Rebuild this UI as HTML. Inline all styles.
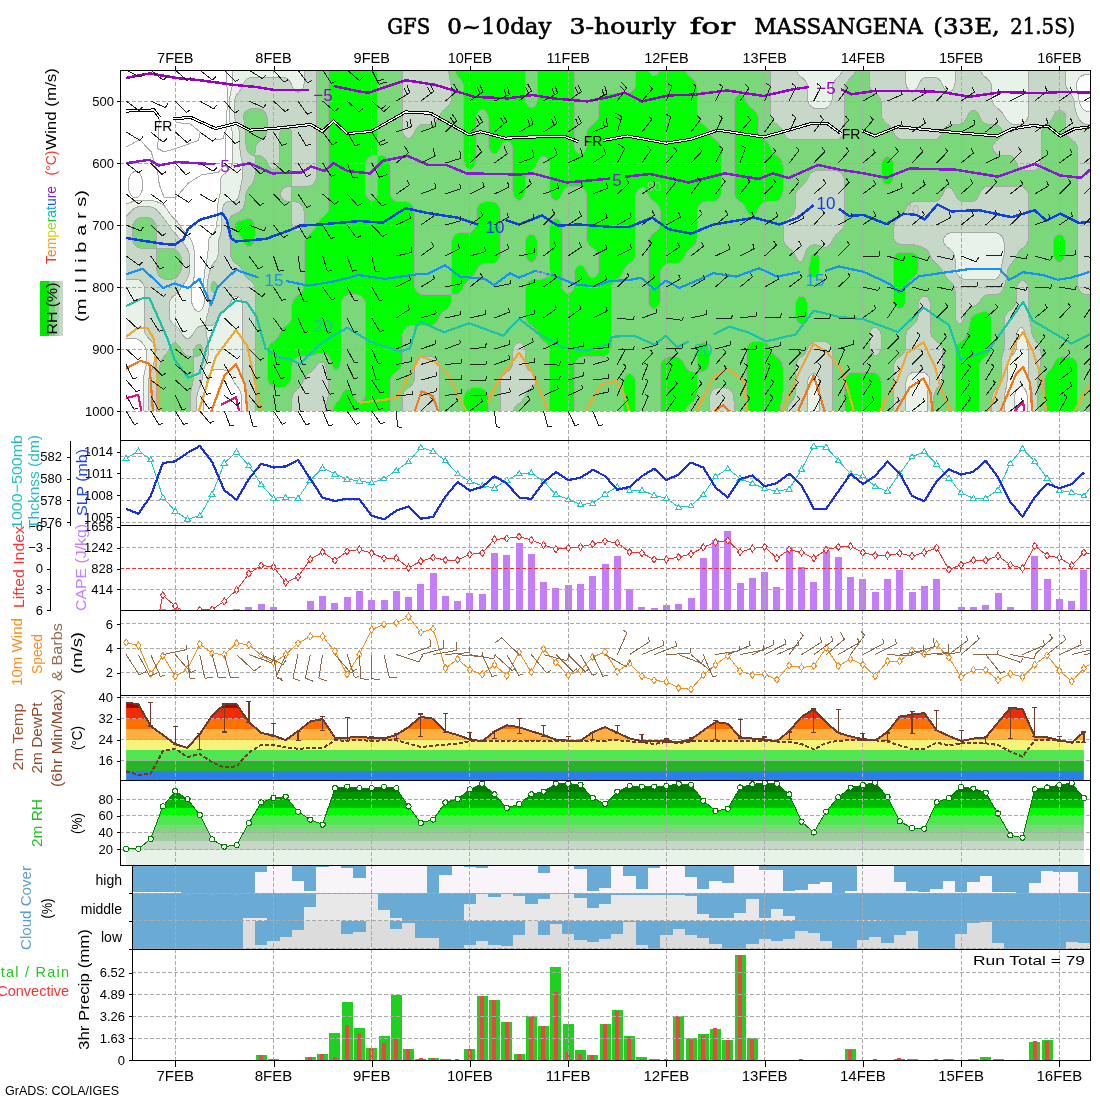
<!DOCTYPE html><html><head><meta charset="utf-8"><title>GFS meteogram MASSANGENA</title>
<style>html,body{margin:0;padding:0;background:#fff;width:1100px;height:1100px;overflow:hidden}svg{display:block}text{font-family:'Liberation Sans',Arial,sans-serif}</style></head><body>
<svg width="1100" height="1100" viewBox="0 0 1100 1100" shape-rendering="crispEdges">
<rect x="0" y="0" width="1100" height="1100" fill="#fff"/>
<defs>
<clipPath id="cp1"><rect x="120" y="70" width="970" height="370"/></clipPath>
<clipPath id="cp1f"><rect x="120" y="70" width="970" height="341"/></clipPath>
<clipPath id="cp2"><rect x="120" y="440" width="970" height="85"/></clipPath>
<clipPath id="cp3"><rect x="120" y="525" width="970" height="85"/></clipPath>
<clipPath id="cp4"><rect x="120" y="610" width="970" height="85"/></clipPath>
<clipPath id="cp5"><rect x="120" y="695" width="970" height="85"/></clipPath>
<clipPath id="cp6"><rect x="120" y="780" width="970" height="85"/></clipPath>
<clipPath id="cp7"><rect x="132" y="865" width="958" height="84"/></clipPath>
<clipPath id="cp8"><rect x="132" y="949" width="958" height="111"/></clipPath>
</defs>
<g clip-path="url(#cp1f)">
<path d="M126.1 205L126.1 207L126.1 209L126.1 211L126.1 213L126.1 215L126.1 217L126.1 219L126.1 221L126.1 223L126.1 225L126.1 227L126.1 229L126.1 231L126.1 233L126.1 235L126.1 237L126.1 239L126.1 241L126.1 243L126.1 245L126.1 247L126.1 249L126.1 251L126.1 253L126.1 255L126.1 257L126.1 259L126.1 261L126.1 263L126.1 265L126.1 267L126.1 269L126.1 271L126.1 273L126.1 275L126.1 277L126.1 279L126.1 281L126.1 283L126.1 285L126.1 287L126.1 289L126.1 291L126.1 293L126.1 295L126.1 297L126.1 299L126.1 301L126.1 303L126.1 305L126.1 307L126.1 309L126.1 311L126.1 313L126.1 315L126.1 317L126.1 319L126.1 321L126.1 323L126.1 325L126.1 327L126.1 329L126.1 331L126.1 333L126.1 335L126.1 337L126.1 338.7L128.1 338.7L130.1 338.7L132.1 338.7L134.1 338.7L136.1 338.8L137 339L138.1 339.3L140.1 340.7L140.4 341L142.1 342.8L142.3 343L143.9 345L144.1 345.3L145.2 347L146.1 349L146.1 349L146.5 351L146.6 353L146.6 355L146.6 357L146.6 359L146.5 361L146.5 363L146.2 365L146.1 365.4L145.7 367L145.2 369L144.8 371L144.4 373L144.1 374.5L144 375L143.7 377L143.5 379L143.3 381L143.3 383L143.3 385L143.3 387L143.3 389L143.3 391L143.3 393L143.3 395L143.3 397L143.3 399L143.3 401L143.3 403L143.3 405L143.3 407L143.3 409L143.3 411L144.1 411L146.1 411L148.1 411L150.1 411L152.1 411L154.1 411L156.1 411L158.1 411L160.1 411L162.1 411L164.1 411L166.1 411L168.1 411L170.1 411L172.1 411L174.1 411L176.1 411L178.1 411L180.1 411L182.1 411L184.1 411L186.1 411L188.1 411L190.1 411L192.1 411L194.1 411L196.1 411L198.1 411L200.1 411L202.1 411L203.9 411L203.9 409L203.9 407L203.9 405L203.9 403L203.9 401L203.9 399L204 397L204.1 396.1L204.2 395L204.7 393L205.2 391L205.7 389L206.1 387L206.1 386.8L206.4 385L206.7 383L207.1 381L207.5 379L208.1 377.1L208.1 377L209 375L210 373L210.1 372.9L211.7 371L212.1 370.6L214.1 369.8L216.1 369.7L218.1 369.7L220.1 369.7L222.1 369.7L224.1 370L226.1 370.6L226.7 371L228.1 372L229.1 373L230.1 374.2L230.6 375L231.6 377L232.1 378.3L232.4 379L233.3 381L234.1 382.4L234.5 383L236.1 384.9L236.2 385L237.7 387L238.1 387.6L238.9 389L239.9 391L240.1 391.4L240.7 393L241.2 395L241.4 397L241.5 399L241.5 401L241.5 403L241.5 405L241.5 407L241.5 409L241.5 411L242.1 411L244.1 411L246.1 411L248.1 411L250.1 411L252.1 411L254.1 411L256.1 411L258.1 411L260.1 411L262.1 411L264.1 411L266.1 411L268.1 411L270.1 411L272.1 411L274.1 411L276.1 411L278.1 411L280.1 411L282.1 411L284.1 411L286.1 411L288.1 411L290.1 411L292.1 411L294.1 411L296.1 411L298.1 411L300.1 411L302.1 411L304.1 411L306.1 411L308.1 411L310.1 411L312.1 411L314.1 411L316.1 411L318.1 411L320.1 411L322.1 411L324.1 411L326.1 411L328.1 411L330.1 411L332.1 411L334.1 411L336.1 411L338.1 411L340.1 411L342.1 411L344.1 411L346.1 411L348.1 411L350.1 411L352.1 411L354.1 411L356.1 411L358.1 411L360.1 411L362.1 411L364.1 411L366.1 411L368.1 411L370.1 411L372.1 411L374.1 411L376.1 411L378.1 411L380.1 411L382.1 411L384.1 411L386.1 411L388.1 411L390.1 411L392.1 411L394.1 411L396.1 411L398.1 411L400.1 411L402.1 411L404.1 411L406.1 411L408.1 411L410.1 411L412.1 411L414.1 411L416.1 411L418.1 411L420.1 411L422.1 411L424.1 411L426.1 411L428.1 411L430.1 411L432.1 411L434.1 411L436.1 411L438.1 411L440.1 411L442.1 411L444.1 411L446.1 411L448.1 411L450.1 411L452.1 411L454.1 411L456.1 411L458.1 411L460.1 411L462.1 411L464.1 411L466.1 411L468.1 411L470.1 411L472.1 411L474.1 411L476.1 411L478.1 411L480.1 411L482.1 411L484.1 411L486.1 411L488.1 411L490.1 411L492.1 411L494.1 411L496.1 411L498.1 411L500.1 411L502.1 411L504.1 411L506.1 411L508.1 411L510.1 411L512.1 411L514.1 411L516.1 411L518.1 411L520.1 411L522.1 411L524.1 411L526.1 411L528.1 411L530.1 411L532.1 411L534.1 411L536.1 411L538.1 411L540.1 411L542.1 411L544.1 411L546.1 411L548.1 411L550.1 411L552.1 411L554.1 411L556.1 411L558.1 411L560.1 411L562.1 411L564.1 411L566.1 411L568.1 411L570.1 411L572.1 411L574.1 411L576.1 411L578.1 411L580.1 411L582.1 411L584.1 411L586.1 411L588.1 411L590.1 411L592.1 411L594.1 411L596.1 411L598.1 411L600.1 411L602.1 411L604.1 411L606.1 411L608.1 411L610.1 411L612.1 411L614.1 411L616.1 411L618.1 411L620.1 411L622.1 411L624.1 411L626.1 411L628.1 411L630.1 411L632.1 411L634.1 411L636.1 411L638.1 411L640.1 411L642.1 411L644.1 411L646.1 411L648.1 411L650.1 411L652.1 411L654.1 411L656.1 411L658.1 411L660.1 411L662.1 411L664.1 411L666.1 411L668.1 411L670.1 411L672.1 411L674.1 411L676.1 411L678.1 411L680.1 411L682.1 411L684.1 411L686.1 411L688.1 411L690.1 411L692.1 411L694.1 411L696.1 411L698.1 411L700.1 411L702.1 411L704.1 411L706.1 411L708.1 411L710.1 411L712.1 411L714.1 411L716.1 411L718.1 411L720.1 411L722.1 411L724.1 411L726.1 411L728.1 411L730.1 411L732.1 411L734.1 411L736.1 411L738.1 411L740.1 411L742.1 411L744.1 411L746.1 411L748.1 411L750.1 411L752.1 411L754.1 411L756.1 411L758.1 411L760.1 411L762.1 411L764.1 411L766.1 411L768.1 411L770.1 411L772.1 411L774.1 411L776.1 411L778.1 411L780.1 411L782.1 411L784.1 411L786.1 411L788.1 411L790.1 411L792.1 411L794.1 411L796.1 411L798.1 411L800.1 411L802.1 411L804.1 411L806.1 411L808.1 411L810.1 411L812.1 411L814.1 411L816.1 411L818.1 411L820.1 411L822.1 411L824.1 411L826.1 411L828.1 411L830.1 411L832.1 411L834.1 411L836.1 411L838.1 411L840.1 411L842.1 411L844.1 411L846.1 411L848.1 411L850.1 411L852.1 411L854.1 411L856.1 411L858.1 411L860.1 411L862.1 411L864.1 411L866.1 411L868.1 411L870.1 411L872.1 411L874.1 411L876.1 411L878.1 411L880.1 411L882.1 411L884.1 411L886.1 411L888.1 411L890.1 411L892.1 411L894.1 411L896.1 411L898.1 411L900.1 411L902.1 411L904.1 411L906.1 411L908.1 411L910.1 411L912.1 411L914.1 411L916.1 411L918.1 411L920.1 411L922.1 411L924.1 411L926.1 411L928.1 411L930.1 411L932.1 411L934.1 411L936.1 411L938.1 411L940.1 411L942.1 411L944.1 411L946.1 411L948.1 411L950.1 411L952.1 411L954.1 411L956.1 411L958.1 411L960.1 411L962.1 411L964.1 411L966.1 411L968.1 411L970.1 411L972.1 411L974.1 411L976.1 411L978.1 411L980.1 411L982.1 411L984.1 411L986.1 411L988.1 411L990.1 411L992.1 411L994.1 411L996.1 411L998.1 411L1000.1 411L1002.1 411L1004.1 411L1006.1 411L1008.1 411L1010.1 411L1012.1 411L1014.1 411L1014.3 411L1014.3 409L1014.3 407L1014.3 405L1014.3 403L1014.3 401L1014.4 399L1014.4 397L1014.7 395L1015.2 393L1016 391L1016.1 390.9L1017.3 389L1018.1 388.1L1019.6 387L1020.1 386.7L1022.1 386.5L1022.7 387L1024.1 388.1L1024.7 389L1025.8 391L1026.1 391.7L1026.6 393L1027.1 395L1027.3 397L1027.4 399L1027.4 401L1027.4 403L1027.4 405L1027.4 407L1027.4 409L1027.4 411L1028.1 411L1030.1 411L1032.1 411L1034.1 411L1036.1 411L1038.1 411L1040.1 411L1042.1 411L1044.1 411L1046.1 411L1048.1 411L1050.1 411L1052.1 411L1054.1 411L1056.1 411L1058.1 411L1060.1 411L1062.1 411L1064.1 411L1066.1 411L1068.1 411L1070.1 411L1072.1 411L1074.1 411L1076.1 411L1078.1 411L1080.1 411L1082.1 411L1084.1 411L1086.1 411L1088.1 411L1090.1 411L1092.1 411L1094.1 411L1094.1 409L1094.1 407L1094.1 405L1094.1 403L1094.1 401L1094.1 399L1094.1 397L1094.1 395L1094.1 393L1094.1 391L1094.1 389L1094.1 387L1094.1 385L1094.1 383L1094.1 381L1094.1 379L1094.1 377L1094.1 375L1094.1 373L1094.1 371L1094.1 369L1094.1 367L1094.1 365L1094.1 363L1094.1 361L1094.1 359L1094.1 357L1094.1 355L1094.1 353L1094.1 351L1094.1 349L1094.1 347L1094.1 345L1094.1 343L1094.1 341L1094.1 339L1094.1 337L1094.1 335L1094.1 333L1094.1 331L1094.1 329L1094.1 327L1094.1 325L1094.1 323L1094.1 321L1094.1 319L1094.1 317L1094.1 315L1094.1 313L1094.1 311L1094.1 309L1094.1 307L1094.1 305L1094.1 303L1094.1 301L1094.1 299L1094.1 297L1094.1 295L1094.1 293L1094.1 291L1094.1 289L1094.1 287L1094.1 285L1094.1 283L1094.1 281L1094.1 279L1094.1 277L1094.1 275L1094.1 273L1094.1 271L1094.1 269L1094.1 267L1094.1 265L1094.1 263L1094.1 261L1094.1 259L1094.1 257L1094.1 255L1094.1 253L1094.1 251L1094.1 249L1094.1 247L1094.1 245L1094.1 243L1094.1 241L1094.1 239L1094.1 237L1094.1 235L1094.1 233L1094.1 231L1094.1 229L1094.1 227L1094.1 225L1094.1 223L1094.1 221L1094.1 219L1094.1 217L1094.1 215L1094.1 213L1094.1 211L1094.1 209L1094.1 207L1094.1 205L1094.1 203L1094.1 201L1094.1 199L1094.1 197L1094.1 195L1094.1 193L1094.1 191L1094.1 189L1094.1 187L1094.1 185L1094.1 183L1094.1 181L1094.1 179L1094.1 177L1094.1 175L1094.1 173L1094.1 171L1094.1 169L1094.1 167L1094.1 165L1094.1 163L1094.1 161L1094.1 159L1094.1 157L1094.1 155L1094.1 153L1094.1 151L1094.1 149L1094.1 147L1094.1 145L1094.1 143L1094.1 141L1094.1 139L1094.1 137L1094.1 135L1094.1 133L1094.1 131L1094.1 129L1094.1 127L1094.1 125L1094.1 123L1094.1 121L1094.1 119L1094.1 117L1094.1 115L1094.1 113L1094.1 111.3L1092.1 111.3L1090.1 111.3L1088.1 111.3L1086.1 111.2L1085.6 111L1084.1 110.4L1082.7 109L1082.1 108.3L1081.4 107L1080.4 105L1080.1 104.2L1079.7 103L1079.2 101L1078.8 99L1078.5 97L1078.1 95L1078.1 94.8L1077.7 93L1077.3 91L1076.8 89L1076.4 87L1076.2 85L1076.6 83L1077.3 81L1078.1 79.5L1078.4 79L1080.1 77L1080.1 77L1082.1 75.6L1083.6 75L1084.1 74.8L1086.1 74.6L1088.1 74.5L1090.1 74.5L1092.1 74.5L1094.1 74.5L1094.1 73L1094.1 71L1094.1 69L1092.1 69L1090.1 69L1088.1 69L1086.1 69L1084.1 69L1082.1 69L1080.1 69L1078.1 69L1076.1 69L1074.1 69L1072.1 69L1070.1 69L1068.1 69L1066.1 69L1064.1 69L1062.1 69L1060.1 69L1058.1 69L1056.1 69L1054.1 69L1052.1 69L1050.1 69L1048.1 69L1046.1 69L1044.1 69L1042.1 69L1040.1 69L1038.1 69L1036.1 69L1034.1 69L1032.1 69L1030.1 69L1028.1 69L1026.1 69L1024.1 69L1022.1 69L1020.1 69L1018.1 69L1016.1 69L1014.1 69L1012.1 69L1010.1 69L1008.1 69L1006.1 69L1004.1 69L1002.1 69L1000.1 69L998.1 69L996.1 69L994.1 69L992.1 69L990.1 69L988.1 69L986.1 69L984.1 69L982.1 69L980.1 69L978.1 69L976.1 69L974.1 69L972.1 69L970.1 69L968.1 69L966.1 69L964.1 69L962.1 69L960.1 69L958.1 69L956.1 69L954.1 69L952.1 69L950.1 69L948.1 69L946.1 69L944.1 69L942.1 69L940.1 69L938.1 69L936.1 69L934.1 69L932.1 69L930.1 69L928.1 69L926.1 69L924.1 69L922.1 69L920.1 69L918.1 69L916.1 69L914.1 69L912.1 69L910.1 69L908.1 69L906.1 69L904.1 69L902.1 69L900.1 69L898.1 69L896.1 69L894.1 69L892.1 69L890.1 69L888.1 69L886.1 69L884.1 69L882.1 69L880.1 69L878.1 69L876.1 69L874.1 69L872.1 69L870.1 69L868.1 69L866.1 69L864.1 69L862.1 69L860.1 69L858.1 69L856.1 69L854.1 69L852.1 69L850.1 69L848.1 69L846.1 69L844.1 69L842.1 69L840.1 69L838.1 69L836.1 69L834.1 69L832.1 69L830.1 69L828.1 69L826.1 69L824.1 69L822.1 69L820.1 69L818.1 69L816.1 69L814.1 69L812.1 69L810.1 69L808.1 69L806.1 69L804.1 69L802.1 69L800.1 69L798.1 69L796.1 69L794.1 69L792.1 69L790.1 69L788.1 69L786.1 69L784.1 69L782.1 69L780.1 69L778.1 69L776.1 69L774.1 69L772.1 69L770.1 69L768.1 69L766.1 69L764.1 69L762.1 69L760.1 69L758.1 69L756.1 69L754.1 69L752.1 69L750.1 69L748.1 69L746.1 69L744.1 69L742.1 69L740.1 69L738.1 69L736.1 69L734.1 69L732.1 69L730.1 69L728.1 69L726.1 69L724.1 69L722.1 69L720.1 69L718.1 69L716.1 69L714.1 69L712.1 69L710.1 69L708.1 69L706.1 69L704.1 69L702.1 69L700.1 69L698.1 69L696.1 69L694.1 69L692.1 69L690.1 69L688.1 69L686.1 69L684.1 69L682.1 69L680.1 69L678.1 69L676.1 69L674.1 69L672.1 69L670.1 69L668.1 69L666.1 69L664.1 69L662.1 69L660.1 69L658.1 69L656.1 69L654.1 69L652.1 69L650.1 69L648.1 69L646.1 69L644.1 69L642.1 69L640.1 69L638.1 69L636.1 69L634.1 69L632.1 69L630.1 69L628.1 69L626.1 69L624.1 69L622.1 69L620.1 69L618.1 69L616.1 69L614.1 69L612.1 69L610.1 69L608.1 69L606.1 69L604.1 69L602.1 69L600.1 69L598.1 69L596.1 69L594.1 69L592.1 69L590.1 69L588.1 69L586.1 69L584.1 69L582.1 69L580.1 69L578.1 69L576.1 69L574.1 69L572.1 69L570.1 69L568.1 69L566.1 69L564.1 69L562.1 69L560.1 69L558.1 69L556.1 69L554.1 69L552.1 69L550.1 69L548.1 69L546.1 69L544.1 69L542.1 69L540.1 69L538.1 69L536.1 69L534.1 69L532.1 69L530.1 69L528.1 69L526.1 69L524.1 69L522.1 69L520.1 69L518.1 69L516.1 69L514.1 69L512.1 69L510.1 69L508.1 69L506.1 69L504.1 69L502.1 69L500.1 69L498.1 69L496.1 69L494.1 69L492.1 69L490.1 69L488.1 69L486.1 69L484.1 69L482.1 69L480.1 69L478.1 69L476.1 69L474.1 69L472.1 69L470.1 69L468.1 69L466.1 69L464.1 69L462.1 69L460.1 69L458.1 69L456.1 69L454.1 69L452.1 69L450.1 69L448.1 69L446.1 69L444.1 69L442.1 69L440.1 69L438.1 69L436.1 69L434.1 69L432.1 69L430.1 69L428.1 69L426.1 69L424.1 69L422.1 69L420.1 69L418.1 69L416.1 69L414.1 69L412.1 69L410.1 69L408.1 69L406.1 69L404.1 69L402.1 69L400.1 69L398.1 69L396.1 69L394.1 69L392.1 69L390.1 69L388.1 69L386.1 69L384.1 69L382.1 69L380.1 69L378.1 69L376.1 69L374.1 69L372.1 69L370.1 69L368.1 69L366.1 69L364.1 69L362.1 69L360.1 69L358.1 69L356.1 69L354.1 69L352.1 69L350.1 69L348.1 69L346.1 69L344.1 69L342.1 69L340.1 69L338.1 69L336.1 69L334.1 69L332.1 69L330.1 69L328.1 69L326.1 69L324.1 69L322.1 69L320.1 69L318.1 69L316.1 69L314.1 69L312.1 69L310.1 69L308.1 69L306.1 69L304.1 69L302.1 69L300.1 69L298.1 69L296.1 69L294.1 69L292.1 69L290.1 69L288.1 69L286.1 69L284.1 69L282.1 69L280.1 69L278.1 69L276.1 69L274.1 69L272.1 69L270.1 69L268.1 69L266.1 69L264.1 69L262.1 69L260.1 69L258.1 69L256.1 69L254.1 69L252.1 69L250.1 69L248.1 69L246.1 69L244.1 69L242.1 69L240.1 69L238.1 69L236.1 69L234.1 69L232.6 69L232.6 71L232.5 73L232.5 75L232.5 77L232.5 79L232.5 81L232.5 83L232.3 85L232.1 86.2L231.9 87L231.4 89L231 91L230.5 93L230.2 95L230.1 95.3L229.8 97L229.5 99L229.3 101L229.3 103L229.2 105L229.2 107L229.2 109L229.2 111L229.2 113L229.3 115L229.4 117L229.6 119L229.9 121L230.1 122.2L230.2 123L230.6 125L231.1 127L231.6 129L232.1 131L232.1 131.3L232.4 133L232.5 135L232.5 137L232.5 139L232.5 141L232.5 143L232.5 145L232.5 147L232.5 149L232.5 151L232.5 153L232.5 155L232.5 157L232.5 159L232.5 161L232.3 163L232.1 164.1L231.9 165L231.1 167L230.1 168.8L229.9 169L228.2 171L228.1 171.1L226.1 172.5L225.4 173L224.1 173.9L222.9 175L222.1 175.9L221.4 177L220.6 179L220.3 181L220.3 183L220.3 185L220.3 187L220.3 189L220.2 191L220.1 193L220.1 193L219.8 195L219.3 197L218.8 199L218.4 201L218.1 202.3L218 203L217.6 205L217.3 207L217.1 209L217 211L217 213L217 215L217 217L217 219L217 221L216.9 223L216.8 225L216.3 227L216.1 227.6L215.6 229L214.7 231L214.1 232.1L213.5 233L212.1 234.9L212 235L210.4 237L210.1 237.4L209 239L208.3 241L208.1 242.4L208 243L208 245L208 247L208 249L208 251L207.9 253L207.8 255L207.5 257L207 259L206.5 261L206.1 262.9L206.1 263L205.7 265L205.3 267L205 269L204.7 271L204.5 273L204.3 275L204.1 276.7L204.1 277L203.9 279L203.7 281L203.5 283L203.4 285L203.3 287L203.4 289L203.5 291L203.7 293L203.9 295L204.1 297L204.1 297.3L204.3 299L204.4 301L204.3 303L204.1 303.9L203.8 305L203 307L202.1 308.9L202 309L200.2 311L200.1 311.2L198.1 311.5L196.9 311L196.1 310.5L194.6 309L194.1 308.4L193.3 307L192.4 305L192.1 303.9L191.9 303L191.6 301L191.6 299L191.6 297L191.6 295L191.6 293L191.6 291L191.6 289L191.8 287L192.1 285.8L192.3 285L192.8 283L193.3 281L193.7 279L194.1 277L194.1 276.8L194.4 275L194.7 273L194.8 271L194.9 269L194.9 267L194.9 265L194.9 263L194.9 261L194.9 259L194.8 257L194.7 255L194.5 253L194.1 251L194.1 250.7L193.8 249L193.4 247L192.9 245L192.4 243L192.1 242.2L191.7 241L190.6 239L190.1 238.2L189.2 237L188.1 235.8L187.3 235L186.1 233.8L185.3 233L184.1 231.6L183.6 231L182.1 229.1L182 229L180.6 227L180.1 226.2L179.4 225L178.1 223L178.1 223L176.5 221L176.1 220.6L174.5 219L174.1 218.6L172.6 217L172.1 216.5L170.9 215L170.1 214L169.4 213L168.1 211.1L168 211L166.8 209L166.1 207.9L165.4 207L164.1 205.5L163.5 205L162.1 204L160.2 203L160.1 203L158.1 202.2L156.1 201.5L154.1 201L154.1 201L152.1 200.6L150.1 200.3L148.1 200.2L146.1 200.2L144.1 200.2L142.1 200.2L140.1 200.2L138.1 200.4L136.1 200.7L134.9 201L134.1 201.2L132.1 201.8L130.1 202.5L128.7 203L128.1 203.3L126.1 203.9Z" fill="#e8f2e8" fill-rule="evenodd"/>
<path d="M127.6 215L126.1 216.2L126.1 217L126.1 219L126.1 221L126.1 223L126.1 225L126.1 227L126.1 229L126.1 231L126.1 233L126.1 235L126.1 237L126.1 239L126.1 241L126.1 243L126.1 245L126.1 247L126.1 249L126.1 251L126.1 253L126.1 255L126.1 257L126.1 259L126.1 261L126.1 263L126.1 265L126.1 267L126.1 269L126.1 271L126.1 273L126.1 275L126.1 277L126.1 279L126.1 279.2L128.1 279.2L130.1 279.2L132.1 279.3L134.1 279.3L136.1 279.3L138.1 279.7L140.1 280.7L140.5 281L142.1 282.7L142.4 283L143.5 285L144.1 286.6L144.2 287L144.5 289L144.5 291L144.5 293L144.5 295L144.5 297L144.5 299L144.5 301L144.5 303L144.5 305L144.5 307L144.5 309L144.5 311L144.5 313L144.5 315L144.5 317L144.5 319L144.5 321L144.5 323L144.5 325L144.5 327L144.5 329L144.6 331L145.1 333L146.1 334.8L146.2 335L147.7 337L148.1 337.5L149.4 339L150.1 339.8L151.3 341L152.1 342L153.1 343L154.1 344.2L154.7 345L155.8 347L156.1 348.4L156.2 349L156.1 350.1L156 351L155.5 353L155.1 355L154.7 357L154.4 359L154.1 361L154.1 361L153.8 363L153.4 365L152.9 367L152.2 369L152.1 369.2L151.4 371L150.6 373L150.1 374.3L149.9 375L149.2 377L148.7 379L148.4 381L148.3 383L148.3 385L148.3 387L148.3 389L148.3 391L148.3 393L148.3 395L148.3 397L148.3 399L148.3 401L148.3 403L148.3 405L148.3 407L148.3 409L148.3 411L150.1 411L152.1 411L154.1 411L156.1 411L158.1 411L160.1 411L162.1 411L164.1 411L166.1 411L168.1 411L170.1 411L172.1 411L174.1 411L176.1 411L178.1 411L180.1 411L182.1 411L184.1 411L186.1 411L188.1 411L190.1 411L192.1 411L194.1 411L196.1 411L196.7 411L196.7 409L196.7 407L196.7 405L196.7 403L196.7 401L196.7 399L196.8 397L197.1 395L197.6 393L198.1 391.5L198.3 391L199 389L199.8 387L200.1 386.4L200.6 385L201.2 383L201.8 381L202.1 379.6L202.2 379L202.5 377L202.8 375L203.1 373L203.5 371L204.1 369L204.1 368.8L204.7 367L205.6 365L206.1 363.7L206.4 363L207 361L207.5 359L207.9 357L208.1 356L208.3 355L208.6 353L208.8 351L208.9 349L208.8 347L208.6 345L208.3 343L208.1 342L207.9 341L207.5 339L207.1 337L206.6 335L206.2 333L206.1 332.1L206 331L205.9 329L205.9 327L206.1 325.7L208.1 325.7L210.1 325.6L212.1 325.2L212.4 325L214.1 324L215.2 323L216.1 321.9L216.7 321L217.7 319L218.1 318.2L218.7 317L219.7 315L220.1 314.4L221.2 313L222.1 312L223.3 311L224.1 310.4L226 309L226.1 308.9L227.9 307L228.1 306.8L229.3 305L230.1 303.3L230.3 303L231.2 301L232.1 299.3L232.3 299L234 297L234.1 296.9L236.1 296L238.1 296.3L239 297L240.1 297.9L240.9 299L242 301L242.1 301.5L242.5 303L242.7 305L242.8 307L242.8 309L242.8 311L242.8 313L242.8 315L242.8 317L242.8 319L242.8 321L242.8 323L242.8 325L242.8 327L242.8 329L242.8 331L242.8 333L242.8 335L242.8 337L242.8 339L242.8 341L242.8 343L242.8 345L242.8 347L242.8 349L242.8 351L242.8 353L242.8 355L242.8 357L242.8 359L242.8 361L242.8 363L242.8 365L242.8 367L242.8 369L242.8 371L242.8 373L242.8 375L242.8 377L243 379L243.5 381L244.1 382.8L244.2 383L244.8 385L245.3 387L245.6 389L246 391L246.1 392L246.2 393L246.4 395L246.5 397L246.5 399L246.5 401L246.5 403L246.5 405L246.5 407L246.5 409L246.5 411L248.1 411L250.1 411L252.1 411L254.1 411L256.1 411L258.1 411L260.1 411L262.1 411L264.1 411L266.1 411L268.1 411L270.1 411L272.1 411L274.1 411L276.1 411L278.1 411L280.1 411L282.1 411L284.1 411L286.1 411L288.1 411L290.1 411L292.1 411L294.1 411L296.1 411L298.1 411L300.1 411L302.1 411L304.1 411L306.1 411L308.1 411L310.1 411L312.1 411L314.1 411L316.1 411L318.1 411L320.1 411L322.1 411L324.1 411L326.1 411L328.1 411L330.1 411L332.1 411L334.1 411L336.1 411L338.1 411L340.1 411L342.1 411L344.1 411L346.1 411L348.1 411L350.1 411L352.1 411L354.1 411L356.1 411L358.1 411L360.1 411L362.1 411L364.1 411L366.1 411L368.1 411L370.1 411L372.1 411L374.1 411L376.1 411L378.1 411L380.1 411L382.1 411L384.1 411L386.1 411L388.1 411L390.1 411L392.1 411L394.1 411L396.1 411L398.1 411L400.1 411L402.1 411L404.1 411L406.1 411L408.1 411L410.1 411L412.1 411L414.1 411L416.1 411L418.1 411L420.1 411L422.1 411L424.1 411L426.1 411L428.1 411L430.1 411L432.1 411L434.1 411L436.1 411L438.1 411L440.1 411L442.1 411L444.1 411L446.1 411L448.1 411L450.1 411L452.1 411L454.1 411L456.1 411L458.1 411L460.1 411L462.1 411L464.1 411L466.1 411L468.1 411L470.1 411L472.1 411L474.1 411L476.1 411L478.1 411L480.1 411L482.1 411L484.1 411L486.1 411L488.1 411L490.1 411L492.1 411L494.1 411L496.1 411L498.1 411L500.1 411L502.1 411L504.1 411L506.1 411L508.1 411L510.1 411L512.1 411L514.1 411L516.1 411L518.1 411L520.1 411L522.1 411L524.1 411L526.1 411L528.1 411L530.1 411L532.1 411L534.1 411L536.1 411L538.1 411L540.1 411L542.1 411L544.1 411L546.1 411L548.1 411L550.1 411L552.1 411L554.1 411L556.1 411L558.1 411L560.1 411L562.1 411L564.1 411L566.1 411L568.1 411L570.1 411L572.1 411L574.1 411L576.1 411L578.1 411L580.1 411L582.1 411L584.1 411L586.1 411L588.1 411L590.1 411L592.1 411L594.1 411L596.1 411L598.1 411L600.1 411L602.1 411L604.1 411L606.1 411L608.1 411L610.1 411L612.1 411L614.1 411L616.1 411L618.1 411L620.1 411L622.1 411L624.1 411L626.1 411L628.1 411L630.1 411L632.1 411L634.1 411L636.1 411L638.1 411L640.1 411L642.1 411L644.1 411L646.1 411L648.1 411L650.1 411L652.1 411L654.1 411L656.1 411L658.1 411L660.1 411L662.1 411L664.1 411L666.1 411L668.1 411L670.1 411L672.1 411L674.1 411L676.1 411L678.1 411L680.1 411L682.1 411L684.1 411L686.1 411L688.1 411L690.1 411L692.1 411L694.1 411L696.1 411L698.1 411L700.1 411L702.1 411L704.1 411L706.1 411L708.1 411L710.1 411L712.1 411L714.1 411L716.1 411L718.1 411L720.1 411L722.1 411L724.1 411L726.1 411L728.1 411L730.1 411L732.1 411L734.1 411L736.1 411L738.1 411L740.1 411L742.1 411L744.1 411L746.1 411L748.1 411L750.1 411L752.1 411L754.1 411L756.1 411L758.1 411L760.1 411L762.1 411L764.1 411L766.1 411L768.1 411L770.1 411L772.1 411L774.1 411L776.1 411L778.1 411L780.1 411L782.1 411L784.1 411L786.1 411L788.1 411L790.1 411L792.1 411L794.1 411L796.1 411L798.1 411L800.1 411L802.1 411L804.1 411L806.1 411L807.6 411L807.6 409L807.6 407L807.6 405L807.6 403L807.6 401L807.6 399L807.6 397L807.6 395L807.6 393L807.6 391L807.6 389L807.6 387L807.6 385L807.7 383L807.8 381L808.1 379.7L808.3 379L809.2 377L810.1 375.7L810.8 375L812.1 373.9L814.1 373.4L816.1 374.3L816.9 375L818.1 376.5L818.4 377L819.3 379L819.7 381L819.9 383L819.9 385L819.9 387L819.9 389L819.9 391L819.9 393L819.9 395L819.9 397L819.9 399L819.9 401L819.9 403L819.9 405L819.9 407L819.9 409L819.9 411L820.1 411L822.1 411L824.1 411L826.1 411L828.1 411L830.1 411L832.1 411L834.1 411L836.1 411L838.1 411L840.1 411L842.1 411L844.1 411L846.1 411L848.1 411L850.1 411L852.1 411L854.1 411L856.1 411L858.1 411L860.1 411L862.1 411L864.1 411L866.1 411L868.1 411L870.1 411L872.1 411L874.1 411L876.1 411L878.1 411L880.1 411L882.1 411L884.1 411L886.1 411L888.1 411L890.1 411L892.1 411L894.1 411L896.1 411L898.1 411L900.1 411L902.1 411L904.1 411L905.9 411L905.9 409L905.9 407L905.9 405L905.9 403L905.9 401L905.9 399L905.9 397L905.9 395L905.9 393L905.9 391L905.9 389L905.9 387L905.9 385L905.9 383L906.1 381L906.1 380.8L906.5 379L907.4 377L908.1 375.9L908.9 375L910.1 373.8L911.5 373L912.1 372.7L914.1 372.3L916.1 372.3L918.1 372.3L920.1 372.3L922.1 372.3L924.1 372.7L924.7 373L926.1 373.7L927.4 375L928.1 375.8L928.9 377L929.6 379L929.7 381L929.4 383L928.9 385L928.5 387L928.2 389L928.1 389.4L927.9 391L927.6 393L927.4 395L927.3 397L927.3 399L927.3 401L927.3 403L927.3 405L927.3 407L927.3 409L927.3 411L928.1 411L930.1 411L932.1 411L934.1 411L936.1 411L938.1 411L940.1 411L942.1 411L944.1 411L946.1 411L948.1 411L950.1 411L952.1 411L954.1 411L956.1 411L958.1 411L960.1 411L962.1 411L964.1 411L966.1 411L968.1 411L970.1 411L972.1 411L974.1 411L976.1 411L978.1 411L980.1 411L982.1 411L984.1 411L986.1 411L988.1 411L990.1 411L992.1 411L994.1 411L996.1 411L998.1 411L1000.1 411L1002.1 411L1004.1 411L1004.1 411L1004.1 409L1004.1 407L1004.1 405L1004.1 403L1004.1 401L1004.1 399L1004.2 397L1004.5 395L1005 393L1005.5 391L1005.9 389L1006.1 388.1L1006.3 387L1006.6 385L1006.9 383L1007.1 381L1007.2 379L1007.3 377L1007.3 375L1007.3 373L1007.3 371L1007.3 369L1007.3 367L1007.4 365L1007.8 363L1008.1 362.2L1008.6 361L1009.6 359L1010.1 358.1L1011 357L1012.1 355.6L1012.7 355L1014.1 353.2L1014.3 353L1015.4 351L1016.1 349L1016.1 349L1016.4 347L1016.4 345L1016.4 343L1016.4 341L1016.4 339L1016.4 337L1016.5 335L1016.9 333L1017.7 331L1018.1 330.2L1019.1 329L1020.1 328L1022.1 327.8L1023.2 329L1024.1 330.1L1024.5 331L1025.1 333L1025.6 335L1025.9 337L1026.1 338.2L1026.2 339L1026.5 341L1026.9 343L1027.4 345L1027.9 347L1028.1 347.7L1028.4 349L1028.6 351L1028.7 353L1028.7 355L1028.7 357L1028.7 359L1028.7 361L1028.7 363L1028.7 365L1028.7 367L1028.7 369L1028.7 371L1028.7 373L1028.7 375L1028.7 377L1028.9 379L1029.4 381L1030.1 383L1030.1 383.1L1030.7 385L1031.2 387L1031.5 389L1031.8 391L1032.1 393L1032.1 393L1032.3 395L1032.4 397L1032.4 399L1032.4 401L1032.4 403L1032.4 405L1032.4 407L1032.4 409L1032.4 411L1034.1 411L1036.1 411L1038.1 411L1040.1 411L1042.1 411L1044.1 411L1046.1 411L1048.1 411L1050.1 411L1052.1 411L1054.1 411L1056.1 411L1058.1 411L1060.1 411L1062.1 411L1064.1 411L1066.1 411L1068.1 411L1070.1 411L1072.1 411L1074.1 411L1076.1 411L1078.1 411L1080.1 411L1082.1 411L1084.1 411L1086.1 411L1088.1 411L1090.1 411L1092.1 411L1094.1 411L1094.1 409L1094.1 407L1094.1 405L1094.1 403L1094.1 401L1094.1 399L1094.1 397L1094.1 395L1094.1 393L1094.1 391L1094.1 389L1094.1 387L1094.1 385L1094.1 383L1094.1 381L1094.1 379L1094.1 377L1094.1 375L1094.1 373L1094.1 371L1094.1 369L1094.1 367L1094.1 365L1094.1 363L1094.1 361L1094.1 359L1094.1 357L1094.1 355L1094.1 353L1094.1 351L1094.1 349L1094.1 347L1094.1 345L1094.1 343L1094.1 341L1094.1 339L1094.1 337L1094.1 335L1094.1 333L1094.1 331L1094.1 329L1094.1 327L1094.1 325L1094.1 323L1094.1 321L1094.1 319L1094.1 317L1094.1 315L1094.1 313L1094.1 311L1094.1 309L1094.1 307L1094.1 305L1094.1 303L1094.1 301L1094.1 299L1094.1 297L1094.1 295L1094.1 293L1094.1 291L1094.1 289L1094.1 287L1094.1 285L1094.1 283L1094.1 281L1094.1 279L1094.1 277L1094.1 275L1094.1 273L1094.1 271L1094.1 269L1094.1 267L1094.1 265L1094.1 263L1094.1 261L1094.1 259L1094.1 257L1094.1 255L1094.1 253L1094.1 251L1094.1 249L1094.1 247L1094.1 245L1094.1 243L1094.1 241L1094.1 239L1094.1 237L1094.1 235L1094.1 233L1094.1 231L1094.1 229L1094.1 227L1094.1 225L1094.1 223L1094.1 221L1094.1 219L1094.1 217L1094.1 215L1094.1 213L1094.1 211L1094.1 209L1094.1 207L1094.1 205L1094.1 203L1094.1 201L1094.1 199L1094.1 197L1094.1 195L1094.1 193L1094.1 191L1094.1 189L1094.1 187L1094.1 185L1094.1 183L1094.1 181L1094.1 179L1094.1 177L1094.1 175L1094.1 173L1094.1 171L1094.1 169L1094.1 167L1094.1 165L1094.1 163L1094.1 161L1094.1 159L1094.1 157L1094.1 155L1094.1 153L1094.1 151L1094.1 149L1094.1 147L1094.1 145L1094.1 143L1094.1 141L1094.1 139L1094.1 137L1094.1 135L1094.1 133L1094.1 131L1094.1 129L1094.1 127L1094.1 125L1094.1 124.3L1092.1 124.3L1090.1 124.2L1088.1 124.2L1086.1 124.2L1084.1 123.8L1082.6 123L1082.1 122.7L1080.3 121L1080.1 120.7L1079 119L1078.1 117.5L1077.9 117L1077 115L1076.2 113L1076.1 112.6L1075.7 111L1075.2 109L1074.8 107L1074.5 105L1074.2 103L1074.1 102.3L1073.8 101L1073.3 99L1072.6 97L1072.1 95.8L1071.6 95L1070.3 93L1070.1 92.7L1068.7 91L1068.1 90.1L1067.3 89L1066.3 87L1066.1 86.3L1065.8 85L1065.6 83L1065.5 81L1065.5 79L1065.5 77L1065.5 75L1065.5 73L1065.5 71L1065.5 69L1064.1 69L1062.1 69L1060.1 69L1058.1 69L1056.1 69L1054.1 69L1052.1 69L1050.1 69L1048.1 69L1046.1 69L1044.1 69L1042.1 69L1040.1 69L1038.1 69L1036.1 69L1034.1 69L1032.1 69L1030.1 69L1028.7 69L1028.7 71L1028.7 73L1028.7 75L1028.7 77L1028.7 79L1028.7 81L1028.7 83L1028.7 85L1028.7 87L1028.7 89L1028.7 91L1028.7 93L1028.7 95L1028.7 97L1028.7 99L1028.7 101L1028.7 103L1028.7 105L1028.7 107L1028.7 109L1028.7 111L1028.7 113L1028.6 115L1028.2 117L1028.1 117.3L1027.4 119L1026.1 121L1026.1 121L1024.1 122.9L1023.9 123L1022.1 123.9L1020.1 124.2L1018.1 124.2L1016.1 124.2L1014.1 124.2L1012.1 124L1010.1 123.2L1009.9 123L1008.1 121.4L1007.8 121L1006.2 119L1006.1 118.9L1004.8 117L1004.1 115.8L1003.6 115L1002.3 113L1002.1 112.7L1000.7 111L1000.1 110.4L998.3 109L998.1 108.8L996.1 107.3L995.8 107L994.1 105.1L994 105L992.8 103L992.1 101L992.1 100.7L991.9 99L991.8 97L991.8 95L991.8 93L991.8 91L991.8 89L991.7 87L991.4 85L990.7 83L990.1 81.9L989.5 81L988.1 79.3L987.8 79L986.1 77.6L985.4 77L984.1 76L983.1 75L982.1 73.8L981.5 73L980.5 71L980.1 69.7L979.9 69L978.1 69L976.1 69L974.1 69L972.1 69L970.1 69L968.1 69L966.1 69L964.1 69L962.1 69L960.1 69L958.1 69L956.1 69L955 69L955 71L955 73L955 75L955 77L955 79L955 81L955 83L954.8 85L954.2 87L954.1 87.2L953.1 89L952.1 90.3L951.3 91L950.1 91.8L948.1 92L946.4 91L946.1 90.8L944.6 89L944.1 88.3L943.4 87L942.5 85L942.1 84L941.6 83L940.4 81L940.1 80.6L938.5 79L938.1 78.7L936.1 77.7L934.1 77.3L932.1 77.3L930.1 77.3L928.1 77.3L926.1 77.4L924.1 77.9L922.3 79L922.1 79.2L920.5 81L920.1 81.6L919.3 83L918.4 85L918.1 85.6L917.5 87L916.3 89L916.1 89.4L914.6 91L914.1 91.4L912.1 92.2L910.1 91.5L909.5 91L908.1 89.5L907.7 89L906.7 87L906.1 85L906.1 84.8L905.9 83L905.9 81L905.9 79L905.9 77L905.9 75L905.9 73L905.9 71L905.9 69L904.1 69L902.1 69L900.1 69L898.1 69L896.1 69L894.1 69L892.1 69L890.1 69L888.1 69L886.1 69L884.1 69L882.1 69L880.1 69L878.1 69L876.1 69L874.1 69L872.1 69L870.1 69L868.1 69L866.1 69L864.1 69L862.1 69L860.1 69L858.1 69L856.1 69L854.1 69L852.1 69L850.1 69L848.1 69L846.1 69L844.1 69L843.8 69L842.9 71L842.1 72.1L841.4 73L840.1 74.7L839.8 75L838.1 76.9L838 77L836.1 79L836.1 79L834.5 81L834.1 81.6L833.3 83L832.6 85L832.3 87L832.2 89L832.2 91L832.2 93L832.2 95L832.2 97L832.1 99L832.1 99.4L831.9 101L831.2 103L830.1 104.9L830 105L828.2 107L828.1 107.1L826.1 108.2L824.1 108.7L822.1 108.7L820.1 108.7L818.1 108.7L816.1 108.7L814.1 108.3L812.1 107.3L811.7 107L810.1 105.4L809.8 105L808.6 103L808.1 101.5L807.9 101L807.7 99L807.6 97L807.6 95L807.6 93L807.6 91L807.6 89L807.5 87L807.2 85L806.5 83L806.1 82.3L805.3 81L804.1 79.5L803.6 79L802.1 77.7L801.2 77L800.1 76.1L798.9 75L798.1 74.1L797.4 73L796.3 71L796.1 70.4L795.7 69L794.1 69L792.1 69L790.1 69L788.1 69L786.1 69L784.1 69L782.1 69L780.1 69L778.1 69L776.1 69L774.1 69L772.1 69L770.1 69L768.1 69L766.1 69L764.1 69L762.1 69L760.1 69L758.1 69L756.1 69L754.1 69L752.1 69L750.1 69L748.1 69L746.1 69L744.1 69L742.1 69L740.1 69L738.1 69L736.1 69L734.1 69L732.1 69L730.1 69L728.1 69L726.1 69L724.1 69L722.1 69L720.1 69L718.1 69L716.1 69L714.1 69L712.1 69L710.1 69L708.1 69L706.1 69L704.1 69L702.1 69L700.1 69L698.1 69L696.1 69L694.1 69L692.1 69L690.1 69L688.1 69L686.1 69L684.1 69L682.1 69L680.1 69L678.1 69L676.1 69L674.1 69L672.1 69L670.1 69L668.1 69L666.1 69L664.1 69L662.1 69L660.1 69L658.1 69L656.1 69L654.1 69L652.1 69L650.1 69L648.1 69L646.1 69L644.1 69L642.1 69L640.1 69L638.1 69L636.1 69L634.1 69L632.1 69L630.1 69L628.1 69L626.1 69L624.1 69L622.1 69L620.1 69L618.1 69L616.1 69L614.1 69L612.1 69L610.1 69L608.1 69L606.1 69L604.1 69L602.1 69L600.1 69L598.1 69L596.1 69L594.1 69L592.1 69L590.1 69L588.1 69L586.1 69L584.1 69L582.1 69L580.1 69L578.1 69L576.1 69L574.1 69L572.1 69L570.1 69L568.1 69L566.1 69L564.1 69L562.1 69L560.1 69L558.1 69L556.1 69L554.1 69L552.1 69L550.1 69L548.1 69L546.1 69L544.1 69L542.1 69L540.1 69L538.1 69L536.1 69L534.1 69L532.1 69L530.1 69L528.1 69L526.1 69L524.1 69L522.1 69L520.1 69L518.1 69L516.1 69L514.1 69L512.1 69L510.1 69L508.1 69L506.1 69L504.1 69L502.1 69L500.1 69L498.1 69L496.1 69L494.1 69L492.1 69L490.1 69L488.1 69L486.1 69L484.1 69L482.1 69L480.1 69L478.1 69L476.1 69L474.1 69L472.1 69L470.1 69L468.1 69L466.1 69L464.1 69L462.1 69L460.1 69L458.1 69L456.1 69L454.1 69L452.1 69L450.1 69L448.1 69L446.1 69L444.1 69L442.1 69L440.1 69L438.1 69L436.1 69L434.1 69L432.1 69L430.1 69L428.1 69L426.1 69L424.1 69L422.1 69L420.1 69L418.1 69L416.1 69L414.1 69L412.1 69L410.1 69L408.1 69L406.1 69L404.1 69L402.1 69L400.1 69L398.1 69L396.1 69L394.1 69L392.1 69L390.1 69L388.1 69L386.1 69L384.1 69L382.1 69L380.1 69L378.1 69L376.1 69L374.1 69L372.1 69L370.1 69L368.1 69L366.1 69L364.1 69L362.1 69L360.1 69L358.1 69L356.1 69L354.1 69L352.1 69L350.1 69L348.1 69L346.1 69L344.1 69L342.1 69L340.1 69L338.1 69L336.1 69L334.1 69L332.1 69L330.1 69L328.1 69L326.1 69L324.1 69L322.1 69L320.1 69L318.1 69L316.1 69L314.1 69L312.1 69L310.1 69L308.1 69L306.1 69L304.2 69L304.2 71L304.2 73L304.2 75L304.2 77L304.2 79L304.2 81L304.1 83L304.1 83.2L303.9 85L303.4 87L302.3 89L302.1 89.3L300.6 91L300.1 91.4L298.1 92.2L296.1 91.5L295.5 91L294.1 89.6L293.7 89L292.6 87L292.1 85.9L291.7 85L290.8 83L290.1 81.8L289.5 81L288.1 79.3L287.7 79L286.1 78L284.1 77.4L282.1 77.3L280.1 77.3L278.1 77.3L276.1 77.3L274.1 77.3L272.1 77.3L270.1 77.3L268.1 77.3L266.1 77.3L264.1 77.3L262.1 77.3L260.1 77.3L258.1 77.3L256.1 77.3L254.1 77.3L252.1 77.3L250.1 77.5L248.1 78.2L247 79L246.1 79.8L245.1 81L244.1 82.6L243.9 83L243 85L242.1 86.9L242.1 87L241 89L240.1 90.3L239.6 91L238.1 92.8L238 93L236.7 95L236.1 96L235.7 97L235 99L234.5 101L234.3 103L234.3 105L234.3 107L234.3 109L234.3 111L234.3 113L234.3 115L234.6 117L235 119L235.7 121L236.1 122.3L236.4 123L237.2 125L237.9 127L238.1 127.4L238.7 129L239.2 131L239.5 133L239.6 135L239.7 137L239.7 139L239.7 141L239.7 143L239.7 145L239.7 147L239.9 149L240.1 151L240.1 151.2L240.3 153L240.7 155L241 157L241.5 159L242 161L242.1 161.4L242.5 163L242.7 165L242.8 167L242.8 169L242.8 171L242.8 173L242.7 175L242.7 177L242.4 179L242.1 180L241.9 181L241.4 183L240.9 185L240.6 187L240.2 189L240.1 190L239.9 191L239.6 193L239.1 195L238.4 197L238.1 197.8L237.3 199L236.1 200.6L235.3 201L234.1 201.6L232.1 201.7L230.1 201.8L228.1 201.8L226.1 202.3L225.3 203L224.1 204.2L223.7 205L222.9 207L222.3 209L222.1 210.6L222.1 211L222 213L222 215L221.9 217L221.9 219L221.9 221L221.9 223L221.8 225L221.7 227L221.4 229L221.2 231L220.8 233L220.3 235L220.1 235.9L219.8 237L219.1 239L218.5 241L218.3 243L218.2 245L218.2 247L218.2 249L218.2 251L218.2 253L218.1 254L218 255L217.6 257L216.7 259L216.1 259.9L215.4 261L214.1 262.5L213.7 263L212.3 265L212.1 265.3L211.4 267L210.5 269L210.1 270.1L209.9 271L209.3 273L208.9 275L208.4 277L208.1 278.6L208 279L207.7 281L207.4 283L207.1 285L207 287L207.1 289L207.4 291L207.7 293L208 295L208.1 295.4L208.4 297L208.8 299L209.2 301L209.4 303L209.4 305L209.2 307L208.9 309L208.4 311L208.1 312.4L207.9 313L207.3 315L206.7 317L206.2 319L206.1 320.2L206 321L205.9 323L205.9 325L204.1 325.8L202.1 325.9L200.1 326.3L198.6 327L198.1 327.2L196.2 329L196.1 329.1L194.8 331L194.1 332.1L193.6 333L192.3 335L192.1 335.3L190.7 337L190.1 337.7L188.3 339L188.1 339.1L187.6 339L186.1 338.7L184.3 337L184.1 336.8L182.7 335L182.1 334.1L181.4 333L180.2 331L180.1 330.8L178.8 329L178.1 328.2L176.8 327L176.1 326.4L174.2 325L174.1 324.9L172.1 323.1L172 323L170.6 321L170.1 319.9L169.7 319L169.3 317L169.1 315L169.1 313L169.1 311L169.1 309L169.1 307L169.1 305L169.3 303L169.9 301L170.1 300.5L170.9 299L172.1 297.4L172.5 297L174.1 295.6L174.9 295L176.1 294.1L177.4 293L178.1 292.3L179.2 291L180.1 289.7L180.5 289L181.7 287L182.1 286.4L183 285L184.1 283.5L184.5 283L185.9 281L186.1 280.7L187 279L188 277L188.1 276.8L188.7 275L189.3 273L189.7 271L189.8 269L189.9 267L189.9 265L189.9 263L189.9 261L189.8 259L189.7 257L189.4 255L188.9 253L188.2 251L188.1 250.7L187.3 249L186.2 247L186.1 246.8L184.8 245L184.1 244L183.3 243L182.1 241.6L181.6 241L180.1 239.2L179.9 239L178.2 237L178.1 236.9L176.5 235L176.1 234.5L174.6 233L174.1 232.4L172.8 231L172.1 230.2L171.2 229L170.1 227.3L169.9 227L168.6 225L168.1 224.3L167.1 223L166.1 221.7L165.5 221L164.1 219.1L164 219L162.6 217L162.1 216.4L161.1 215L160.1 213.7L159.5 213L158.1 211.4L157.8 211L156.1 209.5L155.4 209L154.1 208.2L152.1 207.2L151.3 207L150.1 206.7L148.1 206.5L146.1 206.4L144.1 206.4L142.1 206.5L140.1 206.5L138.1 206.8L137.6 207L136.1 207.6L134.1 208.7L133.6 209L132.1 210.2L131.2 211L130.1 212.3L129.4 213L128.1 214.6ZM944.1 238L944.6 237L946.1 235.1L946.2 235L948.1 233.6L950 233L950.1 233L952.1 232.8L954.1 232.8L956.1 232.8L958.1 232.8L960.1 232.8L962.1 232.8L964.1 232.8L966.1 232.8L968.1 232.8L970.1 232.8L972.1 232.8L974.1 232.8L976.1 232.8L978.1 232.8L980.1 232.8L982.1 232.8L984.1 232.8L986.1 232.8L988.1 232.8L990.1 232.8L992.1 232.8L994.1 232.8L996.1 232.9L996.8 233L998.1 233.3L1000.1 234.5L1000.7 235L1002.1 236.7L1002.3 237L1003.3 239L1003.9 241L1004.1 243L1004.1 244L1004.1 245L1004.1 247L1004.1 249L1004.1 251L1004.1 252.4L1004.1 253L1004 255L1003.6 257L1003.1 259L1002.6 261L1002.2 263L1002.1 263.5L1001.8 265L1001.5 267L1001.2 269L1000.9 271L1000.4 273L1000.1 273.9L999.6 275L998.5 277L998.1 277.6L996.1 278.9L995.7 279L994.1 279.2L992.1 279.2L990.1 279.2L988.1 279.2L986.1 279.2L984.1 279.2L982.1 279.2L980.1 279.2L978.1 279.2L976.1 279.2L974.1 279.2L972.1 279.2L970.1 279.2L968.1 279.2L966.1 279.2L964.1 279.2L963.4 279L962.1 278.7L960.1 277.4L959.7 277L958.1 275.3L957.9 275L956.4 273L956.1 272.3L955.5 271L955.1 269L955 267L955 265L955 263L955 261L955 259L954.8 257L954.4 255L954.1 254.3L953.5 253L952.1 251.1L952 251L950.1 249.2L949.9 249L948.1 247.7L947.2 247L946.1 246L945.3 245L944.1 243.2L944 243L943.5 241L943.7 239Z" fill="#c8d8c8" fill-rule="evenodd"/>
<path d="M133.9 223L132.8 225L132.3 227L132.2 229L132.2 231L132.2 233L132.2 235L132.3 237L132.4 239L132.7 241L133.5 243L134.1 244L134.8 245L136.1 246.4L137 247L138.1 247.6L140.1 248.1L142.1 248.2L144.1 248.2L146.1 248.2L148.1 248.3L150.1 248.3L152.1 248.3L154.1 248.3L156.1 248.3L156.8 247L156.8 245L156.8 243L156.8 241L156.8 239L156.8 237L156.8 235L156.8 233L156.8 231L156.8 229L156.7 227L156.2 225L156.1 224.8L155.1 223L154.1 221.7L153.5 221L152.1 219.4L151.5 219L150.1 218L148.1 217.4L146.1 217.3L144.1 217.3L142.1 217.3L140.1 217.5L138.1 218.4L137.5 219L136.1 220.3L135.5 221L134.1 222.8ZM156.8 249L156.8 251L156.8 253L156.8 255L156.8 257L156.8 259L156.8 261L156.8 263L156.8 265L156.8 267L156.8 269L157 271L157.6 273L158.1 274L158.6 275L160.1 276.8L160.3 277L162.1 278.3L164.1 279L164.1 279L166.1 279.2L168.1 279.2L170.1 279.2L172.1 279.2L172.9 279L174.1 278.8L176.1 277.6L176.6 277L178.1 275.5L178.5 275L179.9 273L180.1 272.7L180.9 271L181.3 269L181.3 267L181.4 265L181.4 263L181.4 261L181.3 259L181 257L180.2 255L180.1 254.8L178.9 253L178.1 252L177.1 251L176.1 249.9L174.5 249L174.1 248.7L172.1 248.3L170.1 248.3L168.1 248.3L166.1 248.3L164.1 248.3L162.1 248.3L160.1 248.3L158.1 248.3ZM157.8 377L157.3 379L157 381L156.8 383L156.8 385L156.8 387L156.8 389L156.8 391L156.8 393L156.8 395L156.8 397L156.8 399L156.8 401L156.8 403L156.8 405L156.8 407L156.8 409L156.8 411L158.1 411L160.1 411L162.1 411L164.1 411L166.1 411L168.1 411L170.1 411L172.1 411L174.1 411L176.1 411L178.1 411L180.1 411L182.1 411L184.1 411L186.1 411L188.1 411L190.1 411L190.5 411L190.5 409L190.5 407L190.5 405L190.5 403L190.5 401L190.5 399L190.5 397L190.6 395L190.8 393L191 391L191.3 389L191.7 387L192.1 385.2L192.1 385L192.6 383L193.1 381L193.5 379L193.6 377L193.6 375L193.6 373L193.6 371L193.6 369L193.6 367L193.6 365L193.6 363L193.6 361L193.6 359L193.6 357L192.1 356.7L190.1 356.6L188.1 356.3L186.1 355.4L185.6 355L184.1 353.7L183.5 353L182.2 351L182.1 350.8L181.1 349L180.1 347.6L179.7 347L178.1 345.1L178 345L176.1 343.3L174.5 343L174.1 342.9L173.9 343L172.1 344.1L171.3 345L170.1 346.8L170 347L169.1 349L168.2 351L168.1 351.1L167 353L166.1 354.1L165.4 355L164.1 356.4L163.7 357L162.3 359L162.1 359.3L161.3 361L160.6 363L160.1 364.6L160 365L159.7 367L159.4 369L159.1 371L158.7 373L158.3 375L158.1 375.9ZM193.8 351L193.7 353L193.6 355L194.1 356.7L196.1 356.6L198.1 356.1L199.4 355L200.1 354.5L201 353L201.9 351L202.1 350.1L202.2 349L202.1 348L201.9 347L200.8 345L200.1 344.1L198.1 344.1L197.2 345L196.1 346.1L195.4 347L194.3 349L194.1 349.8ZM212.1 283L211.5 285L211.2 287L211.5 289L212.1 291L212.1 291.1L214.1 292.5L216 291L216.1 290.8L217.1 289L217.6 287L217.1 285L216.1 283.2L216 283L214.1 281.5L212.1 282.9ZM227.9 223L227.7 225L227.7 227L227.9 229L228.1 230.7L228.2 231L228.5 233L228.9 235L229.3 237L229.8 239L230.1 240.3L230.3 241L230.4 243L230.5 245L230.5 247L230.5 249L230.5 251L230.5 253L230.7 255L231.1 257L232 259L232.1 259.2L233.4 261L234.1 261.7L235.6 263L236.1 263.4L238.1 264.9L238.3 265L240.1 266.8L240.2 267L241.6 269L242.1 270.1L242.5 271L243.4 273L244.1 274.2L244.6 275L246.1 276.9L246.2 277L248.1 278.7L248.6 279L250.1 280.1L251.1 281L252.1 282L252.9 283L254.1 285L254.1 285.1L254.7 287L255 289L255 291L255 293L255 295L255 297L255 299L255 301L255 303L255 305L255 307L255 309L255 311L255 313L255 315L255 317L255 319L255 321L255 323L255 325L255 327L255 329L255 331L255 333L255 335L255 337L255 339L255 341L255 343L255 345L255 347L255 349L255 351L255 353L255 355L255 357L255 359L255 361L255 363L255 365L255 367L255 369L255 371L255 373L255 375L255 377L255 379L255 381L255 383L255 385L255 387L255 389L255 391L255 393L255 395L255 397L255 399L255 401L255 403L255 405L255 407L255 409L255 411L256.1 411L258.1 411L260.1 411L262.1 411L264.1 411L266.1 411L268.1 411L270.1 411L272.1 411L274.1 411L276.1 411L278.1 411L280.1 411L282.1 411L284.1 411L286.1 411L288.1 411L290.1 411L291.9 411L291.9 409L291.9 407L291.9 405L291.9 403L291.9 401L291.9 399L292.1 397L292.1 397L292.7 395L293.9 393L294.1 392.8L295.5 391L296.1 390.3L297.3 389L298.1 388.2L299.4 387L300.1 386.2L301.3 385L302.1 383.9L302.7 383L303.7 381L304.1 380.1L304.6 379L305.7 377L306.1 376.3L307.1 375L308.1 374L309.3 373L310.1 372.4L311.9 371L312.1 370.9L313.9 369L314.1 368.8L315.3 367L316.1 365.9L316.7 365L318.1 363.7L318.9 363L320.1 362.3L322.1 361.9L324 363L324.1 363.1L325.2 365L325.8 367L326.1 368.9L326.1 369L326.4 371L326.8 373L327.2 375L327.7 377L328.1 378.6L328.2 379L328.6 381L328.7 383L328.7 385L328.7 387L328.7 389L328.7 391L328.7 393L328.5 395L328.1 397L328.1 397L327.6 399L327.1 401L326.7 403L326.4 405L326.1 407L326.1 407.1L325.9 409L325.7 411L326.1 411L328.1 411L330.1 411L332.1 411L334.1 411L336.1 411L338.1 411L340.1 411L342.1 411L344.1 411L346.1 411L348.1 411L350.1 411L352.1 411L354.1 411L356.1 411L358.1 411L360.1 411L362.1 411L364.1 411L366.1 411L368.1 411L370.1 411L372.1 411L374.1 411L376.1 411L378.1 411L380.1 411L382.1 411L384.1 411L386.1 411L388.1 411L390.1 411L392.1 411L394.1 411L396.1 411L398.1 411L400.1 411L402.1 411L402.4 411L402.4 409L402.4 407L402.4 405L402.4 403L402.4 401L402.4 399L402.5 397L402.9 395L403.6 393L404.1 392.2L404.9 391L406.1 389.7L406.9 389L408.1 388.1L409.5 387L410.1 386.6L411.7 385L412.1 384.5L413.2 383L414.1 381L414.1 380.8L414.5 379L414.7 377L414.7 375L414.7 373L414.7 371L414.7 369L414.7 367L414.9 365L415.5 363L416.1 361.7L416.5 361L418.1 359L418.2 359L420.1 357.6L422 357L422.1 357L424.1 356.8L426.1 356.8L428.1 356.8L430.1 356.8L431.9 357L432.1 357L434.1 357.8L435.7 359L436.1 359.3L437.4 361L438.1 362.3L438.4 363L439 365L439.2 367L439.2 369L439.2 371L439.2 373L439.2 375L439.2 377L439.2 379L439.2 381L439.2 383L439.2 385L439.2 387L439.2 389L439.2 391L439.2 393L439.2 395L439.2 397L439.2 399L439.2 401L439.2 403L439.2 405L439.2 407L439.2 409L439.2 411L440.1 411L442.1 411L444.1 411L446.1 411L448.1 411L450.1 411L452.1 411L454.1 411L456.1 411L458.1 411L460.1 411L462.1 411L464.1 411L466.1 411L468.1 411L470.1 411L472.1 411L474.1 411L476.1 411L478.1 411L480.1 411L482.1 411L484.1 411L486.1 411L488.1 411L490.1 411L492.1 411L494.1 411L496.1 411L498.1 411L500.1 411L500.6 411L500.6 409L500.6 407L500.6 405L500.6 403L500.6 401L500.6 399L500.6 397L500.6 395L500.6 393L500.6 391L500.6 389L500.6 387L500.6 385L500.7 383L500.8 381L501.3 379L502.1 377.1L502.2 377L503.6 375L504.1 374.5L505.8 373L506.1 372.7L508.1 371.3L508.4 371L510.1 369.3L510.4 369L511.7 367L512.1 366L512.5 365L512.8 363L512.9 361L512.9 359L512.9 357L512.9 355L512.9 353L513 351L513.2 349L513.9 347L514.1 346.6L515.1 345L516.1 343.9L517.4 343L518.1 342.6L520.1 342.6L520.7 343L522.1 344L523 345L524.1 346.8L524.2 347L524.9 349L525.1 351L525.2 353L525.2 355L525.2 357L525.2 359L525.2 361L525.3 363L525.7 365L526.1 366.2L526.4 367L527.7 369L528.1 369.4L529.7 371L530.1 371.3L532.1 372.8L532.3 373L534.1 374.5L534.5 375L535.9 377L536.1 377.5L536.6 379L536.6 381L536.1 382.5L535.9 383L534.5 385L534.1 385.5L532.3 387L532.1 387.2L530.1 388.7L529.7 389L528.1 390.6L527.7 391L526.4 393L526.1 393.6L525.4 395L524.5 397L524.1 397.9L523.5 399L522.1 400.8L521.9 401L520.1 402.7L519.7 403L518.1 404.2L517.2 405L516.1 406.1L515.4 407L514.1 409L514.1 409.1L513.5 411L514.1 411L516.1 411L518.1 411L520.1 411L522.1 411L524.1 411L526.1 411L528.1 411L530.1 411L532.1 411L534.1 411L536.1 411L538.1 411L540.1 411L542.1 411L544.1 411L546.1 411L548.1 411L550.1 411L552.1 411L554.1 411L556.1 411L558.1 411L560.1 411L562.1 411L564.1 411L566.1 411L568.1 411L570.1 411L572.1 411L574.1 411L576.1 411L578.1 411L580.1 411L582.1 411L584.1 411L586.1 411L588.1 411L590.1 411L592.1 411L594.1 411L596.1 411L598.1 411L600.1 411L602.1 411L604.1 411L606.1 411L608.1 411L610.1 411L612.1 411L614.1 411L616.1 411L618.1 411L620.1 411L622.1 411L624.1 411L626.1 411L628.1 411L630.1 411L632.1 411L634.1 411L636.1 411L638.1 411L640.1 411L642.1 411L644.1 411L646.1 411L648.1 411L650.1 411L652.1 411L654.1 411L656.1 411L658.1 411L660.1 411L662.1 411L664.1 411L666.1 411L668.1 411L670.1 411L672.1 411L674.1 411L676.1 411L678.1 411L680.1 411L682.1 411L684.1 411L686.1 411L688.1 411L690.1 411L692.1 411L694.1 411L696.1 411L698.1 411L700.1 411L702.1 411L704.1 411L706.1 411L708.1 411L709.4 411L709.4 409L709.4 407L709.4 405L709.4 403L709.4 401L709.4 399L709.5 397L709.9 395L710.1 394.3L710.6 393L712 391L712.1 390.8L714.1 389L714.2 389L716.1 388.1L718.1 387.8L720.1 387.8L722.1 387.8L724.1 387.8L726.1 387.9L728.1 388.4L729.2 389L730.1 389.6L731.4 391L732.1 392L732.7 393L733.5 395L733.8 397L733.9 399L734 401L734 403L734 405L734 407L734 409L734 411L734.1 411L736.1 411L738.1 411L740.1 411L742.1 411L744.1 411L746.1 411L748.1 411L750.1 411L752.1 411L754.1 411L756.1 411L758.1 411L760.1 411L762.1 411L764.1 411L766.1 411L768.1 411L770.1 411L772.1 411L774.1 411L776.1 411L778.1 411L780.1 411L782.1 411L784.1 411L786.1 411L786.7 411L787.2 409L788 407L788.1 406.7L789.2 405L790.1 403.5L790.6 403L792.1 401.1L792.2 401L793.6 399L794.1 398.1L794.6 397L795.1 395L795.3 393L795.4 391L795.4 389L795.4 387L795.4 385L795.4 383L795.4 381L795.4 379L795.4 377L795.4 375L795.4 373L795.4 371L795.4 369L795.4 367L795.6 365L796.1 363.2L796.2 363L797.2 361L798.1 359.8L798.8 359L800.1 357.8L801.2 357L802.1 356.3L803.7 355L804.1 354.6L805.5 353L806.1 352.1L806.7 351L807.6 349L808.1 348L808.6 347L809.8 345L810.1 344.6L811.7 343L812.1 342.7L814.1 341.7L816.1 341.3L818.1 341.3L820.1 341.3L822.1 341.3L824.1 341.3L826.1 341.8L828.1 342.9L828.2 343L830 345L830.1 345.1L831.2 347L831.9 349L832.1 350.6L832.1 351L832.2 353L832.2 355L832.2 357L832.2 359L832.2 361L832.2 363L832.2 365L832.2 367L832.2 369L832.2 371L832.2 373L832.2 375L832.2 377L832.2 379L832.2 381L832.2 383L832.2 385L832.2 387L832.2 389L832.2 391L832.2 393L832.2 395L832.2 397L832.2 399L832.2 401L832.2 403L832.2 405L832.2 407L832.2 409L832.2 411L834.1 411L836.1 411L838.1 411L840.1 411L842.1 411L844.1 411L846.1 411L848.1 411L850.1 411L852.1 411L854.1 411L856.1 411L858.1 411L860.1 411L862.1 411L864.1 411L866.1 411L868.1 411L870.1 411L872.1 411L874.1 411L876.1 411L878.1 411L880.1 411L882.1 411L884.1 411L886.1 411L888.1 411L890.1 411L892.1 411L893.6 411L893.6 409L893.6 407L893.6 405L893.6 403L893.6 401L893.6 399L893.6 397L893.6 395L893.6 393L893.6 391L893.6 389L893.6 387L893.6 385L893.6 383L893.6 381L893.6 379L893.6 377L893.6 375L893.6 373L893.6 371L893.6 369L893.6 367L893.8 365L894.1 364L894.4 363L895.4 361L896.1 360.1L897 359L898.1 358L899.4 357L900.1 356.5L901.9 355L902.1 354.9L903.7 353L904.1 352.4L904.9 351L905.6 349L905.8 347L905.9 345L905.9 343L905.9 341L905.9 339L905.9 337L906 335L906.1 334.4L906.3 333L907.1 331L908.1 329.4L908.4 329L910.1 327.2L910.4 327L912.1 325.7L913 325L914.1 324.1L915.2 323L916.1 321.8L916.6 321L917.5 319L918 317L918.1 315.5L918.1 315L918.2 313L918.2 311L918.2 309L918.2 307L918.2 305L918.4 303L919 301L920 299L920.1 298.8L921.7 297L922.1 296.7L924.1 295.9L926.1 296.4L926.8 297L928.1 298.3L928.6 299L929.6 301L930.1 302.6L930.2 303L930.4 305L930.4 307L930.4 309L930.4 311L930.4 313L930.4 315L930.4 317L930.4 319L930.4 321L930.4 323L930.4 325L930.4 327L930.4 329L930.5 331L930.7 333L931.2 335L932.1 336.7L932.3 337L933.9 339L934.1 339.2L936.1 340.9L936.2 341L938.1 342.4L938.8 343L940.1 344.4L940.6 345L941.7 347L942.1 348L942.4 349L942.7 351L942.7 353L942.7 355L942.7 357L942.7 359L942.7 361L942.7 363L942.7 365L942.7 367L942.7 369L942.7 371L942.7 373L942.7 375L942.7 377L942.5 379L942.1 381L942.1 381L941.2 383L940.1 384.7L939.9 385L938.1 387L938.1 387L936.6 389L936.1 389.7L935.4 391L934.5 393L934.1 394.3L933.9 395L933.7 397L933.6 399L933.6 401L933.6 403L933.6 405L933.6 407L933.6 409L933.6 411L934.1 411L936.1 411L938.1 411L940.1 411L942.1 411L944.1 411L946.1 411L948.1 411L950.1 411L952.1 411L954.1 411L956.1 411L958.1 411L960.1 411L962.1 411L964.1 411L966.1 411L968.1 411L970.1 411L972.1 411L974.1 411L976.1 411L978.1 411L980.1 411L982.1 411L984.1 411L986.1 411L988.1 411L990.1 411L991.8 411L991.8 409L991.8 407L991.8 405L991.8 403L991.8 401L991.9 399L992 397L992.1 396.1L992.3 395L993.1 393L994.1 391.3L994.3 391L996 389L996.1 388.9L997.7 387L998.1 386.5L998.9 385L999.9 383L1000.1 382.4L1000.5 381L1000.8 379L1001 377L1001 375L1001 373L1001 371L1001 369L1001 367L1001 365L1001.2 363L1001.4 361L1001.7 359L1002 357L1002.1 356.6L1002.4 355L1002.9 353L1003.4 351L1003.8 349L1004.1 347L1004.1 345.7L1004.1 345L1004.1 343L1004.1 341L1004.1 339L1004.1 337L1004.1 335L1004.1 333L1004.1 331L1004.1 329L1004.1 327L1004.1 325L1004.1 323L1004.1 321L1004.3 319L1004.7 317L1005.6 315L1006.1 314.3L1007.1 313L1008.1 311.9L1009.3 311L1010.1 310.4L1011.9 309L1012.1 308.8L1013.9 307L1014.1 306.7L1015.2 305L1015.9 303L1016.1 302.1L1016.3 301L1016.4 299L1016.4 297L1016.4 295L1016.4 293L1016.4 291L1016.5 289L1016.7 287L1017.4 285L1018.1 283.7L1018.6 283L1020.1 281.4L1020.9 281L1022.1 280.4L1024.1 280.8L1024.3 281L1026.1 282.5L1026.5 283L1027.7 285L1028.1 286.1L1028.4 287L1028.6 289L1028.7 291L1028.7 293L1028.7 295L1028.7 297L1028.7 299L1028.7 301L1028.7 303L1028.7 305L1028.7 307L1028.7 309L1028.7 311L1028.7 313L1028.7 315L1028.8 317L1029.2 319L1029.7 321L1030.1 322.6L1030.2 323L1030.6 325L1031 327L1031.3 329L1031.6 331L1031.9 333L1032.1 333.9L1032.4 335L1033.2 337L1034.1 338.9L1034.2 339L1035.6 341L1036.1 341.7L1037.3 343L1038.1 344L1038.8 345L1040 347L1040.1 347.3L1040.7 349L1040.9 351L1041 353L1041 355L1041 357L1041 359L1040.9 361L1040.9 363L1040.6 365L1040.1 366.9L1040.1 367L1039.6 369L1039.1 371L1038.8 373L1038.5 375L1038.2 377L1038.1 378.1L1038 379L1037.9 381L1037.9 383L1037.9 385L1037.9 387L1037.9 389L1037.9 391L1037.9 393L1037.9 395L1037.9 397L1037.9 399L1037.9 401L1037.9 403L1037.9 405L1037.9 407L1037.9 409L1037.9 411L1038.1 411L1040.1 411L1042.1 411L1044.1 411L1046.1 411L1048.1 411L1050.1 411L1052.1 411L1054.1 411L1056.1 411L1058.1 411L1060.1 411L1062.1 411L1064.1 411L1066.1 411L1068.1 411L1070.1 411L1072.1 411L1074.1 411L1076.1 411L1078.1 411L1080.1 411L1082.1 411L1084.1 411L1086.1 411L1088.1 411L1090.1 411L1092.1 411L1094.1 411L1094.1 409L1094.1 407L1094.1 405L1094.1 403L1094.1 401L1094.1 399L1094.1 397L1094.1 395L1094.1 393L1094.1 391L1094.1 389L1094.1 387L1094.1 385L1094.1 383L1094.1 381L1094.1 379L1094.1 377L1094.1 375L1094.1 373L1094.1 371L1094.1 369L1094.1 367L1094.1 365L1094.1 363L1094.1 361L1094.1 359L1094.1 357L1094.1 355L1094.1 353L1094.1 351L1094.1 349L1094.1 347L1094.1 345L1094.1 343L1094.1 341L1094.1 339L1094.1 337L1094.1 335L1094.1 333L1094.1 331L1094.1 329L1094.1 327L1094.1 325L1094.1 323L1094.1 321L1094.1 319L1094.1 317L1094.1 315L1094.1 313L1094.1 311L1094.1 309L1094.1 307L1094.1 305L1094.1 303L1094.1 301L1094.1 299L1094.1 297L1094.1 295L1094.1 294.8L1092.1 294.8L1090.1 294.7L1088.1 294.7L1086.1 294.7L1084.1 294.3L1082.1 293.2L1081.8 293L1080.1 291.2L1080 291L1078.8 289L1078.1 287L1078.1 287L1077.9 285L1077.8 283L1077.8 281L1077.8 279L1077.8 277L1077.8 275L1077.8 273L1077.8 271L1077.8 269L1077.8 267L1077.8 265L1077.8 263L1077.8 261L1077.8 259L1077.8 257L1077.8 255L1077.8 253L1077.8 251L1077.8 249L1077.8 247L1077.8 245L1077.8 243L1077.8 241L1077.8 239L1077.8 237L1077.8 235L1077.8 233L1077.8 231L1077.8 229L1077.8 227L1077.8 225L1077.8 223L1077.8 221L1077.8 219L1077.8 217L1077.8 215L1077.8 213L1077.8 211L1077.8 209L1077.8 207L1077.8 205L1077.8 203L1077.8 201L1077.8 199L1077.8 197L1077.8 195L1077.8 193L1077.8 191L1077.8 189L1077.8 187L1077.8 185L1077.8 183L1077.8 181L1077.8 179L1077.8 177L1077.8 175L1077.8 173L1077.8 171L1077.8 169L1077.8 167L1077.8 165L1077.8 163L1077.8 161L1077.8 159L1077.8 157L1077.8 155L1077.8 153L1077.8 151L1077.7 149L1077.3 147L1076.6 145L1076.1 144.2L1075.3 143L1074.1 141.7L1073.3 141L1072.1 140.1L1070.7 139L1070.1 138.6L1068.5 137L1068.1 136.5L1067 135L1066.1 133L1066.1 132.8L1065.7 131L1065.5 129L1065.5 127L1065.5 125L1065.5 123L1065.5 121L1065.5 119L1065.3 117L1064.7 115L1064.1 113.7L1063.7 113L1062.1 111.1L1061.9 111L1060.1 110L1058.1 110.2L1057 111L1056.1 111.7L1055.1 113L1054.1 114.7L1053.9 115L1053 117L1052.1 118.9L1052 119L1050.7 121L1050.1 121.7L1048.7 123L1048.1 123.5L1046.1 125L1046.1 125L1044.1 126.8L1043.9 127L1042.5 129L1042.1 129.8L1041.6 131L1041.1 133L1041 135L1041 137L1041 139L1041 141L1041 143L1041 145L1041 147L1041 149L1041 151L1041 153L1041 155L1041 157L1041 159L1040.9 161L1040.7 163L1040.1 164.7L1040 165L1038.8 167L1038.1 167.9L1036.8 169L1036.1 169.6L1034.1 170.4L1032.1 170.7L1030.1 170.7L1028.1 170.7L1026.1 170.7L1024.1 170.6L1022.1 170L1020.5 169L1020.1 168.7L1018.6 167L1018.1 166.3L1017.3 165L1016.4 163L1016.1 162.3L1015.5 161L1014.2 159L1014.1 158.8L1012.4 157L1012.1 156.8L1010.1 155.7L1008.1 155.3L1006.1 155.3L1004.1 155.2L1002.1 155.2L1000.1 155.2L999.2 155L998.1 154.8L996.1 153.7L995.3 153L994.1 151.6L993.7 151L992.8 149L992.6 147L993.1 145L994.1 143.4L994.4 143L996.1 141.2L996.3 141L998.1 139.7L999 139L1000.1 138.1L1001.2 137L1002.1 135.7L1002.5 135L1003.1 133L1002.8 131L1002.1 129.8L1001.6 129L1000.1 127.1L1000 127L998.1 125.3L997.4 125L996.1 124.5L994.1 124.3L992.1 124.3L990.1 124.2L988.1 124.2L986.1 123.8L984.3 123L984.1 122.9L982.1 121L982.1 121L980.8 119L980.1 117.7L979.8 117L978.9 115L978.1 113.6L977.7 113L976.1 111.1L975.9 111L974.1 110L972.1 110.2L971 111L970.1 111.7L969.1 113L968.1 114.7L968 115L967.1 117L966.1 119L966.1 119L964.7 121L964.1 121.7L962.5 123L962.1 123.3L960.1 124L958.1 124.2L956.1 124.2L954.1 124.3L952.1 124.3L950.1 124.5L948.5 125L948.1 125.1L946.1 126.6L945.7 127L944.2 129L944.1 129.2L943.2 131L942.3 133L942.1 133.4L941.2 135L940.1 136.6L939.7 137L938.1 138.4L936.9 139L936.1 139.4L934.1 139.7L932.1 139.7L930.1 139.7L928.1 139.7L926.1 139.7L924.1 139.7L922.1 139.7L920.1 139.7L918.1 139.7L916.1 139.7L914.1 139.7L912.1 139.7L910.1 139.7L908.1 139.7L906.1 139.7L904.1 139.7L902.1 139.7L900.1 139.3L899.4 139L898.1 138.4L896.6 137L896.1 136.4L895.1 135L894.1 133.1L894.1 133L893.1 131L892.1 129L892.1 129L890.6 127L890.1 126.4L888.5 125L888.1 124.7L886.1 123.2L885.8 123L884.1 121.3L883.9 121L882.6 119L882.1 117.9L881.8 117L881.4 115L881.3 113L881.3 111L881.3 109L881.3 107L881.3 105L881.3 103L881 101L880.3 99L880.1 98.5L879.2 97L878.1 95.7L877.4 95L876.1 93.9L874.8 93L874.1 92.4L872.5 91L872.1 90.6L870.9 89L870.1 87.6L869.8 87L869.3 85L869.1 83L869 81L869 79L869 77L869 75L869 73L869 71L869 69L868.1 69L866.1 69L864.1 69L862.1 69L860.1 69L858.1 69L856.4 69L856.1 70.2L855.8 71L854.8 73L854.1 74L853.3 75L852.1 76.3L851.5 77L850.1 78.4L849.6 79L848.1 80.7L847.9 81L846.4 83L846.1 83.6L845.3 85L844.7 87L844.5 89L844.5 91L844.5 93L844.5 95L844.5 97L844.5 99L844.5 101L844.5 103L844.5 105L844.5 107L844.5 109L844.5 111L844.5 113L844.5 115L844.5 117L844.5 119L844.5 121L844.5 123L844.5 125L844.5 127L844.5 129L844.3 131L844.1 131.9L843.9 133L843 135L842.1 136.3L841.5 137L840.1 138.3L838.8 139L838.1 139.3L836.1 139.7L834.1 139.7L832.1 139.7L830.1 139.7L828.1 139.7L826.1 139.7L824.1 139.7L822.1 139.7L820.1 139.7L818.1 139.7L816.1 139.7L814.1 139.7L812.1 139.7L810.1 139.7L808.1 139.7L806.1 139.7L804.1 139.7L802.1 139.7L800.1 139.7L798.1 139.7L796.1 139.7L794.1 139.7L792.1 139.7L790.1 139.4L788.9 139L788.1 138.7L786.1 137L786.1 137L784.6 135L784.1 134.1L783.5 133L782.6 131L782.1 129.9L781.6 129L780.1 127L780.1 127L778.1 125.1L777.9 125L776.1 123.6L775.3 123L774.1 121.9L773.3 121L772.1 119.1L772 119L771.3 117L770.9 115L770.8 113L770.8 111L770.8 109L770.8 107L770.8 105L770.8 103L770.8 101L770.8 99L770.8 97L770.8 95L770.8 93L770.8 91L770.8 89L770.8 87L770.8 85L770.8 83L770.8 81L770.8 79L770.8 77L770.8 75L770.8 73L770.8 71L770.8 69L770.1 69L768.1 69L766.1 69L764.1 69L762.1 69L760.1 69L758.1 69L756.1 69L754.1 69L752.1 69L750.1 69L748.1 69L746.1 69L744.1 69L742.1 69L740.1 69L738.1 69L736.1 69L734.1 69L732.1 69L730.1 69L728.1 69L726.1 69L724.1 69L722.1 69L720.1 69L718.1 69L716.1 69L714.1 69L712.1 69L710.1 69L708.1 69L706.1 69L704.1 69L702.1 69L700.1 69L698.1 69L696.1 69L694.1 69L692.1 69L690.1 69L688.1 69L686.1 69L684.1 69L682.1 69L680.1 69L678.1 69L676.1 69L674.1 69L672.1 69L670.1 69L668.1 69L666.1 69L664.1 69L662.1 69L660.1 69L658.1 69L656.1 69L654.1 69L652.1 69L650.1 69L648.1 69L646.1 69L644.1 69L642.1 69L640.1 69L638.1 69L636.1 69L634.1 69L632.1 69L630.1 69L628.1 69L626.1 69L624.1 69L622.1 69L620.1 69L618.1 69L616.1 69L614.1 69L612.1 69L610.1 69L608.1 69L606.1 69L604.1 69L602.1 69L600.1 69L598.1 69L596.1 69L594.1 69L592.1 69L590.1 69L588.1 69L586.1 69L584.1 69L582.1 69L580.1 69L578.1 69L576.1 69L574.1 69L572.1 69L570.1 69L568.1 69L566.1 69L564.1 69L562.1 69L560.1 69L558.1 69L556.1 69L554.1 69L552.1 69L550.1 69L548.1 69L546.1 69L544.1 69L542.1 69L540.1 69L538.1 69L536.1 69L534.1 69L532.1 69L530.1 69L528.1 69L526.1 69L524.1 69L522.1 69L520.1 69L518.1 69L516.1 69L514.1 69L512.1 69L510.1 69L508.1 69L506.1 69L504.1 69L502.1 69L500.1 69L498.1 69L496.1 69L494.1 69L492.1 69L490.1 69L488.1 69L486.1 69L484.1 69L482.1 69L480.1 69L478.1 69L476.1 69L474.1 69L472.1 69L470.1 69L468.1 69L466.1 69L464.1 69L462.1 69L460.1 69L458.1 69L456.1 69L454.1 69L452.1 69L450.1 69L448.5 69L448.6 71L448.8 73L449.1 75L449.4 77L449.8 79L450.1 80.6L450.2 81L450.7 83L451.1 85L451.4 87L451.5 89L451.5 91L451.5 93L451.5 95L451.5 97L451.5 99L451.2 101L450.5 103L450.1 103.8L449.4 105L448.1 106.5L447.6 107L446.1 108.2L445 109L444.1 109.7L442.7 111L442.1 111.6L441.1 113L440.1 114.7L439.9 115L439 117L438.1 118.9L438 119L436.7 121L436.1 121.7L434.4 123L434.1 123.2L432.1 124L430.1 124.2L428.1 124.2L426.1 124.3L424.1 124.3L422.1 124.5L420.4 125L420.1 125.1L418.1 126.5L417.7 127L416.2 129L416.1 129.1L415.1 131L414.2 133L414.1 133.3L413.2 135L412.1 136.5L411.6 137L410.1 138.2L408.1 138.6L406.1 137.6L405.5 137L404.1 135.3L403.9 135L403 133L402.6 131L402.4 129L402.4 127L402.4 125L402.4 123L402.4 121L402.4 119L402.4 117L402.4 115L402.4 113L402.4 111L402.4 109L402.4 107L402.4 105L402.4 103L402.4 101L402.4 99L402.4 97L402.4 95L402.4 93L402.4 91L402.4 89L402.4 87L402.4 85L402.4 83L402.4 81L402.4 79L402.4 77L402.4 75L402.4 73L402.4 71L402.4 69L402.1 69L400.1 69L398.1 69L396.1 69L394.1 69L392.1 69L390.1 69L388.1 69L386.1 69L384.1 69L382.1 69L380.1 69L378.1 69L376.1 69L374.1 69L372.1 69L370.1 69L368.1 69L366.1 69L364.1 69L362.1 69L360.1 69L358.1 69L356.1 69L354.1 69L352.1 69L350.1 69L348.1 69L346.1 69L344.1 69L342.1 69L340.1 69L338.1 69L336.1 69L334.1 69L332.1 69L330.1 69L328.1 69L326.1 69L324.1 69L322.1 69L320.1 69L318.1 69L316.4 69L316.4 71L316.4 73L316.4 75L316.4 77L316.4 79L316.4 81L316.4 83L316.4 85L316.4 87L316.4 89L316.4 91L316.4 93L316.4 95L316.4 97L316.4 99L316.4 101L316.4 103L316.4 105L316.4 107L316.4 109L316.4 111L316.4 113L316.4 115L316.4 117L316.4 119L316.4 121L316.4 123L316.4 125L316.4 127L316.4 129L316.4 131L316.4 133L316.4 135L316.4 137L316.4 139L316.4 141L316.4 143L316.4 145L316.4 147L316.4 149L316.4 151L316.4 153L316.4 155L316.4 157L316.4 159L316.4 161L316.4 163L316.4 165L316.4 167L316.4 169L316.4 171L316.4 173L316.4 175L316.3 177L316.1 178.3L316 179L315.2 181L314.1 182.7L313.9 183L312.1 184.8L311.7 185L310.1 185.8L308.1 186.2L306.1 186.2L304.1 186.2L302.1 186.3L300.1 186.3L298.1 186.3L296.1 186.3L294.1 186.3L292.1 186.2L291.9 185L291.9 183L291.9 181L291.9 179L291.9 177L291.9 175L291.9 173L291.9 171L291.9 169L291.9 167L291.9 165L291.9 163L291.9 161L291.9 159L291.9 157L291.9 155L291.9 153L291.9 151L291.9 149L291.9 147L291.9 145L291.9 143L291.9 141L291.9 139L291.9 137L291.9 135L291.7 133L291.3 131L290.4 129L290.1 128.6L288.8 127L288.1 126.3L286.1 125.4L284.1 125.9L282.7 127L282.1 127.6L281.1 129L280.2 131L280.1 131.5L279.8 133L279.6 135L279.6 137L279.6 139L279.6 141L279.6 143L279.6 145L279.6 147L279.6 149L279.6 151L279.6 153L279.6 155L279.6 157L279.6 159L279.5 161L279.3 163L278.6 165L278.1 166L277.4 167L276.1 168.4L275.1 169L274.1 169.5L272.1 169.2L271.7 169L270.1 167.7L269.5 167L268.3 165L268.1 164.7L267.3 163L266.4 161L266.1 160.5L265.1 159L264.1 157.8L263.1 157L262.1 156.3L260.1 155.6L258.1 155.3L256.1 155.3L254.9 155L255 153L255.1 151L255.2 149L255.5 147L256.1 145.5L256.3 145L257.6 143L258.1 142.4L259.6 141L260.1 140.6L262.1 139.1L262.2 139L264.1 137.3L264.4 137L265.8 135L266.1 134.4L266.7 133L267.1 131L267.3 129L267.3 127L267.3 125L267.3 123L267.3 121L267.3 119L267.1 117L266.5 115L266.1 114.1L265.5 113L264.1 111.3L263.8 111L262.1 109.7L260.1 109L260 109L258.1 108.8L256.1 108.8L254.1 108.8L252.1 108.8L250.1 109L250.1 109L248.1 109.7L246.3 111L246.1 111.1L244.6 113L244.1 114L243.7 115L243.4 117L243.7 119L244.1 120.8L244.2 121L244.6 123L245 125L245.3 127L245.6 129L245.7 131L245.9 133L245.9 135L245.9 137L245.9 139L245.9 141L245.9 143L246 145L246.1 146.7L246.1 147L246.7 149L247.5 151L248.1 152.2L248.9 153L250.1 154.3L252.1 155L252.1 155L254.1 155.2L255.1 157L255 159L255 161L255 163L255 165L255 167L255 169L255 171L255 173L255 175L254.9 177L254.6 179L254.1 180.3L253.8 181L252.6 183L252.1 183.6L250.9 185L250.1 185.9L249.3 187L248.1 188.7L248 189L247.1 191L246.4 193L246.1 194L245.9 195L245.6 197L245.3 199L245 201L244.6 203L244.1 205L244.1 205.2L243.5 207L242.5 209L242.1 209.5L240.5 211L240.1 211.3L238.1 212.5L237.1 213L236.1 213.4L234.1 214.4L233 215L232.1 215.6L230.7 217L230.1 217.8L229.4 219L228.5 221L228.1 222.3ZM282.1 189.6L282.7 189L284.1 187.7L285.6 187L286.1 186.7L288.1 186.4L290.1 186.3L291.9 187L291.9 189L291.9 191L291.9 193L291.9 195L291.9 197L291.9 199L291.9 201L290.1 201.7L288.1 201.6L286.1 201.3L285.6 201L284.1 200.3L282.7 199L282.1 198.4L281.2 197L280.4 195L280.4 193L281.2 191ZM292.1 201.8L294.1 201.8L296.1 201.9L298.1 202.4L299.3 203L300.1 203.5L301.6 205L302.1 205.7L302.9 207L303.7 209L304 211L304.1 212.1L304.1 213L304.2 215L304.2 217L304.2 219L304.2 221L304.1 222.1L304.1 223L303.6 225L302.5 227L302.1 227.5L300.8 229L300.1 229.9L298.4 231L298.1 231.2L296.4 231L296.1 230.9L294.1 229.1L294.1 229L292.9 227L292.2 225L292.1 224.4L291.9 223L291.9 221L291.9 219L291.9 217L291.9 215L291.9 213L291.9 211L291.9 209L291.9 207L291.9 205L291.9 203ZM784.1 222.9L785.2 221L786.1 219.9L787 219L788.1 218.1L789.6 217L790.1 216.6L791.9 215L792.1 214.8L793.5 213L794.1 212L794.6 211L795.1 209L795.3 207L795.4 205L795.4 203L795.4 201L795.4 199L795.4 197L795.5 195L796 193L796.1 192.7L796.9 191L798.1 189.3L798.3 189L800.1 187.3L800.5 187L802.1 185.8L803.1 185L804.1 184.1L805.1 183L806.1 181.6L806.4 181L807.4 179L808.1 177.5L808.3 177L809.5 175L810.1 174.1L811.1 173L812.1 172.2L814.1 171.2L815 171L816.1 170.8L818.1 170.8L820.1 170.8L822.1 170.8L824.1 170.8L826.1 170.8L828.1 170.8L830.1 170.8L832.1 170.8L834.1 170.8L836.1 170.8L837.1 171L838.1 171.2L840.1 172.2L841 173L842.1 174.2L842.6 175L843.7 177L844.1 178.5L844.2 179L844.4 181L844.5 183L844.5 185L844.5 187L844.5 189L844.5 191L844.5 193L844.5 195L844.5 197L844.5 199L844.5 201L844.5 203L844.5 205L844.5 207L844.5 209L844.5 211L844.5 213L844.5 215L844.5 217L844.5 219L844.5 221L844.4 223L844.2 225L844.1 225.2L843.5 227L842.3 229L842.1 229.3L840.5 231L840.1 231.4L838.1 232.9L838 233L836.1 234.5L835.6 235L834.1 236.9L834 237L832.9 239L832.1 240.7L832 241L831 243L830.1 244.4L829.6 245L828.1 246.5L827 247L826.1 247.3L824.1 247L824 247L822.1 246.3L820.1 245.7L818.1 245.2L817 245L816.1 244.8L814.1 244.7L812.7 245L812.1 245.1L810.1 246.1L808.8 247L808.1 247.7L807.1 249L806.1 250.8L806 251L805.2 253L804.6 255L804.1 256.9L804.1 257L803.1 259L802.1 260.8L801.7 261L800.1 261.8L798.7 261L798.1 260.6L796.9 259L796.1 257.6L795.8 257L794.9 255L794.1 253.4L793.9 253L792.4 251L792.1 250.7L790.2 249L790.1 248.9L788.1 247.4L787.6 247L786.1 245.6L785.6 245L784.3 243L784.1 242.5L783.5 241L783.2 239L783.1 237L783.1 235L783.1 233L783.1 231L783.1 229L783.1 227L783.4 225L784.1 223ZM870.1 331.4L870.3 331L871.7 329L872.1 328.5L874.1 327.2L876.1 327.1L878.1 328.3L878.7 329L880.1 331L880.1 331.1L880.9 333L881.2 335L881.3 337L881.3 339L881.3 341L881.3 343L881.3 345L881.3 347L881 349L880.3 351L880.1 351.5L879.1 353L878.1 354.2L876.8 355L876.1 355.4L874.1 355.3L873.5 355L872.1 354L871.3 353L870.1 351.1L870 351L869.3 349L869.1 347L869 345L869 343L869 341L869 339L869.1 337L869.2 335L869.5 333ZM894.1 224.4L894.6 223L895.8 221L896.1 220.5L897.5 219L898.1 218.5L900.1 217L900.1 217L902.1 215.4L902.5 215L904.1 213L904.1 213L905.2 211L906.1 209L906.1 209L907.1 207L908.1 205.4L908.4 205L910.1 203.3L910.6 203L912.1 202.2L914.1 201.8L916.1 201.8L918.1 201.8L920.1 201.7L922.1 201.7L924.1 201.7L926.1 201.7L928.1 201.7L930.1 201.7L932.1 201.7L934.1 201.7L936.1 201.4L936.9 201L938.1 200.4L939.7 199L940.1 198.6L941.2 197L942.1 195.4L942.3 195L943.2 193L944.1 191.2L944.2 191L945.8 189L946.1 188.7L948.1 187.5L950.1 187.7L951.9 189L952.1 189.2L953.5 191L954.1 192.1L954.5 193L955.5 195L956.1 196.3L956.5 197L958 199L958.1 199.1L960.1 200.7L960.8 201L962.1 201.5L964.1 201.7L966.1 201.7L968.1 201.7L970.1 201.7L972.1 201.5L973.8 201L974.1 200.9L976.1 199.5L976.6 199L978.1 197L978.1 196.9L979.1 195L980 193L980.1 192.8L981.1 191L982.1 189.5L982.6 189L984.1 187.6L985.3 187L986.1 186.7L988.1 186.3L990.1 186.3L992.1 186.3L994.1 186.3L996.1 186.3L998.1 186.3L1000.1 186.3L1002.1 186.3L1004.1 186.3L1006.1 186.3L1008.1 186.3L1010.1 186.3L1012.1 186.2L1014.1 186.2L1016.1 186.3L1018.1 186.3L1020.1 186.3L1022.1 186.6L1022.9 187L1024.1 187.6L1025.7 189L1026.1 189.5L1027.1 191L1028.1 193L1028.1 193.2L1028.5 195L1028.7 197L1028.7 199L1028.7 201L1028.7 203L1028.7 205L1028.7 207L1028.7 209L1028.7 211L1028.7 213L1028.7 215L1028.7 217L1028.7 219L1028.7 221L1028.7 223L1028.7 225L1028.7 227L1028.7 229L1028.7 231L1028.7 233L1028.7 235L1028.7 237L1028.6 239L1028.2 241L1028.1 241.3L1027.4 243L1026.1 245L1026.1 245.1L1024.2 247L1024.1 247.1L1022.1 248.6L1021.5 249L1020.1 250.2L1019.4 251L1018.1 252.7L1017.9 253L1016.9 255L1016.1 256.7L1016 257L1014.9 259L1014.1 260.2L1013.5 261L1012.1 262.6L1011.8 263L1010.2 265L1010.1 265.1L1009.1 267L1008.1 269L1008.1 269.1L1007.6 271L1007.2 273L1006.9 275L1006.6 277L1006.2 279L1006.1 279.7L1005.8 281L1005.4 283L1004.8 285L1004.1 287L1004.1 287.1L1003.2 289L1002.1 290.8L1002 291L1000.1 293L1000.1 293L998.1 294.2L996.1 294.6L994.1 294.7L992.1 294.7L990.1 294.8L988.1 294.8L987 295L986.1 295.2L984.1 296.1L983.1 297L982.1 298L981.3 299L980.1 300.8L980 301L978.4 303L978.1 303.2L976.1 304.8L975.8 305L974.1 305.9L972.1 306.8L971.6 307L970.1 307.8L968.5 309L968.1 309.3L966.7 311L966.1 312.1L965.6 313L964.9 315L964.3 317L964.1 317.6L963.6 319L962.7 321L962.1 322.3L961.1 323L960.1 323.7L958.2 323L958.1 322.9L956.6 321L956.1 320.1L955.6 319L955.2 317L955 315L955 313L955 311L955 309L955 307L955 305L955 303L955 301L955 299L955 297L955 295L955 293L955 291L954.9 289L954.4 287L954.1 286.4L953.3 285L952.1 283.4L951.7 283L950.1 281.1L950 281L948.1 279.1L948 279L946.1 277L946.1 277L944.5 275L944.1 274.3L943.4 273L942.5 271L942.1 270.2L941.5 269L940.2 267L940.1 266.9L938.2 265L938.1 264.9L936.1 263.4L935.6 263L934.1 261.7L933.4 261L932.1 259.3L931.9 259L930.9 257L930.1 255.2L930 255L929 253L928.1 251.7L927.5 251L926.1 249.6L925.4 249L924.1 248.1L922.1 247.1L921.9 247L920.1 246.3L918.1 245.6L916.1 245.1L915.4 245L914.1 244.7L912.1 244.5L910.1 244.4L908.1 244.3L906.1 244.3L904.1 244.3L902.1 244.3L900.1 244.1L898.1 243.6L896.8 243L896.1 242.5L894.6 241L894.1 239.8L893.8 239L893.6 237L893.6 235L893.6 233L893.6 231L893.6 229L893.7 227L893.9 225Z" fill="#7ad87a" fill-rule="evenodd"/>
<path d="M235.4 223L234.4 225L234.5 227L235.2 229L236.1 230.8L236.3 231L237.8 233L238.1 233.4L239.5 235L240.1 235.8L241 237L242.1 239L242.1 239.1L243 241L244 243L244.1 243.2L245.4 245L246.1 245.8L248.1 246.9L250.1 246.8L252.1 245.4L252.4 245L253.8 243L254.1 242.3L254.6 241L254.9 239L255 237L255 235L255 233L255 231L255 229L255 227L254.7 225L254.1 223.1L254.1 223L252.8 221L252.1 220.1L250.7 219L250.1 218.6L248.1 218.3L246.1 218.8L245.5 219L244.1 219.4L242.1 220L240.1 220.5L238.5 221L238.1 221.1L236.1 222.3ZM267.6 349L267.4 351L267.3 353L267.3 355L267.3 357L267.3 359L267.3 361L267.3 363L267.3 365L267.3 367L267.3 369L267.3 371L267.3 373L267.3 375L267.3 377L267.5 379L267.9 381L268.1 381.4L268.9 383L270.1 384.8L270.3 385L272.1 386.5L273.1 387L274.1 387.4L276.1 387.7L278.1 387.7L280.1 387.7L282.1 387.7L284.1 387.5L285.1 387L286.1 386.5L287.7 385L288.1 384.6L289.4 383L290.1 382L290.7 381L291.5 379L291.8 377L291.9 375L291.9 373L291.9 371L291.9 369L291.9 367L292.1 365.2L292.1 365L292.7 363L293.7 361L294.1 360.4L295.4 359L296.1 358.3L298.1 357.2L299.2 357L300.1 356.8L302.1 356.8L304.1 356.8L306.1 356.7L308.1 356.7L310.1 356.4L312.1 355.7L313.8 355L314.1 354.9L316.1 354.3L318.1 353.7L320.1 353.4L322.1 353.3L324.1 353.6L326.1 354.5L326.9 355L328.1 356L328.9 357L330.1 359L330.1 359L331 361L331.6 363L332.1 364.9L332.2 365L333 367L334 369L334.1 369.1L336.1 370.3L338.1 369.2L338.3 369L339.7 367L340.1 366.2L340.5 365L340.9 363L341 361L341 359L341 357L341 355L341 353L341 351L341 349L341 347L341 345L341 343L341 341L341 339L341 337L341 335L341 333L341 331L341 329L341 327L341 325L341 323L341 321L341 319L341 317L341 315L341 313L341 311L341 309L341 307L341 305L341.2 303L341.8 301L342.1 300.4L342.8 299L344.1 297.4L344.5 297L346.1 295.8L348.1 295L348.4 295L350.1 294.8L352.1 294.8L354.1 294.8L356.1 294.8L358.1 295L358.2 295L360.1 295.6L362.1 297L362.1 297L363.7 299L364.1 299.6L364.8 301L365.3 303L365.5 305L365.6 307L365.6 309L365.6 311L365.6 313L365.6 315L365.6 317L365.6 319L365.6 321L365.6 323L365.6 325L365.6 327L365.6 329L365.6 331L365.6 333L365.6 335L365.6 337L365.6 339L365.6 341L365.6 343L365.6 345L365.6 347L365.6 349L365.6 351L365.6 353L365.6 355L365.6 357L365.6 359L365.6 361L365.6 363L365.6 365L365.6 367L365.6 369L365.6 371L365.6 373L365.6 375L365.6 377L365.6 379L365.6 381L365.6 383L365.6 385L365.6 387L365.6 389L365.6 391L365.5 393L365.3 395L364.8 397L364.1 398.4L363.8 399L362.2 401L362.1 401.1L360.1 402.2L358.1 402L356.8 401L356.1 400.4L355.1 399L354.1 397.3L353.9 397L353 395L352.1 393.1L352.1 393L350.7 391L350.1 390.4L348.1 389.1L346.1 389.1L344.1 390.5L343.6 391L342.2 393L342.1 393.2L341.2 395L340.3 397L340.1 397.5L339.3 399L338.1 400.7L337.9 401L336.2 403L336.1 403.1L334.8 405L334.1 406L333.6 407L332.8 409L332.3 411L334.1 411L336.1 411L338.1 411L340.1 411L342.1 411L344.1 411L346.1 411L348.1 411L350.1 411L352.1 411L354.1 411L356.1 411L358.1 411L360.1 411L362.1 411L364.1 411L366.1 411L368.1 411L370.1 411L372.1 411L374.1 411L376.1 411L378.1 411L380.1 411L382.1 411L384.1 411L386.1 411L388.1 411L390.1 411L390.1 411L390.1 409L390.1 407L390.1 405L390.1 403L390.1 401L390.1 399L390.1 397L390.1 395L390.1 393L390.1 391L390.1 389L390.1 387L390.1 385L390.1 383L390.3 381L390.7 379L391.6 377L392.1 376.3L393.1 375L394.1 373.9L395.3 373L396.1 372.4L397.9 371L398.1 370.8L399.9 369L400.1 368.7L401.2 367L401.9 365L402.1 364.1L402.3 363L402.4 361L402.4 359L402.4 357L402.4 355L402.4 353L402.4 351L402.4 349L402.4 347L402.4 345L402.4 343L402.4 341L402.4 339L402.4 337L402.5 335L402.9 333L403.6 331L404.1 330.2L405 329L406.1 327.8L407.2 327L408.1 326.5L410.1 325.9L412.1 325.8L414.1 325.8L416.1 325.8L418.1 325.7L420.1 325.7L422.1 325.7L424.1 325.7L426.1 325.7L428.1 325.7L430.1 325.7L432.1 325.5L433.4 325L434.1 324.7L436.1 323.2L436.3 323L437.7 321L438.1 320.4L438.8 319L439.7 317L440.1 316.2L440.7 315L442.1 313.1L442.2 313L444.1 311.2L444.4 311L446.1 309.7L447 309L448.1 308L449 307L450.1 305.3L450.3 305L451 303L451.4 301L451.5 299L451.5 297L451.5 295L450.1 294.8L448.1 294.8L446.1 294.8L444.1 294.8L442.1 294.8L440.1 294.8L438.1 294.8L436.1 294.8L434.1 294.8L432.1 294.8L430.1 294.8L428.1 294.7L426.1 294.7L424.1 294.7L422.1 294.5L420.1 293.9L418.8 293L418.1 292.5L416.9 291L416.1 289.8L415.7 289L415 287L414.7 285L414.7 283L414.7 281L414.7 279L414.7 277L414.7 275L414.7 273L414.7 271L414.7 269L414.7 267L414.7 265L414.7 263L414.7 261L414.7 259L414.7 257L414.7 255L414.7 253L414.7 251L414.7 249L414.7 247L414.7 245L414.7 243L414.7 241L414.7 239L414.7 237L414.7 235L414.7 233L414.7 231L414.7 229L414.7 227L414.7 225L414.7 223L414.7 221L414.7 219L414.7 217L414.7 215L414.7 213L414.6 211L414.2 209L414.1 208.7L413.4 207L412.1 205L412.1 205L410.1 203.1L409.9 203L408.1 202.1L406.1 201.8L404.1 201.8L402.1 201.7L400.1 201.7L398.1 201.6L396.1 201.2L395.8 201L394.1 200L393.1 199L392.1 197.7L391.6 197L390.7 195L390.3 193L390.1 191L390.1 189L390.1 187L390.1 185L390.1 183L390.1 181L390.1 179L390.1 177L390.1 175L390.1 173L390.1 171L390.1 169L390.1 167L390.1 166.3L390.1 165L389.8 163L389.1 161L388.1 159.2L387.9 159L386.1 157L386.1 157L384.1 155.9L382.1 155.4L380.1 155.3L378.1 155.3L377.8 157L377.8 159L377.8 161L377.8 163L377.8 165L377.8 167L377.8 169L377.8 171L377.8 173L377.8 175L377.8 177L377.8 179L377.8 181L377.8 183L377.8 185L377.8 187L377.8 189L377.8 191L377.7 193L377.2 195L376.3 197L376.1 197.3L374.8 199L374.1 199.7L372.1 200.6L370.1 200.2L368.7 199L368.1 198.4L367.1 197L366.2 195L366.1 194.6L365.7 193L365.6 191L365.6 189L365.6 187L365.6 185L365.6 183L365.6 181L365.6 179L365.6 177L365.6 175L365.6 173L365.6 171L365.6 169L365.6 167L365.6 165L365.9 163L366.1 162.3L366.6 161L367.7 159L368.1 158.5L369.7 157L370.1 156.7L372.1 155.7L374.1 155.4L376.1 155.3L377.8 155L377.8 153L377.8 151L377.8 149L377.8 147L377.8 145L377.8 143L377.8 141L377.8 139L377.8 137L377.8 135L377.8 133L377.8 131L377.8 129L377.8 127L377.8 125L377.8 123L377.8 121L377.8 119L377.8 117L377.8 115L377.8 113L377.8 111L377.8 109L377.8 107L377.8 105L377.8 103L377.8 101L377.8 99L377.8 97L377.8 95L377.8 93L377.8 91L377.8 89L377.8 87L377.8 85L377.8 83L377.8 81L377.8 79L377.8 77L377.8 75L377.8 73L377.8 71L377.8 69L376.1 69L374.1 69L372.1 69L370.1 69L368.1 69L366.1 69L364.1 69L362.1 69L360.1 69L358.1 69L356.1 69L354.1 69L352.1 69L350.1 69L348.1 69L346.1 69L344.1 69L342.1 69L340.1 69L338.1 69L336.1 69L334.1 69L332.1 69L330.1 69L328.7 69L328.7 71L328.7 73L328.7 75L328.7 77L328.7 79L328.7 81L328.7 83L328.7 85L328.7 87L328.7 89L328.7 91L328.7 93L328.7 95L328.7 97L328.7 99L328.7 101L328.7 103L328.7 105L328.7 107L328.7 109L328.7 111L328.7 113L328.7 115L328.7 117L328.7 119L328.7 121L328.7 123L328.7 125L328.7 127L328.7 129L328.7 131L328.7 133L328.7 135L328.7 137L328.7 139L328.7 141L328.7 143L328.7 145L328.7 147L328.7 149L328.7 151L328.7 153L328.7 155L328.7 157L328.7 159L328.7 161L328.7 163L328.7 165L328.7 167L328.7 169L328.7 171L328.7 173L328.7 175L328.7 177L328.7 179L328.7 181L328.7 183L328.7 185L328.7 187L328.7 189L328.7 191L328.7 193L328.7 195L328.7 197L328.7 199L328.7 201L328.7 203L328.7 205L328.7 207L328.5 209L328.1 210.4L327.9 211L326.9 213L326.1 214.1L325.3 215L324.1 216.1L322.9 217L322.1 217.6L320.4 219L320.1 219.3L318.6 221L318.1 221.7L317.4 223L316.4 225L316.1 225.8L315.5 227L314.3 229L314.1 229.3L312.7 231L312.1 231.5L310.6 233L310.1 233.5L308.7 235L308.1 235.6L307 237L306.1 238.2L305.6 239L304.6 241L304.2 243L304.2 245L304.2 247L304.2 249L304.2 251L304.2 253L304.2 255L304.2 257L304.2 259L304.2 261L304.2 263L304.2 265L304.2 267L304.2 269L304.2 271L304.2 273L304.2 275L304.2 277L304.2 279L304.2 281L304.2 283L304.1 285L304.1 285.1L303.9 287L303.2 289L302.1 290.9L302 291L300.2 293L300.1 293.1L298.1 294.7L297.7 295L296.1 296.2L295.3 297L294.1 298.4L293.7 299L292.7 301L292.1 303L292.1 303.2L291.9 305L291.9 307L291.9 309L291.9 311L291.9 313L291.9 315L291.7 317L291.3 319L290.4 321L290.1 321.4L288.9 323L288.1 323.9L286.7 325L286.1 325.5L284.1 327L284.1 327L282.1 329L282.1 329L280.8 331L280.1 332.4L279.8 333L278.9 335L278.1 336.5L277.8 337L276.2 339L276.1 339.1L274.1 340.8L273.8 341L272.1 342.3L271.3 343L270.1 344.2L269.5 345L268.3 347L268.1 347.6ZM451.8 241L451.6 243L451.5 245L451.5 247L451.5 249L451.5 251L451.5 253L451.5 255L451.5 257L451.5 259L451.5 261L451.5 263L451.5 265L451.5 267L451.5 269L451.5 271L451.5 273L451.5 275L451.5 277L451.5 279L451.5 281L451.5 283L451.5 285L451.5 287L451.5 289L451.5 291L451.5 293L452.1 294.7L454.1 294.7L456.1 294.5L458.1 294L459.6 293L460.1 292.7L461.6 291L462.1 290.3L462.9 289L463.8 287L464.1 286.3L464.7 285L466 283L466.1 282.8L467.7 281L468.1 280.7L470.1 279.1L470.3 279L472.1 277.6L472.7 277L474.1 275.3L474.3 275L475.4 273L476.1 271.5L476.3 271L477.3 269L478.1 267.7L478.6 267L480.1 265.5L480.8 265L482.1 264.3L484.1 263.9L486.1 263.8L488.1 263.8L490.1 263.7L492.1 263.7L494.1 263.3L494.9 263L496.1 262.4L497.6 261L498.1 260.5L499.1 259L500 257L500.1 256.6L500.5 255L500.6 253L500.6 251L500.6 249L500.6 247L500.6 245L500.6 243L500.6 241L500.6 239L500.6 237L500.6 235L500.6 233L500.6 231L500.6 229L500.6 227L500.6 225L500.6 223L500.6 221L500.6 219L500.6 217L500.6 215L500.6 213L500.5 211L500.2 209L500.1 208.8L499.4 207L498.1 205L498.1 205L496.1 203.1L495.9 203L494.1 202.2L492.1 201.8L490.1 201.8L488.1 201.8L486.1 201.8L484.1 201.9L482.1 202.3L480.8 203L480.1 203.5L478.6 205L478.1 205.7L477.3 207L476.5 209L476.2 211L476.1 212.9L476.1 213L476.1 215L476.1 217L476.1 219L476.1 221L476 223L475.8 225L475.1 227L474.1 228.7L473.9 229L472.1 231L472.1 231L470.1 232.2L468.1 232.6L466.1 232.7L464.1 232.7L462.1 232.8L460.1 232.8L459 233L458.1 233.1L456.1 234.1L455 235L454.1 236L453.4 237L452.3 239L452.1 239.7ZM455.4 71L456.1 73L456.1 73L457.2 75L458.1 76.7L458.4 77L460 79L460.1 79.2L461.5 81L462.1 82L462.7 83L463.4 85L463.7 87L463.8 89L463.8 91L463.8 93L463.8 95L463.8 97L463.8 99L463.8 101L463.8 103L463.8 105L463.8 107L463.8 109L463.8 111L463.8 113L463.8 115L463.8 117L463.8 119L463.8 121L463.8 123L463.8 125L463.8 127L463.8 129L463.8 131L463.8 133L463.8 135L463.8 137L463.8 139L463.8 141L463.8 143L463.8 145L463.8 147L463.8 149L463.8 151L463.8 153L463.8 155L463.8 157L463.8 159L463.9 161L464.1 163L464.1 163L464.8 165L466 167L466.1 167.2L468 169L468.1 169.1L470.1 169.7L471.8 169L472.1 168.9L473.9 167L474.1 166.7L475.1 165L475.8 163L476 161L476.1 159L476.1 157L476.1 155L476.1 153L476.1 151L476.1 149L476.1 147L476.1 145L476.1 143L476.1 141L476.1 139L476.1 137L476.1 135L476.1 133L476.1 131L476.1 129L476.1 127L476.1 125L476.1 123L476.1 121L476.1 120L476.1 119L476.3 117L476.9 115L477.9 113L478.1 112.7L479.6 111L480.1 110.6L482.1 109.8L484.1 110.4L484.8 111L486.1 112.4L486.5 113L487.6 115L488.1 116.9L488.1 117L488.3 119L488.4 121L488.4 123L488.4 125L488.4 127L488.4 129L488.4 131L488.4 133L488.4 135L488.4 137L488.4 139L488.4 141L488.4 143L488.4 145L488.6 147L489.2 149L490.1 150.8L490.2 151L491.9 153L492.1 153.2L494.1 154.1L496.1 153.7L496.9 153L498.1 151.9L498.8 151L499.9 149L500.1 148.7L500.9 147L501.8 145L502.1 144.6L503.3 143L504.1 142.1L506.1 141L508.1 141.2L510.1 142.7L510.3 143L511.7 145L512.1 146L512.5 147L512.8 149L512.9 151L512.9 153L512.9 155L512.9 157L512.9 159L512.9 161L512.9 163L512.9 165L512.9 167L512.9 169L512.9 171L512.9 173L512.9 175L512.9 177L512.9 179L512.9 181L512.9 183L512.9 185L512.9 187L512.9 189L512.9 191L513.1 193L513.5 195L514.1 196.3L514.5 197L516 199L516.1 199.1L518.1 200.4L520.1 200.4L522.1 199L522.1 199L523.6 197L524.1 196.1L524.6 195L525 193L525.2 191L525.2 189L525.2 187L525.2 185L525.2 183L525.2 181L525.4 179L526 177L526.1 176.8L527 175L528.1 173.6L528.6 173L530.1 171.7L531 171L532.1 170.2L533.5 169L534.1 168.5L535.3 167L536.1 165.8L536.6 165L537.5 163L538.1 161.6L538.4 161L539.7 159L540.1 158.5L541.8 157L542.1 156.8L544.1 156.5L545.3 157L546.1 157.4L547.6 159L548.1 159.8L548.8 161L549.5 163L549.7 165L549.8 167L549.8 169L549.8 171L549.8 173L549.8 175L549.8 177L549.8 179L549.8 181L549.8 183L549.8 185L549.8 187L549.8 189L549.8 191L549.9 193L550.1 193.8L550.4 195L551.3 197L552.1 198.2L552.9 199L554.1 200.1L556.1 200.6L558.1 199.8L559 199L560.1 197.7L560.5 197L561.6 195L562.1 193.9L562.5 193L563.5 191L564.1 190.1L565 189L566.1 187.9L567.7 187L568.1 186.8L570.1 186.3L572.1 186.3L574.1 186.3L576.1 186.3L578.1 186.3L580.1 186.7L580.8 187L582.1 187.6L583.6 189L584.1 189.6L585.1 191L586 193L586.1 193.5L586.4 195L586.6 197L586.6 199L586.6 201L586.6 203L586.6 205L586.6 207L586.6 209L586.6 211L586.6 213L586.6 215L586.6 217L586.6 219L586.6 221L586.6 223L586.6 225L586.6 227L586.6 229L586.6 231L586.6 233L586.6 235L586.6 237L586.7 239L587.1 241L587.8 243L588.1 243.5L589.1 245L590.1 246.1L591.1 247L592.1 247.8L593.7 249L594.1 249.3L595.9 251L596.1 251.2L597.4 253L598.1 254.6L598.3 255L598.7 257L598.9 259L598.9 261L598.9 263L598.9 265L598.9 267L598.8 269L598.6 271L598.1 272.9L598.1 273L597 275L596.1 276.2L595.1 277L594.1 277.7L592.1 278L590.2 277L590.1 276.9L588.4 275L588.1 274.5L587.3 273L586.4 271L586.1 270.4L585.4 269L584.1 267.1L584 267L582.1 265.4L580.5 265L580.1 264.9L579.9 265L578.1 265.8L576.9 267L576.1 268.1L575.6 269L574.8 271L574.4 273L574.3 275L574.3 277L574.3 279L574.3 281L574.3 283L574.3 285L574.1 286.4L574 287L573.3 289L572.2 291L572.1 291.1L570.1 293L570.1 293L568.1 293.7L566.2 293L566.1 292.9L564.2 291L564.1 290.9L563 289L562.3 287L562.1 285.1L562.1 285L562 283L562 281L562 279L562 277L562 275L562 273L562 271L562 269L562 267L562 265L562 263L562 261L562 259L562 257L562 255L562 253L562 251L562 249L562 247L562 245L562 243L562 241L562 239L562 237L562 235L562 233L562 231L562 229L562 227L561.7 225L561.1 223L560.1 221.3L559.9 221L558.1 219.2L557.7 219L556.1 218.4L554.1 218.9L554 219L552.1 220.8L551.9 221L550.8 223L550.1 224.9L550.1 225L549.8 227L549.8 229L549.8 231L549.8 233L549.8 235L549.8 237L549.8 239L549.8 241L549.8 243L549.8 245L549.8 247L549.8 249L549.8 251L549.8 253L549.8 255L549.8 257L549.8 259L549.8 261L549.8 263L549.8 265L549.8 267L549.7 269L549.5 271L549 273L548.1 274.7L547.9 275L546.3 277L546.1 277.2L544.1 278.5L542.4 279L542.1 279.1L540.1 279.2L538.1 279.2L536.1 279.3L534.1 279.3L532.1 279.6L530.1 280.4L529.3 281L528.1 282.1L527.4 283L526.2 285L526.1 285.2L525.5 287L525.3 289L525.2 291L525.2 293L525.2 295L525.2 297L525.2 299L525.2 301L525.2 303L525.2 305L525.2 307L525.2 309L525.2 311L525.2 313L525.2 315L525.4 317L525.8 319L526.1 319.7L526.7 321L528.1 322.9L528.2 323L530.1 324.8L530.3 325L532.1 326.3L533 327L534.1 328L534.9 329L536.1 330.7L536.3 331L537.3 333L538.1 334.9L538.2 335L539.3 337L540.1 338.1L540.9 339L542.1 340.1L543.3 341L544.1 341.6L545.8 343L546.1 343.3L547.6 345L548.1 345.8L548.8 347L549.5 349L549.7 351L549.8 353L549.8 355L549.8 357L549.8 359L549.8 361L549.8 363L549.8 365L549.8 367L549.8 369L549.8 371L549.8 373L549.8 375L549.8 377L549.8 379L549.8 381L549.8 383L549.8 385L549.8 387L549.8 389L549.8 391L549.8 393L549.8 395L549.8 397L549.8 399L549.8 401L549.8 403L549.8 405L549.8 407L549.8 409L549.8 411L550.1 411L552.1 411L554.1 411L556.1 411L558.1 411L560.1 411L562.1 411L564.1 411L566.1 411L568.1 411L570.1 411L572.1 411L574.1 411L574.3 411L574.3 409L574.3 407L574.3 405L574.3 403L574.3 401L574.3 399L574.3 397L574.3 395L574.3 393L574.3 391L574.3 389L574.3 387L574.3 385L574.3 383L574.3 381L574.3 379L574.3 377L574.3 375L574.3 373L574.3 371L574.3 369L574.4 367L574.6 365L575.1 363L576.1 361.1L576.1 361L577.8 359L578.1 358.7L580.1 357.4L581.7 357L582.1 356.9L584.1 356.8L586.1 356.8L588.1 356.8L590.1 356.8L592.1 356.8L594.1 356.8L596.1 356.8L598.1 356.7L600.1 356.7L602.1 356.7L604.1 356.5L606.1 355.7L607 355L608.1 354.1L609 353L610.1 351.2L610.2 351L610.9 349L611.1 347L611.2 345L611.2 343L611.2 341L611.2 339L611.2 337L611.2 335L611.2 333L611.2 331L611.2 329L611.2 327L611.2 325L611.2 323L611.2 321L611.2 319L611.2 317L611.2 315L611.2 313L611.2 311L611.2 309L611.2 307L611.2 305L611.2 303L611.2 301L611.2 299L611.2 297L611.2 295L611.2 293L611.2 291L611.2 289L611.5 287L612.1 285.1L612.1 285L613.3 283L614.1 282L615.1 281L616.1 280.1L617.6 279L618.1 278.7L620 277L620.1 276.9L621.6 275L622.1 274.2L622.8 273L623.7 271L624.1 270.1L624.6 269L626 267L626.1 266.8L627.9 265L628.1 264.9L630.1 263.4L630.6 263L632.1 261.7L632.8 261L634.1 259.2L634.2 259L635.1 257L635.5 255L635.7 253L635.7 251L635.7 249L635.7 247L635.7 245L635.7 243L635.7 241L635.7 239L635.7 237L635.7 235L635.7 233L635.7 231L635.7 229L635.7 227L635.7 225L635.7 223L635.7 221L635.7 219L635.7 217L635.7 215L635.7 213L635.7 211L635.7 209L635.7 207L635.7 205L635.7 203L635.7 201L635.7 199L635.7 197L635.9 195L636.1 194.1L636.4 193L637.3 191L638.1 189.8L638.8 189L640.1 187.9L642.1 187.4L644.1 188.2L644.9 189L646.1 190.4L646.5 191L647.5 193L648.1 194.2L648.5 195L649.5 197L650.1 197.9L651 199L652.1 200.2L653.1 201L654.1 201.7L655.8 203L656.1 203.3L657.7 205L658.1 205.5L659 207L659.8 209L660.1 210.6L660.2 211L660.3 213L660.3 215L660.3 217L660.3 219L660.3 221L660.2 223L660.1 224L660 225L659.3 227L658.1 229L658.1 229L656.4 231L656.1 231.2L654.1 232.8L653.8 233L652.1 234.3L651.4 235L650.1 236.6L649.8 237L648.8 239L648.2 241L648.1 242.4L648 243L648 245L648 247L648 249L648 251L648 253L648 255L648 257L648 259L648 261L648 263L648 265L648 267L648 269L648 271L648 273L648 275L648 277L648 279L648 281L648 283L648 285L648 287L648 289L648 291L648 293L648 295L648 297L648 299L648.1 300.8L648.1 301L648.5 303L649.2 305L650.1 306.4L650.6 307L652.1 308.5L653.5 309L654.1 309.2L654.7 309L656.1 308.5L657.7 307L658.1 306.5L659 305L659.8 303L660.1 301.4L660.2 301L660.3 299L660.3 297L660.3 295L660.3 293L660.3 291L660.3 289L660.3 287L660.3 285L660.3 283L660.3 281L660.3 279L660.3 277L660.3 275L660.4 273L660.7 271L661.5 269L662.1 268L662.8 267L664.1 265.7L665.1 265L666.1 264.4L668.1 263.9L670.1 263.8L672.1 263.8L674.1 263.7L676.1 263.7L678.1 263.4L679 263L680.1 262.5L681.8 261L682.1 260.7L683.3 259L684.1 257.6L684.4 257L685.3 255L686.1 253.4L686.3 253L687.8 251L688.1 250.7L690 249L690.1 248.9L692.1 247.4L692.6 247L694.1 245.6L694.6 245L695.9 243L696.1 242.5L696.7 241L697 239L697.1 237L697.1 235L697.1 233L697.1 231L697.1 229L697.1 227L697.1 225L697.1 223L697.1 221L697.1 219L697.1 217L697.1 215L697.1 213L697.2 211L697.6 209L698.1 207.6L698.4 207L699.7 205L700.1 204.5L701.9 203L702.1 202.9L704.1 202.1L706.1 201.8L708.1 201.8L710.1 201.7L712.1 201.7L714.1 201.6L716 201L716.1 201L718.1 199.6L718.7 199L720.1 197.1L720.2 197L721.1 195L721.5 193L721.7 191L721.7 189L721.7 187L721.7 185L721.7 183L721.7 181L721.7 179L721.7 177L721.7 175L721.7 173L721.7 171L721.7 169L721.7 167L721.7 165L721.7 163L721.7 161L721.7 159L721.7 157L721.7 155L721.7 153L721.7 151L721.6 149L721.2 147L720.4 145L720.1 144.4L719.1 143L718.1 141.8L717.2 141L716.1 140.2L714.5 139L714.1 138.7L712.4 137L712.1 136.7L710.9 135L710.1 133.5L709.9 133L708.9 131L708.1 129.3L707.9 129L706.4 127L706.1 126.6L704.3 125L704.1 124.9L702.1 123.4L701.6 123L700.1 121.5L699.7 121L698.4 119L698.1 118.4L697.6 117L697.2 115L697.1 113L697.1 111L697.1 109L697.1 107L697.1 105L697.1 103L697.1 101L697.1 99L697.1 97L697.1 95L697.1 93L697.1 91L697.1 89L697 87L696.7 85L696.1 83.3L696 83L694.8 81L694.1 80.1L693 79L692.1 78.1L690.7 77L690.1 76.6L688.4 75L688.1 74.7L686.8 73L686.1 71.7L685.8 71L685.2 69L684.1 69L682.1 69L680.1 69L678.1 69L676.1 69L674.1 69L672.1 69L670.1 69L668.1 69L666.1 69L664.1 69L662.1 69L660.1 69L659.9 69L659.4 71L658.3 73L658.1 73.3L656.6 75L656.1 75.4L654.1 76.1L652.1 75.4L651.7 75L650.1 73.2L650 73L648.9 71L648.3 69L648.1 69L646.1 69L644.1 69L642.1 69L640.1 69L638.1 69L636.1 69L635.7 69L635.7 71L635.7 73L635.7 75L635.7 77L635.7 79L635.7 81L635.7 83L635.5 85L634.9 87L634.1 88.6L633.9 89L632.3 91L632.1 91.1L630.1 92.5L628.3 93L628.1 93.1L626.1 93.2L624.1 93.2L622.1 93.2L620.1 93.2L618.1 93.2L616.1 93.2L614.1 93.2L612.1 93.3L610.1 93.3L608.1 93.3L606.1 93.5L604.1 94.2L603 95L602.1 95.8L601.1 97L600.1 98.5L599.9 99L599.2 101L598.9 103L598.9 105L598.9 107L598.9 109L598.9 111L598.9 113L598.8 115L598.4 117L598.1 117.9L597.6 119L596.3 121L596.1 121.3L594.4 123L594.1 123.2L592.1 124.7L591.7 125L590.1 126.4L589.6 127L588.1 129L588.1 129L587.2 131L586.8 133L586.6 135L586.6 137L586.6 139L586.6 141L586.6 143L586.6 145L586.4 147L586.1 148L585.8 149L584.7 151L584.1 151.9L582.9 153L582.1 153.6L580.1 154.1L578.1 153.2L577.9 153L576.2 151L576.1 150.9L575.1 149L574.6 147L574.4 145L574.3 143L574.3 141L574.3 139L574.3 137L574.3 135L574.3 133L574.3 131L574.3 129L574.3 127L574.3 125L574.3 123L574.3 121L574.3 119L574.3 117L574.3 115L574.3 113L574.3 111L574.3 109L574.3 107L574.3 105L574.3 103L574.3 101L574.3 99L574.3 97L574.3 95L574.3 93L574.3 91L574.3 89L574.3 87L574.3 85L574.3 83L574.3 81L574.3 79L574.3 77L574.3 75L574.3 73L574.3 71L574.3 69L574.1 69L572.1 69L570.1 69L568.1 69L566.1 69L564.1 69L562.1 69L560.1 69L558.1 69L556.1 69L554.1 69L552.1 69L550.1 69L548.1 69L546.1 69L544.1 69L542.1 69L540.1 69L538.1 69L537.5 69L537.5 71L537.5 73L537.5 75L537.5 77L537.5 79L537.5 81L537.5 83L537.5 85L537.5 87L537.5 89L537.5 91L537.5 93L537.5 95L537.5 97L537.4 99L537.2 101L536.5 103L536.1 103.7L535.3 105L534.1 106.3L533 107L532.1 107.5L530.1 107.3L529.7 107L528.1 105.8L527.4 105L526.2 103L526.1 102.8L525.5 101L525.3 99L525.2 97L525.2 95L525.2 93L525.2 91L525.2 89L525.2 87L525.2 85L525.2 83L525.2 81L525.2 79L525.2 77L525.2 75L525.2 73L525.2 71L525.2 69L524.1 69L522.1 69L520.1 69L518.1 69L516.1 69L514.1 69L512.1 69L510.1 69L508.1 69L506.1 69L504.1 69L502.1 69L500.1 69L498.1 69L496.1 69L494.1 69L492.1 69L490.1 69L488.1 69L486.1 69L484.1 69L482.1 69L480.1 69L478.1 69L476.1 69L474.1 69L472.1 69L470.1 69L468.1 69L466.1 69L464.1 69L462.1 69L460.1 69L458.1 69L456.1 69L455 69ZM463.9 397L463.8 399L463.8 401L463.8 403L463.8 405L463.8 407L463.8 409L463.8 411L464.1 411L466.1 411L468.1 411L470.1 411L472.1 411L474.1 411L476.1 411L478.1 411L480.1 411L482.1 411L484.1 411L486.1 411L488.1 411L488.4 411L488.4 409L488.4 407L488.4 405L488.4 403L488.4 401L488.3 399L488.2 397L488.1 396.1L487.9 395L487.1 393L486.1 391.4L485.8 391L484.1 389.3L483.6 389L482.1 388.2L480.1 387.8L478.1 387.8L476.1 387.8L474.1 387.8L472.1 387.8L470.1 388.2L468.6 389L468.1 389.3L466.4 391L466.1 391.3L465 393L464.3 395L464.1 395.9ZM526 239L525.4 241L525.2 243L525.2 245L525.2 247L525.2 249L525.2 251L525.2 253L525.4 255L525.8 257L526.1 257.7L526.8 259L528.1 260.8L528.3 261L530.1 262.3L532.1 262.5L534.1 261.3L534.4 261L535.9 259L536.1 258.7L536.9 257L537.3 255L537.5 253L537.5 251L537.5 249L537.5 247L537.5 245L537.4 243L537.2 241L536.7 239L536.1 237.8L535.6 237L534.1 235.2L533.8 235L532.1 234L530.1 234.2L528.9 235L528.1 235.7L527.1 237L526.1 238.8ZM624.1 379L623.6 381L623.5 383L623.4 385L623.4 387L623.4 389L623.4 391L623.4 393L623.4 395L623.4 397L623.4 399L623.4 401L623.4 403L623.4 405L623.4 407L623.4 409L623.4 411L624.1 411L626.1 411L628.1 411L630.1 411L632.1 411L634.1 411L635.7 411L635.7 409L635.7 407L635.7 405L635.7 403L635.7 401L635.7 399L635.7 397L635.7 395L635.7 393L635.7 391L635.7 389L635.7 387L635.7 385L635.7 383L635.5 381L635.1 379L634.2 377L634.1 376.8L632.6 375L632.1 374.5L630.1 373.5L628.1 373.8L626.6 375L626.1 375.4L625 377L624.1 378.9ZM661.1 363L660.5 365L660.3 367L660.3 369L660.3 371L660.3 373L660.3 375L660.3 377L660.3 379L660.3 381L660.3 383L660.3 385L660.3 387L660.3 389L660.3 391L660.3 393L660.3 395L660.3 397L660.3 399L660.3 401L660.3 403L660.3 405L660.3 407L660.3 409L660.3 411L662.1 411L664.1 411L666.1 411L668.1 411L670.1 411L672.1 411L674.1 411L676.1 411L678.1 411L680.1 411L682.1 411L684.1 411L685.4 411L686.1 409L686.1 408.9L687.3 407L688.1 406L689.1 405L690.1 404.2L691.6 403L692.1 402.6L693.9 401L694.1 400.7L695.4 399L696.1 397.6L696.3 397L696.9 395L697.1 393L697.1 391L697.1 389L697.1 387L697.1 385L697.1 383L697.1 381L697.1 379L697.1 377L697.1 375L697.1 373L696.1 372.2L694.1 372.2L692.1 371.9L690.1 371.2L689.8 371L688.1 369.8L687.4 369L686.1 367.1L686 367L685.1 365L684.2 363L684.1 362.9L683 361L682.1 359.8L681.3 359L680.1 358L678.1 357.1L677.4 357L676.1 356.8L674.1 356.8L672.1 356.8L670.1 356.8L668.1 356.9L667.7 357L666.1 357.4L664.1 358.7L663.7 359L662.1 361L662.1 361ZM697.4 349L697.2 351L697.1 353L697.1 355L697.1 357L697.1 359L697.1 361L697.1 363L697.1 365L697.1 367L697.1 369L697.1 371L698.1 372.2L700.1 372.2L702.1 371.9L704.1 371.2L704.4 371L706.1 369.8L706.8 369L708.1 367.1L708.2 367L708.9 365L709.3 363L709.4 361L709.4 359L709.4 357L709.4 355L709.4 353L709.3 351L709.1 349L708.4 347L708.1 346.4L707.2 345L706.1 343.8L704.9 343L704.1 342.6L702.1 342.7L701.6 343L700.1 344.1L699.3 345L698.1 347L698.1 347ZM734 103L734 105L734 107L734 109L734 111L734 113L734 115L734 117L734 119L734 121L734 123L734 125L734 127L734 129L734 131L734 133L734 135L734 137L734 139L734 141L734 143L734 145L734 147L734 149L734 151L734 153L734 155L734 157L734 159L734 161L734 163L734 165L734 167L734 169L734 171L734 173L734 175L734 177L734 179L734 181L734 183L734 185L734 187L734 189L734 191L734.1 192.5L734.1 193L734.6 195L735.5 197L736.1 198L736.9 199L738.1 200.2L739.1 201L740.1 201.7L741.7 203L742.1 203.3L743.7 205L744.1 205.5L745 207L746 209L746.1 209.2L746.9 211L748.1 213L748.1 213.1L749.8 215L750.1 215.3L752.1 216.1L754.1 215.6L754.9 215L756.1 213.8L756.7 213L757.8 211L758.1 210.4L758.7 209L759.7 207L760.1 206.4L761.1 205L762.1 203.9L763.3 203L764.1 202.5L766.1 201.9L768.1 201.8L770.1 201.8L772.1 201.7L774.1 201.7L776.1 201.4L777.2 201L778.1 200.6L780.1 199L780.1 199L781.5 197L782.1 195.9L782.5 195L782.9 193L783.1 191L783.1 189L783.1 187L783.1 185L783.1 183L783.1 181L783.1 179L783.1 177L783.1 175L783.1 173L783.1 171L783.1 169L783.1 167L783 165L782.8 163L782.1 161L782.1 161L780.9 159L780.1 158L779.1 157L778.1 156.1L776.6 155L776.1 154.6L774.2 153L774.1 152.9L772.6 151L772.1 150.2L771.5 149L770.6 147L770.1 146L769.6 145L768.3 143L768.1 142.8L766.3 141L766.1 140.8L764.1 139.3L763.7 139L762.1 137.7L761.5 137L760.1 135.1L760 135L759.1 133L758.7 131L758.5 129L758.5 127L758.5 125L758.5 123L758.5 121L758.5 119L758.3 117L758.1 116.3L757.7 115L756.7 113L756.1 112.2L755.1 111L754.1 110.1L752.7 109L752.1 108.5L750.2 107L750.1 106.9L748.4 105L748.1 104.6L747.2 103L746.2 101L746.1 100.7L745.3 99L744.1 97L744.1 97L742.1 95L742.1 95L740.1 94.3L738.1 95L738.1 95L736.1 97L736.1 97L734.9 99L734.3 101L734.1 102.3ZM747.2 347L746.5 349L746.3 351L746.2 353L746.2 355L746.2 357L746.2 359L746.2 361L746.2 363L746.2 365L746.2 367L746.2 369L746.2 371L746.2 373L746.2 375L746.2 377L746.2 379L746.2 381L746.2 383L746.2 385L746.2 387L746.2 389L746.2 391L746.2 393L746.2 395L746.2 397L746.2 399L746.2 401L746.2 403L746.2 405L746.2 407L746.2 409L746.2 411L748.1 411L750.1 411L752.1 411L754.1 411L756.1 411L758.1 411L760.1 411L762.1 411L764.1 411L766.1 411L768.1 411L770.1 411L772.1 411L774.1 411L776.1 411L778.1 411L780.1 411L780.1 410.8L780.2 409L780.5 407L780.8 405L781.1 403L781.5 401L782 399L782.1 398.4L782.5 397L782.9 395L783 393L783.1 391L783.1 389L783.1 387L783.1 385L783.1 383L783.1 381L783.1 379L783.1 377L783.1 375L783.1 373L783.1 371L783.1 369L783 367L782.8 365L782.3 363L782.1 362.6L781.2 361L780.1 359.5L779.6 359L778.1 357.6L777.3 357L776.1 356.1L774.8 355L774.1 354.4L773 353L772.1 351.7L771.7 351L770.8 349L770.1 347.5L769.9 347L768.6 345L768.1 344.3L766.7 343L766.1 342.5L764.1 341.6L762.1 341.3L760.1 341.3L758.1 341.3L756.1 341.3L754.1 341.4L752.1 341.9L750.3 343L750.1 343.1L748.4 345L748.1 345.4ZM795.6 303L795.4 305L795.4 307L795.4 309L795.4 311L795.4 313L795.4 315L795.5 317L796 319L796.1 319.3L796.9 321L798.1 322.7L798.5 323L800.1 324.2L802.1 324.5L804.1 323.5L804.6 323L806.1 321L806.1 321L807 319L807.5 317L807.6 315L807.6 313L807.6 311L807.6 309L807.6 307L807.6 305L807.4 303L806.8 301L806.1 299.5L805.8 299L804.1 297L804.1 297L802.1 296L800.1 296.3L799.1 297L798.1 297.8L797.2 299L796.2 301L796.1 301.2ZM809.9 263L809.5 265L809.1 267L808.6 269L808.3 271L808.6 273L809.5 275L810.1 275.8L811.3 277L812.1 277.6L814.1 278.1L816.1 277.2L816.3 277L818.1 275L818.1 275L819.1 273L819.7 271L819.9 269L819.9 267L819.9 265L819.9 263L819.9 261L819.8 259L819.4 257L818.1 255.1L818 255L816.1 253.7L814.1 253.4L812.1 254.8L811.9 255L811 257L810.5 259L810.2 261L810.1 261.5ZM846 377L845.1 379L844.7 381L844.5 383L844.5 385L844.5 387L844.5 389L844.5 391L844.5 393L844.5 395L844.5 397L844.5 399L844.5 401L844.5 403L844.5 405L844.5 407L844.5 409L844.5 411L846.1 411L848.1 411L850.1 411L852.1 411L854.1 411L856.1 411L858.1 411L860.1 411L862.1 411L864.1 411L866.1 411L868.1 411L870.1 411L872.1 411L874.1 411L876.1 411L878.1 411L880.1 411L881.3 411L881.3 409L881.3 407L881.3 405L881.3 403L881.3 401L881.3 399L881.3 397L881.3 395L881.3 393L881.3 391L881.3 389L881.3 387L881.3 385L881.3 383L881.1 381L880.7 379L880.1 377.6L879.8 377L878.3 375L878.1 374.8L876.1 373.2L875.5 373L874.1 372.5L872.1 372.3L870.1 372.3L868.1 372.3L866.1 372.3L864.1 372.3L862.1 372.3L860.1 372.3L858.1 372.3L856.1 372.3L854.1 372.3L852.1 372.4L850.1 373L850.1 373L848.1 374.4L847.5 375L846.1 376.8ZM881.6 163L881.4 165L881.3 167L881.3 169L881.3 171L881.3 173L881.3 175L881.4 177L881.8 179L882.1 179.9L882.6 181L883.9 183L884.1 183.2L886.1 184.7L888.1 185L890.1 183.9L891 183L892.1 181.4L892.4 181L893.1 179L893.5 177L893.6 175L893.6 173L893.6 171L893.6 169L893.6 167L893.5 165L893.3 163L892.6 161L892.1 160L891.4 159L890.1 157.6L889.1 157L888.1 156.5L886.1 156.8L885.7 157L884.1 158.3L883.5 159L882.3 161L882.1 161.6ZM894 257L893.7 259L893.6 261L893.6 263L893.6 265L893.6 267L893.6 269L893.6 271L893.6 273L893.6 275L893.6 277L893.6 279L893.6 281L893.6 283L893.6 285L893.6 287L893.6 289L893.6 291L893.6 293L893.6 295L893.6 297L893.6 299L893.7 301L894.1 303L894.1 303.1L894.9 305L896.1 306.9L896.2 307L898.1 308.6L899.7 309L900.1 309.1L900.3 309L902.1 308.2L903.3 307L904.1 305.9L904.6 305L905.4 303L905.8 301L905.9 299L905.9 297L905.9 295L905.9 293L905.9 291L905.9 289L906.1 287.6L906.2 287L906.9 285L908 283L908.1 282.9L909.8 281L910.1 280.7L912.1 279.2L912.4 279L914.1 277.6L914.7 277L916.1 275.4L916.3 275L917.4 273L917.9 271L918.1 269.2L918.1 269L918.2 267L918.2 265L918.2 263L918.2 261L918.1 259.6L918.1 259L917.6 257L916.3 255L916.1 254.8L914.1 253.4L913.2 253L912.1 252.6L910.1 252.2L908.1 252.2L906.1 252.2L904.1 252.2L902.1 252.2L900.1 252.4L898.1 252.9L897.8 253L896.1 254L895 255L894.1 256.7ZM956 347L955.3 349L955.1 351L955 353L955 355L955 357L955 359L955 361L955 363L955 365L955 367L955 369L955 371L955 373L955 375L955 377L955 379L955 381L955 383L955 385L955 387L955 389L955 391L955 393L955 395L955 397L955 399L955 401L955 403L955 405L955 407L955 409L955 411L956.1 411L958.1 411L960.1 411L962.1 411L964.1 411L966.1 411L968.1 411L970.1 411L972.1 411L974.1 411L976.1 411L978.1 411L979.6 411L979.6 409L979.6 407L979.6 405L979.6 403L979.6 401L979.6 399L979.6 397L979.6 395L979.6 393L979.6 391L979.6 389L979.6 387L979.6 385L979.6 383L979.6 381L979.6 379L979.6 377L979.6 375L979.6 373L979.6 371L979.6 369L979.6 367L979.8 365L980.1 363.9L980.4 363L981.4 361L982.1 360L983 359L984.1 358L985.4 357L986.1 356.5L987.9 355L988.1 354.8L989.7 353L990.1 352.4L990.9 351L991.5 349L991.8 347L991.8 345L991.8 343L991.8 341L991.8 339L991.8 337L991.8 335L991.8 333L991.8 331L991.8 329L991.8 327L991.8 325L991.8 323L991.8 321L991.7 319L991.2 317L990.3 315L990.1 314.6L988.8 313L988.1 312.3L986.1 311.3L984.1 311.4L982.1 312L980.1 312.7L979 313L978.1 313.2L976.1 313.8L974.1 314.5L973.4 315L972.1 316.2L971.5 317L970.6 319L970.1 321L970.1 321L969.8 323L969.5 325L969.1 327L968.7 329L968.1 331L968.1 331.1L967.5 333L966.6 335L966.1 336L965.5 337L964.1 338.8L963.9 339L962.1 340.5L961.5 341L960.1 342L959 343L958.1 343.8L957.2 345L956.1 346.8ZM1044.1 385L1044.1 387L1044.1 389L1044.1 391L1044.1 393L1044.1 395L1044.1 397L1044.1 399L1044.1 401L1044.1 403L1044.1 405L1044.1 407L1044.1 409L1044.1 411L1044.1 411L1046.1 411L1048.1 411L1050.1 411L1052.1 411L1054.1 411L1056.1 411L1058.1 411L1060.1 411L1062.1 411L1064.1 411L1066.1 411L1068.1 411L1070.1 411L1072.1 411L1074.1 411L1076.1 411L1077.8 411L1077.8 409L1077.8 407L1077.8 405L1077.8 403L1077.8 401L1077.8 399L1077.8 397L1077.8 395L1077.8 393L1077.8 391L1077.8 389L1077.8 387L1077.8 385L1077.8 383L1077.8 381L1077.8 379L1077.8 377L1077.8 375L1077.8 373L1077.8 371L1077.8 369L1077.8 367L1077.6 365L1077 363L1076.1 361.2L1076 361L1074.3 359L1074.1 358.8L1072.1 357.5L1070.4 357L1070.1 356.9L1068.1 356.8L1066.1 356.8L1064.1 356.8L1062.1 356.8L1060.7 357L1060.1 357.1L1058.1 357.9L1056.8 359L1056.1 359.6L1055.1 361L1054.1 362.7L1053.9 363L1053 365L1052.1 366.9L1052 367L1050.8 369L1050.1 369.8L1049.1 371L1048.1 372.1L1047.5 373L1046.2 375L1046.1 375.1L1045.3 377L1044.6 379L1044.3 381L1044.1 383L1044.1 384.9ZM1054 239L1053.5 241L1053.3 243L1053.2 245L1053.2 247L1053.2 249L1053.2 251L1053.3 253L1053.4 255L1053.9 257L1054.1 257.6L1054.8 259L1056.1 260.8L1056.3 261L1058.1 262.3L1060.1 262.5L1062.1 261.4L1062.5 261L1064 259L1064.1 258.8L1064.9 257L1065.3 255L1065.5 253L1065.5 251L1065.5 249L1065.5 247L1065.5 245L1065.5 243L1065.3 241L1064.7 239L1064.1 237.7L1063.7 237L1062.1 235.1L1061.9 235L1060.1 234L1058.1 234.2L1057 235L1056.1 235.7L1055.1 237L1054.1 238.9Z" fill="#00ff00" fill-rule="evenodd"/>
<path d="M126.1 338.7L128.1 338.7L130.1 338.7L132.1 338.7L134.1 338.7L136.1 338.8L137 339L138.1 339.3L140.1 340.7L140.4 341L142.1 342.8L142.3 343L143.9 345L144.1 345.3L145.2 347L146.1 349L146.1 349L146.5 351L146.6 353L146.6 355L146.6 357L146.6 359L146.5 361L146.5 363L146.2 365L146.1 365.4L145.7 367L145.2 369L144.8 371L144.4 373L144.1 374.5L144 375L143.7 377L143.5 379L143.3 381L143.3 383L143.3 385L143.3 387L143.3 389L143.3 391L143.3 393L143.3 395L143.3 397L143.3 399L143.3 401L143.3 403L143.3 405L143.3 407L143.3 409L143.3 411M203.9 411L203.9 409L203.9 407L203.9 405L203.9 403L203.9 401L203.9 399L204 397L204.1 396.1L204.2 395L204.7 393L205.2 391L205.7 389L206.1 387L206.1 386.8L206.4 385L206.7 383L207.1 381L207.5 379L208.1 377.1L208.1 377L209 375L210 373L210.1 372.9L211.7 371L212.1 370.6L214.1 369.8L216.1 369.7L218.1 369.7L220.1 369.7L222.1 369.7L224.1 370L226.1 370.6L226.7 371L228.1 372L229.1 373L230.1 374.2L230.6 375L231.6 377L232.1 378.3L232.4 379L233.3 381L234.1 382.4L234.5 383L236.1 384.9L236.2 385L237.7 387L238.1 387.6L238.9 389L239.9 391L240.1 391.4L240.7 393L241.2 395L241.4 397L241.5 399L241.5 401L241.5 403L241.5 405L241.5 407L241.5 409L241.5 411M232.6 69L232.6 71L232.5 73L232.5 75L232.5 77L232.5 79L232.5 81L232.5 83L232.3 85L232.1 86.2L231.9 87L231.4 89L231 91L230.5 93L230.2 95L230.1 95.3L229.8 97L229.5 99L229.3 101L229.3 103L229.2 105L229.2 107L229.2 109L229.2 111L229.2 113L229.3 115L229.4 117L229.6 119L229.9 121L230.1 122.2L230.2 123L230.6 125L231.1 127L231.6 129L232.1 131L232.1 131.3L232.4 133L232.5 135L232.5 137L232.5 139L232.5 141L232.5 143L232.5 145L232.5 147L232.5 149L232.5 151L232.5 153L232.5 155L232.5 157L232.5 159L232.5 161L232.3 163L232.1 164.1L231.9 165L231.1 167L230.1 168.8L229.9 169L228.2 171L228.1 171.1L226.1 172.5L225.4 173L224.1 173.9L222.9 175L222.1 175.9L221.4 177L220.6 179L220.3 181L220.3 183L220.3 185L220.3 187L220.3 189L220.2 191L220.1 193L220.1 193L219.8 195L219.3 197L218.8 199L218.4 201L218.1 202.3L218 203L217.6 205L217.3 207L217.1 209L217 211L217 213L217 215L217 217L217 219L217 221L216.9 223L216.8 225L216.3 227L216.1 227.6L215.6 229L214.7 231L214.1 232.1L213.5 233L212.1 234.9L212 235L210.4 237L210.1 237.4L209 239L208.3 241L208.1 242.4L208 243L208 245L208 247L208 249L208 251L207.9 253L207.8 255L207.5 257L207 259L206.5 261L206.1 262.9L206.1 263L205.7 265L205.3 267L205 269L204.7 271L204.5 273L204.3 275L204.1 276.7L204.1 277L203.9 279L203.7 281L203.5 283L203.4 285L203.3 287L203.4 289L203.5 291L203.7 293L203.9 295L204.1 297L204.1 297.3L204.3 299L204.4 301L204.3 303L204.1 303.9L203.8 305L203 307L202.1 308.9L202 309L200.2 311L200.1 311.2L198.1 311.5L196.9 311L196.1 310.5L194.6 309L194.1 308.4L193.3 307L192.4 305L192.1 303.9L191.9 303L191.6 301L191.6 299L191.6 297L191.6 295L191.6 293L191.6 291L191.6 289L191.8 287L192.1 285.8L192.3 285L192.8 283L193.3 281L193.7 279L194.1 277L194.1 276.8L194.4 275L194.7 273L194.8 271L194.9 269L194.9 267L194.9 265L194.9 263L194.9 261L194.9 259L194.8 257L194.7 255L194.5 253L194.1 251L194.1 250.7L193.8 249L193.4 247L192.9 245L192.4 243L192.1 242.2L191.7 241L190.6 239L190.1 238.2L189.2 237L188.1 235.8L187.3 235L186.1 233.8L185.3 233L184.1 231.6L183.6 231L182.1 229.1L182 229L180.6 227L180.1 226.2L179.4 225L178.1 223L178.1 223L176.5 221L176.1 220.6L174.5 219L174.1 218.6L172.6 217L172.1 216.5L170.9 215L170.1 214L169.4 213L168.1 211.1L168 211L166.8 209L166.1 207.9L165.4 207L164.1 205.5L163.5 205L162.1 204L160.2 203L160.1 203L158.1 202.2L156.1 201.5L154.1 201L154.1 201L152.1 200.6L150.1 200.3L148.1 200.2L146.1 200.2L144.1 200.2L142.1 200.2L140.1 200.2L138.1 200.4L136.1 200.7L134.9 201L134.1 201.2L132.1 201.8L130.1 202.5L128.7 203L128.1 203.3L126.1 203.9M1014.3 411L1014.3 409L1014.3 407L1014.3 405L1014.3 403L1014.3 401L1014.4 399L1014.4 397L1014.7 395L1015.2 393L1016 391L1016.1 390.9L1017.3 389L1018.1 388.1L1019.6 387L1020.1 386.7L1022.1 386.5L1022.7 387L1024.1 388.1L1024.7 389L1025.8 391L1026.1 391.7L1026.6 393L1027.1 395L1027.3 397L1027.4 399L1027.4 401L1027.4 403L1027.4 405L1027.4 407L1027.4 409L1027.4 411M1094.1 111.3L1092.1 111.3L1090.1 111.3L1088.1 111.3L1086.1 111.2L1085.6 111L1084.1 110.4L1082.7 109L1082.1 108.3L1081.4 107L1080.4 105L1080.1 104.2L1079.7 103L1079.2 101L1078.8 99L1078.5 97L1078.1 95L1078.1 94.8L1077.7 93L1077.3 91L1076.8 89L1076.4 87L1076.2 85L1076.6 83L1077.3 81L1078.1 79.5L1078.4 79L1080.1 77L1080.1 77L1082.1 75.6L1083.6 75L1084.1 74.8L1086.1 74.6L1088.1 74.5L1090.1 74.5L1092.1 74.5L1094.1 74.5" fill="none" stroke="#a8a8a8" stroke-width="1"/>
<path d="M126.1 279.2L128.1 279.2L130.1 279.2L132.1 279.3L134.1 279.3L136.1 279.3L138.1 279.7L140.1 280.7L140.5 281L142.1 282.7L142.4 283L143.5 285L144.1 286.6L144.2 287L144.5 289L144.5 291L144.5 293L144.5 295L144.5 297L144.5 299L144.5 301L144.5 303L144.5 305L144.5 307L144.5 309L144.5 311L144.5 313L144.5 315L144.5 317L144.5 319L144.5 321L144.5 323L144.5 325L144.5 327L144.5 329L144.6 331L145.1 333L146.1 334.8L146.2 335L147.7 337L148.1 337.5L149.4 339L150.1 339.8L151.3 341L152.1 342L153.1 343L154.1 344.2L154.7 345L155.8 347L156.1 348.4L156.2 349L156.1 350.1L156 351L155.5 353L155.1 355L154.7 357L154.4 359L154.1 361L154.1 361L153.8 363L153.4 365L152.9 367L152.2 369L152.1 369.2L151.4 371L150.6 373L150.1 374.3L149.9 375L149.2 377L148.7 379L148.4 381L148.3 383L148.3 385L148.3 387L148.3 389L148.3 391L148.3 393L148.3 395L148.3 397L148.3 399L148.3 401L148.3 403L148.3 405L148.3 407L148.3 409L148.3 411M196.7 411L196.7 409L196.7 407L196.7 405L196.7 403L196.7 401L196.7 399L196.8 397L197.1 395L197.6 393L198.1 391.5L198.3 391L199 389L199.8 387L200.1 386.4L200.6 385L201.2 383L201.8 381L202.1 379.6L202.2 379L202.5 377L202.8 375L203.1 373L203.5 371L204.1 369L204.1 368.8L204.7 367L205.6 365L206.1 363.7L206.4 363L207 361L207.5 359L207.9 357L208.1 356L208.3 355L208.6 353L208.8 351L208.9 349L208.8 347L208.6 345L208.3 343L208.1 342L207.9 341L207.5 339L207.1 337L206.6 335L206.2 333L206.1 332.1L206 331L205.9 329L205.9 327L206.1 325.7L208.1 325.7L210.1 325.6L212.1 325.2L212.4 325L214.1 324L215.2 323L216.1 321.9L216.7 321L217.7 319L218.1 318.2L218.7 317L219.7 315L220.1 314.4L221.2 313L222.1 312L223.3 311L224.1 310.4L226 309L226.1 308.9L227.9 307L228.1 306.8L229.3 305L230.1 303.3L230.3 303L231.2 301L232.1 299.3L232.3 299L234 297L234.1 296.9L236.1 296L238.1 296.3L239 297L240.1 297.9L240.9 299L242 301L242.1 301.5L242.5 303L242.7 305L242.8 307L242.8 309L242.8 311L242.8 313L242.8 315L242.8 317L242.8 319L242.8 321L242.8 323L242.8 325L242.8 327L242.8 329L242.8 331L242.8 333L242.8 335L242.8 337L242.8 339L242.8 341L242.8 343L242.8 345L242.8 347L242.8 349L242.8 351L242.8 353L242.8 355L242.8 357L242.8 359L242.8 361L242.8 363L242.8 365L242.8 367L242.8 369L242.8 371L242.8 373L242.8 375L242.8 377L243 379L243.5 381L244.1 382.8L244.2 383L244.8 385L245.3 387L245.6 389L246 391L246.1 392L246.2 393L246.4 395L246.5 397L246.5 399L246.5 401L246.5 403L246.5 405L246.5 407L246.5 409L246.5 411M304.2 69L304.2 71L304.2 73L304.2 75L304.2 77L304.2 79L304.2 81L304.1 83L304.1 83.2L303.9 85L303.4 87L302.3 89L302.1 89.3L300.6 91L300.1 91.4L298.1 92.2L296.1 91.5L295.5 91L294.1 89.6L293.7 89L292.6 87L292.1 85.9L291.7 85L290.8 83L290.1 81.8L289.5 81L288.1 79.3L287.7 79L286.1 78L284.1 77.4L282.1 77.3L280.1 77.3L278.1 77.3L276.1 77.3L274.1 77.3L272.1 77.3L270.1 77.3L268.1 77.3L266.1 77.3L264.1 77.3L262.1 77.3L260.1 77.3L258.1 77.3L256.1 77.3L254.1 77.3L252.1 77.3L250.1 77.5L248.1 78.2L247 79L246.1 79.8L245.1 81L244.1 82.6L243.9 83L243 85L242.1 86.9L242.1 87L241 89L240.1 90.3L239.6 91L238.1 92.8L238 93L236.7 95L236.1 96L235.7 97L235 99L234.5 101L234.3 103L234.3 105L234.3 107L234.3 109L234.3 111L234.3 113L234.3 115L234.6 117L235 119L235.7 121L236.1 122.3L236.4 123L237.2 125L237.9 127L238.1 127.4L238.7 129L239.2 131L239.5 133L239.6 135L239.7 137L239.7 139L239.7 141L239.7 143L239.7 145L239.7 147L239.9 149L240.1 151L240.1 151.2L240.3 153L240.7 155L241 157L241.5 159L242 161L242.1 161.4L242.5 163L242.7 165L242.8 167L242.8 169L242.8 171L242.8 173L242.7 175L242.7 177L242.4 179L242.1 180L241.9 181L241.4 183L240.9 185L240.6 187L240.2 189L240.1 190L239.9 191L239.6 193L239.1 195L238.4 197L238.1 197.8L237.3 199L236.1 200.6L235.3 201L234.1 201.6L232.1 201.7L230.1 201.8L228.1 201.8L226.1 202.3L225.3 203L224.1 204.2L223.7 205L222.9 207L222.3 209L222.1 210.6L222.1 211L222 213L222 215L221.9 217L221.9 219L221.9 221L221.9 223L221.8 225L221.7 227L221.4 229L221.2 231L220.8 233L220.3 235L220.1 235.9L219.8 237L219.1 239L218.5 241L218.3 243L218.2 245L218.2 247L218.2 249L218.2 251L218.2 253L218.1 254L218 255L217.6 257L216.7 259L216.1 259.9L215.4 261L214.1 262.5L213.7 263L212.3 265L212.1 265.3L211.4 267L210.5 269L210.1 270.1L209.9 271L209.3 273L208.9 275L208.4 277L208.1 278.6L208 279L207.7 281L207.4 283L207.1 285L207 287L207.1 289L207.4 291L207.7 293L208 295L208.1 295.4L208.4 297L208.8 299L209.2 301L209.4 303L209.4 305L209.2 307L208.9 309L208.4 311L208.1 312.4L207.9 313L207.3 315L206.7 317L206.2 319L206.1 320.2L206 321L205.9 323L205.9 325L204.1 325.8L202.1 325.9L200.1 326.3L198.6 327L198.1 327.2L196.2 329L196.1 329.1L194.8 331L194.1 332.1L193.6 333L192.3 335L192.1 335.3L190.7 337L190.1 337.7L188.3 339L188.1 339.1L187.6 339L186.1 338.7L184.3 337L184.1 336.8L182.7 335L182.1 334.1L181.4 333L180.2 331L180.1 330.8L178.8 329L178.1 328.2L176.8 327L176.1 326.4L174.2 325L174.1 324.9L172.1 323.1L172 323L170.6 321L170.1 319.9L169.7 319L169.3 317L169.1 315L169.1 313L169.1 311L169.1 309L169.1 307L169.1 305L169.3 303L169.9 301L170.1 300.5L170.9 299L172.1 297.4L172.5 297L174.1 295.6L174.9 295L176.1 294.1L177.4 293L178.1 292.3L179.2 291L180.1 289.7L180.5 289L181.7 287L182.1 286.4L183 285L184.1 283.5L184.5 283L185.9 281L186.1 280.7L187 279L188 277L188.1 276.8L188.7 275L189.3 273L189.7 271L189.8 269L189.9 267L189.9 265L189.9 263L189.9 261L189.8 259L189.7 257L189.4 255L188.9 253L188.2 251L188.1 250.7L187.3 249L186.2 247L186.1 246.8L184.8 245L184.1 244L183.3 243L182.1 241.6L181.6 241L180.1 239.2L179.9 239L178.2 237L178.1 236.9L176.5 235L176.1 234.5L174.6 233L174.1 232.4L172.8 231L172.1 230.2L171.2 229L170.1 227.3L169.9 227L168.6 225L168.1 224.3L167.1 223L166.1 221.7L165.5 221L164.1 219.1L164 219L162.6 217L162.1 216.4L161.1 215L160.1 213.7L159.5 213L158.1 211.4L157.8 211L156.1 209.5L155.4 209L154.1 208.2L152.1 207.2L151.3 207L150.1 206.7L148.1 206.5L146.1 206.4L144.1 206.4L142.1 206.5L140.1 206.5L138.1 206.8L137.6 207L136.1 207.6L134.1 208.7L133.6 209L132.1 210.2L131.2 211L130.1 212.3L129.4 213L128.1 214.6L127.6 215L126.1 216.2M807.6 411L807.6 409L807.6 407L807.6 405L807.6 403L807.6 401L807.6 399L807.6 397L807.6 395L807.6 393L807.6 391L807.6 389L807.6 387L807.6 385L807.7 383L807.8 381L808.1 379.7L808.3 379L809.2 377L810.1 375.7L810.8 375L812.1 373.9L814.1 373.4L816.1 374.3L816.9 375L818.1 376.5L818.4 377L819.3 379L819.7 381L819.9 383L819.9 385L819.9 387L819.9 389L819.9 391L819.9 393L819.9 395L819.9 397L819.9 399L819.9 401L819.9 403L819.9 405L819.9 407L819.9 409L819.9 411M843.8 69L842.9 71L842.1 72.1L841.4 73L840.1 74.7L839.8 75L838.1 76.9L838 77L836.1 79L836.1 79L834.5 81L834.1 81.6L833.3 83L832.6 85L832.3 87L832.2 89L832.2 91L832.2 93L832.2 95L832.2 97L832.1 99L832.1 99.4L831.9 101L831.2 103L830.1 104.9L830 105L828.2 107L828.1 107.1L826.1 108.2L824.1 108.7L822.1 108.7L820.1 108.7L818.1 108.7L816.1 108.7L814.1 108.3L812.1 107.3L811.7 107L810.1 105.4L809.8 105L808.6 103L808.1 101.5L807.9 101L807.7 99L807.6 97L807.6 95L807.6 93L807.6 91L807.6 89L807.5 87L807.2 85L806.5 83L806.1 82.3L805.3 81L804.1 79.5L803.6 79L802.1 77.7L801.2 77L800.1 76.1L798.9 75L798.1 74.1L797.4 73L796.3 71L796.1 70.4L795.7 69M905.9 411L905.9 409L905.9 407L905.9 405L905.9 403L905.9 401L905.9 399L905.9 397L905.9 395L905.9 393L905.9 391L905.9 389L905.9 387L905.9 385L905.9 383L906.1 381L906.1 380.8L906.5 379L907.4 377L908.1 375.9L908.9 375L910.1 373.8L911.5 373L912.1 372.7L914.1 372.3L916.1 372.3L918.1 372.3L920.1 372.3L922.1 372.3L924.1 372.7L924.7 373L926.1 373.7L927.4 375L928.1 375.8L928.9 377L929.6 379L929.7 381L929.4 383L928.9 385L928.5 387L928.2 389L928.1 389.4L927.9 391L927.6 393L927.4 395L927.3 397L927.3 399L927.3 401L927.3 403L927.3 405L927.3 407L927.3 409L927.3 411M955 69L955 71L955 73L955 75L955 77L955 79L955 81L955 83L954.8 85L954.2 87L954.1 87.2L953.1 89L952.1 90.3L951.3 91L950.1 91.8L948.1 92L946.4 91L946.1 90.8L944.6 89L944.1 88.3L943.4 87L942.5 85L942.1 84L941.6 83L940.4 81L940.1 80.6L938.5 79L938.1 78.7L936.1 77.7L934.1 77.3L932.1 77.3L930.1 77.3L928.1 77.3L926.1 77.4L924.1 77.9L922.3 79L922.1 79.2L920.5 81L920.1 81.6L919.3 83L918.4 85L918.1 85.6L917.5 87L916.3 89L916.1 89.4L914.6 91L914.1 91.4L912.1 92.2L910.1 91.5L909.5 91L908.1 89.5L907.7 89L906.7 87L906.1 85L906.1 84.8L905.9 83L905.9 81L905.9 79L905.9 77L905.9 75L905.9 73L905.9 71L905.9 69M1004.1 411L1004.1 409L1004.1 407L1004.1 405L1004.1 403L1004.1 401L1004.1 399L1004.2 397L1004.5 395L1005 393L1005.5 391L1005.9 389L1006.1 388.1L1006.3 387L1006.6 385L1006.9 383L1007.1 381L1007.2 379L1007.3 377L1007.3 375L1007.3 373L1007.3 371L1007.3 369L1007.3 367L1007.4 365L1007.8 363L1008.1 362.2L1008.6 361L1009.6 359L1010.1 358.1L1011 357L1012.1 355.6L1012.7 355L1014.1 353.2L1014.3 353L1015.4 351L1016.1 349L1016.1 349L1016.4 347L1016.4 345L1016.4 343L1016.4 341L1016.4 339L1016.4 337L1016.5 335L1016.9 333L1017.7 331L1018.1 330.2L1019.1 329L1020.1 328L1022.1 327.8L1023.2 329L1024.1 330.1L1024.5 331L1025.1 333L1025.6 335L1025.9 337L1026.1 338.2L1026.2 339L1026.5 341L1026.9 343L1027.4 345L1027.9 347L1028.1 347.7L1028.4 349L1028.6 351L1028.7 353L1028.7 355L1028.7 357L1028.7 359L1028.7 361L1028.7 363L1028.7 365L1028.7 367L1028.7 369L1028.7 371L1028.7 373L1028.7 375L1028.7 377L1028.9 379L1029.4 381L1030.1 383L1030.1 383.1L1030.7 385L1031.2 387L1031.5 389L1031.8 391L1032.1 393L1032.1 393L1032.3 395L1032.4 397L1032.4 399L1032.4 401L1032.4 403L1032.4 405L1032.4 407L1032.4 409L1032.4 411M1028.7 69L1028.7 71L1028.7 73L1028.7 75L1028.7 77L1028.7 79L1028.7 81L1028.7 83L1028.7 85L1028.7 87L1028.7 89L1028.7 91L1028.7 93L1028.7 95L1028.7 97L1028.7 99L1028.7 101L1028.7 103L1028.7 105L1028.7 107L1028.7 109L1028.7 111L1028.7 113L1028.6 115L1028.2 117L1028.1 117.3L1027.4 119L1026.1 121L1026.1 121L1024.1 122.9L1023.9 123L1022.1 123.9L1020.1 124.2L1018.1 124.2L1016.1 124.2L1014.1 124.2L1012.1 124L1010.1 123.2L1009.9 123L1008.1 121.4L1007.8 121L1006.2 119L1006.1 118.9L1004.8 117L1004.1 115.8L1003.6 115L1002.3 113L1002.1 112.7L1000.7 111L1000.1 110.4L998.3 109L998.1 108.8L996.1 107.3L995.8 107L994.1 105.1L994 105L992.8 103L992.1 101L992.1 100.7L991.9 99L991.8 97L991.8 95L991.8 93L991.8 91L991.8 89L991.7 87L991.4 85L990.7 83L990.1 81.9L989.5 81L988.1 79.3L987.8 79L986.1 77.6L985.4 77L984.1 76L983.1 75L982.1 73.8L981.5 73L980.5 71L980.1 69.7L979.9 69M1094.1 124.3L1092.1 124.3L1090.1 124.2L1088.1 124.2L1086.1 124.2L1084.1 123.8L1082.6 123L1082.1 122.7L1080.3 121L1080.1 120.7L1079 119L1078.1 117.5L1077.9 117L1077 115L1076.2 113L1076.1 112.6L1075.7 111L1075.2 109L1074.8 107L1074.5 105L1074.2 103L1074.1 102.3L1073.8 101L1073.3 99L1072.6 97L1072.1 95.8L1071.6 95L1070.3 93L1070.1 92.7L1068.7 91L1068.1 90.1L1067.3 89L1066.3 87L1066.1 86.3L1065.8 85L1065.6 83L1065.5 81L1065.5 79L1065.5 77L1065.5 75L1065.5 73L1065.5 71L1065.5 69M943.7 239L944.1 238L944.6 237L946.1 235.1L946.2 235L948.1 233.6L950 233L950.1 233L952.1 232.8L954.1 232.8L956.1 232.8L958.1 232.8L960.1 232.8L962.1 232.8L964.1 232.8L966.1 232.8L968.1 232.8L970.1 232.8L972.1 232.8L974.1 232.8L976.1 232.8L978.1 232.8L980.1 232.8L982.1 232.8L984.1 232.8L986.1 232.8L988.1 232.8L990.1 232.8L992.1 232.8L994.1 232.8L996.1 232.9L996.8 233L998.1 233.3L1000.1 234.5L1000.7 235L1002.1 236.7L1002.3 237L1003.3 239L1003.9 241L1004.1 243L1004.1 244L1004.1 245L1004.1 247L1004.1 249L1004.1 251L1004.1 252.4L1004.1 253L1004 255L1003.6 257L1003.1 259L1002.6 261L1002.2 263L1002.1 263.5L1001.8 265L1001.5 267L1001.2 269L1000.9 271L1000.4 273L1000.1 273.9L999.6 275L998.5 277L998.1 277.6L996.1 278.9L995.7 279L994.1 279.2L992.1 279.2L990.1 279.2L988.1 279.2L986.1 279.2L984.1 279.2L982.1 279.2L980.1 279.2L978.1 279.2L976.1 279.2L974.1 279.2L972.1 279.2L970.1 279.2L968.1 279.2L966.1 279.2L964.1 279.2L963.4 279L962.1 278.7L960.1 277.4L959.7 277L958.1 275.3L957.9 275L956.4 273L956.1 272.3L955.5 271L955.1 269L955 267L955 265L955 263L955 261L955 259L954.8 257L954.4 255L954.1 254.3L953.5 253L952.1 251.1L952 251L950.1 249.2L949.9 249L948.1 247.7L947.2 247L946.1 246L945.3 245L944.1 243.2L944 243L943.5 241Z" fill="none" stroke="#a8a8a8" stroke-width="1"/>
<path d="M190.5 411L190.5 409L190.5 407L190.5 405L190.5 403L190.5 401L190.5 399L190.5 397L190.6 395L190.8 393L191 391L191.3 389L191.7 387L192.1 385.2L192.1 385L192.6 383L193.1 381L193.5 379L193.6 377L193.6 375L193.6 373L193.6 371L193.6 369L193.6 367L193.6 365L193.6 363L193.6 361L193.6 359L193.6 357L192.1 356.7L190.1 356.6L188.1 356.3L186.1 355.4L185.6 355L184.1 353.7L183.5 353L182.2 351L182.1 350.8L181.1 349L180.1 347.6L179.7 347L178.1 345.1L178 345L176.1 343.3L174.5 343L174.1 342.9L173.9 343L172.1 344.1L171.3 345L170.1 346.8L170 347L169.1 349L168.2 351L168.1 351.1L167 353L166.1 354.1L165.4 355L164.1 356.4L163.7 357L162.3 359L162.1 359.3L161.3 361L160.6 363L160.1 364.6L160 365L159.7 367L159.4 369L159.1 371L158.7 373L158.3 375L158.1 375.9L157.8 377L157.3 379L157 381L156.8 383L156.8 385L156.8 387L156.8 389L156.8 391L156.8 393L156.8 395L156.8 397L156.8 399L156.8 401L156.8 403L156.8 405L156.8 407L156.8 409L156.8 411M291.9 411L291.9 409L291.9 407L291.9 405L291.9 403L291.9 401L291.9 399L292.1 397L292.1 397L292.7 395L293.9 393L294.1 392.8L295.5 391L296.1 390.3L297.3 389L298.1 388.2L299.4 387L300.1 386.2L301.3 385L302.1 383.9L302.7 383L303.7 381L304.1 380.1L304.6 379L305.7 377L306.1 376.3L307.1 375L308.1 374L309.3 373L310.1 372.4L311.9 371L312.1 370.9L313.9 369L314.1 368.8L315.3 367L316.1 365.9L316.7 365L318.1 363.7L318.9 363L320.1 362.3L322.1 361.9L324 363L324.1 363.1L325.2 365L325.8 367L326.1 368.9L326.1 369L326.4 371L326.8 373L327.2 375L327.7 377L328.1 378.6L328.2 379L328.6 381L328.7 383L328.7 385L328.7 387L328.7 389L328.7 391L328.7 393L328.5 395L328.1 397L328.1 397L327.6 399L327.1 401L326.7 403L326.4 405L326.1 407L326.1 407.1L325.9 409L325.7 411M316.4 69L316.4 71L316.4 73L316.4 75L316.4 77L316.4 79L316.4 81L316.4 83L316.4 85L316.4 87L316.4 89L316.4 91L316.4 93L316.4 95L316.4 97L316.4 99L316.4 101L316.4 103L316.4 105L316.4 107L316.4 109L316.4 111L316.4 113L316.4 115L316.4 117L316.4 119L316.4 121L316.4 123L316.4 125L316.4 127L316.4 129L316.4 131L316.4 133L316.4 135L316.4 137L316.4 139L316.4 141L316.4 143L316.4 145L316.4 147L316.4 149L316.4 151L316.4 153L316.4 155L316.4 157L316.4 159L316.4 161L316.4 163L316.4 165L316.4 167L316.4 169L316.4 171L316.4 173L316.4 175L316.3 177L316.1 178.3L316 179L315.2 181L314.1 182.7L313.9 183L312.1 184.8L311.7 185L310.1 185.8L308.1 186.2L306.1 186.2L304.1 186.2L302.1 186.3L300.1 186.3L298.1 186.3L296.1 186.3L294.1 186.3L292.1 186.2L291.9 185L291.9 183L291.9 181L291.9 179L291.9 177L291.9 175L291.9 173L291.9 171L291.9 169L291.9 167L291.9 165L291.9 163L291.9 161L291.9 159L291.9 157L291.9 155L291.9 153L291.9 151L291.9 149L291.9 147L291.9 145L291.9 143L291.9 141L291.9 139L291.9 137L291.9 135L291.7 133L291.3 131L290.4 129L290.1 128.6L288.8 127L288.1 126.3L286.1 125.4L284.1 125.9L282.7 127L282.1 127.6L281.1 129L280.2 131L280.1 131.5L279.8 133L279.6 135L279.6 137L279.6 139L279.6 141L279.6 143L279.6 145L279.6 147L279.6 149L279.6 151L279.6 153L279.6 155L279.6 157L279.6 159L279.5 161L279.3 163L278.6 165L278.1 166L277.4 167L276.1 168.4L275.1 169L274.1 169.5L272.1 169.2L271.7 169L270.1 167.7L269.5 167L268.3 165L268.1 164.7L267.3 163L266.4 161L266.1 160.5L265.1 159L264.1 157.8L263.1 157L262.1 156.3L260.1 155.6L258.1 155.3L256.1 155.3L254.9 155L255 153L255.1 151L255.2 149L255.5 147L256.1 145.5L256.3 145L257.6 143L258.1 142.4L259.6 141L260.1 140.6L262.1 139.1L262.2 139L264.1 137.3L264.4 137L265.8 135L266.1 134.4L266.7 133L267.1 131L267.3 129L267.3 127L267.3 125L267.3 123L267.3 121L267.3 119L267.1 117L266.5 115L266.1 114.1L265.5 113L264.1 111.3L263.8 111L262.1 109.7L260.1 109L260 109L258.1 108.8L256.1 108.8L254.1 108.8L252.1 108.8L250.1 109L250.1 109L248.1 109.7L246.3 111L246.1 111.1L244.6 113L244.1 114L243.7 115L243.4 117L243.7 119L244.1 120.8L244.2 121L244.6 123L245 125L245.3 127L245.6 129L245.7 131L245.9 133L245.9 135L245.9 137L245.9 139L245.9 141L245.9 143L246 145L246.1 146.7L246.1 147L246.7 149L247.5 151L248.1 152.2L248.9 153L250.1 154.3L252.1 155L252.1 155L254.1 155.2L255.1 157L255 159L255 161L255 163L255 165L255 167L255 169L255 171L255 173L255 175L254.9 177L254.6 179L254.1 180.3L253.8 181L252.6 183L252.1 183.6L250.9 185L250.1 185.9L249.3 187L248.1 188.7L248 189L247.1 191L246.4 193L246.1 194L245.9 195L245.6 197L245.3 199L245 201L244.6 203L244.1 205L244.1 205.2L243.5 207L242.5 209L242.1 209.5L240.5 211L240.1 211.3L238.1 212.5L237.1 213L236.1 213.4L234.1 214.4L233 215L232.1 215.6L230.7 217L230.1 217.8L229.4 219L228.5 221L228.1 222.3L227.9 223L227.7 225L227.7 227L227.9 229L228.1 230.7L228.2 231L228.5 233L228.9 235L229.3 237L229.8 239L230.1 240.3L230.3 241L230.4 243L230.5 245L230.5 247L230.5 249L230.5 251L230.5 253L230.7 255L231.1 257L232 259L232.1 259.2L233.4 261L234.1 261.7L235.6 263L236.1 263.4L238.1 264.9L238.3 265L240.1 266.8L240.2 267L241.6 269L242.1 270.1L242.5 271L243.4 273L244.1 274.2L244.6 275L246.1 276.9L246.2 277L248.1 278.7L248.6 279L250.1 280.1L251.1 281L252.1 282L252.9 283L254.1 285L254.1 285.1L254.7 287L255 289L255 291L255 293L255 295L255 297L255 299L255 301L255 303L255 305L255 307L255 309L255 311L255 313L255 315L255 317L255 319L255 321L255 323L255 325L255 327L255 329L255 331L255 333L255 335L255 337L255 339L255 341L255 343L255 345L255 347L255 349L255 351L255 353L255 355L255 357L255 359L255 361L255 363L255 365L255 367L255 369L255 371L255 373L255 375L255 377L255 379L255 381L255 383L255 385L255 387L255 389L255 391L255 393L255 395L255 397L255 399L255 401L255 403L255 405L255 407L255 409L255 411M402.4 411L402.4 409L402.4 407L402.4 405L402.4 403L402.4 401L402.4 399L402.5 397L402.9 395L403.6 393L404.1 392.2L404.9 391L406.1 389.7L406.9 389L408.1 388.1L409.5 387L410.1 386.6L411.7 385L412.1 384.5L413.2 383L414.1 381L414.1 380.8L414.5 379L414.7 377L414.7 375L414.7 373L414.7 371L414.7 369L414.7 367L414.9 365L415.5 363L416.1 361.7L416.5 361L418.1 359L418.2 359L420.1 357.6L422 357L422.1 357L424.1 356.8L426.1 356.8L428.1 356.8L430.1 356.8L431.9 357L432.1 357L434.1 357.8L435.7 359L436.1 359.3L437.4 361L438.1 362.3L438.4 363L439 365L439.2 367L439.2 369L439.2 371L439.2 373L439.2 375L439.2 377L439.2 379L439.2 381L439.2 383L439.2 385L439.2 387L439.2 389L439.2 391L439.2 393L439.2 395L439.2 397L439.2 399L439.2 401L439.2 403L439.2 405L439.2 407L439.2 409L439.2 411M448.5 69L448.6 71L448.8 73L449.1 75L449.4 77L449.8 79L450.1 80.6L450.2 81L450.7 83L451.1 85L451.4 87L451.5 89L451.5 91L451.5 93L451.5 95L451.5 97L451.5 99L451.2 101L450.5 103L450.1 103.8L449.4 105L448.1 106.5L447.6 107L446.1 108.2L445 109L444.1 109.7L442.7 111L442.1 111.6L441.1 113L440.1 114.7L439.9 115L439 117L438.1 118.9L438 119L436.7 121L436.1 121.7L434.4 123L434.1 123.2L432.1 124L430.1 124.2L428.1 124.2L426.1 124.3L424.1 124.3L422.1 124.5L420.4 125L420.1 125.1L418.1 126.5L417.7 127L416.2 129L416.1 129.1L415.1 131L414.2 133L414.1 133.3L413.2 135L412.1 136.5L411.6 137L410.1 138.2L408.1 138.6L406.1 137.6L405.5 137L404.1 135.3L403.9 135L403 133L402.6 131L402.4 129L402.4 127L402.4 125L402.4 123L402.4 121L402.4 119L402.4 117L402.4 115L402.4 113L402.4 111L402.4 109L402.4 107L402.4 105L402.4 103L402.4 101L402.4 99L402.4 97L402.4 95L402.4 93L402.4 91L402.4 89L402.4 87L402.4 85L402.4 83L402.4 81L402.4 79L402.4 77L402.4 75L402.4 73L402.4 71L402.4 69M500.6 411L500.6 409L500.6 407L500.6 405L500.6 403L500.6 401L500.6 399L500.6 397L500.6 395L500.6 393L500.6 391L500.6 389L500.6 387L500.6 385L500.7 383L500.8 381L501.3 379L502.1 377.1L502.2 377L503.6 375L504.1 374.5L505.8 373L506.1 372.7L508.1 371.3L508.4 371L510.1 369.3L510.4 369L511.7 367L512.1 366L512.5 365L512.8 363L512.9 361L512.9 359L512.9 357L512.9 355L512.9 353L513 351L513.2 349L513.9 347L514.1 346.6L515.1 345L516.1 343.9L517.4 343L518.1 342.6L520.1 342.6L520.7 343L522.1 344L523 345L524.1 346.8L524.2 347L524.9 349L525.1 351L525.2 353L525.2 355L525.2 357L525.2 359L525.2 361L525.3 363L525.7 365L526.1 366.2L526.4 367L527.7 369L528.1 369.4L529.7 371L530.1 371.3L532.1 372.8L532.3 373L534.1 374.5L534.5 375L535.9 377L536.1 377.5L536.6 379L536.6 381L536.1 382.5L535.9 383L534.5 385L534.1 385.5L532.3 387L532.1 387.2L530.1 388.7L529.7 389L528.1 390.6L527.7 391L526.4 393L526.1 393.6L525.4 395L524.5 397L524.1 397.9L523.5 399L522.1 400.8L521.9 401L520.1 402.7L519.7 403L518.1 404.2L517.2 405L516.1 406.1L515.4 407L514.1 409L514.1 409.1L513.5 411M709.4 411L709.4 409L709.4 407L709.4 405L709.4 403L709.4 401L709.4 399L709.5 397L709.9 395L710.1 394.3L710.6 393L712 391L712.1 390.8L714.1 389L714.2 389L716.1 388.1L718.1 387.8L720.1 387.8L722.1 387.8L724.1 387.8L726.1 387.9L728.1 388.4L729.2 389L730.1 389.6L731.4 391L732.1 392L732.7 393L733.5 395L733.8 397L733.9 399L734 401L734 403L734 405L734 407L734 409L734 411M786.7 411L787.2 409L788 407L788.1 406.7L789.2 405L790.1 403.5L790.6 403L792.1 401.1L792.2 401L793.6 399L794.1 398.1L794.6 397L795.1 395L795.3 393L795.4 391L795.4 389L795.4 387L795.4 385L795.4 383L795.4 381L795.4 379L795.4 377L795.4 375L795.4 373L795.4 371L795.4 369L795.4 367L795.6 365L796.1 363.2L796.2 363L797.2 361L798.1 359.8L798.8 359L800.1 357.8L801.2 357L802.1 356.3L803.7 355L804.1 354.6L805.5 353L806.1 352.1L806.7 351L807.6 349L808.1 348L808.6 347L809.8 345L810.1 344.6L811.7 343L812.1 342.7L814.1 341.7L816.1 341.3L818.1 341.3L820.1 341.3L822.1 341.3L824.1 341.3L826.1 341.8L828.1 342.9L828.2 343L830 345L830.1 345.1L831.2 347L831.9 349L832.1 350.6L832.1 351L832.2 353L832.2 355L832.2 357L832.2 359L832.2 361L832.2 363L832.2 365L832.2 367L832.2 369L832.2 371L832.2 373L832.2 375L832.2 377L832.2 379L832.2 381L832.2 383L832.2 385L832.2 387L832.2 389L832.2 391L832.2 393L832.2 395L832.2 397L832.2 399L832.2 401L832.2 403L832.2 405L832.2 407L832.2 409L832.2 411M856.4 69L856.1 70.2L855.8 71L854.8 73L854.1 74L853.3 75L852.1 76.3L851.5 77L850.1 78.4L849.6 79L848.1 80.7L847.9 81L846.4 83L846.1 83.6L845.3 85L844.7 87L844.5 89L844.5 91L844.5 93L844.5 95L844.5 97L844.5 99L844.5 101L844.5 103L844.5 105L844.5 107L844.5 109L844.5 111L844.5 113L844.5 115L844.5 117L844.5 119L844.5 121L844.5 123L844.5 125L844.5 127L844.5 129L844.3 131L844.1 131.9L843.9 133L843 135L842.1 136.3L841.5 137L840.1 138.3L838.8 139L838.1 139.3L836.1 139.7L834.1 139.7L832.1 139.7L830.1 139.7L828.1 139.7L826.1 139.7L824.1 139.7L822.1 139.7L820.1 139.7L818.1 139.7L816.1 139.7L814.1 139.7L812.1 139.7L810.1 139.7L808.1 139.7L806.1 139.7L804.1 139.7L802.1 139.7L800.1 139.7L798.1 139.7L796.1 139.7L794.1 139.7L792.1 139.7L790.1 139.4L788.9 139L788.1 138.7L786.1 137L786.1 137L784.6 135L784.1 134.1L783.5 133L782.6 131L782.1 129.9L781.6 129L780.1 127L780.1 127L778.1 125.1L777.9 125L776.1 123.6L775.3 123L774.1 121.9L773.3 121L772.1 119.1L772 119L771.3 117L770.9 115L770.8 113L770.8 111L770.8 109L770.8 107L770.8 105L770.8 103L770.8 101L770.8 99L770.8 97L770.8 95L770.8 93L770.8 91L770.8 89L770.8 87L770.8 85L770.8 83L770.8 81L770.8 79L770.8 77L770.8 75L770.8 73L770.8 71L770.8 69M893.6 411L893.6 409L893.6 407L893.6 405L893.6 403L893.6 401L893.6 399L893.6 397L893.6 395L893.6 393L893.6 391L893.6 389L893.6 387L893.6 385L893.6 383L893.6 381L893.6 379L893.6 377L893.6 375L893.6 373L893.6 371L893.6 369L893.6 367L893.8 365L894.1 364L894.4 363L895.4 361L896.1 360.1L897 359L898.1 358L899.4 357L900.1 356.5L901.9 355L902.1 354.9L903.7 353L904.1 352.4L904.9 351L905.6 349L905.8 347L905.9 345L905.9 343L905.9 341L905.9 339L905.9 337L906 335L906.1 334.4L906.3 333L907.1 331L908.1 329.4L908.4 329L910.1 327.2L910.4 327L912.1 325.7L913 325L914.1 324.1L915.2 323L916.1 321.8L916.6 321L917.5 319L918 317L918.1 315.5L918.1 315L918.2 313L918.2 311L918.2 309L918.2 307L918.2 305L918.4 303L919 301L920 299L920.1 298.8L921.7 297L922.1 296.7L924.1 295.9L926.1 296.4L926.8 297L928.1 298.3L928.6 299L929.6 301L930.1 302.6L930.2 303L930.4 305L930.4 307L930.4 309L930.4 311L930.4 313L930.4 315L930.4 317L930.4 319L930.4 321L930.4 323L930.4 325L930.4 327L930.4 329L930.5 331L930.7 333L931.2 335L932.1 336.7L932.3 337L933.9 339L934.1 339.2L936.1 340.9L936.2 341L938.1 342.4L938.8 343L940.1 344.4L940.6 345L941.7 347L942.1 348L942.4 349L942.7 351L942.7 353L942.7 355L942.7 357L942.7 359L942.7 361L942.7 363L942.7 365L942.7 367L942.7 369L942.7 371L942.7 373L942.7 375L942.7 377L942.5 379L942.1 381L942.1 381L941.2 383L940.1 384.7L939.9 385L938.1 387L938.1 387L936.6 389L936.1 389.7L935.4 391L934.5 393L934.1 394.3L933.9 395L933.7 397L933.6 399L933.6 401L933.6 403L933.6 405L933.6 407L933.6 409L933.6 411M991.8 411L991.8 409L991.8 407L991.8 405L991.8 403L991.8 401L991.9 399L992 397L992.1 396.1L992.3 395L993.1 393L994.1 391.3L994.3 391L996 389L996.1 388.9L997.7 387L998.1 386.5L998.9 385L999.9 383L1000.1 382.4L1000.5 381L1000.8 379L1001 377L1001 375L1001 373L1001 371L1001 369L1001 367L1001 365L1001.2 363L1001.4 361L1001.7 359L1002 357L1002.1 356.6L1002.4 355L1002.9 353L1003.4 351L1003.8 349L1004.1 347L1004.1 345.7L1004.1 345L1004.1 343L1004.1 341L1004.1 339L1004.1 337L1004.1 335L1004.1 333L1004.1 331L1004.1 329L1004.1 327L1004.1 325L1004.1 323L1004.1 321L1004.3 319L1004.7 317L1005.6 315L1006.1 314.3L1007.1 313L1008.1 311.9L1009.3 311L1010.1 310.4L1011.9 309L1012.1 308.8L1013.9 307L1014.1 306.7L1015.2 305L1015.9 303L1016.1 302.1L1016.3 301L1016.4 299L1016.4 297L1016.4 295L1016.4 293L1016.4 291L1016.5 289L1016.7 287L1017.4 285L1018.1 283.7L1018.6 283L1020.1 281.4L1020.9 281L1022.1 280.4L1024.1 280.8L1024.3 281L1026.1 282.5L1026.5 283L1027.7 285L1028.1 286.1L1028.4 287L1028.6 289L1028.7 291L1028.7 293L1028.7 295L1028.7 297L1028.7 299L1028.7 301L1028.7 303L1028.7 305L1028.7 307L1028.7 309L1028.7 311L1028.7 313L1028.7 315L1028.8 317L1029.2 319L1029.7 321L1030.1 322.6L1030.2 323L1030.6 325L1031 327L1031.3 329L1031.6 331L1031.9 333L1032.1 333.9L1032.4 335L1033.2 337L1034.1 338.9L1034.2 339L1035.6 341L1036.1 341.7L1037.3 343L1038.1 344L1038.8 345L1040 347L1040.1 347.3L1040.7 349L1040.9 351L1041 353L1041 355L1041 357L1041 359L1040.9 361L1040.9 363L1040.6 365L1040.1 366.9L1040.1 367L1039.6 369L1039.1 371L1038.8 373L1038.5 375L1038.2 377L1038.1 378.1L1038 379L1037.9 381L1037.9 383L1037.9 385L1037.9 387L1037.9 389L1037.9 391L1037.9 393L1037.9 395L1037.9 397L1037.9 399L1037.9 401L1037.9 403L1037.9 405L1037.9 407L1037.9 409L1037.9 411M1094.1 294.8L1092.1 294.8L1090.1 294.7L1088.1 294.7L1086.1 294.7L1084.1 294.3L1082.1 293.2L1081.8 293L1080.1 291.2L1080 291L1078.8 289L1078.1 287L1078.1 287L1077.9 285L1077.8 283L1077.8 281L1077.8 279L1077.8 277L1077.8 275L1077.8 273L1077.8 271L1077.8 269L1077.8 267L1077.8 265L1077.8 263L1077.8 261L1077.8 259L1077.8 257L1077.8 255L1077.8 253L1077.8 251L1077.8 249L1077.8 247L1077.8 245L1077.8 243L1077.8 241L1077.8 239L1077.8 237L1077.8 235L1077.8 233L1077.8 231L1077.8 229L1077.8 227L1077.8 225L1077.8 223L1077.8 221L1077.8 219L1077.8 217L1077.8 215L1077.8 213L1077.8 211L1077.8 209L1077.8 207L1077.8 205L1077.8 203L1077.8 201L1077.8 199L1077.8 197L1077.8 195L1077.8 193L1077.8 191L1077.8 189L1077.8 187L1077.8 185L1077.8 183L1077.8 181L1077.8 179L1077.8 177L1077.8 175L1077.8 173L1077.8 171L1077.8 169L1077.8 167L1077.8 165L1077.8 163L1077.8 161L1077.8 159L1077.8 157L1077.8 155L1077.8 153L1077.8 151L1077.7 149L1077.3 147L1076.6 145L1076.1 144.2L1075.3 143L1074.1 141.7L1073.3 141L1072.1 140.1L1070.7 139L1070.1 138.6L1068.5 137L1068.1 136.5L1067 135L1066.1 133L1066.1 132.8L1065.7 131L1065.5 129L1065.5 127L1065.5 125L1065.5 123L1065.5 121L1065.5 119L1065.3 117L1064.7 115L1064.1 113.7L1063.7 113L1062.1 111.1L1061.9 111L1060.1 110L1058.1 110.2L1057 111L1056.1 111.7L1055.1 113L1054.1 114.7L1053.9 115L1053 117L1052.1 118.9L1052 119L1050.7 121L1050.1 121.7L1048.7 123L1048.1 123.5L1046.1 125L1046.1 125L1044.1 126.8L1043.9 127L1042.5 129L1042.1 129.8L1041.6 131L1041.1 133L1041 135L1041 137L1041 139L1041 141L1041 143L1041 145L1041 147L1041 149L1041 151L1041 153L1041 155L1041 157L1041 159L1040.9 161L1040.7 163L1040.1 164.7L1040 165L1038.8 167L1038.1 167.9L1036.8 169L1036.1 169.6L1034.1 170.4L1032.1 170.7L1030.1 170.7L1028.1 170.7L1026.1 170.7L1024.1 170.6L1022.1 170L1020.5 169L1020.1 168.7L1018.6 167L1018.1 166.3L1017.3 165L1016.4 163L1016.1 162.3L1015.5 161L1014.2 159L1014.1 158.8L1012.4 157L1012.1 156.8L1010.1 155.7L1008.1 155.3L1006.1 155.3L1004.1 155.2L1002.1 155.2L1000.1 155.2L999.2 155L998.1 154.8L996.1 153.7L995.3 153L994.1 151.6L993.7 151L992.8 149L992.6 147L993.1 145L994.1 143.4L994.4 143L996.1 141.2L996.3 141L998.1 139.7L999 139L1000.1 138.1L1001.2 137L1002.1 135.7L1002.5 135L1003.1 133L1002.8 131L1002.1 129.8L1001.6 129L1000.1 127.1L1000 127L998.1 125.3L997.4 125L996.1 124.5L994.1 124.3L992.1 124.3L990.1 124.2L988.1 124.2L986.1 123.8L984.3 123L984.1 122.9L982.1 121L982.1 121L980.8 119L980.1 117.7L979.8 117L978.9 115L978.1 113.6L977.7 113L976.1 111.1L975.9 111L974.1 110L972.1 110.2L971 111L970.1 111.7L969.1 113L968.1 114.7L968 115L967.1 117L966.1 119L966.1 119L964.7 121L964.1 121.7L962.5 123L962.1 123.3L960.1 124L958.1 124.2L956.1 124.2L954.1 124.3L952.1 124.3L950.1 124.5L948.5 125L948.1 125.1L946.1 126.6L945.7 127L944.2 129L944.1 129.2L943.2 131L942.3 133L942.1 133.4L941.2 135L940.1 136.6L939.7 137L938.1 138.4L936.9 139L936.1 139.4L934.1 139.7L932.1 139.7L930.1 139.7L928.1 139.7L926.1 139.7L924.1 139.7L922.1 139.7L920.1 139.7L918.1 139.7L916.1 139.7L914.1 139.7L912.1 139.7L910.1 139.7L908.1 139.7L906.1 139.7L904.1 139.7L902.1 139.7L900.1 139.3L899.4 139L898.1 138.4L896.6 137L896.1 136.4L895.1 135L894.1 133.1L894.1 133L893.1 131L892.1 129L892.1 129L890.6 127L890.1 126.4L888.5 125L888.1 124.7L886.1 123.2L885.8 123L884.1 121.3L883.9 121L882.6 119L882.1 117.9L881.8 117L881.4 115L881.3 113L881.3 111L881.3 109L881.3 107L881.3 105L881.3 103L881 101L880.3 99L880.1 98.5L879.2 97L878.1 95.7L877.4 95L876.1 93.9L874.8 93L874.1 92.4L872.5 91L872.1 90.6L870.9 89L870.1 87.6L869.8 87L869.3 85L869.1 83L869 81L869 79L869 77L869 75L869 73L869 71L869 69M133.9 223L132.8 225L132.3 227L132.2 229L132.2 231L132.2 233L132.2 235L132.3 237L132.4 239L132.7 241L133.5 243L134.1 244L134.8 245L136.1 246.4L137 247L138.1 247.6L140.1 248.1L142.1 248.2L144.1 248.2L146.1 248.2L148.1 248.3L150.1 248.3L152.1 248.3L154.1 248.3L156.1 248.3L156.8 247L156.8 245L156.8 243L156.8 241L156.8 239L156.8 237L156.8 235L156.8 233L156.8 231L156.8 229L156.7 227L156.2 225L156.1 224.8L155.1 223L154.1 221.7L153.5 221L152.1 219.4L151.5 219L150.1 218L148.1 217.4L146.1 217.3L144.1 217.3L142.1 217.3L140.1 217.5L138.1 218.4L137.5 219L136.1 220.3L135.5 221L134.1 222.8ZM156.8 249L156.8 251L156.8 253L156.8 255L156.8 257L156.8 259L156.8 261L156.8 263L156.8 265L156.8 267L156.8 269L157 271L157.6 273L158.1 274L158.6 275L160.1 276.8L160.3 277L162.1 278.3L164.1 279L164.1 279L166.1 279.2L168.1 279.2L170.1 279.2L172.1 279.2L172.9 279L174.1 278.8L176.1 277.6L176.6 277L178.1 275.5L178.5 275L179.9 273L180.1 272.7L180.9 271L181.3 269L181.3 267L181.4 265L181.4 263L181.4 261L181.3 259L181 257L180.2 255L180.1 254.8L178.9 253L178.1 252L177.1 251L176.1 249.9L174.5 249L174.1 248.7L172.1 248.3L170.1 248.3L168.1 248.3L166.1 248.3L164.1 248.3L162.1 248.3L160.1 248.3L158.1 248.3ZM193.8 351L193.7 353L193.6 355L194.1 356.7L196.1 356.6L198.1 356.1L199.4 355L200.1 354.5L201 353L201.9 351L202.1 350.1L202.2 349L202.1 348L201.9 347L200.8 345L200.1 344.1L198.1 344.1L197.2 345L196.1 346.1L195.4 347L194.3 349L194.1 349.8ZM212.1 283L211.5 285L211.2 287L211.5 289L212.1 291L212.1 291.1L214.1 292.5L216 291L216.1 290.8L217.1 289L217.6 287L217.1 285L216.1 283.2L216 283L214.1 281.5L212.1 282.9ZM281.2 191L282.1 189.6L282.7 189L284.1 187.7L285.6 187L286.1 186.7L288.1 186.4L290.1 186.3L291.9 187L291.9 189L291.9 191L291.9 193L291.9 195L291.9 197L291.9 199L291.9 201L290.1 201.7L288.1 201.6L286.1 201.3L285.6 201L284.1 200.3L282.7 199L282.1 198.4L281.2 197L280.4 195L280.4 193ZM291.9 203L292.1 201.8L294.1 201.8L296.1 201.9L298.1 202.4L299.3 203L300.1 203.5L301.6 205L302.1 205.7L302.9 207L303.7 209L304 211L304.1 212.1L304.1 213L304.2 215L304.2 217L304.2 219L304.2 221L304.1 222.1L304.1 223L303.6 225L302.5 227L302.1 227.5L300.8 229L300.1 229.9L298.4 231L298.1 231.2L296.4 231L296.1 230.9L294.1 229.1L294.1 229L292.9 227L292.2 225L292.1 224.4L291.9 223L291.9 221L291.9 219L291.9 217L291.9 215L291.9 213L291.9 211L291.9 209L291.9 207L291.9 205ZM784.1 223L784.1 222.9L785.2 221L786.1 219.9L787 219L788.1 218.1L789.6 217L790.1 216.6L791.9 215L792.1 214.8L793.5 213L794.1 212L794.6 211L795.1 209L795.3 207L795.4 205L795.4 203L795.4 201L795.4 199L795.4 197L795.5 195L796 193L796.1 192.7L796.9 191L798.1 189.3L798.3 189L800.1 187.3L800.5 187L802.1 185.8L803.1 185L804.1 184.1L805.1 183L806.1 181.6L806.4 181L807.4 179L808.1 177.5L808.3 177L809.5 175L810.1 174.1L811.1 173L812.1 172.2L814.1 171.2L815 171L816.1 170.8L818.1 170.8L820.1 170.8L822.1 170.8L824.1 170.8L826.1 170.8L828.1 170.8L830.1 170.8L832.1 170.8L834.1 170.8L836.1 170.8L837.1 171L838.1 171.2L840.1 172.2L841 173L842.1 174.2L842.6 175L843.7 177L844.1 178.5L844.2 179L844.4 181L844.5 183L844.5 185L844.5 187L844.5 189L844.5 191L844.5 193L844.5 195L844.5 197L844.5 199L844.5 201L844.5 203L844.5 205L844.5 207L844.5 209L844.5 211L844.5 213L844.5 215L844.5 217L844.5 219L844.5 221L844.4 223L844.2 225L844.1 225.2L843.5 227L842.3 229L842.1 229.3L840.5 231L840.1 231.4L838.1 232.9L838 233L836.1 234.5L835.6 235L834.1 236.9L834 237L832.9 239L832.1 240.7L832 241L831 243L830.1 244.4L829.6 245L828.1 246.5L827 247L826.1 247.3L824.1 247L824 247L822.1 246.3L820.1 245.7L818.1 245.2L817 245L816.1 244.8L814.1 244.7L812.7 245L812.1 245.1L810.1 246.1L808.8 247L808.1 247.7L807.1 249L806.1 250.8L806 251L805.2 253L804.6 255L804.1 256.9L804.1 257L803.1 259L802.1 260.8L801.7 261L800.1 261.8L798.7 261L798.1 260.6L796.9 259L796.1 257.6L795.8 257L794.9 255L794.1 253.4L793.9 253L792.4 251L792.1 250.7L790.2 249L790.1 248.9L788.1 247.4L787.6 247L786.1 245.6L785.6 245L784.3 243L784.1 242.5L783.5 241L783.2 239L783.1 237L783.1 235L783.1 233L783.1 231L783.1 229L783.1 227L783.4 225L784.1 223M869.5 333L870.1 331.4L870.3 331L871.7 329L872.1 328.5L874.1 327.2L876.1 327.1L878.1 328.3L878.7 329L880.1 331L880.1 331.1L880.9 333L881.2 335L881.3 337L881.3 339L881.3 341L881.3 343L881.3 345L881.3 347L881 349L880.3 351L880.1 351.5L879.1 353L878.1 354.2L876.8 355L876.1 355.4L874.1 355.3L873.5 355L872.1 354L871.3 353L870.1 351.1L870 351L869.3 349L869.1 347L869 345L869 343L869 341L869 339L869.1 337L869.2 335ZM893.9 225L894.1 224.4L894.6 223L895.8 221L896.1 220.5L897.5 219L898.1 218.5L900.1 217L900.1 217L902.1 215.4L902.5 215L904.1 213L904.1 213L905.2 211L906.1 209L906.1 209L907.1 207L908.1 205.4L908.4 205L910.1 203.3L910.6 203L912.1 202.2L914.1 201.8L916.1 201.8L918.1 201.8L920.1 201.7L922.1 201.7L924.1 201.7L926.1 201.7L928.1 201.7L930.1 201.7L932.1 201.7L934.1 201.7L936.1 201.4L936.9 201L938.1 200.4L939.7 199L940.1 198.6L941.2 197L942.1 195.4L942.3 195L943.2 193L944.1 191.2L944.2 191L945.8 189L946.1 188.7L948.1 187.5L950.1 187.7L951.9 189L952.1 189.2L953.5 191L954.1 192.1L954.5 193L955.5 195L956.1 196.3L956.5 197L958 199L958.1 199.1L960.1 200.7L960.8 201L962.1 201.5L964.1 201.7L966.1 201.7L968.1 201.7L970.1 201.7L972.1 201.5L973.8 201L974.1 200.9L976.1 199.5L976.6 199L978.1 197L978.1 196.9L979.1 195L980 193L980.1 192.8L981.1 191L982.1 189.5L982.6 189L984.1 187.6L985.3 187L986.1 186.7L988.1 186.3L990.1 186.3L992.1 186.3L994.1 186.3L996.1 186.3L998.1 186.3L1000.1 186.3L1002.1 186.3L1004.1 186.3L1006.1 186.3L1008.1 186.3L1010.1 186.3L1012.1 186.2L1014.1 186.2L1016.1 186.3L1018.1 186.3L1020.1 186.3L1022.1 186.6L1022.9 187L1024.1 187.6L1025.7 189L1026.1 189.5L1027.1 191L1028.1 193L1028.1 193.2L1028.5 195L1028.7 197L1028.7 199L1028.7 201L1028.7 203L1028.7 205L1028.7 207L1028.7 209L1028.7 211L1028.7 213L1028.7 215L1028.7 217L1028.7 219L1028.7 221L1028.7 223L1028.7 225L1028.7 227L1028.7 229L1028.7 231L1028.7 233L1028.7 235L1028.7 237L1028.6 239L1028.2 241L1028.1 241.3L1027.4 243L1026.1 245L1026.1 245.1L1024.2 247L1024.1 247.1L1022.1 248.6L1021.5 249L1020.1 250.2L1019.4 251L1018.1 252.7L1017.9 253L1016.9 255L1016.1 256.7L1016 257L1014.9 259L1014.1 260.2L1013.5 261L1012.1 262.6L1011.8 263L1010.2 265L1010.1 265.1L1009.1 267L1008.1 269L1008.1 269.1L1007.6 271L1007.2 273L1006.9 275L1006.6 277L1006.2 279L1006.1 279.7L1005.8 281L1005.4 283L1004.8 285L1004.1 287L1004.1 287.1L1003.2 289L1002.1 290.8L1002 291L1000.1 293L1000.1 293L998.1 294.2L996.1 294.6L994.1 294.7L992.1 294.7L990.1 294.8L988.1 294.8L987 295L986.1 295.2L984.1 296.1L983.1 297L982.1 298L981.3 299L980.1 300.8L980 301L978.4 303L978.1 303.2L976.1 304.8L975.8 305L974.1 305.9L972.1 306.8L971.6 307L970.1 307.8L968.5 309L968.1 309.3L966.7 311L966.1 312.1L965.6 313L964.9 315L964.3 317L964.1 317.6L963.6 319L962.7 321L962.1 322.3L961.1 323L960.1 323.7L958.2 323L958.1 322.9L956.6 321L956.1 320.1L955.6 319L955.2 317L955 315L955 313L955 311L955 309L955 307L955 305L955 303L955 301L955 299L955 297L955 295L955 293L955 291L954.9 289L954.4 287L954.1 286.4L953.3 285L952.1 283.4L951.7 283L950.1 281.1L950 281L948.1 279.1L948 279L946.1 277L946.1 277L944.5 275L944.1 274.3L943.4 273L942.5 271L942.1 270.2L941.5 269L940.2 267L940.1 266.9L938.2 265L938.1 264.9L936.1 263.4L935.6 263L934.1 261.7L933.4 261L932.1 259.3L931.9 259L930.9 257L930.1 255.2L930 255L929 253L928.1 251.7L927.5 251L926.1 249.6L925.4 249L924.1 248.1L922.1 247.1L921.9 247L920.1 246.3L918.1 245.6L916.1 245.1L915.4 245L914.1 244.7L912.1 244.5L910.1 244.4L908.1 244.3L906.1 244.3L904.1 244.3L902.1 244.3L900.1 244.1L898.1 243.6L896.8 243L896.1 242.5L894.6 241L894.1 239.8L893.8 239L893.6 237L893.6 235L893.6 233L893.6 231L893.6 229L893.7 227Z" fill="none" stroke="#a8a8a8" stroke-width="1"/>
<path d="M328.7 69L328.7 71L328.7 73L328.7 75L328.7 77L328.7 79L328.7 81L328.7 83L328.7 85L328.7 87L328.7 89L328.7 91L328.7 93L328.7 95L328.7 97L328.7 99L328.7 101L328.7 103L328.7 105L328.7 107L328.7 109L328.7 111L328.7 113L328.7 115L328.7 117L328.7 119L328.7 121L328.7 123L328.7 125L328.7 127L328.7 129L328.7 131L328.7 133L328.7 135L328.7 137L328.7 139L328.7 141L328.7 143L328.7 145L328.7 147L328.7 149L328.7 151L328.7 153L328.7 155L328.7 157L328.7 159L328.7 161L328.7 163L328.7 165L328.7 167L328.7 169L328.7 171L328.7 173L328.7 175L328.7 177L328.7 179L328.7 181L328.7 183L328.7 185L328.7 187L328.7 189L328.7 191L328.7 193L328.7 195L328.7 197L328.7 199L328.7 201L328.7 203L328.7 205L328.7 207L328.5 209L328.1 210.4L327.9 211L326.9 213L326.1 214.1L325.3 215L324.1 216.1L322.9 217L322.1 217.6L320.4 219L320.1 219.3L318.6 221L318.1 221.7L317.4 223L316.4 225L316.1 225.8L315.5 227L314.3 229L314.1 229.3L312.7 231L312.1 231.5L310.6 233L310.1 233.5L308.7 235L308.1 235.6L307 237L306.1 238.2L305.6 239L304.6 241L304.2 243L304.2 245L304.2 247L304.2 249L304.2 251L304.2 253L304.2 255L304.2 257L304.2 259L304.2 261L304.2 263L304.2 265L304.2 267L304.2 269L304.2 271L304.2 273L304.2 275L304.2 277L304.2 279L304.2 281L304.2 283L304.1 285L304.1 285.1L303.9 287L303.2 289L302.1 290.9L302 291L300.2 293L300.1 293.1L298.1 294.7L297.7 295L296.1 296.2L295.3 297L294.1 298.4L293.7 299L292.7 301L292.1 303L292.1 303.2L291.9 305L291.9 307L291.9 309L291.9 311L291.9 313L291.9 315L291.7 317L291.3 319L290.4 321L290.1 321.4L288.9 323L288.1 323.9L286.7 325L286.1 325.5L284.1 327L284.1 327L282.1 329L282.1 329L280.8 331L280.1 332.4L279.8 333L278.9 335L278.1 336.5L277.8 337L276.2 339L276.1 339.1L274.1 340.8L273.8 341L272.1 342.3L271.3 343L270.1 344.2L269.5 345L268.3 347L268.1 347.6L267.6 349L267.4 351L267.3 353L267.3 355L267.3 357L267.3 359L267.3 361L267.3 363L267.3 365L267.3 367L267.3 369L267.3 371L267.3 373L267.3 375L267.3 377L267.5 379L267.9 381L268.1 381.4L268.9 383L270.1 384.8L270.3 385L272.1 386.5L273.1 387L274.1 387.4L276.1 387.7L278.1 387.7L280.1 387.7L282.1 387.7L284.1 387.5L285.1 387L286.1 386.5L287.7 385L288.1 384.6L289.4 383L290.1 382L290.7 381L291.5 379L291.8 377L291.9 375L291.9 373L291.9 371L291.9 369L291.9 367L292.1 365.2L292.1 365L292.7 363L293.7 361L294.1 360.4L295.4 359L296.1 358.3L298.1 357.2L299.2 357L300.1 356.8L302.1 356.8L304.1 356.8L306.1 356.7L308.1 356.7L310.1 356.4L312.1 355.7L313.8 355L314.1 354.9L316.1 354.3L318.1 353.7L320.1 353.4L322.1 353.3L324.1 353.6L326.1 354.5L326.9 355L328.1 356L328.9 357L330.1 359L330.1 359L331 361L331.6 363L332.1 364.9L332.2 365L333 367L334 369L334.1 369.1L336.1 370.3L338.1 369.2L338.3 369L339.7 367L340.1 366.2L340.5 365L340.9 363L341 361L341 359L341 357L341 355L341 353L341 351L341 349L341 347L341 345L341 343L341 341L341 339L341 337L341 335L341 333L341 331L341 329L341 327L341 325L341 323L341 321L341 319L341 317L341 315L341 313L341 311L341 309L341 307L341 305L341.2 303L341.8 301L342.1 300.4L342.8 299L344.1 297.4L344.5 297L346.1 295.8L348.1 295L348.4 295L350.1 294.8L352.1 294.8L354.1 294.8L356.1 294.8L358.1 295L358.2 295L360.1 295.6L362.1 297L362.1 297L363.7 299L364.1 299.6L364.8 301L365.3 303L365.5 305L365.6 307L365.6 309L365.6 311L365.6 313L365.6 315L365.6 317L365.6 319L365.6 321L365.6 323L365.6 325L365.6 327L365.6 329L365.6 331L365.6 333L365.6 335L365.6 337L365.6 339L365.6 341L365.6 343L365.6 345L365.6 347L365.6 349L365.6 351L365.6 353L365.6 355L365.6 357L365.6 359L365.6 361L365.6 363L365.6 365L365.6 367L365.6 369L365.6 371L365.6 373L365.6 375L365.6 377L365.6 379L365.6 381L365.6 383L365.6 385L365.6 387L365.6 389L365.6 391L365.5 393L365.3 395L364.8 397L364.1 398.4L363.8 399L362.2 401L362.1 401.1L360.1 402.2L358.1 402L356.8 401L356.1 400.4L355.1 399L354.1 397.3L353.9 397L353 395L352.1 393.1L352.1 393L350.7 391L350.1 390.4L348.1 389.1L346.1 389.1L344.1 390.5L343.6 391L342.2 393L342.1 393.2L341.2 395L340.3 397L340.1 397.5L339.3 399L338.1 400.7L337.9 401L336.2 403L336.1 403.1L334.8 405L334.1 406L333.6 407L332.8 409L332.3 411M390.1 411L390.1 409L390.1 407L390.1 405L390.1 403L390.1 401L390.1 399L390.1 397L390.1 395L390.1 393L390.1 391L390.1 389L390.1 387L390.1 385L390.1 383L390.3 381L390.7 379L391.6 377L392.1 376.3L393.1 375L394.1 373.9L395.3 373L396.1 372.4L397.9 371L398.1 370.8L399.9 369L400.1 368.7L401.2 367L401.9 365L402.1 364.1L402.3 363L402.4 361L402.4 359L402.4 357L402.4 355L402.4 353L402.4 351L402.4 349L402.4 347L402.4 345L402.4 343L402.4 341L402.4 339L402.4 337L402.5 335L402.9 333L403.6 331L404.1 330.2L405 329L406.1 327.8L407.2 327L408.1 326.5L410.1 325.9L412.1 325.8L414.1 325.8L416.1 325.8L418.1 325.7L420.1 325.7L422.1 325.7L424.1 325.7L426.1 325.7L428.1 325.7L430.1 325.7L432.1 325.5L433.4 325L434.1 324.7L436.1 323.2L436.3 323L437.7 321L438.1 320.4L438.8 319L439.7 317L440.1 316.2L440.7 315L442.1 313.1L442.2 313L444.1 311.2L444.4 311L446.1 309.7L447 309L448.1 308L449 307L450.1 305.3L450.3 305L451 303L451.4 301L451.5 299L451.5 297L451.5 295L450.1 294.8L448.1 294.8L446.1 294.8L444.1 294.8L442.1 294.8L440.1 294.8L438.1 294.8L436.1 294.8L434.1 294.8L432.1 294.8L430.1 294.8L428.1 294.7L426.1 294.7L424.1 294.7L422.1 294.5L420.1 293.9L418.8 293L418.1 292.5L416.9 291L416.1 289.8L415.7 289L415 287L414.7 285L414.7 283L414.7 281L414.7 279L414.7 277L414.7 275L414.7 273L414.7 271L414.7 269L414.7 267L414.7 265L414.7 263L414.7 261L414.7 259L414.7 257L414.7 255L414.7 253L414.7 251L414.7 249L414.7 247L414.7 245L414.7 243L414.7 241L414.7 239L414.7 237L414.7 235L414.7 233L414.7 231L414.7 229L414.7 227L414.7 225L414.7 223L414.7 221L414.7 219L414.7 217L414.7 215L414.7 213L414.6 211L414.2 209L414.1 208.7L413.4 207L412.1 205L412.1 205L410.1 203.1L409.9 203L408.1 202.1L406.1 201.8L404.1 201.8L402.1 201.7L400.1 201.7L398.1 201.6L396.1 201.2L395.8 201L394.1 200L393.1 199L392.1 197.7L391.6 197L390.7 195L390.3 193L390.1 191L390.1 189L390.1 187L390.1 185L390.1 183L390.1 181L390.1 179L390.1 177L390.1 175L390.1 173L390.1 171L390.1 169L390.1 167L390.1 166.3L390.1 165L389.8 163L389.1 161L388.1 159.2L387.9 159L386.1 157L386.1 157L384.1 155.9L382.1 155.4L380.1 155.3L378.1 155.3L377.8 157L377.8 159L377.8 161L377.8 163L377.8 165L377.8 167L377.8 169L377.8 171L377.8 173L377.8 175L377.8 177L377.8 179L377.8 181L377.8 183L377.8 185L377.8 187L377.8 189L377.8 191L377.7 193L377.2 195L376.3 197L376.1 197.3L374.8 199L374.1 199.7L372.1 200.6L370.1 200.2L368.7 199L368.1 198.4L367.1 197L366.2 195L366.1 194.6L365.7 193L365.6 191L365.6 189L365.6 187L365.6 185L365.6 183L365.6 181L365.6 179L365.6 177L365.6 175L365.6 173L365.6 171L365.6 169L365.6 167L365.6 165L365.9 163L366.1 162.3L366.6 161L367.7 159L368.1 158.5L369.7 157L370.1 156.7L372.1 155.7L374.1 155.4L376.1 155.3L377.8 155L377.8 153L377.8 151L377.8 149L377.8 147L377.8 145L377.8 143L377.8 141L377.8 139L377.8 137L377.8 135L377.8 133L377.8 131L377.8 129L377.8 127L377.8 125L377.8 123L377.8 121L377.8 119L377.8 117L377.8 115L377.8 113L377.8 111L377.8 109L377.8 107L377.8 105L377.8 103L377.8 101L377.8 99L377.8 97L377.8 95L377.8 93L377.8 91L377.8 89L377.8 87L377.8 85L377.8 83L377.8 81L377.8 79L377.8 77L377.8 75L377.8 73L377.8 71L377.8 69M455 69L455.4 71L456.1 73L456.1 73L457.2 75L458.1 76.7L458.4 77L460 79L460.1 79.2L461.5 81L462.1 82L462.7 83L463.4 85L463.7 87L463.8 89L463.8 91L463.8 93L463.8 95L463.8 97L463.8 99L463.8 101L463.8 103L463.8 105L463.8 107L463.8 109L463.8 111L463.8 113L463.8 115L463.8 117L463.8 119L463.8 121L463.8 123L463.8 125L463.8 127L463.8 129L463.8 131L463.8 133L463.8 135L463.8 137L463.8 139L463.8 141L463.8 143L463.8 145L463.8 147L463.8 149L463.8 151L463.8 153L463.8 155L463.8 157L463.8 159L463.9 161L464.1 163L464.1 163L464.8 165L466 167L466.1 167.2L468 169L468.1 169.1L470.1 169.7L471.8 169L472.1 168.9L473.9 167L474.1 166.7L475.1 165L475.8 163L476 161L476.1 159L476.1 157L476.1 155L476.1 153L476.1 151L476.1 149L476.1 147L476.1 145L476.1 143L476.1 141L476.1 139L476.1 137L476.1 135L476.1 133L476.1 131L476.1 129L476.1 127L476.1 125L476.1 123L476.1 121L476.1 120L476.1 119L476.3 117L476.9 115L477.9 113L478.1 112.7L479.6 111L480.1 110.6L482.1 109.8L484.1 110.4L484.8 111L486.1 112.4L486.5 113L487.6 115L488.1 116.9L488.1 117L488.3 119L488.4 121L488.4 123L488.4 125L488.4 127L488.4 129L488.4 131L488.4 133L488.4 135L488.4 137L488.4 139L488.4 141L488.4 143L488.4 145L488.6 147L489.2 149L490.1 150.8L490.2 151L491.9 153L492.1 153.2L494.1 154.1L496.1 153.7L496.9 153L498.1 151.9L498.8 151L499.9 149L500.1 148.7L500.9 147L501.8 145L502.1 144.6L503.3 143L504.1 142.1L506.1 141L508.1 141.2L510.1 142.7L510.3 143L511.7 145L512.1 146L512.5 147L512.8 149L512.9 151L512.9 153L512.9 155L512.9 157L512.9 159L512.9 161L512.9 163L512.9 165L512.9 167L512.9 169L512.9 171L512.9 173L512.9 175L512.9 177L512.9 179L512.9 181L512.9 183L512.9 185L512.9 187L512.9 189L512.9 191L513.1 193L513.5 195L514.1 196.3L514.5 197L516 199L516.1 199.1L518.1 200.4L520.1 200.4L522.1 199L522.1 199L523.6 197L524.1 196.1L524.6 195L525 193L525.2 191L525.2 189L525.2 187L525.2 185L525.2 183L525.2 181L525.4 179L526 177L526.1 176.8L527 175L528.1 173.6L528.6 173L530.1 171.7L531 171L532.1 170.2L533.5 169L534.1 168.5L535.3 167L536.1 165.8L536.6 165L537.5 163L538.1 161.6L538.4 161L539.7 159L540.1 158.5L541.8 157L542.1 156.8L544.1 156.5L545.3 157L546.1 157.4L547.6 159L548.1 159.8L548.8 161L549.5 163L549.7 165L549.8 167L549.8 169L549.8 171L549.8 173L549.8 175L549.8 177L549.8 179L549.8 181L549.8 183L549.8 185L549.8 187L549.8 189L549.8 191L549.9 193L550.1 193.8L550.4 195L551.3 197L552.1 198.2L552.9 199L554.1 200.1L556.1 200.6L558.1 199.8L559 199L560.1 197.7L560.5 197L561.6 195L562.1 193.9L562.5 193L563.5 191L564.1 190.1L565 189L566.1 187.9L567.7 187L568.1 186.8L570.1 186.3L572.1 186.3L574.1 186.3L576.1 186.3L578.1 186.3L580.1 186.7L580.8 187L582.1 187.6L583.6 189L584.1 189.6L585.1 191L586 193L586.1 193.5L586.4 195L586.6 197L586.6 199L586.6 201L586.6 203L586.6 205L586.6 207L586.6 209L586.6 211L586.6 213L586.6 215L586.6 217L586.6 219L586.6 221L586.6 223L586.6 225L586.6 227L586.6 229L586.6 231L586.6 233L586.6 235L586.6 237L586.7 239L587.1 241L587.8 243L588.1 243.5L589.1 245L590.1 246.1L591.1 247L592.1 247.8L593.7 249L594.1 249.3L595.9 251L596.1 251.2L597.4 253L598.1 254.6L598.3 255L598.7 257L598.9 259L598.9 261L598.9 263L598.9 265L598.9 267L598.8 269L598.6 271L598.1 272.9L598.1 273L597 275L596.1 276.2L595.1 277L594.1 277.7L592.1 278L590.2 277L590.1 276.9L588.4 275L588.1 274.5L587.3 273L586.4 271L586.1 270.4L585.4 269L584.1 267.1L584 267L582.1 265.4L580.5 265L580.1 264.9L579.9 265L578.1 265.8L576.9 267L576.1 268.1L575.6 269L574.8 271L574.4 273L574.3 275L574.3 277L574.3 279L574.3 281L574.3 283L574.3 285L574.1 286.4L574 287L573.3 289L572.2 291L572.1 291.1L570.1 293L570.1 293L568.1 293.7L566.2 293L566.1 292.9L564.2 291L564.1 290.9L563 289L562.3 287L562.1 285.1L562.1 285L562 283L562 281L562 279L562 277L562 275L562 273L562 271L562 269L562 267L562 265L562 263L562 261L562 259L562 257L562 255L562 253L562 251L562 249L562 247L562 245L562 243L562 241L562 239L562 237L562 235L562 233L562 231L562 229L562 227L561.7 225L561.1 223L560.1 221.3L559.9 221L558.1 219.2L557.7 219L556.1 218.4L554.1 218.9L554 219L552.1 220.8L551.9 221L550.8 223L550.1 224.9L550.1 225L549.8 227L549.8 229L549.8 231L549.8 233L549.8 235L549.8 237L549.8 239L549.8 241L549.8 243L549.8 245L549.8 247L549.8 249L549.8 251L549.8 253L549.8 255L549.8 257L549.8 259L549.8 261L549.8 263L549.8 265L549.8 267L549.7 269L549.5 271L549 273L548.1 274.7L547.9 275L546.3 277L546.1 277.2L544.1 278.5L542.4 279L542.1 279.1L540.1 279.2L538.1 279.2L536.1 279.3L534.1 279.3L532.1 279.6L530.1 280.4L529.3 281L528.1 282.1L527.4 283L526.2 285L526.1 285.2L525.5 287L525.3 289L525.2 291L525.2 293L525.2 295L525.2 297L525.2 299L525.2 301L525.2 303L525.2 305L525.2 307L525.2 309L525.2 311L525.2 313L525.2 315L525.4 317L525.8 319L526.1 319.7L526.7 321L528.1 322.9L528.2 323L530.1 324.8L530.3 325L532.1 326.3L533 327L534.1 328L534.9 329L536.1 330.7L536.3 331L537.3 333L538.1 334.9L538.2 335L539.3 337L540.1 338.1L540.9 339L542.1 340.1L543.3 341L544.1 341.6L545.8 343L546.1 343.3L547.6 345L548.1 345.8L548.8 347L549.5 349L549.7 351L549.8 353L549.8 355L549.8 357L549.8 359L549.8 361L549.8 363L549.8 365L549.8 367L549.8 369L549.8 371L549.8 373L549.8 375L549.8 377L549.8 379L549.8 381L549.8 383L549.8 385L549.8 387L549.8 389L549.8 391L549.8 393L549.8 395L549.8 397L549.8 399L549.8 401L549.8 403L549.8 405L549.8 407L549.8 409L549.8 411M488.4 411L488.4 409L488.4 407L488.4 405L488.4 403L488.4 401L488.3 399L488.2 397L488.1 396.1L487.9 395L487.1 393L486.1 391.4L485.8 391L484.1 389.3L483.6 389L482.1 388.2L480.1 387.8L478.1 387.8L476.1 387.8L474.1 387.8L472.1 387.8L470.1 388.2L468.6 389L468.1 389.3L466.4 391L466.1 391.3L465 393L464.3 395L464.1 395.9L463.9 397L463.8 399L463.8 401L463.8 403L463.8 405L463.8 407L463.8 409L463.8 411M537.5 69L537.5 71L537.5 73L537.5 75L537.5 77L537.5 79L537.5 81L537.5 83L537.5 85L537.5 87L537.5 89L537.5 91L537.5 93L537.5 95L537.5 97L537.4 99L537.2 101L536.5 103L536.1 103.7L535.3 105L534.1 106.3L533 107L532.1 107.5L530.1 107.3L529.7 107L528.1 105.8L527.4 105L526.2 103L526.1 102.8L525.5 101L525.3 99L525.2 97L525.2 95L525.2 93L525.2 91L525.2 89L525.2 87L525.2 85L525.2 83L525.2 81L525.2 79L525.2 77L525.2 75L525.2 73L525.2 71L525.2 69M574.3 411L574.3 409L574.3 407L574.3 405L574.3 403L574.3 401L574.3 399L574.3 397L574.3 395L574.3 393L574.3 391L574.3 389L574.3 387L574.3 385L574.3 383L574.3 381L574.3 379L574.3 377L574.3 375L574.3 373L574.3 371L574.3 369L574.4 367L574.6 365L575.1 363L576.1 361.1L576.1 361L577.8 359L578.1 358.7L580.1 357.4L581.7 357L582.1 356.9L584.1 356.8L586.1 356.8L588.1 356.8L590.1 356.8L592.1 356.8L594.1 356.8L596.1 356.8L598.1 356.7L600.1 356.7L602.1 356.7L604.1 356.5L606.1 355.7L607 355L608.1 354.1L609 353L610.1 351.2L610.2 351L610.9 349L611.1 347L611.2 345L611.2 343L611.2 341L611.2 339L611.2 337L611.2 335L611.2 333L611.2 331L611.2 329L611.2 327L611.2 325L611.2 323L611.2 321L611.2 319L611.2 317L611.2 315L611.2 313L611.2 311L611.2 309L611.2 307L611.2 305L611.2 303L611.2 301L611.2 299L611.2 297L611.2 295L611.2 293L611.2 291L611.2 289L611.5 287L612.1 285.1L612.1 285L613.3 283L614.1 282L615.1 281L616.1 280.1L617.6 279L618.1 278.7L620 277L620.1 276.9L621.6 275L622.1 274.2L622.8 273L623.7 271L624.1 270.1L624.6 269L626 267L626.1 266.8L627.9 265L628.1 264.9L630.1 263.4L630.6 263L632.1 261.7L632.8 261L634.1 259.2L634.2 259L635.1 257L635.5 255L635.7 253L635.7 251L635.7 249L635.7 247L635.7 245L635.7 243L635.7 241L635.7 239L635.7 237L635.7 235L635.7 233L635.7 231L635.7 229L635.7 227L635.7 225L635.7 223L635.7 221L635.7 219L635.7 217L635.7 215L635.7 213L635.7 211L635.7 209L635.7 207L635.7 205L635.7 203L635.7 201L635.7 199L635.7 197L635.9 195L636.1 194.1L636.4 193L637.3 191L638.1 189.8L638.8 189L640.1 187.9L642.1 187.4L644.1 188.2L644.9 189L646.1 190.4L646.5 191L647.5 193L648.1 194.2L648.5 195L649.5 197L650.1 197.9L651 199L652.1 200.2L653.1 201L654.1 201.7L655.8 203L656.1 203.3L657.7 205L658.1 205.5L659 207L659.8 209L660.1 210.6L660.2 211L660.3 213L660.3 215L660.3 217L660.3 219L660.3 221L660.2 223L660.1 224L660 225L659.3 227L658.1 229L658.1 229L656.4 231L656.1 231.2L654.1 232.8L653.8 233L652.1 234.3L651.4 235L650.1 236.6L649.8 237L648.8 239L648.2 241L648.1 242.4L648 243L648 245L648 247L648 249L648 251L648 253L648 255L648 257L648 259L648 261L648 263L648 265L648 267L648 269L648 271L648 273L648 275L648 277L648 279L648 281L648 283L648 285L648 287L648 289L648 291L648 293L648 295L648 297L648 299L648.1 300.8L648.1 301L648.5 303L649.2 305L650.1 306.4L650.6 307L652.1 308.5L653.5 309L654.1 309.2L654.7 309L656.1 308.5L657.7 307L658.1 306.5L659 305L659.8 303L660.1 301.4L660.2 301L660.3 299L660.3 297L660.3 295L660.3 293L660.3 291L660.3 289L660.3 287L660.3 285L660.3 283L660.3 281L660.3 279L660.3 277L660.3 275L660.4 273L660.7 271L661.5 269L662.1 268L662.8 267L664.1 265.7L665.1 265L666.1 264.4L668.1 263.9L670.1 263.8L672.1 263.8L674.1 263.7L676.1 263.7L678.1 263.4L679 263L680.1 262.5L681.8 261L682.1 260.7L683.3 259L684.1 257.6L684.4 257L685.3 255L686.1 253.4L686.3 253L687.8 251L688.1 250.7L690 249L690.1 248.9L692.1 247.4L692.6 247L694.1 245.6L694.6 245L695.9 243L696.1 242.5L696.7 241L697 239L697.1 237L697.1 235L697.1 233L697.1 231L697.1 229L697.1 227L697.1 225L697.1 223L697.1 221L697.1 219L697.1 217L697.1 215L697.1 213L697.2 211L697.6 209L698.1 207.6L698.4 207L699.7 205L700.1 204.5L701.9 203L702.1 202.9L704.1 202.1L706.1 201.8L708.1 201.8L710.1 201.7L712.1 201.7L714.1 201.6L716 201L716.1 201L718.1 199.6L718.7 199L720.1 197.1L720.2 197L721.1 195L721.5 193L721.7 191L721.7 189L721.7 187L721.7 185L721.7 183L721.7 181L721.7 179L721.7 177L721.7 175L721.7 173L721.7 171L721.7 169L721.7 167L721.7 165L721.7 163L721.7 161L721.7 159L721.7 157L721.7 155L721.7 153L721.7 151L721.6 149L721.2 147L720.4 145L720.1 144.4L719.1 143L718.1 141.8L717.2 141L716.1 140.2L714.5 139L714.1 138.7L712.4 137L712.1 136.7L710.9 135L710.1 133.5L709.9 133L708.9 131L708.1 129.3L707.9 129L706.4 127L706.1 126.6L704.3 125L704.1 124.9L702.1 123.4L701.6 123L700.1 121.5L699.7 121L698.4 119L698.1 118.4L697.6 117L697.2 115L697.1 113L697.1 111L697.1 109L697.1 107L697.1 105L697.1 103L697.1 101L697.1 99L697.1 97L697.1 95L697.1 93L697.1 91L697.1 89L697 87L696.7 85L696.1 83.3L696 83L694.8 81L694.1 80.1L693 79L692.1 78.1L690.7 77L690.1 76.6L688.4 75L688.1 74.7L686.8 73L686.1 71.7L685.8 71L685.2 69M635.7 69L635.7 71L635.7 73L635.7 75L635.7 77L635.7 79L635.7 81L635.7 83L635.5 85L634.9 87L634.1 88.6L633.9 89L632.3 91L632.1 91.1L630.1 92.5L628.3 93L628.1 93.1L626.1 93.2L624.1 93.2L622.1 93.2L620.1 93.2L618.1 93.2L616.1 93.2L614.1 93.2L612.1 93.3L610.1 93.3L608.1 93.3L606.1 93.5L604.1 94.2L603 95L602.1 95.8L601.1 97L600.1 98.5L599.9 99L599.2 101L598.9 103L598.9 105L598.9 107L598.9 109L598.9 111L598.9 113L598.8 115L598.4 117L598.1 117.9L597.6 119L596.3 121L596.1 121.3L594.4 123L594.1 123.2L592.1 124.7L591.7 125L590.1 126.4L589.6 127L588.1 129L588.1 129L587.2 131L586.8 133L586.6 135L586.6 137L586.6 139L586.6 141L586.6 143L586.6 145L586.4 147L586.1 148L585.8 149L584.7 151L584.1 151.9L582.9 153L582.1 153.6L580.1 154.1L578.1 153.2L577.9 153L576.2 151L576.1 150.9L575.1 149L574.6 147L574.4 145L574.3 143L574.3 141L574.3 139L574.3 137L574.3 135L574.3 133L574.3 131L574.3 129L574.3 127L574.3 125L574.3 123L574.3 121L574.3 119L574.3 117L574.3 115L574.3 113L574.3 111L574.3 109L574.3 107L574.3 105L574.3 103L574.3 101L574.3 99L574.3 97L574.3 95L574.3 93L574.3 91L574.3 89L574.3 87L574.3 85L574.3 83L574.3 81L574.3 79L574.3 77L574.3 75L574.3 73L574.3 71L574.3 69M635.7 411L635.7 409L635.7 407L635.7 405L635.7 403L635.7 401L635.7 399L635.7 397L635.7 395L635.7 393L635.7 391L635.7 389L635.7 387L635.7 385L635.7 383L635.5 381L635.1 379L634.2 377L634.1 376.8L632.6 375L632.1 374.5L630.1 373.5L628.1 373.8L626.6 375L626.1 375.4L625 377L624.1 378.9L624.1 379L623.6 381L623.5 383L623.4 385L623.4 387L623.4 389L623.4 391L623.4 393L623.4 395L623.4 397L623.4 399L623.4 401L623.4 403L623.4 405L623.4 407L623.4 409L623.4 411M659.9 69L659.4 71L658.3 73L658.1 73.3L656.6 75L656.1 75.4L654.1 76.1L652.1 75.4L651.7 75L650.1 73.2L650 73L648.9 71L648.3 69M685.4 411L686.1 409L686.1 408.9L687.3 407L688.1 406L689.1 405L690.1 404.2L691.6 403L692.1 402.6L693.9 401L694.1 400.7L695.4 399L696.1 397.6L696.3 397L696.9 395L697.1 393L697.1 391L697.1 389L697.1 387L697.1 385L697.1 383L697.1 381L697.1 379L697.1 377L697.1 375L697.1 373L696.1 372.2L694.1 372.2L692.1 371.9L690.1 371.2L689.8 371L688.1 369.8L687.4 369L686.1 367.1L686 367L685.1 365L684.2 363L684.1 362.9L683 361L682.1 359.8L681.3 359L680.1 358L678.1 357.1L677.4 357L676.1 356.8L674.1 356.8L672.1 356.8L670.1 356.8L668.1 356.9L667.7 357L666.1 357.4L664.1 358.7L663.7 359L662.1 361L662.1 361L661.1 363L660.5 365L660.3 367L660.3 369L660.3 371L660.3 373L660.3 375L660.3 377L660.3 379L660.3 381L660.3 383L660.3 385L660.3 387L660.3 389L660.3 391L660.3 393L660.3 395L660.3 397L660.3 399L660.3 401L660.3 403L660.3 405L660.3 407L660.3 409L660.3 411M780.1 411L780.1 410.8L780.2 409L780.5 407L780.8 405L781.1 403L781.5 401L782 399L782.1 398.4L782.5 397L782.9 395L783 393L783.1 391L783.1 389L783.1 387L783.1 385L783.1 383L783.1 381L783.1 379L783.1 377L783.1 375L783.1 373L783.1 371L783.1 369L783 367L782.8 365L782.3 363L782.1 362.6L781.2 361L780.1 359.5L779.6 359L778.1 357.6L777.3 357L776.1 356.1L774.8 355L774.1 354.4L773 353L772.1 351.7L771.7 351L770.8 349L770.1 347.5L769.9 347L768.6 345L768.1 344.3L766.7 343L766.1 342.5L764.1 341.6L762.1 341.3L760.1 341.3L758.1 341.3L756.1 341.3L754.1 341.4L752.1 341.9L750.3 343L750.1 343.1L748.4 345L748.1 345.4L747.2 347L746.5 349L746.3 351L746.2 353L746.2 355L746.2 357L746.2 359L746.2 361L746.2 363L746.2 365L746.2 367L746.2 369L746.2 371L746.2 373L746.2 375L746.2 377L746.2 379L746.2 381L746.2 383L746.2 385L746.2 387L746.2 389L746.2 391L746.2 393L746.2 395L746.2 397L746.2 399L746.2 401L746.2 403L746.2 405L746.2 407L746.2 409L746.2 411M881.3 411L881.3 409L881.3 407L881.3 405L881.3 403L881.3 401L881.3 399L881.3 397L881.3 395L881.3 393L881.3 391L881.3 389L881.3 387L881.3 385L881.3 383L881.1 381L880.7 379L880.1 377.6L879.8 377L878.3 375L878.1 374.8L876.1 373.2L875.5 373L874.1 372.5L872.1 372.3L870.1 372.3L868.1 372.3L866.1 372.3L864.1 372.3L862.1 372.3L860.1 372.3L858.1 372.3L856.1 372.3L854.1 372.3L852.1 372.4L850.1 373L850.1 373L848.1 374.4L847.5 375L846.1 376.8L846 377L845.1 379L844.7 381L844.5 383L844.5 385L844.5 387L844.5 389L844.5 391L844.5 393L844.5 395L844.5 397L844.5 399L844.5 401L844.5 403L844.5 405L844.5 407L844.5 409L844.5 411M979.6 411L979.6 409L979.6 407L979.6 405L979.6 403L979.6 401L979.6 399L979.6 397L979.6 395L979.6 393L979.6 391L979.6 389L979.6 387L979.6 385L979.6 383L979.6 381L979.6 379L979.6 377L979.6 375L979.6 373L979.6 371L979.6 369L979.6 367L979.8 365L980.1 363.9L980.4 363L981.4 361L982.1 360L983 359L984.1 358L985.4 357L986.1 356.5L987.9 355L988.1 354.8L989.7 353L990.1 352.4L990.9 351L991.5 349L991.8 347L991.8 345L991.8 343L991.8 341L991.8 339L991.8 337L991.8 335L991.8 333L991.8 331L991.8 329L991.8 327L991.8 325L991.8 323L991.8 321L991.7 319L991.2 317L990.3 315L990.1 314.6L988.8 313L988.1 312.3L986.1 311.3L984.1 311.4L982.1 312L980.1 312.7L979 313L978.1 313.2L976.1 313.8L974.1 314.5L973.4 315L972.1 316.2L971.5 317L970.6 319L970.1 321L970.1 321L969.8 323L969.5 325L969.1 327L968.7 329L968.1 331L968.1 331.1L967.5 333L966.6 335L966.1 336L965.5 337L964.1 338.8L963.9 339L962.1 340.5L961.5 341L960.1 342L959 343L958.1 343.8L957.2 345L956.1 346.8L956 347L955.3 349L955.1 351L955 353L955 355L955 357L955 359L955 361L955 363L955 365L955 367L955 369L955 371L955 373L955 375L955 377L955 379L955 381L955 383L955 385L955 387L955 389L955 391L955 393L955 395L955 397L955 399L955 401L955 403L955 405L955 407L955 409L955 411M1077.8 411L1077.8 409L1077.8 407L1077.8 405L1077.8 403L1077.8 401L1077.8 399L1077.8 397L1077.8 395L1077.8 393L1077.8 391L1077.8 389L1077.8 387L1077.8 385L1077.8 383L1077.8 381L1077.8 379L1077.8 377L1077.8 375L1077.8 373L1077.8 371L1077.8 369L1077.8 367L1077.6 365L1077 363L1076.1 361.2L1076 361L1074.3 359L1074.1 358.8L1072.1 357.5L1070.4 357L1070.1 356.9L1068.1 356.8L1066.1 356.8L1064.1 356.8L1062.1 356.8L1060.7 357L1060.1 357.1L1058.1 357.9L1056.8 359L1056.1 359.6L1055.1 361L1054.1 362.7L1053.9 363L1053 365L1052.1 366.9L1052 367L1050.8 369L1050.1 369.8L1049.1 371L1048.1 372.1L1047.5 373L1046.2 375L1046.1 375.1L1045.3 377L1044.6 379L1044.3 381L1044.1 383L1044.1 384.9L1044.1 385L1044.1 387L1044.1 389L1044.1 391L1044.1 393L1044.1 395L1044.1 397L1044.1 399L1044.1 401L1044.1 403L1044.1 405L1044.1 407L1044.1 409L1044.1 411M235.4 223L234.4 225L234.5 227L235.2 229L236.1 230.8L236.3 231L237.8 233L238.1 233.4L239.5 235L240.1 235.8L241 237L242.1 239L242.1 239.1L243 241L244 243L244.1 243.2L245.4 245L246.1 245.8L248.1 246.9L250.1 246.8L252.1 245.4L252.4 245L253.8 243L254.1 242.3L254.6 241L254.9 239L255 237L255 235L255 233L255 231L255 229L255 227L254.7 225L254.1 223.1L254.1 223L252.8 221L252.1 220.1L250.7 219L250.1 218.6L248.1 218.3L246.1 218.8L245.5 219L244.1 219.4L242.1 220L240.1 220.5L238.5 221L238.1 221.1L236.1 222.3ZM451.8 241L451.6 243L451.5 245L451.5 247L451.5 249L451.5 251L451.5 253L451.5 255L451.5 257L451.5 259L451.5 261L451.5 263L451.5 265L451.5 267L451.5 269L451.5 271L451.5 273L451.5 275L451.5 277L451.5 279L451.5 281L451.5 283L451.5 285L451.5 287L451.5 289L451.5 291L451.5 293L452.1 294.7L454.1 294.7L456.1 294.5L458.1 294L459.6 293L460.1 292.7L461.6 291L462.1 290.3L462.9 289L463.8 287L464.1 286.3L464.7 285L466 283L466.1 282.8L467.7 281L468.1 280.7L470.1 279.1L470.3 279L472.1 277.6L472.7 277L474.1 275.3L474.3 275L475.4 273L476.1 271.5L476.3 271L477.3 269L478.1 267.7L478.6 267L480.1 265.5L480.8 265L482.1 264.3L484.1 263.9L486.1 263.8L488.1 263.8L490.1 263.7L492.1 263.7L494.1 263.3L494.9 263L496.1 262.4L497.6 261L498.1 260.5L499.1 259L500 257L500.1 256.6L500.5 255L500.6 253L500.6 251L500.6 249L500.6 247L500.6 245L500.6 243L500.6 241L500.6 239L500.6 237L500.6 235L500.6 233L500.6 231L500.6 229L500.6 227L500.6 225L500.6 223L500.6 221L500.6 219L500.6 217L500.6 215L500.6 213L500.5 211L500.2 209L500.1 208.8L499.4 207L498.1 205L498.1 205L496.1 203.1L495.9 203L494.1 202.2L492.1 201.8L490.1 201.8L488.1 201.8L486.1 201.8L484.1 201.9L482.1 202.3L480.8 203L480.1 203.5L478.6 205L478.1 205.7L477.3 207L476.5 209L476.2 211L476.1 212.9L476.1 213L476.1 215L476.1 217L476.1 219L476.1 221L476 223L475.8 225L475.1 227L474.1 228.7L473.9 229L472.1 231L472.1 231L470.1 232.2L468.1 232.6L466.1 232.7L464.1 232.7L462.1 232.8L460.1 232.8L459 233L458.1 233.1L456.1 234.1L455 235L454.1 236L453.4 237L452.3 239L452.1 239.7ZM526 239L525.4 241L525.2 243L525.2 245L525.2 247L525.2 249L525.2 251L525.2 253L525.4 255L525.8 257L526.1 257.7L526.8 259L528.1 260.8L528.3 261L530.1 262.3L532.1 262.5L534.1 261.3L534.4 261L535.9 259L536.1 258.7L536.9 257L537.3 255L537.5 253L537.5 251L537.5 249L537.5 247L537.5 245L537.4 243L537.2 241L536.7 239L536.1 237.8L535.6 237L534.1 235.2L533.8 235L532.1 234L530.1 234.2L528.9 235L528.1 235.7L527.1 237L526.1 238.8ZM697.4 349L697.2 351L697.1 353L697.1 355L697.1 357L697.1 359L697.1 361L697.1 363L697.1 365L697.1 367L697.1 369L697.1 371L698.1 372.2L700.1 372.2L702.1 371.9L704.1 371.2L704.4 371L706.1 369.8L706.8 369L708.1 367.1L708.2 367L708.9 365L709.3 363L709.4 361L709.4 359L709.4 357L709.4 355L709.4 353L709.3 351L709.1 349L708.4 347L708.1 346.4L707.2 345L706.1 343.8L704.9 343L704.1 342.6L702.1 342.7L701.6 343L700.1 344.1L699.3 345L698.1 347L698.1 347ZM734 103L734 105L734 107L734 109L734 111L734 113L734 115L734 117L734 119L734 121L734 123L734 125L734 127L734 129L734 131L734 133L734 135L734 137L734 139L734 141L734 143L734 145L734 147L734 149L734 151L734 153L734 155L734 157L734 159L734 161L734 163L734 165L734 167L734 169L734 171L734 173L734 175L734 177L734 179L734 181L734 183L734 185L734 187L734 189L734 191L734.1 192.5L734.1 193L734.6 195L735.5 197L736.1 198L736.9 199L738.1 200.2L739.1 201L740.1 201.7L741.7 203L742.1 203.3L743.7 205L744.1 205.5L745 207L746 209L746.1 209.2L746.9 211L748.1 213L748.1 213.1L749.8 215L750.1 215.3L752.1 216.1L754.1 215.6L754.9 215L756.1 213.8L756.7 213L757.8 211L758.1 210.4L758.7 209L759.7 207L760.1 206.4L761.1 205L762.1 203.9L763.3 203L764.1 202.5L766.1 201.9L768.1 201.8L770.1 201.8L772.1 201.7L774.1 201.7L776.1 201.4L777.2 201L778.1 200.6L780.1 199L780.1 199L781.5 197L782.1 195.9L782.5 195L782.9 193L783.1 191L783.1 189L783.1 187L783.1 185L783.1 183L783.1 181L783.1 179L783.1 177L783.1 175L783.1 173L783.1 171L783.1 169L783.1 167L783 165L782.8 163L782.1 161L782.1 161L780.9 159L780.1 158L779.1 157L778.1 156.1L776.6 155L776.1 154.6L774.2 153L774.1 152.9L772.6 151L772.1 150.2L771.5 149L770.6 147L770.1 146L769.6 145L768.3 143L768.1 142.8L766.3 141L766.1 140.8L764.1 139.3L763.7 139L762.1 137.7L761.5 137L760.1 135.1L760 135L759.1 133L758.7 131L758.5 129L758.5 127L758.5 125L758.5 123L758.5 121L758.5 119L758.3 117L758.1 116.3L757.7 115L756.7 113L756.1 112.2L755.1 111L754.1 110.1L752.7 109L752.1 108.5L750.2 107L750.1 106.9L748.4 105L748.1 104.6L747.2 103L746.2 101L746.1 100.7L745.3 99L744.1 97L744.1 97L742.1 95L742.1 95L740.1 94.3L738.1 95L738.1 95L736.1 97L736.1 97L734.9 99L734.3 101L734.1 102.3ZM795.6 303L795.4 305L795.4 307L795.4 309L795.4 311L795.4 313L795.4 315L795.5 317L796 319L796.1 319.3L796.9 321L798.1 322.7L798.5 323L800.1 324.2L802.1 324.5L804.1 323.5L804.6 323L806.1 321L806.1 321L807 319L807.5 317L807.6 315L807.6 313L807.6 311L807.6 309L807.6 307L807.6 305L807.4 303L806.8 301L806.1 299.5L805.8 299L804.1 297L804.1 297L802.1 296L800.1 296.3L799.1 297L798.1 297.8L797.2 299L796.2 301L796.1 301.2ZM809.9 263L809.5 265L809.1 267L808.6 269L808.3 271L808.6 273L809.5 275L810.1 275.8L811.3 277L812.1 277.6L814.1 278.1L816.1 277.2L816.3 277L818.1 275L818.1 275L819.1 273L819.7 271L819.9 269L819.9 267L819.9 265L819.9 263L819.9 261L819.8 259L819.4 257L818.1 255.1L818 255L816.1 253.7L814.1 253.4L812.1 254.8L811.9 255L811 257L810.5 259L810.2 261L810.1 261.5ZM881.6 163L881.4 165L881.3 167L881.3 169L881.3 171L881.3 173L881.3 175L881.4 177L881.8 179L882.1 179.9L882.6 181L883.9 183L884.1 183.2L886.1 184.7L888.1 185L890.1 183.9L891 183L892.1 181.4L892.4 181L893.1 179L893.5 177L893.6 175L893.6 173L893.6 171L893.6 169L893.6 167L893.5 165L893.3 163L892.6 161L892.1 160L891.4 159L890.1 157.6L889.1 157L888.1 156.5L886.1 156.8L885.7 157L884.1 158.3L883.5 159L882.3 161L882.1 161.6ZM894 257L893.7 259L893.6 261L893.6 263L893.6 265L893.6 267L893.6 269L893.6 271L893.6 273L893.6 275L893.6 277L893.6 279L893.6 281L893.6 283L893.6 285L893.6 287L893.6 289L893.6 291L893.6 293L893.6 295L893.6 297L893.6 299L893.7 301L894.1 303L894.1 303.1L894.9 305L896.1 306.9L896.2 307L898.1 308.6L899.7 309L900.1 309.1L900.3 309L902.1 308.2L903.3 307L904.1 305.9L904.6 305L905.4 303L905.8 301L905.9 299L905.9 297L905.9 295L905.9 293L905.9 291L905.9 289L906.1 287.6L906.2 287L906.9 285L908 283L908.1 282.9L909.8 281L910.1 280.7L912.1 279.2L912.4 279L914.1 277.6L914.7 277L916.1 275.4L916.3 275L917.4 273L917.9 271L918.1 269.2L918.1 269L918.2 267L918.2 265L918.2 263L918.2 261L918.1 259.6L918.1 259L917.6 257L916.3 255L916.1 254.8L914.1 253.4L913.2 253L912.1 252.6L910.1 252.2L908.1 252.2L906.1 252.2L904.1 252.2L902.1 252.2L900.1 252.4L898.1 252.9L897.8 253L896.1 254L895 255L894.1 256.7ZM1054 239L1053.5 241L1053.3 243L1053.2 245L1053.2 247L1053.2 249L1053.2 251L1053.3 253L1053.4 255L1053.9 257L1054.1 257.6L1054.8 259L1056.1 260.8L1056.3 261L1058.1 262.3L1060.1 262.5L1062.1 261.4L1062.5 261L1064 259L1064.1 258.8L1064.9 257L1065.3 255L1065.5 253L1065.5 251L1065.5 249L1065.5 247L1065.5 245L1065.5 243L1065.3 241L1064.7 239L1064.1 237.7L1063.7 237L1062.1 235.1L1061.9 235L1060.1 234L1058.1 234.2L1057 235L1056.1 235.7L1055.1 237L1054.1 238.9Z" fill="none" stroke="#a8a8a8" stroke-width="1"/>
</g>
<g fill="none" stroke="#a8a8a8" stroke-width="1">
<polyline points="226.4,70 227.5,100 226,130 225.5,160"/>
<polyline points="159.3,119 157.6,148.6 164.2,151.8 175.6,148.6 198.6,140.4 200.2,132.2 190.4,124 175.6,122.4"/>
<polyline points="200.2,132.2 211.6,140.4 223.1,138.7 224.7,132.2"/>
<polyline points="126.5,146.9 139.6,139.6 151.1,151.8 157.6,171.5 159.3,184.6 164.2,197.7 175.6,197.7 188.7,182.9 201.8,174.7 218.2,172.3 224.7,164.9"/>
<ellipse cx="135.5" cy="184.6" rx="7.4" ry="13.1"/>
</g>
<line x1="120" y1="101" x2="1090" y2="101" stroke="#aaa" stroke-width="1" stroke-dasharray="4,2" fill="none"/>
<line x1="120" y1="163" x2="1090" y2="163" stroke="#aaa" stroke-width="1" stroke-dasharray="4,2" fill="none"/>
<line x1="120" y1="225" x2="1090" y2="225" stroke="#aaa" stroke-width="1" stroke-dasharray="4,2" fill="none"/>
<line x1="120" y1="287" x2="1090" y2="287" stroke="#aaa" stroke-width="1" stroke-dasharray="4,2" fill="none"/>
<line x1="120" y1="349" x2="1090" y2="349" stroke="#aaa" stroke-width="1" stroke-dasharray="4,2" fill="none"/>
<line x1="120" y1="411" x2="1090" y2="411" stroke="#aaa" stroke-width="1" stroke-dasharray="4,2" fill="none"/>
<line x1="175.2" y1="70" x2="175.2" y2="440" stroke="#aaa" stroke-width="1" stroke-dasharray="4,2" fill="none"/>
<line x1="273.5" y1="70" x2="273.5" y2="440" stroke="#aaa" stroke-width="1" stroke-dasharray="4,2" fill="none"/>
<line x1="371.7" y1="70" x2="371.7" y2="440" stroke="#aaa" stroke-width="1" stroke-dasharray="4,2" fill="none"/>
<line x1="469.9" y1="70" x2="469.9" y2="440" stroke="#aaa" stroke-width="1" stroke-dasharray="4,2" fill="none"/>
<line x1="568.2" y1="70" x2="568.2" y2="440" stroke="#aaa" stroke-width="1" stroke-dasharray="4,2" fill="none"/>
<line x1="666.4" y1="70" x2="666.4" y2="440" stroke="#aaa" stroke-width="1" stroke-dasharray="4,2" fill="none"/>
<line x1="764.7" y1="70" x2="764.7" y2="440" stroke="#aaa" stroke-width="1" stroke-dasharray="4,2" fill="none"/>
<line x1="862.9" y1="70" x2="862.9" y2="440" stroke="#aaa" stroke-width="1" stroke-dasharray="4,2" fill="none"/>
<line x1="961.1" y1="70" x2="961.1" y2="440" stroke="#aaa" stroke-width="1" stroke-dasharray="4,2" fill="none"/>
<line x1="1059.4" y1="70" x2="1059.4" y2="440" stroke="#aaa" stroke-width="1" stroke-dasharray="4,2" fill="none"/>
<g clip-path="url(#cp1f)">
<polyline points="126,78 149.5,73.4 176.8,78 199.5,80.2 233.6,84.8 256,87 274.5,90 308.6,90" fill="none" stroke="#9a00c8" stroke-width="2.5" stroke-linejoin="round" />
<polyline points="333.6,86 360,91.6 369,92.7 405.5,80.2 435,84.8 457.7,91.6 473.6,96.8 507.7,98.4 532.7,95 553.2,98.4 587.3,101.4 610,96.8 625,92.7 642,101.4 668,95.5 695.5,94.5 727.3,90.5 763.6,96 793,89.3 809,87" fill="none" stroke="#9a00c8" stroke-width="2.5" stroke-linejoin="round" />
<polyline points="841,89.3 851.6,94.3 874.8,90.9 909.5,90.9 942,92 969.8,96.7 1002.3,92 1039.4,93.2 1062.5,92 1090,92.5" fill="none" stroke="#9a00c8" stroke-width="2.5" stroke-linejoin="round" />
<polyline points="126,163.2 149.5,159.8 158.6,165.5 176.8,162 215.5,164.3" fill="none" stroke="#8a1ad0" stroke-width="2.5" stroke-linejoin="round" />
<polyline points="233.6,166.6 249.5,163.2 272.3,173.4 301.8,172.3 311,166.6 324.5,171.1 333.6,163.2 347.3,171.1 370,173.4 382.7,160.9 407.7,155.9 428.2,165 446.4,165 466.8,173.4 519,174.5 532.7,173.4 566.8,182.5 610,178.6" fill="none" stroke="#8a1ad0" stroke-width="2.5" stroke-linejoin="round" />
<polyline points="625,176.8 650,174 688.6,182.5 725,173.4 759,179 772.7,173.4 788.6,178 818,165 840,169.7 863.2,173.2 886.4,177.8 909.5,168.5 955.9,169.7 997.6,176.6 1034.7,163.9 1060.2,175.5 1081,177.8 1090,169.7" fill="none" stroke="#8a1ad0" stroke-width="2.5" stroke-linejoin="round" />
<polyline points="126,111 142.7,110.5 154,110 159.8,117.7" fill="none" stroke="#000" stroke-width="3.2" stroke-linejoin="round" />
<polyline points="126,111 142.7,110.5 154,110 159.8,117.7" fill="none" stroke="#fff" stroke-width="1.2" stroke-linejoin="round" />
<polyline points="173.4,118.9 190.5,117.3 215.5,128.6 236,123.4 249.5,130.2 279,128 311,124.5 322.3,131.4 333.6,121 347.3,133.6 371.4,131.4 405.5,112 430.5,113.2 469,134.8 480.5,131.8 505.5,138.2 530.5,137 564.5,136.4 578.2,141.6" fill="none" stroke="#000" stroke-width="3.2" stroke-linejoin="round" />
<polyline points="173.4,118.9 190.5,117.3 215.5,128.6 236,123.4 249.5,130.2 279,128 311,124.5 322.3,131.4 333.6,121 347.3,133.6 371.4,131.4 405.5,112 430.5,113.2 469,134.8 480.5,131.8 505.5,138.2 530.5,137 564.5,136.4 578.2,141.6" fill="none" stroke="#fff" stroke-width="1.2" stroke-linejoin="round" />
<polyline points="603,140.5 627.3,136 666,143.2 691,139.3 718.2,130.2 741,133.6 763.6,137 788.6,130.2 811.4,123.4 827.3,123.4 841,133.6" fill="none" stroke="#000" stroke-width="3.2" stroke-linejoin="round" />
<polyline points="603,140.5 627.3,136 666,143.2 691,139.3 718.2,130.2 741,133.6 763.6,137 788.6,130.2 811.4,123.4 827.3,123.4 841,133.6" fill="none" stroke="#fff" stroke-width="1.2" stroke-linejoin="round" />
<polyline points="862,130.7 874.8,136 898,126.8 932.7,130.3 955.9,132.6 997.6,136 1011.5,129 1032.4,125.6 1048.6,126.8 1060.2,136 1074,129 1090,126.8" fill="none" stroke="#000" stroke-width="3.2" stroke-linejoin="round" />
<polyline points="862,130.7 874.8,136 898,126.8 932.7,130.3 955.9,132.6 997.6,136 1011.5,129 1032.4,125.6 1048.6,126.8 1060.2,136 1074,129 1090,126.8" fill="none" stroke="#fff" stroke-width="1.2" stroke-linejoin="round" />
<polyline points="126,238 161,243.6 174.5,244.8 183.6,239 188,229 199.5,220 222.3,213.2 226.8,220 231,238 236,241.4 265.5,239 290.5,230 299.5,225.7 320,224.5 360,221 382.7,222.7 405.5,208.2 428.2,213.2 457.7,217.7 478.2,224.5" fill="none" stroke="#1040e0" stroke-width="2.5" stroke-linejoin="round" />
<polyline points="505.5,220 519,224.5 541.8,215.5 557.7,225.7 578.2,224.5 610,226.8 629.5,226.8 652.3,217.7 668.2,229 691,233.6 713.6,224.5 754.5,217.7 779.5,224.5 797.7,217.7 813.6,205.2" fill="none" stroke="#1040e0" stroke-width="2.5" stroke-linejoin="round" />
<polyline points="838.6,208.6 849.3,216 863.2,214.9 886.4,224.1 903.7,213.7 916.5,214.9 924.6,219.5 937.4,204.4 951.3,211.4 979.1,210.2 1011.5,217.2 1034.7,210.2 1046.3,220.7 1060.2,213.7 1078.8,223 1090,221.8" fill="none" stroke="#1040e0" stroke-width="2.5" stroke-linejoin="round" />
<polyline points="126,274.3 142.7,268.6 163.2,288 174.5,283.4 188.2,288 199.5,278.9 211,305 217.7,286.8 236,269.8 258.6,277.7" fill="none" stroke="#1a90f0" stroke-width="2.2" stroke-linejoin="round" />
<polyline points="286,281 308.6,285.7 336,281 358.6,275 385,278.9 416.8,274.3 428.2,273.6 445.2,265.2 460,276.6 485,278.9 494,285.2 510,273.2 519,277.7 535,271 553.2,275.5 576,284.5 594,286.4 610,281 629.5,280 641,277.7 654.5,289.5 666,280.5 679.5,288 713.6,273.2 736.4,276.6 759,268.2 777.3,276.6 800,272" fill="none" stroke="#1a90f0" stroke-width="2.2" stroke-linejoin="round" />
<polyline points="825,271 838.6,266.4 863.2,271.7 888.7,283.3 899.1,292.1 918.8,276.4 942,272.9 969.8,269 1000,269.4 1009.2,279.8 1023.1,272.2 1044,275.2 1057.9,279.8 1071.8,277.5 1090,271.7" fill="none" stroke="#1a90f0" stroke-width="2.2" stroke-linejoin="round" />
<polyline points="126,306 142.7,298.2 149.5,298.2 167.7,339 174.5,359.5 188.2,377.7 199.5,373.2 206.4,348.2 220,314.1 236,300.5 247.3,302.7 256.4,316.4 265.5,348.2 279,357.3 290.5,359.5 299.5,364.1 317.7,346 331.4,336.8 347.3,327.7 370,341.4 376,343.6 401,351.6 410,348.2 416.8,325.5 421.4,322 444,332.3 469,323.2 503.2,335.7 519,318.6 539.5,334.5 553.2,341.4 564.5,348.2 587.3,350.5 610,343.6 611.4,336.8 634,335.7 654.5,344.8 666,335.7 677.3,347 688.6,341.4" fill="none" stroke="#1ec0a8" stroke-width="2.2" stroke-linejoin="round" />
<polyline points="713.6,334.5 729.5,326.6 747.7,332.3 766,341.4 795.5,334.5 813.6,310.7 840,317 863.2,319.2 898,332 923.4,307.7 949,325 960.5,359.8 988.4,350.5 1023.1,301.9 1032.4,320.4 1071.8,343.6 1090,334.3" fill="none" stroke="#1ec0a8" stroke-width="2.2" stroke-linejoin="round" />
<polyline points="126,336.8 138.2,327.7 147.3,327.7 154,339 159.8,412" fill="none" stroke="#f0a830" stroke-width="2.2" stroke-linejoin="round" />
<polyline points="198.4,412 215.5,357.3 236,330 247.3,346 256.4,389 261,412" fill="none" stroke="#f0a830" stroke-width="2.2" stroke-linejoin="round" />
<polyline points="360,402.7 396.4,398.2 420.2,356.1 435,361.8 446.4,372 455.5,389 466.8,412" fill="none" stroke="#f0a830" stroke-width="2.2" stroke-linejoin="round" />
<polyline points="487.3,402.7 498.6,380 519,352.7 532.7,373.2 548.6,412" fill="none" stroke="#f0a830" stroke-width="2.2" stroke-linejoin="round" />
<polyline points="585,412 601,384.5 616,381 622.7,391.4 629.5,412" fill="none" stroke="#f0a830" stroke-width="2.2" stroke-linejoin="round" />
<polyline points="695.5,412 713.6,377.7 727.3,368.6 743.2,380 747.7,412" fill="none" stroke="#f0a830" stroke-width="2.2" stroke-linejoin="round" />
<polyline points="781.8,412 797.7,375.5 813.6,343.6 827.3,352.7 841,368.6 847.7,389 854,412" fill="none" stroke="#f0a830" stroke-width="2.2" stroke-linejoin="round" />
<polyline points="879.4,412 898,378.4 907.2,352.9 923.4,342.4 935,366.8 942,392.3 951.3,412" fill="none" stroke="#f0a830" stroke-width="2.2" stroke-linejoin="round" />
<polyline points="988.4,412 1002.3,378.4 1016.2,341.3 1023.1,332 1032.4,350.5 1041.7,378.4 1046.3,412" fill="none" stroke="#f0a830" stroke-width="2.2" stroke-linejoin="round" />
<polyline points="1074.1,412 1090,383" fill="none" stroke="#f0a830" stroke-width="2.2" stroke-linejoin="round" />
<polyline points="126,368.6 140.5,360.7 149.5,364 153,412" fill="none" stroke="#f07818" stroke-width="2.2" stroke-linejoin="round" />
<polyline points="211,412 224.5,375.5 236,364 245,384.5 247.3,412" fill="none" stroke="#f07818" stroke-width="2.2" stroke-linejoin="round" />
<polyline points="414.5,412 421.4,391.4 432.7,396 438.4,412" fill="none" stroke="#f07818" stroke-width="2.2" stroke-linejoin="round" />
<polyline points="713.6,412 722.7,405 730.7,412" fill="none" stroke="#f07818" stroke-width="2.2" stroke-linejoin="round" />
<polyline points="797.7,412 813.6,375.5 825,412" fill="none" stroke="#f07818" stroke-width="2.2" stroke-linejoin="round" />
<polyline points="895.6,412 909.5,387.6 923.4,378.4 930.4,392.3 932.7,412" fill="none" stroke="#f07818" stroke-width="2.2" stroke-linejoin="round" />
<polyline points="1000,412 1016.2,373.7 1023.1,366.8 1030,383 1032.4,412" fill="none" stroke="#f07818" stroke-width="2.2" stroke-linejoin="round" />
<polyline points="126,398.2 138.2,394.8 141.6,412" fill="none" stroke="#e0108a" stroke-width="2.2" stroke-linejoin="round" />
<polyline points="221,405 236,397 239.3,412" fill="none" stroke="#e0108a" stroke-width="2.2" stroke-linejoin="round" />
<polyline points="1013.9,412 1023.1,401.5 1024.3,412" fill="none" stroke="#e0108a" stroke-width="2.2" stroke-linejoin="round" />
</g>
<text x="323" y="101" fill="#9a00c8" font-size="17" text-anchor="middle">&#8722;5</text>
<text x="826" y="94" fill="#9a00c8" font-size="17" text-anchor="middle">&#8722;5</text>
<text x="225" y="172" fill="#8a1ad0" font-size="17" text-anchor="middle">5</text>
<text x="617" y="186" fill="#8a1ad0" font-size="17" text-anchor="middle">5</text>
<text x="495" y="233" fill="#1040e0" font-size="17" text-anchor="middle">10</text>
<text x="826" y="209" fill="#1040e0" font-size="17" text-anchor="middle">10</text>
<text x="274" y="286" fill="#1a90f0" font-size="17" text-anchor="middle">15</text>
<text x="815" y="286" fill="#1a90f0" font-size="17" text-anchor="middle">15</text>
<text x="323" y="332" fill="#1ec0a8" font-size="17" text-anchor="middle">20</text>
<text x="703" y="356" fill="#1ec0a8" font-size="17" text-anchor="middle">20</text>
<text x="544" y="278" fill="#b4b4b4" font-size="13" text-anchor="middle">90</text>
<text x="654" y="191" fill="#b4b4b4" font-size="13" text-anchor="middle">90</text>
<text x="912" y="214" fill="#b4b4b4" font-size="13" text-anchor="middle">70</text>
<text x="1060" y="120" fill="#b4b4b4" font-size="13" text-anchor="middle">70</text>
<text x="163" y="131" font-size="14" text-anchor="middle" fill="#000">FR</text>
<text x="593" y="146" font-size="14" text-anchor="middle" fill="#000">FR</text>
<text x="851" y="139" font-size="14" text-anchor="middle" fill="#000">FR</text>
<g clip-path="url(#cp1)"><path d="M126.1 70L140.3 77.3M140.3 77.3L143.4 73.3M126.1 101L139 110.5M139 110.5L142.6 107M126.1 132L139.8 140.3M139.8 140.3L143.1 136.5M126.1 163L138.7 172.9M138.7 172.9L142.4 169.5M126.1 194L138.6 204M138.6 204L142.3 200.7M126.1 225L140.9 231M140.9 231L143.6 226.7M126.1 256L139.1 265.3M139.1 265.3L142.7 261.8M126.1 287L134.1 300.9M134.1 300.9L137.8 299.5M126.1 318L137.8 328.9M137.8 328.9L141 326.4M126.1 349L138 359.7M138 359.7L141.1 357.3M126.1 364.5L132.9 379M132.9 379L136.8 377.9M126.1 380L136.6 392.1M136.6 392.1L140 390M126.1 395.5L134.1 409.4M134.1 409.4L137.8 408M126.1 411L134.3 424.8M134.3 424.8L138 423.3M150.7 70L163.1 80.1M163.1 80.1L166.8 76.8M150.7 101L165.2 107.6M165.2 107.6L168.1 103.5M150.7 132L163.1 142.1M163.1 142.1L166.9 138.8M150.7 163L161.8 174.5M161.8 174.5L165.9 171.7M150.7 194L163.7 203.3M163.7 203.3L167.2 199.8M150.7 225L162.5 235.8M162.5 235.8L166.5 232.7M150.7 256L159.8 269.1M159.8 269.1L164.3 267M150.7 287L163.5 296.6M163.5 296.6L166.4 293.9M150.7 318L159.2 331.5M159.2 331.5L162.9 330M150.7 349L160.3 361.7M160.3 361.7L163.9 359.9M150.7 364.5L162.2 375.6M162.2 375.6L165.4 373.3M150.7 380L163.6 389.4M163.6 389.4L166.5 386.6M150.7 395.5L158.4 409.5M158.4 409.5L162.2 408.2M150.7 411L158.9 424.7M158.9 424.7L162.6 423.3M175.2 70L187.2 80.6M187.2 80.6L191.1 77.5M175.2 101L186.3 112.6M186.3 112.6L190.4 109.8M175.2 132L187.2 142.6M187.2 142.6L191.1 139.5M175.2 163L186 174.8M186 174.8L190.2 172.1M175.2 194L188.8 202.4M188.8 202.4L192.1 198.7M175.2 225L186.7 236.1M186.7 236.1L190.8 233.2M175.2 256L185.9 268M185.9 268L190.1 265.3M175.2 287L182.5 301.3M182.5 301.3L186.3 300.1M175.2 318L182.9 332M182.9 332L186.7 330.8M175.2 349L187.8 358.8M187.8 358.8L190.8 356.2M175.2 364.5L187.6 374.6M187.6 374.6L190.7 372M175.2 380L187.2 390.6M187.2 390.6L190.3 388.1M175.2 395.5L182.2 409.9M182.2 409.9L186.1 408.8M175.2 411L183.7 424.6M183.7 424.6L187.4 423.1M199.8 70L212.2 80M212.2 80L216 76.7M199.8 101L213.8 108.8M213.8 108.8L216.9 104.9M199.8 132L212.9 141.2M212.9 141.2L216.4 137.7M199.8 163L213.4 171.4M213.4 171.4L216.7 167.6M199.8 194L213.6 202.1M213.6 202.1L216.8 198.3M199.8 225L212.5 234.8M212.5 234.8L216.2 231.4M199.8 256L209.5 268.7M209.5 268.7L214 266.4M199.8 287L207.3 301.1M207.3 301.1L211.1 299.9M199.8 318L208.9 331.2M208.9 331.2L212.5 329.5M199.8 349L207.1 363.2M207.1 363.2L210.9 362.1M199.8 364.5L207.6 378.5M207.6 378.5L211.4 377.1M199.8 380L206.6 394.5M206.6 394.5L210.5 393.4M199.8 395.5L208.9 408.6M208.9 408.6L212.6 406.9M199.8 411L210.1 423.2M210.1 423.2L213.5 421.2M224.3 70L235.5 81.5M235.5 81.5L239.6 78.7M224.3 101L234.8 113.1M234.8 113.1L239.1 110.5M224.3 132L235.2 143.7M235.2 143.7L239.4 141M224.3 163L237.1 172.6M237.1 172.6L240.8 169.2M224.3 194L236.3 204.6M236.3 204.6L240.2 201.5M224.3 225L238.7 232.1M238.7 232.1L241.6 228.1M224.3 256L232.4 269.8M232.4 269.8L237 268.1M224.3 287L234.1 299.6M234.1 299.6L237.7 297.8M224.3 318L235.9 329M235.9 329L239.2 326.6M224.3 349L237.1 358.6M237.1 358.6L240.1 355.9M224.3 364.5L232.2 378.4M232.2 378.4L236 377.1M224.3 380L231.2 394.5M231.2 394.5L235 393.4M224.3 395.5L237 405.3M237 405.3L240 402.6M224.3 411L230.1 425.9M230.1 425.9L234 425.2M248.9 70L262.4 78.6M262.4 78.6L265.8 74.9M248.9 101L263.5 107.6M263.5 107.6L266.3 103.5M248.9 132L262.9 139.7M262.9 139.7L266.1 135.8M248.9 163L260.6 173.9M260.6 173.9L264.6 170.9M248.9 194L260 205.5M260 205.5L264.1 202.8M248.9 225L263.8 230.8M263.8 230.8L266.4 226.5M248.9 256L258.4 268.9M258.4 268.9L262.9 266.6M248.9 287L261.8 296.5M261.8 296.5L264.7 293.7M248.9 318L257.7 331.4M257.7 331.4L261.4 329.8M248.9 349L260.2 360.3M260.2 360.3L263.5 358M248.9 364.5L256.6 378.6M256.6 378.6L260.3 377.3M248.9 380L255.8 394.4M255.8 394.4L259.7 393.4M248.9 395.5L259.1 407.8M259.1 407.8L262.6 405.8M248.9 411L253.1 426.5M253.1 426.5L257 426.1M273.5 70L283.9 82.1M283.9 82.1L288.2 79.6M273.5 101L285.3 111.8M285.3 111.8L289.2 108.7M273.5 132L281.9 145.6M281.9 145.6L286.6 143.7M273.5 163L285.5 173.5M285.5 173.5L289.4 170.3M273.5 194L284.6 205.5M284.6 205.5L288.7 202.7M273.5 225L283.3 237.6M283.3 237.6L287.7 235.3M273.5 256L278.6 271.2M278.6 271.2L283.5 270.4M273.5 287L282 300.5M282 300.5L285.7 299M273.5 318L282.8 331M282.8 331L286.4 329.3M273.5 349L276.5 364.7M276.5 364.7L280.5 364.6M273.5 364.5L280.9 378.7M280.9 378.7L284.7 377.5M273.5 380L275.8 395.8M275.8 395.8L279.8 396M273.5 395.5L276.3 411.3M276.3 411.3L280.3 411.2M273.5 411L282.3 424.3M282.3 424.3L286 422.7M298 70L307.5 82.9M307.5 82.9L312 80.7M298 101L307.1 114.2M307.1 114.2L311.6 112.1M298 132L306.2 145.8M306.2 145.8L310.9 144M298 163L306.5 176.5M306.5 176.5L311.2 174.7M298 194L306.8 207.4M306.8 207.4L311.4 205.4M298 225L306.4 238.7M306.4 238.7L311 236.8M298 256L300.5 271.8M300.5 271.8L305.5 271.9M298 287L304 301.9M304 301.9L307.9 301M298 318L304.5 332.6M304.5 332.6L308.4 331.6M298 349L302.3 364.4M302.3 364.4L306.2 364.1M298 364.5L306 378.4M306 378.4L309.8 377M298 380L305.5 394.1M305.5 394.1L309.3 392.9M298 395.5L300.2 411.4M300.2 411.4L304.2 411.5M298 411L305.9 424.9M305.9 424.9L309.6 423.6M322.6 70L331.4 83.3M331.4 83.3L336 81.3M322.6 101L334.8 111.4M334.8 111.4L338.6 108.2M322.6 132L332.3 144.7M332.3 144.7L336.8 142.4M322.6 163L331.2 176.5M331.2 176.5L335.8 174.6M322.6 194L334.7 204.4M334.7 204.4L338.6 201.2M322.6 225L330.9 238.6M330.9 238.6L335.6 236.8M322.6 256L327.5 271.2M327.5 271.2L332.5 270.5M322.6 287L331.8 300.1M331.8 300.1L335.4 298.4M322.6 318L327.6 333.2M327.6 333.2L331.5 332.6M322.6 349L328.8 363.7M328.8 363.7L332.7 362.8M322.6 364.5L327.2 379.8M327.2 379.8L331.1 379.4M322.6 380L329.7 394.3M329.7 394.3L333.5 393.2M322.6 395.5L326.9 410.9M326.9 410.9L330.9 410.5M322.6 411L328.8 425.7M328.8 425.7L332.7 424.9M347.1 70L359.3 80.4M359.3 80.4L363.1 77.3M347.1 101L359.1 111.7M359.1 111.7L363 108.6M347.1 132L355.1 145.9M355.1 145.9L359.8 144.2M347.1 163L352.9 177.9M352.9 177.9L357.8 177M347.1 194L357.9 205.8M357.9 205.8L362.2 203.1M347.1 225L356.6 237.9M356.6 237.9L361.1 235.7M347.1 256L352.4 271.1M352.4 271.1L357.3 270.3M347.1 287L354.5 301.2M354.5 301.2L358.3 300M347.1 318L354.2 332.4M354.2 332.4L358 331.3M347.1 349L354.6 363.2M354.6 363.2L358.4 362M347.1 364.5L354.1 378.9M354.1 378.9L358 377.8M347.1 380L352.4 395.1M352.4 395.1L356.3 394.5M347.1 395.5L354.6 409.6M354.6 409.6L358.5 408.4M347.1 411L356 424.3M356 424.3L359.7 422.7M371.7 70L378.9 84.3M378.9 84.3L386.6 82M377.3 81.2L384 79.1M371.7 101L383.8 111.5M383.8 111.5L390 106.4M381.2 109.2L386.6 104.7M371.7 132L380.4 145.4M380.4 145.4L387.8 142.3M378.5 142.5L384.9 139.8M371.7 163L379.2 177.1M379.2 177.1L386.8 174.7M371.7 194L382.1 206.1M382.1 206.1L386.4 203.6M371.7 225L382.7 236.6M382.7 236.6L386.9 233.9M371.7 256L375.3 271.6M375.3 271.6L380.3 271.3M371.7 287L379.7 300.9M379.7 300.9L383.4 299.5M371.7 318L380 331.7M380 331.7L383.8 330.2M371.7 349L378.2 363.6M378.2 363.6L382.1 362.7M371.7 364.5L376.1 379.9M376.1 379.9L380.1 379.5M371.7 380L380.6 393.3M380.6 393.3L384.3 391.6M371.7 395.5L379 409.7M379 409.7L382.9 408.5M371.7 411L380.9 424.1M380.9 424.1L384.5 422.4M396.3 70L411.3 64.5M411.3 64.5L409.9 56.7M408 65.7L406.8 58.8M396.3 101L409.9 92.6M409.9 92.6L406.9 85.1M406.9 94.4L404.3 87.9M396.3 132L411.4 126.7M411.4 126.7L410.1 118.8M408.1 127.9L406.9 121M396.3 163L408.5 152.7M408.5 152.7L404.5 145.8M396.3 194L409.4 184.8M409.4 184.8L407.3 180.3M396.3 225L410.7 218.1M410.7 218.1L409.4 213.3M396.3 256L411.8 252.3M411.8 252.3L411.5 247.3M396.3 287L410.6 279.9M410.6 279.9L409.4 276M396.3 318L409.6 309.2M409.6 309.2L408.1 305.6M396.3 349L410.9 342.7M410.9 342.7L410 338.8M396.3 364.5L412 361.4M412 361.4L411.9 357.4M396.3 380L411.2 374.2M411.2 374.2L410.4 370.3M396.3 395.5L412.2 394.7M412.2 394.7L412.7 390.8M396.3 411L397.6 426.9M397.6 426.9L401.6 427.3M420.8 70L433.2 59.8M433.2 59.8L429.2 52.9M430.5 62.1L427 56M420.8 101L433.7 91.5M433.7 91.5L430.1 84.3M430.8 93.5L427.7 87.3M420.8 132L435.8 126.3M435.8 126.3L434.3 118.5M432.5 127.6L431.2 120.7M420.8 163L435.2 156.1M435.2 156.1L433.1 148.4M420.8 194L435.8 188.3M435.8 188.3L434.8 183.4M420.8 225L434 215.9M434 215.9L431.9 211.4M420.8 256L433.7 246.6M433.7 246.6L431.5 242.1M420.8 287L434.5 278.7M434.5 278.7L433.1 275M420.8 318L436.2 313.5M436.2 313.5L435.8 309.6M420.8 349L436 343.8M436 343.8L435.3 339.9M420.8 364.5L436.2 359.9M436.2 359.9L435.7 356M420.8 380L436.3 376M436.3 376L436 372M420.8 395.5L436.3 391.5M436.3 391.5L436 387.5M420.8 411L432.6 400.1M432.6 400.1L430.4 396.8M445.4 70L460.6 65.2M460.6 65.2L459.6 57.3M457.3 66.3L456.4 59.3M445.4 101L457.6 90.6M457.6 90.6L453.5 83.7M454.9 92.9L451.4 86.9M445.4 132L456.7 120.7M456.7 120.7L452.1 114.1M454.2 123.2L450.2 117.4M445.4 163L460.7 158.4M460.7 158.4L459.8 150.5M445.4 194L460.5 188.9M460.5 188.9L459.8 184M445.4 225L460.8 220.8M460.8 220.8L460.3 215.8M445.4 256L459.6 248.7M459.6 248.7L458.2 244M445.4 287L461.1 283.8M461.1 283.8L461 279.8M445.4 318L461 314.6M461 314.6L460.9 310.6M445.4 349L460.4 343.4M460.4 343.4L459.7 339.5M445.4 364.5L461.3 363.2M461.3 363.2L461.7 359.2M445.4 380L461.4 379.5M461.4 379.5L461.9 375.5M445.4 395.5L461.3 393.5M461.3 393.5L461.5 389.5M445.4 411L457.7 400.8M457.7 400.8L455.8 397.4M469.9 70L482.8 60.5M482.8 60.5L479.3 53.4M480 62.6L476.9 56.3M469.9 101L483.1 91.9M483.1 91.9L479.7 84.6M480.2 93.9L477.3 87.5M469.9 132L482.5 122.1M482.5 122.1L478.7 115.1M479.8 124.3L476.5 118.1M469.9 163L481.6 152.1M481.6 152.1L477.3 145.4M469.9 194L484.2 186.7M484.2 186.7L482.7 181.9M469.9 225L482.8 215.5M482.8 215.5L480.6 211M469.9 256L485.3 251.7M485.3 251.7L484.8 246.7M469.9 287L482.4 277M482.4 277L480.5 273.5M469.9 318L485.5 314.4M485.5 314.4L485.3 310.4M469.9 349L485.8 347.3M485.8 347.3L486.1 343.3M469.9 364.5L485.9 364.7M485.9 364.7L486.7 360.8M469.9 380L485.9 380M485.9 380L486.6 376M469.9 395.5L485.9 395.5M485.9 395.5L486.6 391.6M469.9 411L482.6 401.2M482.6 401.2L480.7 397.7M494.5 70L505.9 58.8M505.9 58.8L501.3 52.2M503.4 61.2L499.4 55.5M494.5 101L509.3 94.8M509.3 94.8L507.5 87M506 96.2L504.5 89.4M494.5 132L506.8 121.7M506.8 121.7L502.8 114.8M504.1 124L500.6 117.9M494.5 163L507.4 153.6M507.4 153.6L503.9 146.4M494.5 194L509 187.2M509 187.2L507.7 182.4M494.5 225L508.5 217.2M508.5 217.2L506.8 212.5M494.5 256L508.7 248.6M508.7 248.6L507.2 243.8M494.5 287L510.2 283.7M510.2 283.7L510 279.7M494.5 318L509.4 312.1M509.4 312.1L508.6 308.2M494.5 349L509.8 344.4M509.8 344.4L509.3 340.4M494.5 364.5L509.6 359.2M509.6 359.2L508.9 355.2M494.5 380L510.5 379.7M510.5 379.7L511.1 375.7M494.5 395.5L510.1 392M510.1 392L509.9 388M494.5 411L496.3 426.9M496.3 426.9L500.3 427.1M519.1 70L532.3 61M532.3 61L528.9 53.7M529.4 62.9L526.5 56.6M519.1 101L531.5 90.9M531.5 90.9L527.6 83.9M528.8 93.1L525.4 87M519.1 132L533.1 124.3M533.1 124.3L530.5 116.7M530 125.9L527.7 119.3M519.1 163L534 157.4M534 157.4L532.6 149.5M519.1 194L531.3 183.7M531.3 183.7L528.9 179.4M519.1 225L534 219.2M534 219.2L533 214.3M519.1 256L534.7 252.6M534.7 252.6L534.5 247.6M519.1 287L534.5 282.6M534.5 282.6L534 278.7M519.1 318L534.5 313.8M534.5 313.8L534.1 309.8M519.1 349L533.3 341.8M533.3 341.8L532.2 338M519.1 364.5L534.9 362.2M534.9 362.2L535 358.2M519.1 380L535.1 379.7M535.1 379.7L535.7 375.7M519.1 395.5L533.5 388.6M533.5 388.6L532.4 384.8M519.1 411L530 399.3M530 399.3L527.6 396.1M543.6 70L556.4 60.4M556.4 60.4L552.8 53.3M553.6 62.5L550.4 56.2M543.6 101L557.6 93.2M557.6 93.2L555 85.6M554.5 94.9L552.2 88.3M543.6 132L557.1 123.4M557.1 123.4L554.1 116M554.2 125.3L551.5 118.8M543.6 163L557.4 154.8M557.4 154.8L554.5 147.3M543.6 194L558.5 188.1M558.5 188.1L557.5 183.2M543.6 225L554.9 213.7M554.9 213.7L552.1 209.6M543.6 256L556.2 246.1M556.2 246.1L553.8 241.7M543.6 287L556.5 277.6M556.5 277.6L554.8 274M543.6 318L556.5 308.5M556.5 308.5L554.8 304.9M543.6 349L558.1 342.3M558.1 342.3L557.1 338.4M543.6 364.5L559.6 365.1M559.6 365.1L560.5 361.2M543.6 380L559.6 379.6M559.6 379.6L560.2 375.7M543.6 395.5L558.2 388.9M558.2 388.9L557.2 385M543.6 411L547.7 426.5M547.7 426.5L551.7 426.1M568.2 70L581.2 60.7M581.2 60.7L577.8 53.5M578.4 62.7L575.3 56.4M568.2 101L581.2 91.7M581.2 91.7L577.7 84.5M578.3 93.7L575.3 87.4M568.2 132L581.4 122.9M581.4 122.9L578.1 115.7M578.5 124.9L575.6 118.6M568.2 163L582.6 156.1M582.6 156.1L580.5 148.4M568.2 194L582.4 186.6M582.4 186.6L580.9 181.9M568.2 225L581.4 216M581.4 216L579.4 211.5M568.2 256L581.4 247M581.4 247L579.3 242.4M568.2 287L582 279M582 279L580.6 275.2M568.2 318L581.1 308.5M581.1 308.5L579.3 304.9M568.2 349L583.9 346.1M583.9 346.1L583.9 342.1M568.2 364.5L584.1 363M584.1 363L584.4 359M568.2 380L583.6 375.7M583.6 375.7L583.2 371.7M568.2 395.5L582.7 388.8M582.7 388.8L581.7 385M568.2 411L574.9 425.5M574.9 425.5L578.7 424.5M592.7 70L606 61.1M606 61.1L602.8 53.8M603.1 63L600.3 56.6M592.7 101L607 93.8M607 93.8L604.7 86.1M603.9 95.4L601.9 88.7M592.7 132L607.6 126.1M607.6 126.1L606 118.3M604.4 127.4L603 120.6M592.7 163L606.1 154.1M606.1 154.1L602.9 146.8M592.7 194L607.7 188.3M607.7 188.3L606.7 183.4M592.7 225L607.1 217.9M607.1 217.9L605.7 213.1M592.7 256L607 248.7M607 248.7L605.5 243.9M592.7 287L606.8 279.3M606.8 279.3L605.5 275.5M592.7 318L607.2 311.2M607.2 311.2L606.2 307.3M592.7 349L608.7 347.4M608.7 347.4L608.9 343.4M592.7 364.5L608.2 360.5M608.2 360.5L607.9 356.5M592.7 380L608.6 378.3M608.6 378.3L608.9 374.3M592.7 395.5L608.3 391.9M608.3 391.9L608.1 387.9M592.7 411L598.9 425.8M598.9 425.8L602.8 424.9M617.3 70L625.6 56.3M625.6 56.3L619.5 51M623.8 59.3L618.5 54.7M617.3 101L626.7 88M626.7 88L621.1 82.3M624.6 90.9L619.7 85.8M617.3 132L622 116.7M622 116.7L614.9 113.1M621 120.1L614.8 116.9M617.3 163L624.7 148.8M624.7 148.8L618.4 143.9M617.3 194L629.1 183.2M629.1 183.2L626.5 179M617.3 225L631.3 217.3M631.3 217.3L629.8 212.6M617.3 256L631.6 248.8M631.6 248.8L630.1 244M617.3 287L628.9 275.9M628.9 275.9L626.6 272.6M617.3 318L633.2 319.9M633.2 319.9L634.3 316.1M617.3 349L633.3 350M633.3 350L634.2 346.2M617.3 364.5L624.8 350.4M624.8 350.4L621.6 347.9M617.3 380L626.2 366.7M626.2 366.7L623.3 363.9M617.3 395.5L623.7 380.8M623.7 380.8L620.4 378.6M617.3 411L628.5 399.6M628.5 399.6L626.2 396.3M641.9 70L651 56.9M651 56.9L647.5 53.3M641.9 101L652.5 89M652.5 89L649.4 85.1M641.9 132L651.9 119.5M651.9 119.5L648.6 115.8M641.9 163L651 149.9M651 149.9L647.5 146.4M641.9 194L655.3 185.3M655.3 185.3L653.3 180.7M641.9 225L654.5 215.1M654.5 215.1L652.1 210.7M641.9 256L651.7 243.4M651.7 243.4L648.4 239.7M641.9 287L654.6 277.3M654.6 277.3L652.7 273.7M641.9 318L656.9 312.6M656.9 312.6L656.2 308.6M641.9 349L657.3 344.7M657.3 344.7L656.9 340.7M641.9 364.5L652.8 352.8M652.8 352.8L650.4 349.6M641.9 380L647.7 365.1M647.7 365.1L644.3 363M641.9 395.5L648 380.7M648 380.7L644.7 378.6M641.9 411L648.1 396.3M648.1 396.3L644.8 394.1M666.4 70L677 58M677 58L673.9 54.1M666.4 101L672 86M672 86L667.7 83.5M666.4 132L670.8 116.6M670.8 116.6L666.2 114.4M666.4 163L676.8 150.8M676.8 150.8L673.6 146.9M666.4 194L676.4 181.5M676.4 181.5L673.1 177.7M666.4 225L680.3 217.1M680.3 217.1L678.6 212.4M666.4 256L679.6 246.9M679.6 246.9L677.5 242.3M666.4 287L680.3 279M680.3 279L678.9 275.3M666.4 318L682.2 320.4M682.2 320.4L683.5 316.6M666.4 349L682.4 348.3M682.4 348.3L682.9 344.3M666.4 364.5L677.5 353M677.5 353L675.2 349.7M666.4 380L672.2 365.1M672.2 365.1L668.8 363M666.4 395.5L677.3 383.8M677.3 383.8L674.9 380.6M666.4 411L675.7 397.9M675.7 397.9L672.9 395.1M691 70L700.5 57.1M700.5 57.1L697 53.5M691 101L696 85.8M696 85.8L691.6 83.4M691 132L700.7 119.3M700.7 119.3L697.3 115.6M691 163L701.9 151.3M701.9 151.3L698.9 147.3M691 194L700.6 181.2M700.6 181.2L697.2 177.5M691 225L702.2 213.6M702.2 213.6L699.4 209.6M691 256L703.6 246.1M703.6 246.1L701.2 241.7M691 287L704.8 279M704.8 279L703.4 275.2M691 318L706.6 314.5M706.6 314.5L706.4 310.5M691 349L706.5 345M706.5 345L706.1 341M691 364.5L698.4 350.3M698.4 350.3L695.2 347.9M691 380L700.9 367.5M700.9 367.5L698.3 364.5M691 395.5L701.8 383.7M701.8 383.7L699.4 380.5M691 411L699.4 397.4M699.4 397.4L696.4 394.7M715.5 70L722.6 55.6M722.6 55.6L718.5 52.7M715.5 101L722.8 86.7M722.8 86.7L718.8 83.7M715.5 132L722.4 117.6M722.4 117.6L718.4 114.7M715.5 163L722.9 148.8M722.9 148.8L719 145.8M715.5 194L725.3 181.3M725.3 181.3L721.9 177.6M715.5 225L727.8 214.7M727.8 214.7L725.3 210.4M715.5 256L729.9 249M729.9 249L728.6 244.2M715.5 287L727.3 276.2M727.3 276.2L725.2 272.8M715.5 318L731.5 318.7M731.5 318.7L732.4 314.8M715.5 349L731 344.8M731 344.8L730.6 340.8M715.5 364.5L726 352.4M726 352.4L723.4 349.3M715.5 380L726.4 368.2M726.4 368.2L724 365.1M715.5 395.5L725.9 383.3M725.9 383.3L723.3 380.2M715.5 411L724.8 398M724.8 398L722 395.1M740.1 70L748 56.1M748 56.1L744.1 52.9M740.1 101L749.1 87.8M749.1 87.8L745.5 84.3M740.1 132L750.8 120.1M750.8 120.1L747.7 116.2M740.1 163L745.4 147.9M745.4 147.9L741.1 145.5M740.1 194L749.9 181.4M749.9 181.4L746.6 177.7M740.1 225L753.6 216.4M753.6 216.4L751.7 211.8M740.1 256L754.3 248.6M754.3 248.6L752.8 243.8M740.1 287L752.4 276.8M752.4 276.8L750.5 273.3M740.1 318L756 316.1M756 316.1L756.2 312.1M740.1 349L756.1 349.4M756.1 349.4L756.9 345.5M740.1 364.5L747 350.1M747 350.1L743.8 347.7M740.1 380L747.6 365.9M747.6 365.9L744.5 363.4M740.1 395.5L747.1 381.1M747.1 381.1L743.9 378.8M740.1 411L749.9 398.3M749.9 398.3L747.2 395.4M764.7 70L771.3 55.4M771.3 55.4L767.2 52.6M764.7 101L770.6 86.2M770.6 86.2L766.4 83.5M764.7 132L774 119M774 119L770.5 115.4M764.7 163L775.7 151.4M775.7 151.4L772.7 147.4M764.7 194L775.7 182.5M775.7 182.5L772.8 178.4M764.7 225L777.9 216.1M777.9 216.1L775.9 211.5M764.7 256L776.4 245.2M776.4 245.2L773.7 241M764.7 287L778.6 279.1M778.6 279.1L777.3 275.4M764.7 318L780.6 317.3M780.6 317.3L781.2 313.3M764.7 349L780.3 345.7M780.3 345.7L780.2 341.7M764.7 364.5L771.8 350.2M771.8 350.2L768.6 347.8M764.7 380L770.3 365M770.3 365L766.9 363M764.7 395.5L773.7 382.3M773.7 382.3L770.8 379.5M764.7 411L773 397.4M773 397.4L770 394.7M789.2 70L794.7 55M794.7 55L790.4 52.5M789.2 101L796.2 86.6M796.2 86.6L792.1 83.7M789.2 132L795.9 117.5M795.9 117.5L791.8 114.6M789.2 163L799.1 150.4M799.1 150.4L795.8 146.7M789.2 194L799.4 181.6M799.4 181.6L796.1 177.8M789.2 225L803.7 218.2M803.7 218.2L802.4 213.3M789.2 256L801.4 245.6M801.4 245.6L798.8 241.3M789.2 287L802 277.4M802 277.4L800.2 273.8M789.2 318L805.1 316.3M805.1 316.3L805.4 312.3M789.2 349L805.2 350.4M805.2 350.4L806.2 346.5M789.2 364.5L800.5 353.1M800.5 353.1L798.1 349.9M789.2 380L798.8 367.2M798.8 367.2L796 364.3M789.2 395.5L798.3 382.3M798.3 382.3L795.4 379.5M789.2 411L799.8 399M799.8 399L797.4 395.9M813.8 70L824.2 57.9M824.2 57.9L821 54M813.8 101L821 86.7M821 86.7L817.1 83.7M813.8 132L823.4 119.2M823.4 119.2L820 115.6M813.8 163L824.9 151.5M824.9 151.5L821.9 147.4M813.8 194L825.9 183.5M825.9 183.5L823.3 179.2M813.8 225L824.5 213.1M824.5 213.1L821.4 209.2M813.8 256L824.5 244.1M824.5 244.1L821.4 240.2M813.8 287L827.1 278.2M827.1 278.2L825.5 274.5M813.8 318L829.8 318.1M829.8 318.1L830.5 314.1M813.8 349L829.6 351.4M829.6 351.4L830.9 347.6M813.8 364.5L825.2 353.3M825.2 353.3L823 350M813.8 380L821.1 365.8M821.1 365.8L817.9 363.4M813.8 395.5L820.7 381.1M820.7 381.1L817.5 378.7M813.8 411L821.2 396.8M821.2 396.8L818.1 394.4M838.3 70L844 55M844 55L839.7 52.5M838.3 101L847.8 88.1M847.8 88.1L844.3 84.5M838.3 132L848.8 119.9M848.8 119.9L845.6 116M838.3 163L849 151.1M849 151.1L846 147.2M838.3 194L849.2 182.2M849.2 182.2L846.1 178.3M838.3 225L852.3 217.2M852.3 217.2L850.7 212.5M838.3 256L849.5 244.6M849.5 244.6L846.6 240.5M838.3 287L850.2 276.2M850.2 276.2L848 272.9M838.3 318L854.3 318.5M854.3 318.5L855.2 314.6M838.3 349L853.6 344.2M853.6 344.2L853.1 340.2M838.3 364.5L844.5 349.7M844.5 349.7L841.2 347.6M838.3 380L849.7 368.7M849.7 368.7L847.4 365.4M838.3 395.5L846 381.5M846 381.5L842.9 379M838.3 411L846.5 397.2M846.5 397.2L843.5 394.6M862.9 70L876.4 61.4M876.4 61.4L874.5 56.8M862.9 101L876.8 93.1M876.8 93.1L875.1 88.4M862.9 132L873.2 119.8M873.2 119.8L870 115.9M862.9 163L875.2 152.7M875.2 152.7L872.7 148.4M862.9 194L875.7 184.4M875.7 184.4L873.4 179.9M862.9 225L875.9 215.7M875.9 215.7L873.8 211.2M862.9 256L878.9 256.4M878.9 256.4L879.9 251.5M862.9 287L878.5 290.5M878.5 290.5L880.1 286.8M862.9 318L875.8 308.5M875.8 308.5L874 304.9M862.9 349L872.5 336.2M872.5 336.2L869.7 333.3M862.9 364.5L873.5 352.5M873.5 352.5L871 349.4M862.9 380L870.6 365.9M870.6 365.9L867.4 363.5M862.9 395.5L871.7 382.1M871.7 382.1L868.8 379.4M862.9 411L874.2 399.7M874.2 399.7L871.9 396.4M887.5 70L898.4 58.4M898.4 58.4L895.5 54.4M887.5 101L902.1 94.6M902.1 94.6L901 89.8M887.5 132L902.2 125.8M902.2 125.8L901.1 120.9M887.5 163L898.4 151.3M898.4 151.3L895.3 147.3M887.5 194L902.3 188.1M902.3 188.1L901.3 183.2M887.5 225L899.9 215M899.9 215L897.5 210.6M887.5 256L902.7 261M902.7 261L905 256.6M887.5 287L902.7 291.9M902.7 291.9L904.6 288.3M887.5 318L896.4 304.7M896.4 304.7L893.5 301.9M887.5 349L898.8 337.7M898.8 337.7L896.5 334.5M887.5 364.5L898.7 353.1M898.7 353.1L896.4 349.9M887.5 380L899.6 369.5M899.6 369.5L897.5 366.1M887.5 395.5L896.2 382.1M896.2 382.1L893.2 379.4M887.5 411L899.3 400.2M899.3 400.2L897.1 396.8M912 70L926.9 64.2M926.9 64.2L926 59.3M912 101L925.9 93M925.9 93L924.2 88.3M912 132L925.3 123.1M925.3 123.1L923.3 118.5M912 163L923 151.4M923 151.4L920 147.4M912 194L925.1 184.8M925.1 184.8L923 180.3M912 225L924.4 214.8M924.4 214.8L921.9 210.5M912 256L927.4 260.6M927.4 260.6L929.6 256.1M912 287L927.4 291.2M927.4 291.2L929.2 287.6M912 318L922.7 306.1M922.7 306.1L920.3 303M912 349L920.1 335.2M920.1 335.2L917.1 332.6M912 364.5L923.2 353.1M923.2 353.1L920.9 349.8M912 380L923.1 368.5M923.1 368.5L920.8 365.2M912 395.5L920.1 381.7M920.1 381.7L917.1 379.1M912 411L924.6 401.1M924.6 401.1L922.7 397.6M936.6 70L950.4 61.9M950.4 61.9L948.7 57.2M936.6 101L947.6 89.4M947.6 89.4L944.7 85.4M936.6 132L951.4 126M951.4 126L950.4 121.1M936.6 163L947.7 151.5M947.7 151.5L944.8 147.5M936.6 194L948.8 183.7M948.8 183.7L946.3 179.4M936.6 225L950.7 217.4M950.7 217.4L949.1 212.6M936.6 256L952.2 259.6M952.2 259.6L954.1 255M936.6 287L952.3 290.2M952.3 290.2L953.7 286.5M936.6 318L947.8 306.6M947.8 306.6L945.5 303.3M936.6 349L946.6 336.5M946.6 336.5L944 333.5M936.6 364.5L945.6 351.3M945.6 351.3L942.8 348.5M936.6 380L944.7 366.2M944.7 366.2L941.6 363.6M936.6 395.5L943.9 381.3M943.9 381.3L940.7 378.8M936.6 411L948.2 400M948.2 400L946 396.6M961.1 70L975.3 62.6M975.3 62.6L973.9 57.9M961.1 101L974.5 92.1M974.5 92.1L972.4 87.5M961.1 132L975.3 124.5M975.3 124.5L973.8 119.8M961.1 163L973.5 152.9M973.5 152.9L971.1 148.5M961.1 194L973 183.3M973 183.3L970.4 179M961.1 225L973.7 215M973.7 215L971.3 210.6M961.1 256L976.1 261.8M976.1 261.8L978.6 257.5M961.1 287L977.1 286M977.1 286L977.5 282M961.1 318L971.5 305.8M971.5 305.8L968.9 302.7M961.1 349L969.7 335.5M969.7 335.5L966.8 332.8M961.1 364.5L973 353.8M973 353.8L970.9 350.4M961.1 380L970.5 367M970.5 367L967.7 364.1M961.1 395.5L970.3 382.4M970.3 382.4L967.5 379.6M961.1 411L970.8 398.2M970.8 398.2L968.1 395.3M985.7 70L999 61.1M999 61.1L997 56.5M985.7 101L1000 93.8M1000 93.8L998.5 89M985.7 132L998.1 121.8M998.1 121.8L995.6 117.5M985.7 163L1000.2 156.3M1000.2 156.3L999 151.5M985.7 194L996.7 182.4M996.7 182.4L993.7 178.4M985.7 225L997.6 214.3M997.6 214.3L995 210.1M985.7 256L1001.7 255.4M1001.7 255.4L1002.4 250.5M985.7 287L1001.7 286.5M1001.7 286.5L1002.3 282.6M985.7 318L997.7 307.4M997.7 307.4L995.6 304M985.7 349L997.4 338.1M997.4 338.1L995.2 334.7M985.7 364.5L993.8 350.7M993.8 350.7L990.8 348.1M985.7 380L993.9 366.2M993.9 366.2L990.8 363.6M985.7 395.5L995.4 382.8M995.4 382.8L992.7 379.9M985.7 411L997.5 400.1M997.5 400.1L995.3 396.8M1010.3 70L1024.7 63.1M1024.7 63.1L1023.4 58.3M1010.3 101L1024.4 93.6M1024.4 93.6L1022.9 88.8M1010.3 132L1023.8 123.5M1023.8 123.5L1021.9 118.8M1010.3 163L1021.5 151.6M1021.5 151.6L1018.5 147.5M1010.3 194L1022.9 184.1M1022.9 184.1L1020.5 179.7M1010.3 225L1021.7 213.8M1021.7 213.8L1018.9 209.7M1010.3 256L1026 259M1026 259L1027.8 254.3M1010.3 287L1025.9 290.3M1025.9 290.3L1027.4 286.6M1010.3 318L1018.5 304.3M1018.5 304.3L1015.5 301.7M1010.3 349L1018.9 335.5M1018.9 335.5L1015.9 332.8M1010.3 364.5L1022.2 353.9M1022.2 353.9L1020.1 350.5M1010.3 380L1017.2 365.6M1017.2 365.6L1014 363.3M1010.3 395.5L1022.4 385M1022.4 385L1020.3 381.6M1010.3 411L1022.8 401.1M1022.8 401.1L1020.9 397.6M1034.8 70L1049.7 64.1M1049.7 64.1L1048.7 59.2M1034.8 101L1047.3 91M1047.3 91L1045 86.6M1034.8 132L1048.2 123.2M1048.2 123.2L1046.2 118.6M1034.8 163L1048.3 154.4M1048.3 154.4L1046.4 149.8M1034.8 194L1048.5 185.8M1048.5 185.8L1046.7 181.1M1034.8 225L1049.8 219.3M1049.8 219.3L1048.9 214.4M1034.8 256L1050.2 260.3M1050.2 260.3L1052.4 255.8M1034.8 287L1050.8 288.1M1050.8 288.1L1051.7 284.2M1034.8 318L1047.2 307.9M1047.2 307.9L1045.3 304.4M1034.8 349L1045 336.7M1045 336.7L1042.4 333.6M1034.8 364.5L1045.7 352.8M1045.7 352.8L1043.3 349.6M1034.8 380L1046.5 369M1046.5 369L1044.3 365.7M1034.8 395.5L1041.6 381M1041.6 381L1038.3 378.7M1034.8 411L1046.7 400.3M1046.7 400.3L1044.6 396.9M1059.4 70L1073.2 62M1073.2 62L1071.5 57.3M1059.4 101L1072.4 91.8M1072.4 91.8L1070.3 87.2M1059.4 132L1072.6 123M1072.6 123L1070.5 118.4M1059.4 163L1072.3 153.6M1072.3 153.6L1070.1 149.1M1059.4 194L1070.9 182.8M1070.9 182.8L1068 178.7M1059.4 225L1072.6 216M1072.6 216L1070.6 211.5M1059.4 256L1075.3 254.9M1075.3 254.9L1075.9 249.9M1059.4 287L1075.1 289.8M1075.1 289.8L1076.5 286M1059.4 318L1070.6 306.6M1070.6 306.6L1068.2 303.3M1059.4 349L1069.3 336.4M1069.3 336.4L1066.6 333.5M1059.4 364.5L1070.1 352.6M1070.1 352.6L1067.6 349.5M1059.4 380L1072.3 370.5M1072.3 370.5L1070.5 367M1059.4 395.5L1071.9 385.6M1071.9 385.6L1070.1 382.1M1059.4 411L1067.2 397M1067.2 397L1064 394.5M1083.9 70L1098.3 62.9M1098.3 62.9L1096.9 58.1M1083.9 101L1097.6 92.7M1097.6 92.7L1095.8 88M1083.9 132L1094.5 120M1094.5 120L1091.4 116.1M1083.9 163L1096.3 152.9M1096.3 152.9L1093.9 148.5M1083.9 194L1095.6 183.1M1095.6 183.1L1092.9 178.9M1083.9 225L1094.7 213.2M1094.7 213.2L1091.7 209.2M1083.9 256L1099.6 259.1M1099.6 259.1L1101.4 254.4M1083.9 287L1098.7 293.2M1098.7 293.2L1100.9 289.9M1083.9 318L1093 304.8M1093 304.8L1090.2 302M1083.9 349L1096.4 339M1096.4 339L1094.5 335.5M1083.9 364.5L1095.4 353.4M1095.4 353.4L1093.2 350M1083.9 380L1091.7 366M1091.7 366L1088.6 363.5M1083.9 395.5L1096.3 385.4M1096.3 385.4L1094.4 381.9M1083.9 411L1094.9 399.3M1094.9 399.3L1092.5 396.1" stroke="#222" stroke-width="1" fill="none"/></g>
<line x1="120" y1="456.6" x2="1090" y2="456.6" stroke="#aaa" stroke-width="1" stroke-dasharray="4,2" fill="none"/>
<line x1="120" y1="478.6" x2="1090" y2="478.6" stroke="#aaa" stroke-width="1" stroke-dasharray="4,2" fill="none"/>
<line x1="120" y1="500.4" x2="1090" y2="500.4" stroke="#aaa" stroke-width="1" stroke-dasharray="4,2" fill="none"/>
<line x1="120" y1="522.4" x2="1090" y2="522.4" stroke="#aaa" stroke-width="1" stroke-dasharray="4,2" fill="none"/>
<line x1="175.2" y1="440" x2="175.2" y2="525" stroke="#aaa" stroke-width="1" stroke-dasharray="4,2" fill="none"/>
<line x1="273.5" y1="440" x2="273.5" y2="525" stroke="#aaa" stroke-width="1" stroke-dasharray="4,2" fill="none"/>
<line x1="371.7" y1="440" x2="371.7" y2="525" stroke="#aaa" stroke-width="1" stroke-dasharray="4,2" fill="none"/>
<line x1="469.9" y1="440" x2="469.9" y2="525" stroke="#aaa" stroke-width="1" stroke-dasharray="4,2" fill="none"/>
<line x1="568.2" y1="440" x2="568.2" y2="525" stroke="#aaa" stroke-width="1" stroke-dasharray="4,2" fill="none"/>
<line x1="666.4" y1="440" x2="666.4" y2="525" stroke="#aaa" stroke-width="1" stroke-dasharray="4,2" fill="none"/>
<line x1="764.7" y1="440" x2="764.7" y2="525" stroke="#aaa" stroke-width="1" stroke-dasharray="4,2" fill="none"/>
<line x1="862.9" y1="440" x2="862.9" y2="525" stroke="#aaa" stroke-width="1" stroke-dasharray="4,2" fill="none"/>
<line x1="961.1" y1="440" x2="961.1" y2="525" stroke="#aaa" stroke-width="1" stroke-dasharray="4,2" fill="none"/>
<line x1="1059.4" y1="440" x2="1059.4" y2="525" stroke="#aaa" stroke-width="1" stroke-dasharray="4,2" fill="none"/>
<g clip-path="url(#cp2)">
<polyline points="126.1,458.5 138.4,451 150.7,459.6 162.9,497.5 175.2,511.2 187.5,519.4 199.8,515.7 212.1,494.4 224.3,463 236.6,452 248.9,465.7 261.2,484.6 273.5,498.2 285.7,497.5 298,498.2 310.3,480 322.6,468 334.9,474 347.1,479 359.4,481 371.7,482.8 384,478.9 396.3,470.5 408.5,461.9 420.8,447.5 433.1,451.2 445.4,460.7 457.7,473.9 469.9,481.2 482.2,485.7 494.5,488 506.8,480 519.1,473.7 531.3,472.8 543.6,481.6 555.9,494.4 568.2,499.4 580.5,504.4 592.7,503.5 605,494 617.3,486.9 629.6,490.7 641.9,490.3 654.1,495.3 666.4,498.2 678.7,507.3 691,505.7 703.3,494.8 715.5,476.6 727.8,468.7 740.1,478.5 752.4,483.5 764.7,488.5 776.9,491.4 789.2,489.1 801.5,469.4 813.8,446 826.1,447.1 838.3,460.7 850.6,473.7 862.9,475.8 875.2,486.5 887.5,491.2 899.7,473.5 912,456.9 924.3,451.7 936.6,464 948.9,478.2 961.1,492.8 973.4,498.3 985.7,498.3 998,490 1010.3,463.3 1022.5,448.6 1034.8,461.6 1047.1,478.2 1059.4,490.5 1071.7,492.4 1083.9,495.9 1096.2,480" fill="none" stroke="#20c8c8" stroke-width="1"/>
<path d="M126.1 455.5l-3 5h6zM138.4 448l-3 5h6zM150.7 456.6l-3 5h6zM162.9 494.5l-3 5h6zM175.2 508.2l-3 5h6zM187.5 516.4l-3 5h6zM199.8 512.7l-3 5h6zM212.1 491.4l-3 5h6zM224.3 460l-3 5h6zM236.6 449l-3 5h6zM248.9 462.7l-3 5h6zM261.2 481.6l-3 5h6zM273.5 495.2l-3 5h6zM285.7 494.5l-3 5h6zM298 495.2l-3 5h6zM310.3 477l-3 5h6zM322.6 465l-3 5h6zM334.9 471l-3 5h6zM347.1 476l-3 5h6zM359.4 478l-3 5h6zM371.7 479.8l-3 5h6zM384 475.9l-3 5h6zM396.3 467.5l-3 5h6zM408.5 458.9l-3 5h6zM420.8 444.5l-3 5h6zM433.1 448.2l-3 5h6zM445.4 457.7l-3 5h6zM457.7 470.9l-3 5h6zM469.9 478.2l-3 5h6zM482.2 482.7l-3 5h6zM494.5 485l-3 5h6zM506.8 477l-3 5h6zM519.1 470.7l-3 5h6zM531.3 469.8l-3 5h6zM543.6 478.6l-3 5h6zM555.9 491.4l-3 5h6zM568.2 496.4l-3 5h6zM580.5 501.4l-3 5h6zM592.7 500.5l-3 5h6zM605 491l-3 5h6zM617.3 483.9l-3 5h6zM629.6 487.7l-3 5h6zM641.9 487.3l-3 5h6zM654.1 492.3l-3 5h6zM666.4 495.2l-3 5h6zM678.7 504.3l-3 5h6zM691 502.7l-3 5h6zM703.3 491.8l-3 5h6zM715.5 473.6l-3 5h6zM727.8 465.7l-3 5h6zM740.1 475.5l-3 5h6zM752.4 480.5l-3 5h6zM764.7 485.5l-3 5h6zM776.9 488.4l-3 5h6zM789.2 486.1l-3 5h6zM801.5 466.4l-3 5h6zM813.8 443l-3 5h6zM826.1 444.1l-3 5h6zM838.3 457.7l-3 5h6zM850.6 470.7l-3 5h6zM862.9 472.8l-3 5h6zM875.2 483.5l-3 5h6zM887.5 488.2l-3 5h6zM899.7 470.5l-3 5h6zM912 453.9l-3 5h6zM924.3 448.7l-3 5h6zM936.6 461l-3 5h6zM948.9 475.2l-3 5h6zM961.1 489.8l-3 5h6zM973.4 495.3l-3 5h6zM985.7 495.3l-3 5h6zM998 487l-3 5h6zM1010.3 460.3l-3 5h6zM1022.5 445.6l-3 5h6zM1034.8 458.6l-3 5h6zM1047.1 475.2l-3 5h6zM1059.4 487.5l-3 5h6zM1071.7 489.4l-3 5h6zM1083.9 492.9l-3 5h6zM1096.2 477l-3 5h6z" fill="#fff" stroke="#20c8c8" stroke-width="1"/>
<polyline points="126.1,508.9 138.4,513.7 150.7,496 162.9,463 175.2,461.4 187.5,452.8 199.8,446 212.1,461.9 224.3,490.3 236.6,499.8 248.9,478.9 261.2,463.7 273.5,467.5 285.7,466.4 298,460 310.3,478.9 322.6,497.8 334.9,501 347.1,498.7 359.4,499.4 371.7,515.7 384,519.4 396.3,510.7 408.5,506.6 420.8,518.7 433.1,516.9 445.4,496.6 457.7,481.9 469.9,490.7 482.2,486.9 494.5,476.2 506.8,483.5 519.1,497.5 531.3,498.9 543.6,482.3 555.9,472.1 568.2,480 580.5,477.8 592.7,469.8 605,476 617.3,489.8 629.6,486.9 641.9,476.2 654.1,468.7 666.4,480 678.7,474.4 691,462.5 703.3,467.5 715.5,487.5 727.8,497.5 740.1,478.9 752.4,475.5 764.7,486.4 776.9,483 789.2,473.7 801.5,485.3 813.8,508.9 826.1,508.9 838.3,491.4 850.6,474 862.9,484 875.2,475.8 887.5,461.6 899.7,473.5 912,495.9 924.3,501.3 936.6,481.3 948.9,469.4 961.1,474.6 973.4,471.8 985.7,460.9 998,477 1010.3,501.8 1022.5,516.7 1034.8,497.1 1047.1,483.6 1059.4,488.3 1071.7,484.1 1083.9,472.7" fill="none" stroke="#1a30e0" stroke-width="2.2" stroke-linejoin="round"/>
</g>
<g clip-path="url(#cp3)">
<path d="M159.4 610V609h7V610zM171.7 610V609h7V610zM233.1 610V609h7V610zM245.4 610V607h7V610zM257.7 610V604h7V610zM270 610V607h7V610zM306.8 610V601h7V610zM319.1 610V596.2h7V610zM331.4 610V603h7V610zM343.6 610V596.9h7V610zM355.9 610V590.7h7V610zM368.2 610V600.3h7V610zM380.5 610V600.3h7V610zM392.8 610V591.2h7V610zM405 610V596.9h7V610zM417.3 610V583.9h7V610zM429.6 610V573h7V610zM441.9 610V596.2h7V610zM454.2 610V601h7V610zM466.4 610V593h7V610zM478.7 610V594.1h7V610zM491 610V553h7V610zM503.3 610V555.3h7V610zM515.6 610V543h7V610zM527.8 610V554.1h7V610zM540.1 610V582.1h7V610zM552.4 610V588.2h7V610zM564.7 610V585h7V610zM577 610V583.9h7V610zM589.2 610V576h7V610zM601.5 610V563.9h7V610zM613.8 610V556h7V610zM626.1 610V589.4h7V610zM638.4 610V607.1h7V610zM650.6 610V607.8h7V610zM662.9 610V604.8h7V610zM675.2 610V603.7h7V610zM687.5 610V598h7V610zM699.8 610V557.8h7V610zM712 610V539.6h7V610zM724.3 610V531h7V610zM736.6 610V582.8h7V610zM748.9 610V578h7V610zM761.2 610V571.9h7V610zM773.4 610V587.1h7V610zM785.7 610V546.9h7V610zM798 610V566.9h7V610zM810.3 610V582.1h7V610zM822.6 610V550.7h7V610zM834.8 610V556.6h7V610zM847.1 610V577.2h7V610zM859.4 610V579.3h7V610zM871.7 610V591.5h7V610zM884 610V579.3h7V610zM896.2 610V570.3h7V610zM908.5 610V591.5h7V610zM920.8 610V586.1h7V610zM933.1 610V579.3h7V610zM957.6 610V607.4h7V610zM969.9 610V607.4h7V610zM982.2 610V605.2h7V610zM994.5 610V593.2h7V610zM1006.8 610V607.4h7V610zM1031.3 610V556.1h7V610zM1043.6 610V579.3h7V610zM1055.9 610V599.1h7V610zM1068.2 610V601h7V610zM1080.4 610V570.3h7V610z" fill="#c47cf8"/>
</g>
<line x1="120" y1="547.5" x2="1090" y2="547.5" stroke="#aaa" stroke-width="1" stroke-dasharray="4,2" fill="none"/>
<line x1="120" y1="589.4" x2="1090" y2="589.4" stroke="#aaa" stroke-width="1" stroke-dasharray="4,2" fill="none"/>
<line x1="120" y1="568.5" x2="1090" y2="568.5" stroke="#f03030" stroke-width="1" stroke-dasharray="4,2"/>
<line x1="175.2" y1="525" x2="175.2" y2="610" stroke="#aaa" stroke-width="1" stroke-dasharray="4,2" fill="none"/>
<line x1="273.5" y1="525" x2="273.5" y2="610" stroke="#aaa" stroke-width="1" stroke-dasharray="4,2" fill="none"/>
<line x1="371.7" y1="525" x2="371.7" y2="610" stroke="#aaa" stroke-width="1" stroke-dasharray="4,2" fill="none"/>
<line x1="469.9" y1="525" x2="469.9" y2="610" stroke="#aaa" stroke-width="1" stroke-dasharray="4,2" fill="none"/>
<line x1="568.2" y1="525" x2="568.2" y2="610" stroke="#aaa" stroke-width="1" stroke-dasharray="4,2" fill="none"/>
<line x1="666.4" y1="525" x2="666.4" y2="610" stroke="#aaa" stroke-width="1" stroke-dasharray="4,2" fill="none"/>
<line x1="764.7" y1="525" x2="764.7" y2="610" stroke="#aaa" stroke-width="1" stroke-dasharray="4,2" fill="none"/>
<line x1="862.9" y1="525" x2="862.9" y2="610" stroke="#aaa" stroke-width="1" stroke-dasharray="4,2" fill="none"/>
<line x1="961.1" y1="525" x2="961.1" y2="610" stroke="#aaa" stroke-width="1" stroke-dasharray="4,2" fill="none"/>
<line x1="1059.4" y1="525" x2="1059.4" y2="610" stroke="#aaa" stroke-width="1" stroke-dasharray="4,2" fill="none"/>
<g clip-path="url(#cp3)">
<polyline points="126.1,650 138.4,650 150.7,651.8 162.9,595.3 175.2,606 187.5,614 199.8,610 212.1,609.4 224.3,601.4 236.6,590 248.9,573.5 261.2,565.5 273.5,566.9 285.7,582.5 298,576.9 310.3,559.4 322.6,552.1 334.9,560.5 347.1,551.4 359.4,549.5 371.7,553.2 384,558.2 396.3,558.2 408.5,567.8 420.8,561.2 433.1,557.5 445.4,560 457.7,560 469.9,554.4 482.2,553 494.5,539.4 506.8,538.5 519.1,536.6 531.3,540 543.6,545 555.9,549.1 568.2,548 580.5,546.9 592.7,544.1 605,541.2 617.3,542.8 629.6,552.1 641.9,553.2 654.1,559.4 666.4,559.4 678.7,557.1 691,554.1 703.3,547.3 715.5,542.3 727.8,540.5 740.1,552.1 752.4,548.5 764.7,546.9 776.9,558.2 789.2,549.6 801.5,552.5 813.8,558.2 826.1,549.8 838.3,546.9 850.6,546.2 862.9,552.5 875.2,555.4 887.5,555.4 899.7,553.3 912,556.1 924.3,552.5 936.6,547.8 948.9,569.6 961.1,564.8 973.4,560.3 985.7,560.3 998,556.1 1010.3,564.8 1022.5,568.4 1034.8,545.9 1047.1,555.6 1059.4,557.7 1071.7,565.5 1083.9,552.5 1096.2,555" fill="none" stroke="#f03030" stroke-width="1"/>
<path d="M126.1 646.5l2.5 3.5l-2.5 3.5l-2.5 -3.5zM138.4 646.5l2.5 3.5l-2.5 3.5l-2.5 -3.5zM150.7 648.3l2.5 3.5l-2.5 3.5l-2.5 -3.5zM162.9 591.8l2.5 3.5l-2.5 3.5l-2.5 -3.5zM175.2 602.5l2.5 3.5l-2.5 3.5l-2.5 -3.5zM187.5 610.5l2.5 3.5l-2.5 3.5l-2.5 -3.5zM199.8 606.5l2.5 3.5l-2.5 3.5l-2.5 -3.5zM212.1 605.9l2.5 3.5l-2.5 3.5l-2.5 -3.5zM224.3 597.9l2.5 3.5l-2.5 3.5l-2.5 -3.5zM236.6 586.5l2.5 3.5l-2.5 3.5l-2.5 -3.5zM248.9 570l2.5 3.5l-2.5 3.5l-2.5 -3.5zM261.2 562l2.5 3.5l-2.5 3.5l-2.5 -3.5zM273.5 563.4l2.5 3.5l-2.5 3.5l-2.5 -3.5zM285.7 579l2.5 3.5l-2.5 3.5l-2.5 -3.5zM298 573.4l2.5 3.5l-2.5 3.5l-2.5 -3.5zM310.3 555.9l2.5 3.5l-2.5 3.5l-2.5 -3.5zM322.6 548.6l2.5 3.5l-2.5 3.5l-2.5 -3.5zM334.9 557l2.5 3.5l-2.5 3.5l-2.5 -3.5zM347.1 547.9l2.5 3.5l-2.5 3.5l-2.5 -3.5zM359.4 546l2.5 3.5l-2.5 3.5l-2.5 -3.5zM371.7 549.7l2.5 3.5l-2.5 3.5l-2.5 -3.5zM384 554.7l2.5 3.5l-2.5 3.5l-2.5 -3.5zM396.3 554.7l2.5 3.5l-2.5 3.5l-2.5 -3.5zM408.5 564.3l2.5 3.5l-2.5 3.5l-2.5 -3.5zM420.8 557.7l2.5 3.5l-2.5 3.5l-2.5 -3.5zM433.1 554l2.5 3.5l-2.5 3.5l-2.5 -3.5zM445.4 556.5l2.5 3.5l-2.5 3.5l-2.5 -3.5zM457.7 556.5l2.5 3.5l-2.5 3.5l-2.5 -3.5zM469.9 550.9l2.5 3.5l-2.5 3.5l-2.5 -3.5zM482.2 549.5l2.5 3.5l-2.5 3.5l-2.5 -3.5zM494.5 535.9l2.5 3.5l-2.5 3.5l-2.5 -3.5zM506.8 535l2.5 3.5l-2.5 3.5l-2.5 -3.5zM519.1 533.1l2.5 3.5l-2.5 3.5l-2.5 -3.5zM531.3 536.5l2.5 3.5l-2.5 3.5l-2.5 -3.5zM543.6 541.5l2.5 3.5l-2.5 3.5l-2.5 -3.5zM555.9 545.6l2.5 3.5l-2.5 3.5l-2.5 -3.5zM568.2 544.5l2.5 3.5l-2.5 3.5l-2.5 -3.5zM580.5 543.4l2.5 3.5l-2.5 3.5l-2.5 -3.5zM592.7 540.6l2.5 3.5l-2.5 3.5l-2.5 -3.5zM605 537.7l2.5 3.5l-2.5 3.5l-2.5 -3.5zM617.3 539.3l2.5 3.5l-2.5 3.5l-2.5 -3.5zM629.6 548.6l2.5 3.5l-2.5 3.5l-2.5 -3.5zM641.9 549.7l2.5 3.5l-2.5 3.5l-2.5 -3.5zM654.1 555.9l2.5 3.5l-2.5 3.5l-2.5 -3.5zM666.4 555.9l2.5 3.5l-2.5 3.5l-2.5 -3.5zM678.7 553.6l2.5 3.5l-2.5 3.5l-2.5 -3.5zM691 550.6l2.5 3.5l-2.5 3.5l-2.5 -3.5zM703.3 543.8l2.5 3.5l-2.5 3.5l-2.5 -3.5zM715.5 538.8l2.5 3.5l-2.5 3.5l-2.5 -3.5zM727.8 537l2.5 3.5l-2.5 3.5l-2.5 -3.5zM740.1 548.6l2.5 3.5l-2.5 3.5l-2.5 -3.5zM752.4 545l2.5 3.5l-2.5 3.5l-2.5 -3.5zM764.7 543.4l2.5 3.5l-2.5 3.5l-2.5 -3.5zM776.9 554.7l2.5 3.5l-2.5 3.5l-2.5 -3.5zM789.2 546.1l2.5 3.5l-2.5 3.5l-2.5 -3.5zM801.5 549l2.5 3.5l-2.5 3.5l-2.5 -3.5zM813.8 554.7l2.5 3.5l-2.5 3.5l-2.5 -3.5zM826.1 546.3l2.5 3.5l-2.5 3.5l-2.5 -3.5zM838.3 543.4l2.5 3.5l-2.5 3.5l-2.5 -3.5zM850.6 542.7l2.5 3.5l-2.5 3.5l-2.5 -3.5zM862.9 549l2.5 3.5l-2.5 3.5l-2.5 -3.5zM875.2 551.9l2.5 3.5l-2.5 3.5l-2.5 -3.5zM887.5 551.9l2.5 3.5l-2.5 3.5l-2.5 -3.5zM899.7 549.8l2.5 3.5l-2.5 3.5l-2.5 -3.5zM912 552.6l2.5 3.5l-2.5 3.5l-2.5 -3.5zM924.3 549l2.5 3.5l-2.5 3.5l-2.5 -3.5zM936.6 544.3l2.5 3.5l-2.5 3.5l-2.5 -3.5zM948.9 566.1l2.5 3.5l-2.5 3.5l-2.5 -3.5zM961.1 561.3l2.5 3.5l-2.5 3.5l-2.5 -3.5zM973.4 556.8l2.5 3.5l-2.5 3.5l-2.5 -3.5zM985.7 556.8l2.5 3.5l-2.5 3.5l-2.5 -3.5zM998 552.6l2.5 3.5l-2.5 3.5l-2.5 -3.5zM1010.3 561.3l2.5 3.5l-2.5 3.5l-2.5 -3.5zM1022.5 564.9l2.5 3.5l-2.5 3.5l-2.5 -3.5zM1034.8 542.4l2.5 3.5l-2.5 3.5l-2.5 -3.5zM1047.1 552.1l2.5 3.5l-2.5 3.5l-2.5 -3.5zM1059.4 554.2l2.5 3.5l-2.5 3.5l-2.5 -3.5zM1071.7 562l2.5 3.5l-2.5 3.5l-2.5 -3.5zM1083.9 549l2.5 3.5l-2.5 3.5l-2.5 -3.5zM1096.2 551.5l2.5 3.5l-2.5 3.5l-2.5 -3.5z" fill="#fff" stroke="#f03030" stroke-width="1"/>
</g>
<line x1="120" y1="623.4" x2="1090" y2="623.4" stroke="#aaa" stroke-width="1" stroke-dasharray="4,2" fill="none"/>
<line x1="120" y1="648" x2="1090" y2="648" stroke="#aaa" stroke-width="1" stroke-dasharray="4,2" fill="none"/>
<line x1="120" y1="672.3" x2="1090" y2="672.3" stroke="#aaa" stroke-width="1" stroke-dasharray="4,2" fill="none"/>
<line x1="175.2" y1="610" x2="175.2" y2="695" stroke="#aaa" stroke-width="1" stroke-dasharray="4,2" fill="none"/>
<line x1="273.5" y1="610" x2="273.5" y2="695" stroke="#aaa" stroke-width="1" stroke-dasharray="4,2" fill="none"/>
<line x1="371.7" y1="610" x2="371.7" y2="695" stroke="#aaa" stroke-width="1" stroke-dasharray="4,2" fill="none"/>
<line x1="469.9" y1="610" x2="469.9" y2="695" stroke="#aaa" stroke-width="1" stroke-dasharray="4,2" fill="none"/>
<line x1="568.2" y1="610" x2="568.2" y2="695" stroke="#aaa" stroke-width="1" stroke-dasharray="4,2" fill="none"/>
<line x1="666.4" y1="610" x2="666.4" y2="695" stroke="#aaa" stroke-width="1" stroke-dasharray="4,2" fill="none"/>
<line x1="764.7" y1="610" x2="764.7" y2="695" stroke="#aaa" stroke-width="1" stroke-dasharray="4,2" fill="none"/>
<line x1="862.9" y1="610" x2="862.9" y2="695" stroke="#aaa" stroke-width="1" stroke-dasharray="4,2" fill="none"/>
<line x1="961.1" y1="610" x2="961.1" y2="695" stroke="#aaa" stroke-width="1" stroke-dasharray="4,2" fill="none"/>
<line x1="1059.4" y1="610" x2="1059.4" y2="695" stroke="#aaa" stroke-width="1" stroke-dasharray="4,2" fill="none"/>
<g clip-path="url(#cp4)">
<polyline points="126.1,642.5 138.4,645.5 150.7,673.9 162.9,655.7 175.2,676.2 187.5,669.4 199.8,643.9 212.1,653.5 224.3,654.6 236.6,643.2 248.9,644.8 261.2,655.3 273.5,662.5 285.7,654.6 298,643.2 310.3,636.4 322.6,636.4 334.9,651.2 347.1,674.4 359.4,654.6 371.7,629.6 384,624.4 396.3,622.8 408.5,616.6 420.8,632.5 433.1,628.9 445.4,668.2 457.7,659.1 469.9,669.8 482.2,674.4 494.5,664.8 506.8,675.7 519.1,652.3 531.3,672.1 543.6,648.9 555.9,662.5 568.2,675 580.5,670.5 592.7,656.9 605,652 617.3,671.6 629.6,663.2 641.9,676.2 654.1,680.3 666.4,681.9 678.7,688 691,689.4 703.3,675 715.5,664.8 727.8,655.7 740.1,671.2 752.4,675 764.7,674.4 776.9,679.6 789.2,665.5 801.5,667.5 813.8,666 826.1,647.8 838.3,666 850.6,659 862.9,664.7 875.2,676.1 887.5,661.2 899.7,661.2 912,651 924.3,654.1 936.6,644.6 948.9,657.6 961.1,677 973.4,669.9 985.7,669.9 998,680.1 1010.3,673.7 1022.5,677 1034.8,664.7 1047.1,655.3 1059.4,670.6 1071.7,681.3 1083.9,668.3 1096.2,660" fill="none" stroke="#f59020" stroke-width="1"/>
<path d="M126.1 639l2.5 3.5l-2.5 3.5l-2.5 -3.5zM138.4 642l2.5 3.5l-2.5 3.5l-2.5 -3.5zM150.7 670.4l2.5 3.5l-2.5 3.5l-2.5 -3.5zM162.9 652.2l2.5 3.5l-2.5 3.5l-2.5 -3.5zM175.2 672.7l2.5 3.5l-2.5 3.5l-2.5 -3.5zM187.5 665.9l2.5 3.5l-2.5 3.5l-2.5 -3.5zM199.8 640.4l2.5 3.5l-2.5 3.5l-2.5 -3.5zM212.1 650l2.5 3.5l-2.5 3.5l-2.5 -3.5zM224.3 651.1l2.5 3.5l-2.5 3.5l-2.5 -3.5zM236.6 639.7l2.5 3.5l-2.5 3.5l-2.5 -3.5zM248.9 641.3l2.5 3.5l-2.5 3.5l-2.5 -3.5zM261.2 651.8l2.5 3.5l-2.5 3.5l-2.5 -3.5zM273.5 659l2.5 3.5l-2.5 3.5l-2.5 -3.5zM285.7 651.1l2.5 3.5l-2.5 3.5l-2.5 -3.5zM298 639.7l2.5 3.5l-2.5 3.5l-2.5 -3.5zM310.3 632.9l2.5 3.5l-2.5 3.5l-2.5 -3.5zM322.6 632.9l2.5 3.5l-2.5 3.5l-2.5 -3.5zM334.9 647.7l2.5 3.5l-2.5 3.5l-2.5 -3.5zM347.1 670.9l2.5 3.5l-2.5 3.5l-2.5 -3.5zM359.4 651.1l2.5 3.5l-2.5 3.5l-2.5 -3.5zM371.7 626.1l2.5 3.5l-2.5 3.5l-2.5 -3.5zM384 620.9l2.5 3.5l-2.5 3.5l-2.5 -3.5zM396.3 619.3l2.5 3.5l-2.5 3.5l-2.5 -3.5zM408.5 613.1l2.5 3.5l-2.5 3.5l-2.5 -3.5zM420.8 629l2.5 3.5l-2.5 3.5l-2.5 -3.5zM433.1 625.4l2.5 3.5l-2.5 3.5l-2.5 -3.5zM445.4 664.7l2.5 3.5l-2.5 3.5l-2.5 -3.5zM457.7 655.6l2.5 3.5l-2.5 3.5l-2.5 -3.5zM469.9 666.3l2.5 3.5l-2.5 3.5l-2.5 -3.5zM482.2 670.9l2.5 3.5l-2.5 3.5l-2.5 -3.5zM494.5 661.3l2.5 3.5l-2.5 3.5l-2.5 -3.5zM506.8 672.2l2.5 3.5l-2.5 3.5l-2.5 -3.5zM519.1 648.8l2.5 3.5l-2.5 3.5l-2.5 -3.5zM531.3 668.6l2.5 3.5l-2.5 3.5l-2.5 -3.5zM543.6 645.4l2.5 3.5l-2.5 3.5l-2.5 -3.5zM555.9 659l2.5 3.5l-2.5 3.5l-2.5 -3.5zM568.2 671.5l2.5 3.5l-2.5 3.5l-2.5 -3.5zM580.5 667l2.5 3.5l-2.5 3.5l-2.5 -3.5zM592.7 653.4l2.5 3.5l-2.5 3.5l-2.5 -3.5zM605 648.5l2.5 3.5l-2.5 3.5l-2.5 -3.5zM617.3 668.1l2.5 3.5l-2.5 3.5l-2.5 -3.5zM629.6 659.7l2.5 3.5l-2.5 3.5l-2.5 -3.5zM641.9 672.7l2.5 3.5l-2.5 3.5l-2.5 -3.5zM654.1 676.8l2.5 3.5l-2.5 3.5l-2.5 -3.5zM666.4 678.4l2.5 3.5l-2.5 3.5l-2.5 -3.5zM678.7 684.5l2.5 3.5l-2.5 3.5l-2.5 -3.5zM691 685.9l2.5 3.5l-2.5 3.5l-2.5 -3.5zM703.3 671.5l2.5 3.5l-2.5 3.5l-2.5 -3.5zM715.5 661.3l2.5 3.5l-2.5 3.5l-2.5 -3.5zM727.8 652.2l2.5 3.5l-2.5 3.5l-2.5 -3.5zM740.1 667.7l2.5 3.5l-2.5 3.5l-2.5 -3.5zM752.4 671.5l2.5 3.5l-2.5 3.5l-2.5 -3.5zM764.7 670.9l2.5 3.5l-2.5 3.5l-2.5 -3.5zM776.9 676.1l2.5 3.5l-2.5 3.5l-2.5 -3.5zM789.2 662l2.5 3.5l-2.5 3.5l-2.5 -3.5zM801.5 664l2.5 3.5l-2.5 3.5l-2.5 -3.5zM813.8 662.5l2.5 3.5l-2.5 3.5l-2.5 -3.5zM826.1 644.3l2.5 3.5l-2.5 3.5l-2.5 -3.5zM838.3 662.5l2.5 3.5l-2.5 3.5l-2.5 -3.5zM850.6 655.5l2.5 3.5l-2.5 3.5l-2.5 -3.5zM862.9 661.2l2.5 3.5l-2.5 3.5l-2.5 -3.5zM875.2 672.6l2.5 3.5l-2.5 3.5l-2.5 -3.5zM887.5 657.7l2.5 3.5l-2.5 3.5l-2.5 -3.5zM899.7 657.7l2.5 3.5l-2.5 3.5l-2.5 -3.5zM912 647.5l2.5 3.5l-2.5 3.5l-2.5 -3.5zM924.3 650.6l2.5 3.5l-2.5 3.5l-2.5 -3.5zM936.6 641.1l2.5 3.5l-2.5 3.5l-2.5 -3.5zM948.9 654.1l2.5 3.5l-2.5 3.5l-2.5 -3.5zM961.1 673.5l2.5 3.5l-2.5 3.5l-2.5 -3.5zM973.4 666.4l2.5 3.5l-2.5 3.5l-2.5 -3.5zM985.7 666.4l2.5 3.5l-2.5 3.5l-2.5 -3.5zM998 676.6l2.5 3.5l-2.5 3.5l-2.5 -3.5zM1010.3 670.2l2.5 3.5l-2.5 3.5l-2.5 -3.5zM1022.5 673.5l2.5 3.5l-2.5 3.5l-2.5 -3.5zM1034.8 661.2l2.5 3.5l-2.5 3.5l-2.5 -3.5zM1047.1 651.8l2.5 3.5l-2.5 3.5l-2.5 -3.5zM1059.4 667.1l2.5 3.5l-2.5 3.5l-2.5 -3.5zM1071.7 677.8l2.5 3.5l-2.5 3.5l-2.5 -3.5zM1083.9 664.8l2.5 3.5l-2.5 3.5l-2.5 -3.5zM1096.2 656.5l2.5 3.5l-2.5 3.5l-2.5 -3.5z" fill="#fff" stroke="#f59020" stroke-width="1"/>
<path d="M126.1 654.6L139.2 674.7M139.2 674.7L146.5 671.6M138.4 654.6L149.6 675.8M149.6 675.8L157.3 673.3M150.7 654.6L160.4 676.5M160.4 676.5L165.3 675.3M162.9 654.6L186.4 649.6M186.4 649.6L186.2 644.6M175.2 654.6L191 672.7M191 672.7L195.3 670.1M187.5 654.6L189.6 678.5M189.6 678.5L194.6 678.9M199.8 654.6L204.8 678.1M204.8 678.1L212.8 677.8M212.1 654.6L218.3 677.8M218.3 677.8L226.2 677.1M224.3 654.6L230.6 677.8M230.6 677.8L238.5 677.1M236.6 654.6L254.2 671M254.2 671L260.6 666.2M248.9 654.6L271.5 662.8M271.5 662.8L275.5 655.9M261.2 654.6L283.1 664.4M283.1 664.4L285.9 660.2M273.5 654.6L277.2 678.3M277.2 678.3L282.2 678.4M285.7 654.6L276.4 676.7M276.4 676.7L283.1 681M298 654.6L293 678.1M293 678.1L300.4 681.1M310.3 654.6L305.3 678.1M305.3 678.1L312.7 681.1M322.6 654.6L318.8 678.3M318.8 678.3L326.4 680.9M334.9 654.6L350.6 672.7M350.6 672.7L357.5 668.6M347.1 654.6L354.6 677.4M354.6 677.4L359.5 676.7M359.4 654.6L360.7 678.6M360.7 678.6L368.6 679.5M371.7 654.6L371.7 678.6M371.7 678.6L379.6 680M384 654.6L389.4 678M389.4 678L397.4 677.6M396.3 654.6L419.1 662M419.1 662L422.8 655M408.5 654.6L431.1 646.4M431.1 646.4L429.7 638.5M420.8 654.6L444 648.4M444 648.4L443.3 640.4M433.1 654.6L456.7 650.4M456.7 650.4L456.7 642.4M445.4 654.6L469.3 652.5M469.3 652.5L469.7 647.5M457.7 654.6L481.6 656.7M481.6 656.7L482.9 651.9M469.9 654.6L493.6 658.8M493.6 658.8L495.3 654.1M482.2 654.6L492 676.5M492 676.5L496.8 675.3M494.5 654.6L512.3 670.7M512.3 670.7L516.3 667.6M506.8 654.6L518.8 675.4M518.8 675.4L523.5 673.7M519.1 654.6L501.8 637.9M501.8 637.9L495.3 642.6M531.3 654.6L546.8 673M546.8 673L551.1 670.5M543.6 654.6L566.8 660.8M566.8 660.8L570.2 653.6M555.9 654.6L572.9 671.6M572.9 671.6L577 668.7M568.2 654.6L585.2 671.6M585.2 671.6L589.2 668.7M580.5 654.6L592.5 675.4M592.5 675.4L597.2 673.7M592.7 654.6L602.9 676.4M602.9 676.4L607.7 675.1M605 654.6L625.8 666.6M625.8 666.6L630.9 660.5M617.3 654.6L627.1 632.7M627.1 632.7L622.9 629.9M629.6 654.6L649.7 641.5M649.7 641.5L647.8 636.9M641.9 654.6L664 645.2M664 645.2L662.8 640.4M654.1 654.6L676.5 646M676.5 646L675.6 641.1M666.4 654.6L690.4 653.3M690.4 653.3L691 648.4M678.7 654.6L701.1 663.2M701.1 663.2L703.7 658.9M691 654.6L709.4 670M709.4 670L713.2 666.8M703.3 654.6L712.6 676.7M712.6 676.7L717.5 675.6M715.5 654.6L739.2 650.8M739.2 650.8L739.3 645.8M727.8 654.6L750.1 645.6M750.1 645.6L749 640.7M740.1 654.6L763.7 650M763.7 650L763.6 645M752.4 654.6L774.1 644.5M774.1 644.5L772.8 639.6M764.7 654.6L786 643.7M786 643.7L784.6 638.9M776.9 654.6L798.9 644.8M798.9 644.8L797.7 640M789.2 654.6L803.3 635.2M803.3 635.2L799.9 631.6M801.5 654.6L821.9 641.9M821.9 641.9L820 637.2M813.8 654.6L833.2 640.5M833.2 640.5L831 636M826.1 654.6L844.4 639.2M844.4 639.2L840.4 632.2M838.3 654.6L859.1 642.6M859.1 642.6L857.4 637.9M850.6 654.6L864.7 635.2M864.7 635.2L861.3 631.6M862.9 654.6L884.1 643.3M884.1 643.3L882.5 638.6M875.2 654.6L896.6 643.7M896.6 643.7L895.1 638.9M887.5 654.6L911.4 655.9M911.4 655.9L912.6 651M899.7 654.6L923.4 650.4M923.4 650.4L923.4 645.4M912 654.6L934.6 646.4M934.6 646.4L933.2 638.5M924.3 654.6L948.2 652.5M948.2 652.5L948.9 644.5M936.6 654.6L960.5 652.5M960.5 652.5L961.2 644.5M948.9 654.6L968 640.2M968 640.2L965.8 635.7M961.1 654.6L979.3 638.9M979.3 638.9L976.7 634.6M973.4 654.6L997.4 654.6M997.4 654.6L998.3 649.7M985.7 654.6L1000.8 673.3M1000.8 673.3L1005.2 670.8M998 654.6L1020.7 662.4M1020.7 662.4L1023.1 658M1010.3 654.6L1033.9 658.8M1033.9 658.8L1035.6 654.1M1022.5 654.6L1044.6 645.2M1044.6 645.2L1043.5 640.4M1034.8 654.6L1052.4 638.2M1052.4 638.2L1049.6 634M1047.1 654.6L1065.8 639.5M1065.8 639.5L1063.3 635.1M1059.4 654.6L1081.3 644.8M1081.3 644.8L1080.1 640M1071.7 654.6L1094.9 648.8M1094.9 648.8L1094.6 643.8M1083.9 654.6L1107.7 651.3M1107.7 651.3L1107.9 646.3" stroke="#8a6a4a" stroke-width="1" fill="none"/>
</g>
<defs><clipPath id="tclip"><path d="M126.1 780L126.1 702.5 138.4 704.4 150.7 726 162.9 735 175.2 744.1 187.5 748 199.8 733.9 212.1 715.7 224.3 704.4 236.6 704.4 248.9 722.1 261.2 732.8 273.5 735.7 285.7 740 298 731.2 310.3 721.4 322.6 719.1 334.9 737.8 347.1 737.8 359.4 736.6 371.7 738 384 738.5 396.3 735 408.5 727.1 420.8 716.9 433.1 718.7 445.4 731.6 457.7 735 469.9 739.6 482.2 741.2 494.5 731.6 506.8 725.3 519.1 727.1 531.3 731.2 543.6 735 555.9 739.6 568.2 740.7 580.5 740.7 592.7 732.3 605 727.1 617.3 732.8 629.6 738.5 641.9 741.2 654.1 741.2 666.4 741.2 678.7 741.9 691 739.6 703.3 730.5 715.5 722.1 727.8 723.7 740.1 737.3 752.4 738.5 764.7 739.6 776.9 741.2 789.2 731.2 801.5 716.9 813.8 709.4 826.1 722.5 838.3 732.8 850.6 736.5 862.9 739.1 875.2 740.3 887.5 732 899.7 716.6 912 714.7 924.3 713.1 936.6 730.3 948.9 736 961.1 741 973.4 738.6 985.7 737.4 998 722.5 1010.3 707.9 1022.5 709.1 1034.8 736.7 1047.1 737.4 1059.4 740.3 1071.7 742.6 1083.9 732L1083.9 780Z"/></clipPath></defs>
<g clip-path="url(#tclip)">
<rect x="120" y="695" width="970" height="13.1" fill="#b00000"/>
<rect x="120" y="707.8" width="970" height="11" fill="#f02c00"/>
<rect x="120" y="718.5" width="970" height="10.7" fill="#ff7000"/>
<rect x="120" y="728.9" width="970" height="11" fill="#ffb040"/>
<rect x="120" y="739.6" width="970" height="10.5" fill="#f4f47a"/>
<rect x="120" y="749.8" width="970" height="11" fill="#50e650"/>
<rect x="120" y="760.5" width="970" height="10.8" fill="#28b428"/>
<rect x="120" y="771" width="970" height="9.3" fill="#2a80e8"/>
</g>
<line x1="120" y1="697" x2="1090" y2="697" stroke="#aaa" stroke-width="1" stroke-dasharray="4,2" fill="none"/>
<line x1="120" y1="718.5" x2="1090" y2="718.5" stroke="#aaa" stroke-width="1" stroke-dasharray="4,2" fill="none"/>
<line x1="120" y1="739.6" x2="1090" y2="739.6" stroke="#aaa" stroke-width="1" stroke-dasharray="4,2" fill="none"/>
<line x1="120" y1="760.5" x2="1090" y2="760.5" stroke="#aaa" stroke-width="1" stroke-dasharray="4,2" fill="none"/>
<line x1="175.2" y1="695" x2="175.2" y2="780" stroke="#aaa" stroke-width="1" stroke-dasharray="4,2" fill="none"/>
<line x1="273.5" y1="695" x2="273.5" y2="780" stroke="#aaa" stroke-width="1" stroke-dasharray="4,2" fill="none"/>
<line x1="371.7" y1="695" x2="371.7" y2="780" stroke="#aaa" stroke-width="1" stroke-dasharray="4,2" fill="none"/>
<line x1="469.9" y1="695" x2="469.9" y2="780" stroke="#aaa" stroke-width="1" stroke-dasharray="4,2" fill="none"/>
<line x1="568.2" y1="695" x2="568.2" y2="780" stroke="#aaa" stroke-width="1" stroke-dasharray="4,2" fill="none"/>
<line x1="666.4" y1="695" x2="666.4" y2="780" stroke="#aaa" stroke-width="1" stroke-dasharray="4,2" fill="none"/>
<line x1="764.7" y1="695" x2="764.7" y2="780" stroke="#aaa" stroke-width="1" stroke-dasharray="4,2" fill="none"/>
<line x1="862.9" y1="695" x2="862.9" y2="780" stroke="#aaa" stroke-width="1" stroke-dasharray="4,2" fill="none"/>
<line x1="961.1" y1="695" x2="961.1" y2="780" stroke="#aaa" stroke-width="1" stroke-dasharray="4,2" fill="none"/>
<line x1="1059.4" y1="695" x2="1059.4" y2="780" stroke="#aaa" stroke-width="1" stroke-dasharray="4,2" fill="none"/>
<g clip-path="url(#cp5)">
<polyline points="126.1,702.5 138.4,704.4 150.7,726 162.9,735 175.2,744.1 187.5,748 199.8,733.9 212.1,715.7 224.3,704.4 236.6,704.4 248.9,722.1 261.2,732.8 273.5,735.7 285.7,740 298,731.2 310.3,721.4 322.6,719.1 334.9,737.8 347.1,737.8 359.4,736.6 371.7,738 384,738.5 396.3,735 408.5,727.1 420.8,716.9 433.1,718.7 445.4,731.6 457.7,735 469.9,739.6 482.2,741.2 494.5,731.6 506.8,725.3 519.1,727.1 531.3,731.2 543.6,735 555.9,739.6 568.2,740.7 580.5,740.7 592.7,732.3 605,727.1 617.3,732.8 629.6,738.5 641.9,741.2 654.1,741.2 666.4,741.2 678.7,741.9 691,739.6 703.3,730.5 715.5,722.1 727.8,723.7 740.1,737.3 752.4,738.5 764.7,739.6 776.9,741.2 789.2,731.2 801.5,716.9 813.8,709.4 826.1,722.5 838.3,732.8 850.6,736.5 862.9,739.1 875.2,740.3 887.5,732 899.7,716.6 912,714.7 924.3,713.1 936.6,730.3 948.9,736 961.1,741 973.4,738.6 985.7,737.4 998,722.5 1010.3,707.9 1022.5,709.1 1034.8,736.7 1047.1,737.4 1059.4,740.3 1071.7,742.6 1083.9,732" fill="none" stroke="#6e3a2a" stroke-width="2" stroke-linejoin="round"/>
<polyline points="126.1,771.4 138.4,774.8 150.7,773.7 162.9,751 175.2,748.7 187.5,757.1 199.8,753.9 212.1,762.3 224.3,767.5 236.6,766.2 248.9,752.5 261.2,744.8 273.5,744.8 285.7,747.5 298,748.7 310.3,748.2 322.6,748.2 334.9,740.3 347.1,740.7 359.4,739.6 371.7,741.2 384,740 396.3,740.3 408.5,743.5 420.8,747.1 433.1,745.7 445.4,744.8 457.7,743.5 469.9,741.2 482.2,740.7 494.5,740.7 506.8,740.7 519.1,741 531.3,740.7 543.6,741 555.9,740.7 568.2,740.7 580.5,740.7 592.7,740.5 605,740.7 617.3,740 629.6,741.5 641.9,742 654.1,744 666.4,742 678.7,743 691,741.5 703.3,740.5 715.5,740.7 727.8,740.7 740.1,740.7 752.4,740.7 764.7,740.7 776.9,741.5 789.2,741.5 801.5,744 813.8,749.4 826.1,743 838.3,740.7 850.6,740.3 862.9,740.3 875.2,740.3 887.5,741.5 899.7,745.5 912,749 924.3,749 936.6,742.6 948.9,745.5 961.1,743.3 973.4,743.3 985.7,743.3 998,745 1010.3,751.6 1022.5,756.8 1034.8,740.3 1047.1,740.3 1059.4,740.3 1071.7,742.6 1083.9,741.5" fill="none" stroke="#6e3a2a" stroke-width="2" stroke-dasharray="4,2"/>
<path d="M150.7 702.5V726M148.2 702.5h5M148.2 726h5M175.2 726.6V744.8M172.7 726.6h5M172.7 744.8h5M199.8 733.5V749.4M197.3 733.5h5M197.3 749.4h5M224.3 703.9V732M221.8 703.9h5M221.8 732h5M248.9 701.6V722.5M246.4 701.6h5M246.4 722.5h5M273.5 723.2V736.2M271 723.2h5M271 736.2h5M298 731.2V740.3M295.5 731.2h5M295.5 740.3h5M322.6 716.4V730.5M320.1 716.4h5M320.1 730.5h5M347.1 717.5V740.7M344.6 717.5h5M344.6 740.7h5M371.7 736.5V740.5M369.2 736.5h5M369.2 740.5h5M396.3 733.5V738.5M393.8 733.5h5M393.8 738.5h5M420.8 713.9V736.2M418.3 713.9h5M418.3 736.2h5M445.4 713.5V732.1M442.9 713.5h5M442.9 732.1h5M469.9 732.1V738.5M467.4 732.1h5M467.4 738.5h5M494.5 731.6V738.5M492 731.6h5M492 738.5h5M519.1 718.5V733.5M516.6 718.5h5M516.6 733.5h5M543.6 725.5V736.2M541.1 725.5h5M541.1 736.2h5M568.2 736.2V740.7M565.7 736.2h5M565.7 740.7h5M592.7 732.3V739.6M590.2 732.3h5M590.2 739.6h5M617.3 725.5V733.5M614.8 725.5h5M614.8 733.5h5M641.9 734.4V741.9M639.4 734.4h5M639.4 741.9h5M666.4 739V742M663.9 739h5M663.9 742h5M691 738V741M688.5 738h5M688.5 741h5M715.5 720.7V739.6M713 720.7h5M713 739.6h5M740.1 719.1V738M737.6 719.1h5M737.6 738h5M764.7 737V740.5M762.2 737h5M762.2 740.5h5M789.2 732V739.6M786.7 732h5M786.7 739.6h5M813.8 708.9V732.3M811.3 708.9h5M811.3 732.3h5M838.3 709.4V732.8M835.8 709.4h5M835.8 732.8h5M862.9 733.7V740.3M860.4 733.7h5M860.4 740.3h5M887.5 733V740.3M885 733h5M885 740.3h5M912 711.4V733.2M909.5 711.4h5M909.5 733.2h5M936.6 710.3V730.8M934.1 710.3h5M934.1 730.8h5M961.1 730.8V743.8M958.6 730.8h5M958.6 743.8h5M985.7 737.4V743.8M983.2 737.4h5M983.2 743.8h5M1010.3 707.7V738.4M1007.8 707.7h5M1007.8 738.4h5M1034.8 707.2V736.7M1032.3 707.2h5M1032.3 736.7h5M1059.4 736.2V741.5M1056.9 736.2h5M1056.9 741.5h5M1083.9 732V742.6M1081.4 732h5M1081.4 742.6h5" stroke="#6e3a2a" stroke-width="1.2" fill="none"/>
</g>
<defs><clipPath id="rclip"><path d="M126.1 865L126.1 848.9 138.4 848.9 150.7 838.9 162.9 806.4 175.2 791.2 187.5 799.1 199.8 815 212.1 839.4 224.3 846.6 236.6 845 248.9 823 261.2 802.5 273.5 798 285.7 796.6 298 811.6 310.3 819.6 322.6 824.6 334.9 788.2 347.1 786.6 359.4 788.2 371.7 788.2 384 786.6 396.3 788.2 408.5 806.4 420.8 823 433.1 819.6 445.4 802.5 457.7 798.9 469.9 789.4 482.2 783.7 494.5 794.4 506.8 808 519.1 804.1 531.3 794.4 543.6 791.6 555.9 783.7 568.2 783.7 580.5 784.8 592.7 798 605 803.7 617.3 791.6 629.6 786 641.9 786.6 654.1 786.6 666.4 786 678.7 783.7 691 784.8 703.3 800.7 715.5 811 727.8 808.7 740.1 787.5 752.4 784.4 764.7 783 776.9 783.7 789.2 794.4 801.5 821.6 813.8 832.5 826.1 811.6 838.3 797.3 850.6 787.7 862.9 785.1 875.2 782.7 887.5 796.9 899.7 821.3 912 828.1 924.3 828.8 936.6 802.3 948.9 798.1 961.1 787 973.4 788.6 985.7 792.7 998 813.5 1010.3 835.4 1022.5 837.6 1034.8 789.3 1047.1 787.5 1059.4 785.1 1071.7 783.2 1083.9 798.1L1083.9 865Z"/></clipPath></defs>
<g clip-path="url(#rclip)">
<rect x="120" y="780" width="970" height="12.2" fill="#007800"/>
<rect x="120" y="791.9" width="970" height="8" fill="#009600"/>
<rect x="120" y="799.6" width="970" height="8.5" fill="#00b900"/>
<rect x="120" y="807.8" width="970" height="8.5" fill="#00fa00"/>
<rect x="120" y="816" width="970" height="9.3" fill="#50e650"/>
<rect x="120" y="825" width="970" height="8.1" fill="#7dd67d"/>
<rect x="120" y="832.8" width="970" height="8.5" fill="#a0cca0"/>
<rect x="120" y="841" width="970" height="8.9" fill="#c8d8c8"/>
<rect x="120" y="849.6" width="970" height="15.7" fill="#e8f2e8"/>
</g>
<line x1="120" y1="799" x2="1090" y2="799" stroke="#aaa" stroke-width="1" stroke-dasharray="4,2" fill="none"/>
<line x1="120" y1="815.5" x2="1090" y2="815.5" stroke="#aaa" stroke-width="1" stroke-dasharray="4,2" fill="none"/>
<line x1="120" y1="832.3" x2="1090" y2="832.3" stroke="#aaa" stroke-width="1" stroke-dasharray="4,2" fill="none"/>
<line x1="120" y1="849" x2="1090" y2="849" stroke="#aaa" stroke-width="1" stroke-dasharray="4,2" fill="none"/>
<line x1="175.2" y1="780" x2="175.2" y2="865" stroke="#aaa" stroke-width="1" stroke-dasharray="4,2" fill="none"/>
<line x1="273.5" y1="780" x2="273.5" y2="865" stroke="#aaa" stroke-width="1" stroke-dasharray="4,2" fill="none"/>
<line x1="371.7" y1="780" x2="371.7" y2="865" stroke="#aaa" stroke-width="1" stroke-dasharray="4,2" fill="none"/>
<line x1="469.9" y1="780" x2="469.9" y2="865" stroke="#aaa" stroke-width="1" stroke-dasharray="4,2" fill="none"/>
<line x1="568.2" y1="780" x2="568.2" y2="865" stroke="#aaa" stroke-width="1" stroke-dasharray="4,2" fill="none"/>
<line x1="666.4" y1="780" x2="666.4" y2="865" stroke="#aaa" stroke-width="1" stroke-dasharray="4,2" fill="none"/>
<line x1="764.7" y1="780" x2="764.7" y2="865" stroke="#aaa" stroke-width="1" stroke-dasharray="4,2" fill="none"/>
<line x1="862.9" y1="780" x2="862.9" y2="865" stroke="#aaa" stroke-width="1" stroke-dasharray="4,2" fill="none"/>
<line x1="961.1" y1="780" x2="961.1" y2="865" stroke="#aaa" stroke-width="1" stroke-dasharray="4,2" fill="none"/>
<line x1="1059.4" y1="780" x2="1059.4" y2="865" stroke="#aaa" stroke-width="1" stroke-dasharray="4,2" fill="none"/>
<g clip-path="url(#cp6)">
<polyline points="126.1,848.9 138.4,848.9 150.7,838.9 162.9,806.4 175.2,791.2 187.5,799.1 199.8,815 212.1,839.4 224.3,846.6 236.6,845 248.9,823 261.2,802.5 273.5,798 285.7,796.6 298,811.6 310.3,819.6 322.6,824.6 334.9,788.2 347.1,786.6 359.4,788.2 371.7,788.2 384,786.6 396.3,788.2 408.5,806.4 420.8,823 433.1,819.6 445.4,802.5 457.7,798.9 469.9,789.4 482.2,783.7 494.5,794.4 506.8,808 519.1,804.1 531.3,794.4 543.6,791.6 555.9,783.7 568.2,783.7 580.5,784.8 592.7,798 605,803.7 617.3,791.6 629.6,786 641.9,786.6 654.1,786.6 666.4,786 678.7,783.7 691,784.8 703.3,800.7 715.5,811 727.8,808.7 740.1,787.5 752.4,784.4 764.7,783 776.9,783.7 789.2,794.4 801.5,821.6 813.8,832.5 826.1,811.6 838.3,797.3 850.6,787.7 862.9,785.1 875.2,782.7 887.5,796.9 899.7,821.3 912,828.1 924.3,828.8 936.6,802.3 948.9,798.1 961.1,787 973.4,788.6 985.7,792.7 998,813.5 1010.3,835.4 1022.5,837.6 1034.8,789.3 1047.1,787.5 1059.4,785.1 1071.7,783.2 1083.9,798.1" fill="none" stroke="#008000" stroke-width="1"/>
<g fill="#fff" stroke="#008000" stroke-width="1"><circle cx="126.1" cy="848.9" r="2.6"/><circle cx="138.4" cy="848.9" r="2.6"/><circle cx="150.7" cy="838.9" r="2.6"/><circle cx="162.9" cy="806.4" r="2.6"/><circle cx="175.2" cy="791.2" r="2.6"/><circle cx="187.5" cy="799.1" r="2.6"/><circle cx="199.8" cy="815" r="2.6"/><circle cx="212.1" cy="839.4" r="2.6"/><circle cx="224.3" cy="846.6" r="2.6"/><circle cx="236.6" cy="845" r="2.6"/><circle cx="248.9" cy="823" r="2.6"/><circle cx="261.2" cy="802.5" r="2.6"/><circle cx="273.5" cy="798" r="2.6"/><circle cx="285.7" cy="796.6" r="2.6"/><circle cx="298" cy="811.6" r="2.6"/><circle cx="310.3" cy="819.6" r="2.6"/><circle cx="322.6" cy="824.6" r="2.6"/><circle cx="334.9" cy="788.2" r="2.6"/><circle cx="347.1" cy="786.6" r="2.6"/><circle cx="359.4" cy="788.2" r="2.6"/><circle cx="371.7" cy="788.2" r="2.6"/><circle cx="384" cy="786.6" r="2.6"/><circle cx="396.3" cy="788.2" r="2.6"/><circle cx="408.5" cy="806.4" r="2.6"/><circle cx="420.8" cy="823" r="2.6"/><circle cx="433.1" cy="819.6" r="2.6"/><circle cx="445.4" cy="802.5" r="2.6"/><circle cx="457.7" cy="798.9" r="2.6"/><circle cx="469.9" cy="789.4" r="2.6"/><circle cx="482.2" cy="783.7" r="2.6"/><circle cx="494.5" cy="794.4" r="2.6"/><circle cx="506.8" cy="808" r="2.6"/><circle cx="519.1" cy="804.1" r="2.6"/><circle cx="531.3" cy="794.4" r="2.6"/><circle cx="543.6" cy="791.6" r="2.6"/><circle cx="555.9" cy="783.7" r="2.6"/><circle cx="568.2" cy="783.7" r="2.6"/><circle cx="580.5" cy="784.8" r="2.6"/><circle cx="592.7" cy="798" r="2.6"/><circle cx="605" cy="803.7" r="2.6"/><circle cx="617.3" cy="791.6" r="2.6"/><circle cx="629.6" cy="786" r="2.6"/><circle cx="641.9" cy="786.6" r="2.6"/><circle cx="654.1" cy="786.6" r="2.6"/><circle cx="666.4" cy="786" r="2.6"/><circle cx="678.7" cy="783.7" r="2.6"/><circle cx="691" cy="784.8" r="2.6"/><circle cx="703.3" cy="800.7" r="2.6"/><circle cx="715.5" cy="811" r="2.6"/><circle cx="727.8" cy="808.7" r="2.6"/><circle cx="740.1" cy="787.5" r="2.6"/><circle cx="752.4" cy="784.4" r="2.6"/><circle cx="764.7" cy="783" r="2.6"/><circle cx="776.9" cy="783.7" r="2.6"/><circle cx="789.2" cy="794.4" r="2.6"/><circle cx="801.5" cy="821.6" r="2.6"/><circle cx="813.8" cy="832.5" r="2.6"/><circle cx="826.1" cy="811.6" r="2.6"/><circle cx="838.3" cy="797.3" r="2.6"/><circle cx="850.6" cy="787.7" r="2.6"/><circle cx="862.9" cy="785.1" r="2.6"/><circle cx="875.2" cy="782.7" r="2.6"/><circle cx="887.5" cy="796.9" r="2.6"/><circle cx="899.7" cy="821.3" r="2.6"/><circle cx="912" cy="828.1" r="2.6"/><circle cx="924.3" cy="828.8" r="2.6"/><circle cx="936.6" cy="802.3" r="2.6"/><circle cx="948.9" cy="798.1" r="2.6"/><circle cx="961.1" cy="787" r="2.6"/><circle cx="973.4" cy="788.6" r="2.6"/><circle cx="985.7" cy="792.7" r="2.6"/><circle cx="998" cy="813.5" r="2.6"/><circle cx="1010.3" cy="835.4" r="2.6"/><circle cx="1022.5" cy="837.6" r="2.6"/><circle cx="1034.8" cy="789.3" r="2.6"/><circle cx="1047.1" cy="787.5" r="2.6"/><circle cx="1059.4" cy="785.1" r="2.6"/><circle cx="1071.7" cy="783.2" r="2.6"/><circle cx="1083.9" cy="798.1" r="2.6"/></g>
</g>
<g clip-path="url(#cp7)">
<rect x="132" y="865" width="958" height="84" fill="#6aabd6"/>
<path d="M132.2 892.2H144.5V893H132.2zM144.5 892.2H156.8V893H144.5zM156.8 892.2H169.1V893H156.8zM169.1 892.2H181.4V893H169.1zM255 872.1H267.3V893H255zM267.3 866.3H279.6V893H267.3zM279.6 866.3H291.9V893H279.6zM291.9 880.9H304.2V893H291.9zM304.2 891.1H316.4V893H304.2zM316.4 866.6H328.7V893H316.4zM328.7 866.3H341V893H328.7zM341 867.7H353.3V893H341zM353.3 878.4H365.6V893H353.3zM365.6 866.3H377.8V893H365.6zM377.8 866.3H390.1V893H377.8zM390.1 866.3H402.4V893H390.1zM402.4 866.3H414.7V893H402.4zM414.7 866.3H427V893H414.7zM439.2 875.1H451.5V893H439.2zM451.5 866.3H463.8V893H451.5zM463.8 866.6H476.1V893H463.8zM476.1 867.7H488.4V893H476.1zM488.4 866.3H500.6V893H488.4zM500.6 866.3H512.9V893H500.6zM512.9 866.3H525.2V893H512.9zM525.2 866.3H537.5V893H525.2zM537.5 873.2H549.8V893H537.5zM549.8 866.3H562V893H549.8zM562 866.3H574.3V893H562zM574.3 869.1H586.6V893H574.3zM586.6 890.5H598.9V893H586.6zM598.9 888.3H611.2V893H598.9zM611.2 866H623.4V893H611.2zM623.4 876.2H635.7V893H623.4zM635.7 888.9H648V893H635.7zM648 868H660.3V893H648zM660.3 866H672.6V893H660.3zM672.6 866H684.8V893H672.6zM684.8 877.3H697.1V893H684.8zM697.1 888.9H709.4V893H697.1zM709.4 881.2H721.7V893H709.4zM721.7 882.8H734V893H721.7zM734 866H746.2V893H734zM746.2 866H758.5V893H746.2zM758.5 869.9H770.8V893H758.5zM770.8 870.2H783.1V893H770.8zM783.1 891.1H795.4V893H783.1zM795.4 890.2H807.6V893H795.4zM807.6 883.9H819.9V893H807.6zM819.9 881.7H832.2V893H819.9zM844.5 891.1H856.8V893H844.5zM856.8 866H869V893H856.8zM869 866H881.3V893H869zM881.3 866H893.6V893H881.3zM893.6 882.3H905.9V893H893.6zM905.9 890.5H918.2V893H905.9zM918.2 891.6H930.4V893H918.2zM930.4 889.1H942.7V893H930.4zM942.7 880.9H955V893H942.7zM955 891.6H967.3V893H955zM967.3 882.3H979.6V893H967.3zM979.6 876H991.8V893H979.6zM991.8 891.6H1004.1V893H991.8zM1004.1 891.6H1016.4V893H1004.1zM1028.7 883.4H1041V893H1028.7zM1041 870.5H1053.2V893H1041zM1053.2 871.5H1065.5V893H1053.2zM1065.5 872.4H1077.8V893H1065.5zM1077.8 891.6H1090.1V893H1077.8z" fill="#f8f4fa"/>
<path d="M242.8 918.3H255V920.5H242.8zM255 918.3H267.3V920.5H255zM304.2 906.8H316.4V920.5H304.2zM316.4 894.1H328.7V920.5H316.4zM328.7 894.1H341V920.5H328.7zM341 894.1H353.3V920.5H341zM353.3 894.1H365.6V920.5H353.3zM365.6 894.1H377.8V920.5H365.6zM377.8 909.5H390.1V920.5H377.8zM390.1 917.8H402.4V920.5H390.1zM463.8 904.3H476.1V920.5H463.8zM476.1 894.1H488.4V920.5H476.1zM488.4 897.1H500.6V920.5H488.4zM500.6 894.1H512.9V920.5H500.6zM512.9 895.5H525.2V920.5H512.9zM525.2 904.3H537.5V920.5H525.2zM537.5 898.8H549.8V920.5H537.5zM549.8 894.1H562V920.5H549.8zM562 894.1H574.3V920.5H562zM574.3 898.2H586.6V920.5H574.3zM586.6 908.4H598.9V920.5H586.6zM598.9 903.5H611.2V920.5H598.9zM611.2 894.6H623.4V920.5H611.2zM623.4 894.6H635.7V920.5H623.4zM635.7 894.6H648V920.5H635.7zM648 894.6H660.3V920.5H648zM660.3 895.2H672.6V920.5H660.3zM672.6 894.6H684.8V920.5H672.6zM684.8 896H697.1V920.5H684.8zM697.1 913.6H709.4V920.5H697.1zM709.4 917.8H721.7V920.5H709.4zM721.7 917.8H734V920.5H721.7zM734 913.1H746.2V920.5H734zM746.2 899.3H758.5V920.5H746.2zM758.5 917.8H770.8V920.5H758.5zM770.8 908.7H783.1V920.5H770.8zM783.1 915.8H795.4V920.5H783.1zM856.8 919.7H869V920.5H856.8zM869 919.7H881.3V920.5H869z" fill="#e8e8e8"/>
<path d="M242.8 920.5H255V948.5H242.8zM255 944.9H267.3V948.5H255zM267.3 940.7H279.6V948.5H267.3zM279.6 936.7H291.9V948.5H279.6zM291.9 930.3H304.2V948.5H291.9zM304.2 920.5H316.4V948.5H304.2zM316.4 920.5H328.7V948.5H316.4zM328.7 920.5H341V948.5H328.7zM341 934.2H353.3V948.5H341zM353.3 932.3H365.6V948.5H353.3zM365.6 920.5H377.8V948.5H365.6zM377.8 920.5H390.1V948.5H377.8zM390.1 929.2H402.4V948.5H390.1zM402.4 922.7H414.7V948.5H402.4zM414.7 937.9H427V948.5H414.7zM427 937.9H439.2V948.5H427zM463.8 944.9H476.1V948.5H463.8zM476.1 940.9H488.4V948.5H476.1zM488.4 944.9H500.6V948.5H488.4zM500.6 945.7H512.9V948.5H500.6zM512.9 934.8H525.2V948.5H512.9zM525.2 920.5H537.5V948.5H525.2zM537.5 935.3H549.8V948.5H537.5zM549.8 924.4H562V948.5H549.8zM562 933.7H574.3V948.5H562zM574.3 939.5H586.6V948.5H574.3zM586.6 941.8H598.9V948.5H586.6zM598.9 939H611.2V948.5H598.9zM611.2 933.7H623.4V948.5H611.2zM623.4 921.9H635.7V948.5H623.4zM635.7 944.9H648V948.5H635.7zM660.3 935.3H672.6V948.5H660.3zM672.6 929.2H684.8V948.5H672.6zM684.8 935.3H697.1V948.5H684.8zM697.1 938.4H709.4V948.5H697.1zM709.4 943.7H721.7V948.5H709.4zM746.2 943.7H758.5V948.5H746.2zM758.5 939H770.8V948.5H758.5zM770.8 940.7H783.1V948.5H770.8zM783.1 939H795.4V948.5H783.1zM795.4 931.4H807.6V948.5H795.4zM807.6 932.5H819.9V948.5H807.6zM819.9 940.7H832.2V948.5H819.9zM856.8 940.1H869V948.5H856.8zM869 937.3H881.3V948.5H869zM881.3 942.9H893.6V948.5H881.3zM893.6 934.8H905.9V948.5H893.6zM905.9 931.1H918.2V948.5H905.9zM955 934.2H967.3V948.5H955zM967.3 923H979.6V948.5H967.3zM979.6 922.2H991.8V948.5H979.6zM991.8 943.2H1004.1V948.5H991.8zM1065.5 942.1H1077.8V948.5H1065.5zM1077.8 943.2H1090.1V948.5H1077.8z" fill="#dcdcdc"/>
</g>
<line x1="132" y1="893" x2="1090" y2="893" stroke="#aaa" stroke-width="1" stroke-dasharray="4,2" fill="none"/>
<line x1="132" y1="920.5" x2="1090" y2="920.5" stroke="#aaa" stroke-width="1" stroke-dasharray="4,2" fill="none"/>
<line x1="132" y1="948.5" x2="1090" y2="948.5" stroke="#aaa" stroke-width="1" stroke-dasharray="4,2" fill="none"/>
<line x1="175.2" y1="865" x2="175.2" y2="949" stroke="#aaa" stroke-width="1" stroke-dasharray="4,2" fill="none"/>
<line x1="273.5" y1="865" x2="273.5" y2="949" stroke="#aaa" stroke-width="1" stroke-dasharray="4,2" fill="none"/>
<line x1="371.7" y1="865" x2="371.7" y2="949" stroke="#aaa" stroke-width="1" stroke-dasharray="4,2" fill="none"/>
<line x1="469.9" y1="865" x2="469.9" y2="949" stroke="#aaa" stroke-width="1" stroke-dasharray="4,2" fill="none"/>
<line x1="568.2" y1="865" x2="568.2" y2="949" stroke="#aaa" stroke-width="1" stroke-dasharray="4,2" fill="none"/>
<line x1="666.4" y1="865" x2="666.4" y2="949" stroke="#aaa" stroke-width="1" stroke-dasharray="4,2" fill="none"/>
<line x1="764.7" y1="865" x2="764.7" y2="949" stroke="#aaa" stroke-width="1" stroke-dasharray="4,2" fill="none"/>
<line x1="862.9" y1="865" x2="862.9" y2="949" stroke="#aaa" stroke-width="1" stroke-dasharray="4,2" fill="none"/>
<line x1="961.1" y1="865" x2="961.1" y2="949" stroke="#aaa" stroke-width="1" stroke-dasharray="4,2" fill="none"/>
<line x1="1059.4" y1="865" x2="1059.4" y2="949" stroke="#aaa" stroke-width="1" stroke-dasharray="4,2" fill="none"/>
<g clip-path="url(#cp8)">
<path d="M255.7 1060.2V1055h11V1060.2zM268 1060.2V1059h11V1060.2zM304.8 1060.2V1057.3h11V1060.2zM317.1 1060.2V1054h11V1060.2zM329.4 1060.2V1033.2h11V1060.2zM341.6 1060.2V1002h11V1060.2zM353.9 1060.2V1028.2h11V1060.2zM366.2 1060.2V1048.2h11V1060.2zM378.5 1060.2V1036.1h11V1060.2zM390.8 1060.2V994.8h11V1060.2zM403 1060.2V1048.9h11V1060.2zM415.3 1060.2V1059h11V1060.2zM427.6 1060.2V1058h11V1060.2zM439.9 1060.2V1059h11V1060.2zM464.4 1060.2V1048.9h11V1060.2zM476.7 1060.2V996h11V1060.2zM489 1060.2V1000h11V1060.2zM501.3 1060.2V1022h11V1060.2zM513.6 1060.2V1053.9h11V1060.2zM525.8 1060.2V1015.9h11V1060.2zM538.1 1060.2V1026.1h11V1060.2zM550.4 1060.2V966.8h11V1060.2zM562.7 1060.2V1023.9h11V1060.2zM575 1060.2V1050h11V1060.2zM587.2 1060.2V1055h11V1060.2zM599.5 1060.2V1023.9h11V1060.2zM611.8 1060.2V1010h11V1060.2zM624.1 1060.2V1036.1h11V1060.2zM636.4 1060.2V1057.3h11V1060.2zM648.6 1060.2V1059h11V1060.2zM673.2 1060.2V1016.4h11V1060.2zM685.5 1060.2V1038.4h11V1060.2zM697.8 1060.2V1034.1h11V1060.2zM710 1060.2V1028.9h11V1060.2zM722.3 1060.2V1040.2h11V1060.2zM734.6 1060.2V955h11V1060.2zM746.9 1060.2V1038.2h11V1060.2zM845.1 1060.2V1049.3h11V1060.2zM894.2 1060.2V1059h11V1060.2zM906.5 1060.2V1059h11V1060.2zM943.4 1060.2V1059h11V1060.2zM967.9 1060.2V1059h11V1060.2zM980.2 1060.2V1057.3h11V1060.2zM992.5 1060.2V1059h11V1060.2zM1029.3 1060.2V1042h11V1060.2zM1041.6 1060.2V1040.2h11V1060.2z" fill="#20d020"/><path d="M258.9 1060.2V1055h4V1060.2zM271.2 1060.2V1059h4V1060.2zM308 1060.2V1057.3h4V1060.2zM320.3 1060.2V1054h4V1060.2zM332.6 1060.2V1057.3h4V1060.2zM344.8 1060.2V1025h4V1060.2zM357.1 1060.2V1033h4V1060.2zM369.4 1060.2V1048.2h4V1060.2zM381.7 1060.2V1043h4V1060.2zM394 1060.2V1039.1h4V1060.2zM406.2 1060.2V1048.9h4V1060.2zM418.5 1060.2V1058h4V1060.2zM430.8 1060.2V1058h4V1060.2zM455.4 1060.2V1059h4V1060.2zM467.6 1060.2V1048.9h4V1060.2zM479.9 1060.2V996h4V1060.2zM492.2 1060.2V1000h4V1060.2zM504.5 1060.2V1022h4V1060.2zM516.8 1060.2V1053.9h4V1060.2zM529 1060.2V1016.4h4V1060.2zM541.3 1060.2V1026.1h4V1060.2zM553.6 1060.2V991.8h4V1060.2zM565.9 1060.2V1052h4V1060.2zM578.2 1060.2V1053.9h4V1060.2zM590.4 1060.2V1055h4V1060.2zM602.7 1060.2V1023.9h4V1060.2zM615 1060.2V1010.7h4V1060.2zM627.3 1060.2V1036.8h4V1060.2zM639.6 1060.2V1058.6h4V1060.2zM664.1 1060.2V1059h4V1060.2zM676.4 1060.2V1016.4h4V1060.2zM688.7 1060.2V1040.2h4V1060.2zM701 1060.2V1034.5h4V1060.2zM713.2 1060.2V1027.7h4V1060.2zM725.5 1060.2V1040.2h4V1060.2zM737.8 1060.2V955h4V1060.2zM750.1 1060.2V1038.2h4V1060.2zM799.2 1060.2V1059h4V1060.2zM848.3 1060.2V1050h4V1060.2zM872.9 1060.2V1059h4V1060.2zM897.4 1060.2V1058h4V1060.2zM934.3 1060.2V1059h4V1060.2zM946.6 1060.2V1059h4V1060.2zM983.4 1060.2V1059h4V1060.2zM1032.5 1060.2V1041.4h4V1060.2zM1044.8 1060.2V1040.9h4V1060.2z" fill="#f04444"/>
</g>
<line x1="132" y1="972.5" x2="1090" y2="972.5" stroke="#aaa" stroke-width="1" stroke-dasharray="4,2" fill="none"/>
<line x1="132" y1="994.3" x2="1090" y2="994.3" stroke="#aaa" stroke-width="1" stroke-dasharray="4,2" fill="none"/>
<line x1="132" y1="1016.4" x2="1090" y2="1016.4" stroke="#aaa" stroke-width="1" stroke-dasharray="4,2" fill="none"/>
<line x1="132" y1="1038.3" x2="1090" y2="1038.3" stroke="#aaa" stroke-width="1" stroke-dasharray="4,2" fill="none"/>
<line x1="175.2" y1="949" x2="175.2" y2="1060" stroke="#aaa" stroke-width="1" stroke-dasharray="4,2" fill="none"/>
<line x1="273.5" y1="949" x2="273.5" y2="1060" stroke="#aaa" stroke-width="1" stroke-dasharray="4,2" fill="none"/>
<line x1="371.7" y1="949" x2="371.7" y2="1060" stroke="#aaa" stroke-width="1" stroke-dasharray="4,2" fill="none"/>
<line x1="469.9" y1="949" x2="469.9" y2="1060" stroke="#aaa" stroke-width="1" stroke-dasharray="4,2" fill="none"/>
<line x1="568.2" y1="949" x2="568.2" y2="1060" stroke="#aaa" stroke-width="1" stroke-dasharray="4,2" fill="none"/>
<line x1="666.4" y1="949" x2="666.4" y2="1060" stroke="#aaa" stroke-width="1" stroke-dasharray="4,2" fill="none"/>
<line x1="764.7" y1="949" x2="764.7" y2="1060" stroke="#aaa" stroke-width="1" stroke-dasharray="4,2" fill="none"/>
<line x1="862.9" y1="949" x2="862.9" y2="1060" stroke="#aaa" stroke-width="1" stroke-dasharray="4,2" fill="none"/>
<line x1="961.1" y1="949" x2="961.1" y2="1060" stroke="#aaa" stroke-width="1" stroke-dasharray="4,2" fill="none"/>
<line x1="1059.4" y1="949" x2="1059.4" y2="1060" stroke="#aaa" stroke-width="1" stroke-dasharray="4,2" fill="none"/>
<text x="1085" y="965" font-size="13" text-anchor="end" fill="#000" textLength="112" lengthAdjust="spacingAndGlyphs">Run Total = 79</text>
<rect x="120.5" y="70.4" width="970" height="370" fill="none" stroke="#000" stroke-width="1.3"/>
<rect x="120.5" y="440.4" width="970" height="85" fill="none" stroke="#000" stroke-width="1.3"/>
<rect x="120.5" y="525.4" width="970" height="85" fill="none" stroke="#000" stroke-width="1.3"/>
<rect x="120.5" y="610.4" width="970" height="85" fill="none" stroke="#000" stroke-width="1.3"/>
<rect x="120.5" y="695.4" width="970" height="85" fill="none" stroke="#000" stroke-width="1.3"/>
<rect x="120.5" y="780.4" width="970" height="85" fill="none" stroke="#000" stroke-width="1.3"/>
<rect x="132.5" y="865.4" width="958" height="84" fill="none" stroke="#000" stroke-width="1.3"/>
<rect x="132.5" y="949.4" width="958" height="111" fill="none" stroke="#000" stroke-width="1.3"/>
<text x="114" y="105.7" font-size="13" text-anchor="end" fill="#000">500</text>
<text x="114" y="167.7" font-size="13" text-anchor="end" fill="#000">600</text>
<text x="114" y="229.7" font-size="13" text-anchor="end" fill="#000">700</text>
<text x="114" y="291.7" font-size="13" text-anchor="end" fill="#000">800</text>
<text x="114" y="353.7" font-size="13" text-anchor="end" fill="#000">900</text>
<text x="114" y="415.7" font-size="13" text-anchor="end" fill="#000">1000</text>
<text x="113" y="456.3" font-size="13" text-anchor="end" fill="#000">1014</text>
<text x="113" y="477.5" font-size="13" text-anchor="end" fill="#000">1011</text>
<text x="113" y="500" font-size="13" text-anchor="end" fill="#000">1008</text>
<text x="113" y="521.9" font-size="13" text-anchor="end" fill="#000">1005</text>
<text x="62" y="461.3" font-size="13" text-anchor="end" fill="#000">582</text>
<text x="62" y="483.3" font-size="13" text-anchor="end" fill="#000">580</text>
<text x="62" y="505.1" font-size="13" text-anchor="end" fill="#000">578</text>
<text x="62" y="527.1" font-size="13" text-anchor="end" fill="#000">576</text>
<text x="113" y="531.2" font-size="13" text-anchor="end" fill="#000">1656</text>
<text x="113" y="552.2" font-size="13" text-anchor="end" fill="#000">1242</text>
<text x="113" y="573.2" font-size="13" text-anchor="end" fill="#000">828</text>
<text x="113" y="594.1" font-size="13" text-anchor="end" fill="#000">414</text>
<text x="43" y="531.2" font-size="13" text-anchor="end" fill="#000">&#8722;6</text>
<text x="43" y="552.2" font-size="13" text-anchor="end" fill="#000">&#8722;3</text>
<text x="43" y="573.2" font-size="13" text-anchor="end" fill="#000">0</text>
<text x="43" y="594.1" font-size="13" text-anchor="end" fill="#000">3</text>
<text x="43" y="614.7" font-size="13" text-anchor="end" fill="#000">6</text>
<text x="113" y="628.5" font-size="13" text-anchor="end" fill="#000">6</text>
<text x="113" y="652.9" font-size="13" text-anchor="end" fill="#000">4</text>
<text x="113" y="677.2" font-size="13" text-anchor="end" fill="#000">2</text>
<text x="113" y="701.7" font-size="13" text-anchor="end" fill="#000">40</text>
<text x="113" y="723.2" font-size="13" text-anchor="end" fill="#000">32</text>
<text x="113" y="744.3" font-size="13" text-anchor="end" fill="#000">24</text>
<text x="113" y="765.2" font-size="13" text-anchor="end" fill="#000">16</text>
<text x="113" y="803.7" font-size="13" text-anchor="end" fill="#000">80</text>
<text x="113" y="820.2" font-size="13" text-anchor="end" fill="#000">60</text>
<text x="113" y="837" font-size="13" text-anchor="end" fill="#000">40</text>
<text x="113" y="853.7" font-size="13" text-anchor="end" fill="#000">20</text>
<text x="125" y="977.2" font-size="13" text-anchor="end" fill="#000">6.52</text>
<text x="125" y="999" font-size="13" text-anchor="end" fill="#000">4.89</text>
<text x="125" y="1021.1" font-size="13" text-anchor="end" fill="#000">3.26</text>
<text x="125" y="1043" font-size="13" text-anchor="end" fill="#000">1.63</text>
<text x="125" y="1064.9" font-size="13" text-anchor="end" fill="#000">0</text>
<path d="M116 101H120M116 163H120M116 225H120M116 287H120M116 349H120M116 411H120M116 451.6H120M116 472.8H120M116 495.3H120M116 517.2H120M66 456.6H70M66 478.6H70M66 500.4H70M66 522.4H70M70 440V525M116 526.5H120M116 547.5H120M116 568.5H120M116 589.4H120M46 526.5H50M46 547.5H50M46 568.5H50M46 589.4H50M46 610H50M50 525V610M116 623.8H120M116 648.2H120M116 672.5H120M116 697H120M116 718.5H120M116 739.6H120M116 760.5H120M116 799H120M116 815.5H120M116 832.3H120M116 849H120M128 893H132M128 920.5H132M128 948.5H132M128 972.5H132M128 994.3H132M128 1016.4H132M128 1038.3H132M128 1060.2H132M175.2 65V70M175.2 1060V1066M273.5 65V70M273.5 1060V1066M371.7 65V70M371.7 1060V1066M469.9 65V70M469.9 1060V1066M568.2 65V70M568.2 1060V1066M666.4 65V70M666.4 1060V1066M764.7 65V70M764.7 1060V1066M862.9 65V70M862.9 1060V1066M961.1 65V70M961.1 1060V1066M1059.4 65V70M1059.4 1060V1066" stroke="#000" stroke-width="1" fill="none" transform="translate(0.5 0.5)"/>
<text x="175.2" y="62.5" font-size="14.5" text-anchor="middle" fill="#000">7FEB</text>
<text x="175.2" y="1081" font-size="15" text-anchor="middle" fill="#000">7FEB</text>
<text x="273.5" y="62.5" font-size="14.5" text-anchor="middle" fill="#000">8FEB</text>
<text x="273.5" y="1081" font-size="15" text-anchor="middle" fill="#000">8FEB</text>
<text x="371.7" y="62.5" font-size="14.5" text-anchor="middle" fill="#000">9FEB</text>
<text x="371.7" y="1081" font-size="15" text-anchor="middle" fill="#000">9FEB</text>
<text x="469.9" y="62.5" font-size="14.5" text-anchor="middle" fill="#000">10FEB</text>
<text x="469.9" y="1081" font-size="15" text-anchor="middle" fill="#000">10FEB</text>
<text x="568.2" y="62.5" font-size="14.5" text-anchor="middle" fill="#000">11FEB</text>
<text x="568.2" y="1081" font-size="15" text-anchor="middle" fill="#000">11FEB</text>
<text x="666.4" y="62.5" font-size="14.5" text-anchor="middle" fill="#000">12FEB</text>
<text x="666.4" y="1081" font-size="15" text-anchor="middle" fill="#000">12FEB</text>
<text x="764.7" y="62.5" font-size="14.5" text-anchor="middle" fill="#000">13FEB</text>
<text x="764.7" y="1081" font-size="15" text-anchor="middle" fill="#000">13FEB</text>
<text x="862.9" y="62.5" font-size="14.5" text-anchor="middle" fill="#000">14FEB</text>
<text x="862.9" y="1081" font-size="15" text-anchor="middle" fill="#000">14FEB</text>
<text x="961.1" y="62.5" font-size="14.5" text-anchor="middle" fill="#000">15FEB</text>
<text x="961.1" y="1081" font-size="15" text-anchor="middle" fill="#000">15FEB</text>
<text x="1059.4" y="62.5" font-size="14.5" text-anchor="middle" fill="#000">16FEB</text>
<text x="1059.4" y="1081" font-size="15" text-anchor="middle" fill="#000">16FEB</text>
<text x="122" y="884.7" font-size="14" text-anchor="end" fill="#000">high</text>
<text x="122" y="913.7" font-size="14" text-anchor="end" fill="#000">middle</text>
<text x="122" y="942.2" font-size="14" text-anchor="end" fill="#000">low</text>
<text x="387.2" y="33.6" font-size="22.4" fill="#000" stroke="#000" stroke-width="0.6" style="font-family:'DejaVu Serif','Liberation Serif',serif" textLength="43" lengthAdjust="spacingAndGlyphs">GFS</text>
<text x="447.2" y="33.6" font-size="22.4" fill="#000" stroke="#000" stroke-width="0.6" style="font-family:'DejaVu Serif','Liberation Serif',serif" textLength="104.3" lengthAdjust="spacingAndGlyphs">0~10day</text>
<text x="569.5" y="33.6" font-size="22.4" fill="#000" stroke="#000" stroke-width="0.6" style="font-family:'DejaVu Serif','Liberation Serif',serif" textLength="106.6" lengthAdjust="spacingAndGlyphs">3-hourly</text>
<text x="689.8" y="33.6" font-size="22.4" fill="#000" stroke="#000" stroke-width="0.6" style="font-family:'DejaVu Serif','Liberation Serif',serif" textLength="45.3" lengthAdjust="spacingAndGlyphs">for</text>
<text x="754.6" y="33.6" font-size="22.4" fill="#000" stroke="#000" stroke-width="0.6" style="font-family:'DejaVu Serif','Liberation Serif',serif" textLength="168.2" lengthAdjust="spacingAndGlyphs">MASSANGENA</text>
<text x="933.3" y="33.6" font-size="22.4" fill="#000" stroke="#000" stroke-width="0.6" style="font-family:'DejaVu Serif','Liberation Serif',serif" textLength="66.6" lengthAdjust="spacingAndGlyphs">(33E,</text>
<text x="1010.3" y="33.6" font-size="22.4" fill="#000" stroke="#000" stroke-width="0.6" style="font-family:'DejaVu Serif','Liberation Serif',serif" textLength="65" lengthAdjust="spacingAndGlyphs">21.5S)</text>
<text x="5" y="1095" font-size="13" fill="#000" textLength="114" lengthAdjust="spacingAndGlyphs">GrADS: COLA/IGES</text>
<text transform="translate(50 225) rotate(-90)" x="0" y="0" font-size="15" text-anchor="middle" dominant-baseline="central" textLength="78" lengthAdjust="spacingAndGlyphs"><tspan fill="#ff3030">T</tspan><tspan fill="#ff8020">e</tspan><tspan fill="#f0a020">m</tspan><tspan fill="#e0d020">p</tspan><tspan fill="#a0e020">e</tspan><tspan fill="#20c020">r</tspan><tspan fill="#00c0c0">a</tspan><tspan fill="#00b8e0">t</tspan><tspan fill="#2050ff">u</tspan><tspan fill="#6030f0">r</tspan><tspan fill="#9010e0">e</tspan></text>
<text transform="translate(50 163) rotate(-90)" x="0" y="0" font-size="15" text-anchor="middle" dominant-baseline="central" textLength="25" lengthAdjust="spacingAndGlyphs"><tspan fill="#ff3030">(&#176;C)</tspan></text>
<text transform="translate(50 109) rotate(-90)" x="0" y="0" font-size="15" text-anchor="middle" dominant-baseline="central" textLength="82" lengthAdjust="spacingAndGlyphs">Wind (m/s)</text>
<text transform="translate(80 256) rotate(-90)" x="0" y="0" font-size="15" text-anchor="middle" dominant-baseline="central" textLength="132" lengthAdjust="spacingAndGlyphs">(m i l l i b a r s)</text>
<rect x="40" y="281" width="9" height="55" fill="#00e600"/><rect x="49" y="281" width="6" height="55" fill="#78d078"/><rect x="55" y="281" width="4" height="55" fill="#a8d0a8"/><rect x="59" y="281" width="4" height="55" fill="#c8d8c8"/>
<text transform="translate(51.5 308.5) rotate(-90)" x="0" y="0" font-size="14" text-anchor="middle" dominant-baseline="central" textLength="52" lengthAdjust="spacingAndGlyphs">RH (%)</text>
<text transform="translate(15.5 482) rotate(-90)" x="0" y="0" font-size="15" text-anchor="middle" dominant-baseline="central" textLength="94" lengthAdjust="spacingAndGlyphs"><tspan fill="#20c0c0">1000&#8722;500mb</tspan></text>
<text transform="translate(33 482) rotate(-90)" x="0" y="0" font-size="15" text-anchor="middle" dominant-baseline="central" textLength="94" lengthAdjust="spacingAndGlyphs"><tspan fill="#20c0c0">Thcknss (dm)</tspan></text>
<text transform="translate(80.5 482.5) rotate(-90)" x="0" y="0" font-size="15" text-anchor="middle" dominant-baseline="central" textLength="67" lengthAdjust="spacingAndGlyphs"><tspan fill="#2040ff">SLP (mb)</tspan></text>
<text transform="translate(18 567) rotate(-90)" x="0" y="0" font-size="15" text-anchor="middle" dominant-baseline="central" textLength="82" lengthAdjust="spacingAndGlyphs"><tspan fill="#ff3030">Lifted Index</tspan></text>
<text transform="translate(79.5 567.5) rotate(-90)" x="0" y="0" font-size="15" text-anchor="middle" dominant-baseline="central" textLength="87" lengthAdjust="spacingAndGlyphs"><tspan fill="#c080ff">CAPE (J/kg)</tspan></text>
<text transform="translate(15.5 652) rotate(-90)" x="0" y="0" font-size="15" text-anchor="middle" dominant-baseline="central" textLength="68" lengthAdjust="spacingAndGlyphs"><tspan fill="#ff8c1a">10m Wind</tspan></text>
<text transform="translate(35.5 654) rotate(-90)" x="0" y="0" font-size="15" text-anchor="middle" dominant-baseline="central" textLength="40" lengthAdjust="spacingAndGlyphs"><tspan fill="#ff8c1a">Speed</tspan></text>
<text transform="translate(56 652) rotate(-90)" x="0" y="0" font-size="15" text-anchor="middle" dominant-baseline="central" textLength="58" lengthAdjust="spacingAndGlyphs"><tspan fill="#907050">&amp; Barbs</tspan></text>
<text transform="translate(76 653) rotate(-90)" x="0" y="0" font-size="15" text-anchor="middle" dominant-baseline="central" textLength="42" lengthAdjust="spacingAndGlyphs">(m/s)</text>
<text transform="translate(16.5 737) rotate(-90)" x="0" y="0" font-size="15" text-anchor="middle" dominant-baseline="central" textLength="67" lengthAdjust="spacingAndGlyphs"><tspan fill="#a05030">2m Temp</tspan></text>
<text transform="translate(35.5 738) rotate(-90)" x="0" y="0" font-size="15" text-anchor="middle" dominant-baseline="central" textLength="71" lengthAdjust="spacingAndGlyphs"><tspan fill="#904828">2m DewPt</tspan></text>
<text transform="translate(55.5 738) rotate(-90)" x="0" y="0" font-size="15" text-anchor="middle" dominant-baseline="central" textLength="98" lengthAdjust="spacingAndGlyphs"><tspan fill="#904828">(6hr Min/Max)</tspan></text>
<text transform="translate(76 738) rotate(-90)" x="0" y="0" font-size="15" text-anchor="middle" dominant-baseline="central" textLength="24" lengthAdjust="spacingAndGlyphs">(&#176;C)</text>
<text transform="translate(35.5 823) rotate(-90)" x="0" y="0" font-size="15" text-anchor="middle" dominant-baseline="central" textLength="48" lengthAdjust="spacingAndGlyphs"><tspan fill="#20c020">2m RH</tspan></text>
<text transform="translate(76.5 823.5) rotate(-90)" x="0" y="0" font-size="15" text-anchor="middle" dominant-baseline="central" textLength="21" lengthAdjust="spacingAndGlyphs">(%)</text>
<text transform="translate(25 908) rotate(-90)" x="0" y="0" font-size="15" text-anchor="middle" dominant-baseline="central" textLength="84" lengthAdjust="spacingAndGlyphs"><tspan fill="#5a9fd4">Cloud Cover</tspan></text>
<text transform="translate(46 908.5) rotate(-90)" x="0" y="0" font-size="15" text-anchor="middle" dominant-baseline="central" textLength="20" lengthAdjust="spacingAndGlyphs">(%)</text>
<text transform="translate(83 989.5) rotate(-90)" x="0" y="0" font-size="15" text-anchor="middle" dominant-baseline="central" textLength="121" lengthAdjust="spacingAndGlyphs">3hr Precip (mm)</text>
<text x="69" y="977" font-size="14.5" text-anchor="end" fill="#20c820" textLength="86" lengthAdjust="spacing">Total / Rain</text>
<text x="69" y="996" font-size="14.5" text-anchor="end" fill="#ff3030">Convective</text>
</svg></body></html>
